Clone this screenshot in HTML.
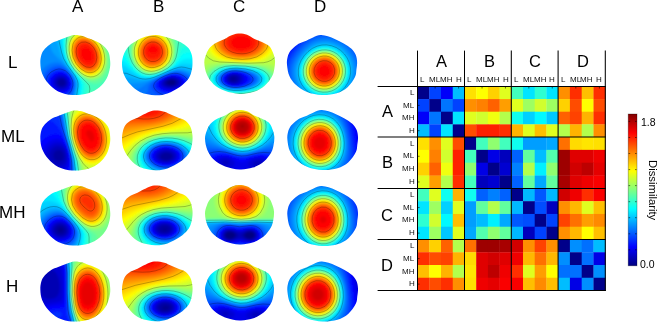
<!DOCTYPE html>
<html><head><meta charset="utf-8"><style>
html,body{margin:0;padding:0;background:#fff;}
body{width:658px;height:323px;position:relative;overflow:hidden;font-family:"Liberation Sans",sans-serif;color:#000;}
.t{position:absolute;line-height:1;white-space:nowrap;will-change:transform;}
</style></head><body>
<svg width="658" height="323" viewBox="0 0 658 323" style="position:absolute;left:0;top:0">
<defs><filter id="bl" x="-10%" y="-10%" width="120%" height="120%"><feGaussianBlur stdDeviation="0.9"/></filter><linearGradient id="cb" x1="0" y1="0" x2="0" y2="1"><stop offset="0.0000" stop-color="#800000"/><stop offset="0.1250" stop-color="#ff0000"/><stop offset="0.2500" stop-color="#ff8000"/><stop offset="0.3750" stop-color="#ffff00"/><stop offset="0.5000" stop-color="#80ff80"/><stop offset="0.6250" stop-color="#00ffff"/><stop offset="0.7500" stop-color="#0080ff"/><stop offset="0.8750" stop-color="#0000ff"/><stop offset="1.0000" stop-color="#000080"/></linearGradient></defs>
<clipPath id="c0"><path d="M74.30 35.00C76.75 34.70 78.15 35.00 80.60 35.60C83.05 36.20 86.08 37.50 89.00 38.60C91.92 39.70 95.59 40.90 98.10 42.20C100.61 43.50 102.30 44.70 104.05 46.40C105.80 48.10 107.61 50.20 108.60 52.40C109.59 54.60 109.77 57.10 110.00 59.60C110.23 62.10 110.58 64.20 110.00 67.40C109.42 70.60 108.25 75.50 106.50 78.80C104.75 82.10 102.53 84.80 99.50 87.20C96.47 89.60 92.73 91.90 88.30 93.20C83.87 94.50 77.92 95.30 72.90 95.00C67.88 94.70 62.28 93.30 58.20 91.40C54.12 89.50 51.08 86.60 48.40 83.60C45.72 80.60 43.44 76.80 42.10 73.40C40.76 70.00 40.47 66.30 40.35 63.20C40.23 60.10 40.64 57.20 41.40 54.80C42.16 52.40 43.27 50.70 44.90 48.80C46.53 46.90 48.98 44.80 51.20 43.40C53.42 42.00 55.75 41.40 58.20 40.40C60.65 39.40 63.22 38.30 65.90 37.40C68.58 36.50 71.85 35.30 74.30 35.00Z"/></clipPath>
<g clip-path="url(#c0)"><g filter="url(#bl)">
<rect x="37.0" y="32.0" width="76.0" height="66.0" fill="#00009b"/>
<path fill-rule="evenodd" fill="#0000b9" d="M113.0 98.1 37.0 98.1 36.9 32.0 113.0 31.9 113.0 98.1ZM62.1 86.3 63.7 85.9 64.7 85.0 65.4 83.7 65.4 82.0 64.7 80.4 63.5 79.3 62.0 78.8 60.3 78.9 59.0 79.5 57.9 80.7 57.4 82.0 57.5 83.3 58.2 84.7 59.3 85.7 60.7 86.2 62.1 86.3Z"/>
<path fill-rule="evenodd" fill="#0000d1" d="M113.0 98.1 37.0 98.1 36.9 32.0 113.0 31.9 113.0 98.1ZM62.2 88.3 64.3 87.8 66.2 86.3 67.2 84.3 67.2 82.0 66.3 79.7 64.7 77.9 62.3 76.9 60.0 76.9 58.0 77.7 56.2 79.3 55.3 81.3 55.2 83.3 56.0 85.3 57.7 87.1 59.7 88.0 62.2 88.3Z"/>
<path fill-rule="evenodd" fill="#0000e8" d="M113.0 98.1 37.0 98.0 37.0 32.0 113.0 31.9 113.0 98.1ZM63.9 89.7 66.4 88.3 68.1 86.0 68.7 83.0 68.0 80.0 66.2 77.3 63.7 75.7 60.7 75.2 57.7 75.9 55.2 77.7 53.8 80.0 53.3 82.7 54.0 85.3 55.7 87.6 58.0 89.2 61.0 89.9 63.9 89.7Z"/>
<path fill-rule="evenodd" fill="#0000ff" d="M113.0 98.1 37.0 98.0 37.0 32.0 113.0 31.9 113.0 98.1ZM63.3 91.3 66.7 90.0 68.8 87.7 69.8 84.3 69.8 82.3 69.3 80.4 67.5 77.0 64.7 74.7 61.3 73.8 58.0 74.2 55.0 75.7 52.7 78.3 51.7 81.3 51.9 84.7 53.5 87.7 56.3 90.0 59.7 91.3 63.3 91.3Z"/>
<path fill-rule="evenodd" fill="#0017ff" d="M113.0 98.1 37.0 98.0 37.0 32.0 113.0 31.9 113.0 98.1ZM64.1 92.7 66.0 92.0 67.7 91.0 69.0 89.6 69.9 88.0 70.6 86.0 70.9 84.0 70.7 81.7 70.1 79.7 68.0 76.0 66.3 74.4 64.7 73.4 62.7 72.6 60.7 72.3 58.7 72.5 56.7 73.1 53.3 75.1 51.9 76.7 50.8 78.3 49.9 82.0 50.5 85.7 52.5 89.0 56.0 91.6 60.0 92.8 64.1 92.7Z"/>
<path fill-rule="evenodd" fill="#002eff" d="M113.0 98.1 37.0 98.0 37.0 32.0 113.0 31.9 113.0 98.1ZM63.3 94.3 65.3 93.9 67.3 92.9 69.0 91.6 70.3 89.8 71.2 87.7 71.7 85.3 71.8 83.0 71.4 80.7 70.6 78.3 69.3 76.2 67.7 74.2 65.7 72.6 63.7 71.6 61.7 71.0 59.7 70.9 57.3 71.2 55.0 72.1 53.0 73.3 51.3 74.7 49.8 76.7 48.8 78.7 48.3 80.7 48.1 83.0 48.5 85.0 49.2 87.0 50.4 89.0 52.0 90.8 54.0 92.3 56.3 93.4 58.7 94.1 63.3 94.3Z"/>
<path fill-rule="evenodd" fill="#0046ff" d="M113.0 98.1 37.0 98.0 37.0 32.0 113.0 31.9 113.0 98.1ZM62.9 96.0 65.3 95.5 67.3 94.7 69.1 93.3 70.7 91.5 71.9 89.0 72.6 86.3 72.7 83.7 72.4 81.0 71.5 78.3 70.0 75.7 68.1 73.3 66.0 71.5 64.0 70.3 61.7 69.6 59.3 69.4 57.0 69.7 54.7 70.4 52.3 71.7 50.2 73.3 48.5 75.3 47.2 77.7 46.5 80.0 46.2 82.7 46.5 85.0 47.3 87.3 48.6 89.7 50.3 91.6 52.3 93.2 54.7 94.5 57.3 95.5 60.0 96.0 62.9 96.0Z"/>
<path fill-rule="evenodd" fill="#005dff" d="M113.0 98.1 37.0 98.0 37.0 32.0 113.0 31.9 113.0 98.1ZM64.2 97.7 66.7 96.9 68.7 95.7 70.5 94.0 72.0 91.5 73.1 88.7 73.6 85.7 73.5 82.7 72.9 79.7 71.7 76.8 69.8 74.0 67.3 71.3 65.0 69.5 62.7 68.3 60.3 67.7 57.7 67.7 55.0 68.3 52.3 69.4 49.7 71.1 47.5 73.3 45.8 75.7 44.7 78.3 44.1 81.0 44.1 83.7 44.7 86.3 45.8 89.0 47.3 91.3 49.3 93.4 52.0 95.3 55.0 96.7 58.0 97.6 61.3 97.9 64.2 97.7Z"/>
<path fill-rule="evenodd" fill="#0074ff" d="M113.0 98.1 68.8 98.0 70.3 96.6 71.7 94.8 72.9 92.3 73.8 89.7 74.5 84.3 74.3 81.7 73.7 79.3 72.7 77.0 71.0 74.3 68.7 71.4 66.3 69.1 62.3 66.5 60.3 65.8 58.0 65.6 55.3 65.8 52.7 66.6 50.0 67.9 47.3 69.8 45.2 72.0 43.6 74.3 42.3 77.0 41.6 79.7 41.4 82.3 41.6 85.0 42.3 87.7 43.5 90.3 45.1 92.7 47.0 94.7 49.3 96.5 51.9 98.0 37.0 98.0 37.0 32.0 113.0 31.9 113.0 98.1Z"/>
<path fill-rule="evenodd" fill="#008bff" d="M113.0 98.0 71.5 98.0 73.9 93.0 75.2 87.3 75.2 82.3 74.0 78.0 72.6 75.3 70.3 72.2 65.0 66.5 60.7 63.6 58.3 62.8 56.0 62.5 53.7 62.7 51.3 63.3 46.7 65.6 42.7 69.0 39.6 73.3 38.2 76.3 37.4 79.7 37.2 83.0 37.7 86.3 38.7 89.7 40.3 92.7 42.3 95.4 45.0 98.0 37.0 98.0 37.0 32.0 113.0 32.0 113.0 98.0Z"/>
<path fill-rule="evenodd" fill="#00a2ff" d="M113.0 98.0 73.5 98.0 75.3 92.0 76.2 86.7 76.1 82.3 75.1 78.7 72.7 74.2 68.0 68.2 62.3 61.9 54.6 54.7 52.3 51.7 51.1 49.3 49.9 46.0 46.3 32.0 113.0 32.0 113.0 98.0Z"/>
<path fill-rule="evenodd" fill="#00b9ff" d="M113.0 98.0 75.1 98.0 77.2 87.0 77.2 83.3 76.6 80.3 75.6 77.7 74.0 75.0 64.8 62.7 61.6 57.0 59.4 51.0 54.8 32.0 113.0 32.0 113.0 98.0Z"/>
<path fill-rule="evenodd" fill="#00d1ff" d="M113.0 98.0 76.6 98.0 78.3 87.0 78.3 83.7 77.8 81.0 75.6 76.3 67.1 64.3 63.9 58.3 62.1 52.7 57.6 32.0 113.0 32.0 113.0 98.0Z"/>
<path fill-rule="evenodd" fill="#00e8ff" d="M113.0 98.0 78.1 98.0 79.5 86.7 79.5 84.0 79.1 81.7 77.1 77.3 68.6 65.3 65.1 58.7 63.2 52.0 61.3 39.6 59.7 32.0 113.0 32.0 113.0 98.0Z"/>
<path fill-rule="evenodd" fill="#00ffff" d="M113.0 98.0 79.6 98.0 80.8 86.7 80.5 82.3 79.6 80.0 78.2 77.7 69.1 65.0 66.1 59.0 64.1 51.7 62.7 38.2 61.5 32.0 113.0 32.0 113.0 98.0Z"/>
<path fill-rule="evenodd" fill="#17ffe8" d="M113.0 98.0 81.3 98.0 82.5 87.0 82.1 83.0 81.3 81.0 79.9 78.7 70.1 65.7 66.8 59.0 65.5 54.7 64.7 50.3 63.9 36.7 63.3 32.0 113.0 32.0 113.0 98.0Z"/>
<path fill-rule="evenodd" fill="#2effd1" d="M113.0 98.0 83.4 98.0 84.7 87.3 84.6 85.3 84.1 83.3 82.1 80.0 74.7 71.1 71.2 66.3 68.4 61.3 66.6 56.3 65.7 52.0 65.2 47.3 65.2 32.0 113.0 32.0 113.0 98.0Z"/>
<path fill-rule="evenodd" fill="#46ffb9" d="M113.0 98.0 87.0 98.0 88.3 88.3 88.2 86.7 87.7 85.0 86.1 82.7 78.0 74.3 73.1 68.3 69.8 63.0 67.5 57.3 66.3 51.7 65.9 46.0 66.2 40.0 67.4 32.0 113.0 32.0 113.0 98.0Z"/>
<path fill-rule="evenodd" fill="#5dffa2" d="M97.3 83.7 94.3 83.9 91.3 83.2 88.0 81.7 84.7 79.5 80.7 76.1 76.3 71.6 73.0 67.3 70.5 63.3 68.8 59.7 67.6 56.0 66.9 52.0 66.5 47.7 66.6 43.3 67.2 39.3 68.2 35.3 69.6 32.0 98.9 32.0 103.1 36.7 106.5 42.0 109.2 48.0 110.9 54.7 111.5 61.3 110.8 68.0 108.9 73.7 107.4 76.3 105.7 78.7 103.7 80.6 101.7 82.1 99.3 83.2 97.3 83.7Z"/>
<path fill-rule="evenodd" fill="#74ff8b" d="M94.3 81.0 91.3 81.0 88.3 80.2 85.3 78.8 82.3 76.7 78.7 73.4 75.0 69.3 72.2 65.3 70.2 61.7 68.7 58.0 67.7 54.0 67.2 49.7 67.2 45.3 67.6 41.3 68.6 37.7 70.0 34.5 71.8 32.0 94.1 32.0 97.3 34.6 100.5 38.0 103.1 41.7 105.2 45.7 107.3 51.3 108.4 57.7 108.3 63.3 107.3 68.7 105.2 73.3 102.3 77.0 98.3 79.8 94.3 81.0Z"/>
<path fill-rule="evenodd" fill="#8bff74" d="M94.7 79.3 91.7 79.6 88.7 79.2 85.3 77.8 82.3 75.9 78.7 72.7 75.3 69.0 72.5 65.0 70.4 61.0 68.9 57.0 68.0 52.7 67.7 48.3 67.9 44.0 68.7 40.0 70.0 36.7 71.7 34.1 73.9 32.0 91.3 32.0 95.0 34.4 98.7 38.0 101.7 42.0 104.2 46.7 106.1 52.0 107.0 57.3 107.0 62.3 106.1 67.3 104.3 71.7 101.7 75.3 98.3 77.9 94.7 79.3Z"/>
<path fill-rule="evenodd" fill="#a2ff5d" d="M93.7 78.3 90.7 78.5 87.3 77.8 84.3 76.4 81.0 74.1 77.4 70.7 74.4 67.0 72.0 63.3 70.2 59.3 68.9 55.0 68.3 50.7 68.3 46.3 68.8 42.3 69.9 39.0 71.5 36.0 73.7 33.6 76.2 32.0 88.8 32.0 92.0 33.6 95.7 36.3 99.1 40.0 102.0 44.3 104.2 49.0 105.6 54.0 106.1 59.0 105.9 63.7 104.8 68.0 102.8 72.0 100.3 74.9 97.3 77.1 93.7 78.3Z"/>
<path fill-rule="evenodd" fill="#b9ff46" d="M93.3 77.4 90.3 77.5 87.0 76.8 84.0 75.4 80.7 73.1 77.3 69.9 74.3 66.2 72.0 62.3 70.3 58.3 69.2 54.0 68.7 49.7 68.9 45.3 69.6 41.7 71.0 38.4 72.9 35.7 75.3 33.6 78.0 32.4 79.2 32.0 85.7 32.0 89.3 33.2 93.0 35.3 96.3 38.1 99.4 41.7 101.9 45.7 103.7 50.0 104.9 54.7 105.3 59.3 105.0 63.7 103.9 67.7 102.1 71.3 99.7 74.2 96.7 76.3 93.3 77.4Z"/>
<path fill-rule="evenodd" fill="#d1ff2e" d="M92.0 76.7 89.0 76.6 86.0 75.7 83.0 74.1 79.7 71.6 76.7 68.5 74.0 65.0 72.0 61.3 70.6 57.7 69.6 53.7 69.2 49.3 69.5 45.3 70.3 41.7 71.7 38.7 73.7 36.1 76.0 34.3 78.7 33.1 82.0 32.5 85.7 32.9 89.3 34.1 93.0 36.2 96.3 39.1 99.3 42.7 101.6 46.7 103.3 51.0 104.3 55.3 104.6 60.0 104.1 64.3 102.8 68.3 100.8 71.7 98.3 74.1 95.3 75.9 92.0 76.7Z"/>
<path fill-rule="evenodd" fill="#e8ff17" d="M93.0 75.7 90.0 75.9 87.0 75.3 84.0 74.0 81.0 72.0 78.0 69.3 75.3 66.0 73.0 62.4 71.4 58.7 70.3 54.7 69.8 50.7 69.8 46.7 70.5 43.0 71.7 40.0 73.6 37.3 75.7 35.5 78.3 34.1 81.7 33.4 85.0 33.5 88.7 34.6 92.0 36.4 95.3 39.0 98.2 42.3 100.5 46.0 102.3 50.0 103.5 54.3 103.9 58.7 103.6 63.0 102.6 66.7 101.0 70.0 98.8 72.7 96.0 74.6 93.0 75.7Z"/>
<path fill-rule="evenodd" fill="#ffff00" d="M92.3 75.0 89.7 75.1 86.7 74.5 83.7 73.2 80.7 71.1 77.7 68.2 75.1 65.0 73.1 61.7 71.6 58.0 70.7 54.3 70.2 50.3 70.4 46.3 71.2 43.0 72.5 40.0 74.3 37.7 76.3 36.0 79.0 34.7 82.3 34.1 85.7 34.4 89.0 35.5 92.3 37.4 95.3 39.9 98.0 43.1 100.2 46.7 101.9 50.7 102.9 54.7 103.3 59.0 102.9 63.0 101.9 66.7 100.3 69.7 98.0 72.3 95.3 74.1 92.3 75.0Z"/>
<path fill-rule="evenodd" fill="#ffe800" d="M91.7 74.3 89.0 74.3 86.0 73.6 83.0 72.1 80.3 70.1 77.7 67.5 75.3 64.5 73.3 61.0 72.0 57.7 71.1 54.0 70.7 50.3 70.9 46.7 71.7 43.5 72.9 40.7 74.7 38.3 76.7 36.7 79.3 35.4 82.3 34.9 85.7 35.2 89.0 36.3 92.3 38.2 95.3 40.8 97.9 44.0 100.0 47.6 101.5 51.3 102.4 55.3 102.6 59.3 102.2 63.3 101.1 66.7 99.4 69.7 97.3 71.9 94.7 73.5 91.7 74.3Z"/>
<path fill-rule="evenodd" fill="#ffd100" d="M90.7 73.7 88.0 73.5 85.3 72.6 82.4 71.0 79.7 68.8 77.0 66.0 75.0 63.1 73.4 60.0 72.2 56.7 71.5 53.0 71.3 49.7 71.6 46.3 72.4 43.3 73.7 40.7 75.3 38.7 77.6 37.0 80.0 36.0 83.0 35.6 86.0 36.0 89.3 37.2 92.3 39.0 95.3 41.7 97.7 44.7 99.7 48.2 101.1 52.0 101.9 56.0 102.0 59.7 101.5 63.3 100.3 66.8 98.7 69.4 96.3 71.7 93.7 73.1 90.7 73.7Z"/>
<path fill-rule="evenodd" fill="#ffb900" d="M92.3 72.7 89.7 72.9 87.0 72.5 84.3 71.5 81.7 69.8 79.0 67.4 76.7 64.7 74.8 61.7 73.3 58.5 72.3 55.1 71.9 51.7 71.9 48.3 72.5 45.0 73.5 42.3 75.1 40.0 77.0 38.3 79.3 37.1 82.0 36.4 85.0 36.5 88.0 37.3 91.0 38.9 93.8 41.0 96.2 43.7 98.3 46.9 99.9 50.3 100.9 54.0 101.4 57.7 101.2 61.3 100.4 64.7 99.0 67.7 97.3 69.8 95.0 71.6 92.3 72.7Z"/>
<path fill-rule="evenodd" fill="#ffa200" d="M91.3 72.1 89.0 72.1 86.3 71.6 83.7 70.4 81.2 68.7 78.7 66.3 76.7 63.8 75.0 61.0 73.6 57.7 72.7 54.3 72.4 51.0 72.5 48.0 73.2 45.0 74.3 42.4 75.8 40.3 77.7 38.8 80.0 37.7 82.7 37.2 85.7 37.4 88.6 38.3 91.3 39.9 94.0 42.1 96.3 44.9 98.2 48.0 99.6 51.3 100.4 54.7 100.8 58.3 100.5 61.7 99.6 65.0 98.1 67.7 96.3 69.7 94.0 71.2 91.3 72.1Z"/>
<path fill-rule="evenodd" fill="#ff8b00" d="M90.3 71.3 88.0 71.2 85.3 70.4 83.0 69.2 80.7 67.4 78.3 65.0 76.6 62.7 75.0 59.7 73.9 56.7 73.2 53.7 73.0 50.3 73.3 47.3 74.0 44.8 75.0 42.7 76.7 40.6 78.4 39.3 80.7 38.3 83.3 38.0 86.3 38.3 89.0 39.3 91.7 41.0 94.3 43.3 96.3 46.0 98.0 49.0 99.3 52.3 99.9 55.7 100.1 59.0 99.6 62.3 98.7 65.2 97.1 67.7 95.3 69.4 93.0 70.7 90.3 71.3Z"/>
<path fill-rule="evenodd" fill="#ff7400" d="M91.0 70.4 88.7 70.4 86.3 70.0 84.0 68.9 81.7 67.4 79.5 65.3 77.6 63.0 76.0 60.3 74.7 57.3 74.0 54.3 73.7 51.3 73.8 48.7 74.4 46.0 75.3 43.8 76.7 41.9 78.4 40.3 80.5 39.3 83.0 38.8 85.7 39.0 88.3 39.9 90.9 41.3 93.3 43.3 95.3 45.8 97.0 48.5 98.3 51.6 99.1 54.7 99.4 58.0 99.1 61.0 98.3 63.9 97.1 66.3 95.3 68.3 93.3 69.6 91.0 70.4Z"/>
<path fill-rule="evenodd" fill="#ff5d00" d="M91.0 69.4 89.0 69.5 86.7 69.1 84.6 68.3 82.3 66.9 80.2 65.0 78.3 62.8 76.8 60.3 75.6 57.7 74.8 54.7 74.4 52.0 74.5 49.3 75.0 46.8 76.0 44.4 77.2 42.7 78.7 41.3 80.7 40.3 83.0 39.8 85.3 39.9 88.0 40.7 90.3 41.9 92.7 43.8 94.6 46.0 96.3 48.7 97.4 51.3 98.3 54.3 98.6 57.3 98.4 60.3 97.8 63.0 96.6 65.3 95.0 67.3 93.0 68.7 91.0 69.4Z"/>
<path fill-rule="evenodd" fill="#ff4600" d="M90.3 68.3 88.3 68.4 86.3 68.0 84.3 67.1 82.2 65.7 78.7 61.8 76.2 57.0 75.6 54.3 75.3 51.7 76.0 47.0 76.9 45.0 78.0 43.4 79.7 42.1 81.3 41.3 83.3 40.9 85.7 41.0 88.0 41.8 90.3 43.1 92.3 44.7 94.2 47.0 95.7 49.3 96.8 52.0 97.5 54.7 97.7 57.7 97.5 60.3 96.8 62.7 95.8 64.7 94.3 66.4 92.5 67.7 90.3 68.3Z"/>
<path fill-rule="evenodd" fill="#ff2e00" d="M89.7 67.0 87.8 67.0 86.0 66.5 82.3 64.3 79.1 60.7 77.1 56.3 76.4 51.7 77.0 47.6 77.9 45.7 79.0 44.3 80.3 43.3 82.0 42.5 84.0 42.2 86.0 42.4 88.0 43.1 90.2 44.3 92.0 45.9 93.7 48.0 95.9 52.7 96.6 57.7 96.3 60.2 95.7 62.3 94.7 64.1 93.1 65.7 91.3 66.6 89.7 67.0Z"/>
<path fill-rule="evenodd" fill="#ff1700" d="M90.0 65.1 86.9 65.0 83.6 63.3 80.7 60.3 78.7 56.7 77.9 52.7 78.3 49.0 79.9 46.0 82.3 44.4 84.0 44.0 85.7 44.1 87.6 44.7 89.3 45.6 92.3 48.6 94.3 52.3 95.1 56.3 94.7 60.3 92.9 63.3 91.7 64.4 90.0 65.1Z"/>
<path fill-rule="evenodd" fill="#ff0000" d="M89.3 61.1 87.3 61.2 85.3 60.3 83.3 58.4 82.0 56.2 81.3 53.7 81.3 51.1 82.3 49.0 83.7 48.0 85.7 47.7 87.8 48.3 89.8 50.0 91.3 52.3 92.1 55.0 92.0 57.9 91.0 60.0 89.3 61.1Z"/>
</g>
<path fill="none" stroke="#000" stroke-opacity="0.55" stroke-width="0.45" d="M63.7 96.3 66.3 95.6 68.3 94.5 71.3 90.9 72.9 85.7 72.9 82.7 72.3 80.0 69.7 74.8 65.3 70.7 61.0 69.1 58.7 69.0 56.0 69.5 51.0 72.0 47.5 76.0 45.9 80.7 46.2 85.7 48.5 90.3 52.7 94.0 58.0 96.1 63.7 96.3"/>
<path fill="none" stroke="#000" stroke-opacity="0.55" stroke-width="0.45" d="M76.3 98.0 78.0 86.7 78.0 83.3 77.5 80.7 75.2 76.0 66.8 64.3 63.5 58.3 61.6 52.3 57.0 32.0"/>
<path fill="none" stroke="#000" stroke-opacity="0.55" stroke-width="0.45" d="M88.5 98.0 89.9 89.0 89.3 85.7 87.5 83.3 78.7 74.8 74.0 69.3 70.3 63.7 67.7 57.7 66.4 52.0 66.0 45.7 66.5 39.3 67.9 32.0"/>
<path fill="none" stroke="#000" stroke-opacity="0.55" stroke-width="0.45" d="M93.3 76.7 90.3 76.9 87.3 76.4 84.3 75.1 81.0 72.9 77.7 69.8 74.8 66.3 72.5 62.7 70.8 58.7 69.7 54.7 69.1 50.3 69.2 46.0 69.9 42.3 71.3 39.0 73.0 36.5 75.3 34.4 78.0 33.1 81.3 32.4 85.0 32.5 88.7 33.6 92.3 35.5 95.7 38.2 98.8 41.7 101.3 45.7 103.2 50.0 104.3 54.3 104.8 59.0 104.5 63.3 103.4 67.3 101.7 70.8 99.3 73.6 96.7 75.5 93.3 76.7"/>
<path fill="none" stroke="#000" stroke-opacity="0.55" stroke-width="0.45" d="M91.0 72.7 88.3 72.6 85.7 71.9 80.5 68.7 76.0 63.5 73.0 57.1 72.0 50.3 72.9 44.3 74.0 41.9 75.7 39.7 77.7 38.1 80.0 37.0 83.0 36.6 86.0 36.9 89.0 37.9 91.9 39.7 94.7 42.1 97.0 45.0 98.9 48.3 100.2 51.7 101.0 55.3 101.3 59.0 100.9 62.3 99.9 65.7 98.3 68.4 96.3 70.5 93.8 72.0 91.0 72.7"/>
<path fill="none" stroke="#000" stroke-opacity="0.55" stroke-width="0.45" d="M90.0 67.4 86.3 67.0 82.7 65.0 79.3 61.5 77.0 56.9 76.1 52.0 76.6 47.7 78.7 44.1 81.7 42.2 85.7 42.0 90.0 43.8 93.5 47.3 96.0 52.0 96.9 57.3 96.0 62.3 93.7 65.7 92.0 66.8 90.0 67.4"/>
</g>
<clipPath id="c1"><path d="M74.30 110.50C76.75 110.20 78.15 110.50 80.60 111.10C83.05 111.70 86.08 113.00 89.00 114.10C91.92 115.20 95.59 116.40 98.10 117.70C100.61 119.00 102.30 120.20 104.05 121.90C105.80 123.60 107.61 125.70 108.60 127.90C109.59 130.10 109.77 132.60 110.00 135.10C110.23 137.60 110.58 139.70 110.00 142.90C109.42 146.10 108.25 151.00 106.50 154.30C104.75 157.60 102.53 160.30 99.50 162.70C96.47 165.10 92.73 167.40 88.30 168.70C83.87 170.00 77.92 170.80 72.90 170.50C67.88 170.20 62.28 168.80 58.20 166.90C54.12 165.00 51.08 162.10 48.40 159.10C45.72 156.10 43.44 152.30 42.10 148.90C40.76 145.50 40.47 141.80 40.35 138.70C40.23 135.60 40.64 132.70 41.40 130.30C42.16 127.90 43.27 126.20 44.90 124.30C46.53 122.40 48.98 120.30 51.20 118.90C53.42 117.50 55.75 116.90 58.20 115.90C60.65 114.90 63.22 113.80 65.90 112.90C68.58 112.00 71.85 110.80 74.30 110.50Z"/></clipPath>
<g clip-path="url(#c1)"><g filter="url(#bl)">
<rect x="37.0" y="107.5" width="76.0" height="66.0" fill="#0000a0"/>
<path fill-rule="evenodd" fill="#0000b9" d="M113.0 173.6 37.0 173.5 37.0 107.5 113.0 107.4 113.0 173.6ZM60.4 161.2 62.2 160.2 63.3 158.6 63.8 156.5 63.5 154.2 62.6 152.2 61.0 150.6 59.3 149.9 57.3 150.1 55.3 151.2 54.0 152.8 53.3 154.8 53.5 157.2 54.6 159.2 56.2 160.5 58.3 161.3 60.4 161.2Z"/>
<path fill-rule="evenodd" fill="#0000d1" d="M113.0 173.6 37.0 173.5 37.0 107.5 113.0 107.4 113.0 173.6ZM61.1 165.2 62.7 164.6 64.0 163.7 65.6 161.2 66.2 157.5 65.7 153.5 64.3 149.8 62.0 147.1 59.3 146.0 56.3 146.1 53.0 147.8 50.5 150.5 49.2 154.2 49.4 157.8 51.0 161.2 53.8 163.8 57.3 165.2 59.3 165.4 61.1 165.2Z"/>
<path fill-rule="evenodd" fill="#0000e8" d="M113.0 173.6 37.0 173.5 37.0 107.5 113.0 107.4 113.0 173.6ZM60.5 168.8 62.7 168.3 64.3 167.5 65.7 166.3 66.6 164.8 67.3 162.8 67.7 160.5 67.5 155.2 66.0 149.8 64.7 147.1 63.3 145.1 62.0 143.8 60.3 142.9 58.3 142.5 56.3 142.6 54.0 143.2 51.7 144.4 49.7 145.9 47.9 147.8 46.6 150.2 45.8 152.5 45.5 154.8 45.6 157.5 46.2 159.8 47.3 162.2 48.7 164.2 50.7 166.0 53.0 167.4 55.3 168.3 58.0 168.9 60.5 168.8Z"/>
<path fill-rule="evenodd" fill="#0000ff" d="M113.0 173.6 37.0 173.5 37.0 107.5 113.0 107.4 113.0 173.6ZM61.2 172.5 63.3 172.0 65.3 170.9 66.7 169.5 67.8 167.5 68.6 164.8 68.9 161.5 68.9 158.2 68.4 154.5 67.3 150.5 66.0 147.0 64.7 144.3 63.0 141.8 61.3 140.2 59.7 139.3 57.3 138.8 55.0 139.0 52.0 139.9 49.0 141.5 46.3 143.8 44.4 146.2 42.8 149.2 41.8 152.2 41.5 155.2 41.8 158.5 42.6 161.5 44.2 164.5 46.3 167.2 48.7 169.2 51.7 171.0 54.7 172.1 58.0 172.6 61.2 172.5Z"/>
<path fill-rule="evenodd" fill="#0017ff" d="M113.0 173.6 67.6 173.5 69.2 169.5 69.9 164.2 69.7 158.2 68.7 152.5 66.7 146.2 63.7 139.8 61.0 136.3 59.7 135.3 58.0 134.5 55.3 134.1 52.0 134.7 48.3 136.1 45.1 138.2 42.3 140.7 40.0 143.5 38.2 146.8 37.0 150.2 37.0 107.5 113.0 107.4 113.0 173.6ZM46.0 173.5 37.0 173.5 37.0 160.8 38.3 164.5 40.3 167.8 42.8 170.8 46.0 173.5Z"/>
<path fill-rule="evenodd" fill="#002eff" d="M113.0 173.6 70.2 173.5 70.8 163.8 70.0 155.4 67.3 145.9 62.7 134.8 60.0 130.0 56.7 125.5 53.7 122.5 50.7 120.7 48.0 120.2 45.0 120.6 41.3 122.0 37.0 124.4 37.0 107.5 113.0 107.4 113.0 173.6Z"/>
<path fill-rule="evenodd" fill="#0046ff" d="M113.0 173.6 71.6 173.5 71.5 162.2 70.3 154.2 68.3 147.0 61.2 125.5 59.5 118.8 57.3 107.5 113.1 107.5 113.0 173.6Z"/>
<path fill-rule="evenodd" fill="#005dff" d="M113.0 173.6 72.7 173.5 72.1 162.5 71.1 155.5 69.7 149.6 63.8 130.2 59.2 107.5 113.1 107.5 113.0 173.6Z"/>
<path fill-rule="evenodd" fill="#0074ff" d="M113.0 173.6 73.5 173.5 72.7 162.5 71.8 156.2 65.2 132.5 60.4 107.5 113.1 107.5 113.0 173.6Z"/>
<path fill-rule="evenodd" fill="#008bff" d="M113.0 173.6 74.2 173.5 73.3 162.8 72.4 156.8 66.2 133.8 61.3 107.5 113.1 107.5 113.0 173.6Z"/>
<path fill-rule="evenodd" fill="#00a2ff" d="M113.0 173.6 74.8 173.5 73.0 157.8 66.9 134.5 62.0 107.5 113.1 107.5 113.0 173.6Z"/>
<path fill-rule="evenodd" fill="#00b9ff" d="M113.0 173.6 75.4 173.5 73.6 158.5 67.5 135.5 62.7 107.5 113.1 107.5 113.0 173.6Z"/>
<path fill-rule="evenodd" fill="#00d1ff" d="M113.0 173.6 76.0 173.5 74.2 159.2 68.1 136.2 63.3 107.5 113.1 107.5 113.0 173.6Z"/>
<path fill-rule="evenodd" fill="#00e8ff" d="M113.0 173.5 76.5 173.5 74.5 158.5 69.8 141.5 68.2 134.5 63.9 107.5 113.0 107.5 113.0 173.5Z"/>
<path fill-rule="evenodd" fill="#00ffff" d="M113.0 173.5 77.0 173.5 75.1 159.2 70.2 141.8 68.7 135.2 66.3 118.2 64.4 107.5 113.0 107.5 113.0 173.5Z"/>
<path fill-rule="evenodd" fill="#17ffe8" d="M113.0 173.5 77.6 173.5 75.6 159.5 70.8 142.8 69.1 135.5 66.7 117.5 65.0 107.5 113.0 107.5 113.0 173.5Z"/>
<path fill-rule="evenodd" fill="#2effd1" d="M113.0 173.5 78.2 173.5 76.2 160.2 71.3 143.2 69.5 135.8 67.2 116.8 65.6 107.5 113.0 107.5 113.0 173.5Z"/>
<path fill-rule="evenodd" fill="#46ffb9" d="M113.0 173.5 78.8 173.5 76.9 160.8 71.8 143.8 70.0 136.2 69.0 129.5 67.7 116.5 66.2 107.5 113.0 107.5 113.0 173.5Z"/>
<path fill-rule="evenodd" fill="#5dffa2" d="M113.0 173.5 79.5 173.5 77.8 161.8 72.3 144.6 70.4 136.5 69.3 129.5 68.2 115.5 66.9 107.5 113.0 107.5 113.0 173.5Z"/>
<path fill-rule="evenodd" fill="#74ff8b" d="M113.0 173.5 80.3 173.5 79.5 166.5 78.6 162.5 73.0 145.7 70.7 136.5 69.6 128.8 68.8 114.8 67.7 107.5 113.0 107.5 113.0 173.5Z"/>
<path fill-rule="evenodd" fill="#8bff74" d="M113.0 173.5 81.3 173.5 80.6 167.5 79.8 163.8 73.7 146.7 71.1 136.8 70.1 129.2 69.5 114.5 68.6 107.5 113.0 107.5 113.0 173.5Z"/>
<path fill-rule="evenodd" fill="#a2ff5d" d="M113.0 173.5 82.8 173.5 82.3 168.8 81.5 165.5 74.7 148.6 72.8 142.5 71.5 137.2 70.4 127.8 70.4 113.2 69.9 107.5 113.0 107.5 113.0 173.5Z"/>
<path fill-rule="evenodd" fill="#b9ff46" d="M113.0 173.5 85.6 173.5 85.2 170.5 84.5 168.2 79.0 157.8 75.7 150.2 73.5 143.8 72.0 137.8 71.0 131.5 70.7 125.2 72.1 107.5 113.0 107.5 113.0 173.5Z"/>
<path fill-rule="evenodd" fill="#d1ff2e" d="M96.7 168.5 93.3 168.8 90.0 168.1 87.0 166.5 84.3 164.2 81.7 160.9 79.0 156.5 76.7 151.6 74.3 145.3 72.7 139.3 71.7 133.8 71.2 128.2 71.3 122.8 72.0 117.7 73.1 113.5 74.7 110.2 76.9 107.5 96.7 107.6 101.3 111.1 105.5 115.8 108.8 121.2 111.4 127.5 113.0 134.0 113.0 147.9 111.4 153.8 108.9 159.2 105.3 163.7 101.3 166.7 96.7 168.5Z"/>
<path fill-rule="evenodd" fill="#e8ff17" d="M94.3 165.5 90.7 165.4 87.3 164.3 84.3 162.3 81.7 159.4 79.0 155.3 76.3 149.7 74.1 143.2 72.6 137.2 71.8 131.5 71.7 126.2 72.1 121.2 73.2 116.8 74.9 113.5 77.0 111.1 80.0 109.2 83.3 108.1 87.3 107.9 91.7 108.8 96.0 110.8 100.0 113.8 103.6 117.8 106.6 122.5 108.8 127.8 110.3 133.2 111.0 138.8 110.8 144.5 109.8 149.8 107.9 154.8 105.1 159.2 102.0 162.3 98.3 164.5 94.3 165.5Z"/>
<path fill-rule="evenodd" fill="#ffff00" d="M95.0 163.5 91.3 163.8 88.0 163.0 85.0 161.4 82.3 158.9 79.7 155.3 77.3 150.9 75.0 144.9 73.3 138.8 72.4 133.2 72.1 127.8 72.5 122.8 73.5 118.8 75.0 115.7 77.3 113.0 80.0 111.2 83.3 110.0 87.3 109.8 91.3 110.5 95.3 112.3 99.0 115.0 102.2 118.5 105.1 122.8 107.2 127.5 108.8 132.8 109.5 138.2 109.5 143.2 108.6 148.5 107.1 152.8 104.8 156.8 102.0 160.0 98.7 162.3 95.0 163.5Z"/>
<path fill-rule="evenodd" fill="#ffe800" d="M94.3 162.2 91.0 162.3 87.7 161.5 84.7 159.8 82.0 157.3 79.3 153.6 77.0 149.0 75.0 143.6 73.6 138.2 72.8 133.2 72.6 128.2 73.0 123.5 74.0 119.8 75.5 116.8 77.7 114.4 80.3 112.6 83.7 111.4 87.3 111.2 91.3 111.9 95.0 113.6 98.5 116.2 101.6 119.5 104.2 123.5 106.3 128.2 107.8 133.2 108.4 138.2 108.4 143.2 107.6 147.8 106.0 152.2 103.9 155.8 101.0 159.0 98.0 161.0 94.3 162.2Z"/>
<path fill-rule="evenodd" fill="#ffd100" d="M92.0 161.2 88.7 160.7 85.7 159.4 83.0 157.3 80.7 154.5 78.3 150.6 76.3 146.1 74.7 141.0 73.5 135.5 73.1 130.8 73.2 126.5 73.8 122.8 75.0 119.6 76.7 117.0 79.0 114.8 81.7 113.4 84.7 112.5 88.3 112.5 92.0 113.4 95.7 115.3 99.0 118.1 102.0 121.7 104.4 125.8 106.2 130.5 107.2 135.2 107.6 140.2 107.1 145.2 106.0 149.5 104.1 153.5 101.7 156.8 98.7 159.2 95.3 160.7 92.0 161.2Z"/>
<path fill-rule="evenodd" fill="#ffb900" d="M94.0 159.8 90.7 160.0 87.7 159.2 85.0 157.8 82.3 155.5 80.0 152.4 77.7 148.0 75.9 143.5 74.5 138.5 73.7 133.5 73.6 129.2 74.0 125.2 74.9 121.8 76.5 118.8 78.6 116.5 81.1 114.8 84.0 113.8 87.3 113.5 90.7 114.1 94.0 115.5 97.3 117.8 100.2 120.8 102.7 124.5 104.6 128.5 106.0 133.2 106.6 137.5 106.6 142.2 105.9 146.5 104.6 150.5 102.7 153.9 100.1 156.8 97.3 158.7 94.0 159.8Z"/>
<path fill-rule="evenodd" fill="#ffa200" d="M93.3 158.8 90.3 158.9 87.3 158.0 84.7 156.5 82.2 154.2 80.0 151.2 78.0 147.5 76.2 142.8 74.9 137.8 74.2 133.5 74.1 129.5 74.5 125.8 75.5 122.5 77.0 119.7 79.0 117.5 81.5 115.8 84.3 114.9 87.7 114.6 91.0 115.3 94.3 116.8 97.3 119.1 100.0 122.0 102.3 125.6 104.1 129.5 105.3 133.8 105.9 138.2 105.8 142.5 105.0 146.8 103.6 150.5 101.7 153.7 99.3 156.2 96.3 158.0 93.3 158.8Z"/>
<path fill-rule="evenodd" fill="#ff8b00" d="M92.7 157.8 89.7 157.7 87.0 156.8 84.3 155.1 82.0 152.8 80.0 150.0 78.0 146.1 76.3 141.6 75.3 137.2 74.7 132.8 74.7 129.2 75.2 125.8 76.2 122.8 77.7 120.4 79.8 118.2 82.3 116.6 85.0 115.8 88.0 115.7 91.3 116.4 94.3 117.9 97.3 120.3 99.9 123.2 102.0 126.7 103.6 130.5 104.6 134.5 105.1 138.8 104.9 142.8 104.1 146.8 102.7 150.2 100.8 153.2 98.3 155.6 95.7 157.1 92.7 157.8Z"/>
<path fill-rule="evenodd" fill="#ff7400" d="M93.7 156.6 90.7 156.8 88.0 156.2 85.3 154.8 83.1 152.8 81.0 150.2 79.0 146.8 77.3 142.7 76.1 138.5 75.4 134.5 75.3 130.5 75.7 127.2 76.6 124.2 78.0 121.5 79.8 119.5 82.0 118.0 84.7 117.0 87.7 116.7 90.7 117.3 93.7 118.6 96.2 120.5 98.7 123.0 100.8 126.2 102.5 129.8 103.6 133.5 104.2 137.5 104.2 141.5 103.6 145.2 102.5 148.5 100.8 151.5 98.8 153.8 96.3 155.6 93.7 156.6Z"/>
<path fill-rule="evenodd" fill="#ff5d00" d="M93.0 155.5 90.3 155.6 88.0 155.0 85.7 153.8 83.3 151.8 81.3 149.3 79.3 145.8 77.7 141.8 76.7 138.0 76.1 134.2 76.0 130.8 76.3 127.8 77.3 124.8 78.7 122.3 80.3 120.5 82.7 118.9 85.0 118.1 87.7 117.9 90.7 118.4 93.3 119.6 95.9 121.5 98.3 124.1 100.2 126.8 101.7 130.2 102.8 133.8 103.4 137.5 103.4 141.2 102.8 144.8 101.7 148.0 100.0 150.9 98.0 153.1 95.7 154.7 93.0 155.5Z"/>
<path fill-rule="evenodd" fill="#ff4600" d="M93.3 154.2 91.0 154.4 88.3 153.9 86.0 152.7 84.0 151.1 82.0 148.7 80.3 145.8 78.7 142.2 77.5 138.5 76.9 135.2 76.8 131.8 77.0 128.8 77.8 126.2 79.0 123.7 80.7 121.7 82.7 120.3 85.0 119.3 87.7 119.1 90.3 119.5 92.7 120.5 95.1 122.2 97.3 124.4 99.3 127.2 100.8 130.2 101.8 133.5 102.4 136.8 102.5 140.5 102.0 143.8 101.1 146.8 99.7 149.5 98.0 151.5 95.9 153.2 93.3 154.2Z"/>
<path fill-rule="evenodd" fill="#ff2e00" d="M92.7 152.9 90.3 152.9 88.3 152.4 86.0 151.2 84.1 149.5 82.3 147.3 80.7 144.5 79.3 141.3 78.3 137.8 77.7 131.8 78.0 129.2 78.8 126.5 80.0 124.4 81.7 122.6 83.7 121.3 85.7 120.6 88.0 120.5 90.3 120.9 92.7 121.9 95.0 123.6 97.0 125.7 98.7 128.2 100.0 131.2 101.0 134.5 101.4 137.5 101.4 140.8 100.9 143.8 100.0 146.5 98.6 148.8 96.8 150.8 94.8 152.2 92.7 152.9Z"/>
<path fill-rule="evenodd" fill="#ff1700" d="M92.0 151.2 90.0 151.1 88.0 150.5 86.0 149.2 84.3 147.6 81.3 143.0 79.3 137.0 78.9 131.8 79.3 129.5 80.0 127.4 81.0 125.6 82.3 124.1 84.0 123.0 86.0 122.3 88.0 122.1 90.3 122.5 92.7 123.6 94.7 125.2 96.4 127.2 97.9 129.5 99.0 131.9 99.8 134.8 100.2 137.8 100.1 140.5 99.7 143.2 98.7 145.8 97.3 148.0 95.9 149.5 94.0 150.6 92.0 151.2Z"/>
<path fill-rule="evenodd" fill="#ff0000" d="M92.7 148.5 91.0 148.7 89.3 148.4 87.7 147.7 86.2 146.5 83.3 142.7 81.3 137.8 80.7 133.2 81.3 129.4 82.3 127.5 83.3 126.2 84.7 125.2 86.3 124.6 88.0 124.4 90.0 124.7 93.3 126.6 96.1 129.8 97.9 134.2 98.5 138.8 97.7 143.3 95.7 146.6 94.3 147.8 92.7 148.5Z"/>
<path fill-rule="evenodd" fill="#e80000" d="M92.7 141.2 91.3 141.4 90.0 140.6 86.7 135.2 86.1 133.5 86.2 132.2 86.7 131.1 87.7 130.2 89.3 130.0 91.0 130.6 92.4 131.8 93.6 133.8 94.2 136.2 94.3 138.2 93.7 140.1 92.7 141.2Z"/>
</g>
<path fill="none" stroke="#000" stroke-opacity="0.55" stroke-width="0.45" d="M71.9 173.5 71.7 162.6 70.7 155.1 69.0 148.7 61.8 126.2 57.9 107.5"/>
<path fill="none" stroke="#000" stroke-opacity="0.55" stroke-width="0.45" d="M75.8 173.5 74.0 158.8 67.9 135.5 63.2 107.5"/>
<path fill="none" stroke="#000" stroke-opacity="0.55" stroke-width="0.45" d="M79.0 173.5 77.2 161.2 72.0 144.2 70.0 136.2 67.8 116.2 66.4 107.5"/>
<path fill="none" stroke="#000" stroke-opacity="0.55" stroke-width="0.45" d="M113.0 155.2 110.5 160.5 107.0 165.1 103.0 168.3 98.7 170.3 94.7 170.7 90.7 169.8 87.0 167.5 83.3 163.7 79.3 157.5 76.0 150.2 73.3 142.2 71.6 134.2 71.1 126.5 71.5 119.2 73.0 112.6 75.3 107.5M100.1 107.5 104.1 111.2 107.8 115.8 110.8 121.2 113.0 126.7"/>
<path fill="none" stroke="#000" stroke-opacity="0.55" stroke-width="0.45" d="M94.0 159.6 90.7 159.7 87.7 159.0 85.0 157.5 82.3 155.2 80.0 152.1 78.0 148.5 76.0 143.5 74.7 138.6 73.9 133.8 73.7 129.5 74.1 125.5 75.0 122.2 76.6 119.2 78.6 116.8 81.1 115.2 84.0 114.1 87.3 113.8 90.7 114.4 94.0 115.8 97.3 118.1 100.2 121.2 102.6 124.8 104.5 128.8 105.8 133.2 106.4 137.8 106.4 142.2 105.7 146.5 104.3 150.5 102.4 153.8 100.0 156.5 97.0 158.6 94.0 159.6"/>
<path fill="none" stroke="#000" stroke-opacity="0.55" stroke-width="0.45" d="M93.0 153.2 90.7 153.3 88.4 152.8 84.3 150.2 80.7 145.0 78.1 138.2 77.5 131.8 78.5 126.5 79.7 124.3 81.3 122.4 83.3 121.0 85.3 120.3 87.7 120.1 90.3 120.5 92.7 121.5 95.0 123.2 98.8 127.8 101.1 133.8 101.7 140.5 100.3 146.4 99.0 148.9 97.3 150.8 95.3 152.3 93.0 153.2"/>
</g>
<clipPath id="c2"><path d="M74.30 185.50C76.75 185.20 78.15 185.50 80.60 186.10C83.05 186.70 86.08 188.00 89.00 189.10C91.92 190.20 95.59 191.40 98.10 192.70C100.61 194.00 102.30 195.20 104.05 196.90C105.80 198.60 107.61 200.70 108.60 202.90C109.59 205.10 109.77 207.60 110.00 210.10C110.23 212.60 110.58 214.70 110.00 217.90C109.42 221.10 108.25 226.00 106.50 229.30C104.75 232.60 102.53 235.30 99.50 237.70C96.47 240.10 92.73 242.40 88.30 243.70C83.87 245.00 77.92 245.80 72.90 245.50C67.88 245.20 62.28 243.80 58.20 241.90C54.12 240.00 51.08 237.10 48.40 234.10C45.72 231.10 43.44 227.30 42.10 223.90C40.76 220.50 40.47 216.80 40.35 213.70C40.23 210.60 40.64 207.70 41.40 205.30C42.16 202.90 43.27 201.20 44.90 199.30C46.53 197.40 48.98 195.30 51.20 193.90C53.42 192.50 55.75 191.90 58.20 190.90C60.65 189.90 63.22 188.80 65.90 187.90C68.58 187.00 71.85 185.80 74.30 185.50Z"/></clipPath>
<g clip-path="url(#c2)"><g filter="url(#bl)">
<rect x="37.0" y="182.5" width="76.0" height="66.0" fill="#00008d"/>
<path fill-rule="evenodd" fill="#0000a2" d="M113.0 248.6 37.0 248.6 36.9 182.5 113.0 182.4 113.0 248.6ZM62.1 232.5 63.0 231.8 63.5 230.8 63.5 229.5 63.0 228.4 62.0 227.6 60.7 227.3 59.3 227.5 58.3 228.0 57.7 228.8 57.4 229.8 58.0 231.6 59.0 232.4 60.0 232.8 62.1 232.5Z"/>
<path fill-rule="evenodd" fill="#0000b9" d="M113.0 248.6 37.0 248.6 36.9 182.5 113.0 182.4 113.0 248.6ZM62.2 235.2 64.3 234.2 65.8 232.5 66.3 230.5 65.8 228.2 64.3 226.3 62.3 225.1 60.0 224.8 57.7 225.3 56.0 226.5 54.9 228.2 54.5 229.8 54.9 231.8 56.1 233.5 58.0 234.8 60.0 235.3 62.2 235.2Z"/>
<path fill-rule="evenodd" fill="#0000d1" d="M113.0 248.6 37.0 248.6 36.9 182.5 113.0 182.4 113.0 248.6ZM63.0 236.8 65.7 235.5 67.6 233.2 68.1 230.5 67.4 227.5 65.3 224.9 62.7 223.4 59.3 223.1 56.3 223.9 54.3 225.5 52.8 227.8 52.5 230.5 53.2 232.8 55.0 235.1 57.3 236.5 60.0 237.1 63.0 236.8Z"/>
<path fill-rule="evenodd" fill="#0000e8" d="M113.0 248.6 37.0 248.6 36.9 182.5 113.0 182.4 113.0 248.6ZM62.5 238.5 66.0 237.2 68.5 234.8 69.2 233.2 69.6 231.5 69.1 228.2 67.1 224.8 64.0 222.5 60.3 221.5 56.7 222.1 53.7 223.8 51.7 226.2 50.7 229.2 51.2 232.5 53.0 235.5 55.7 237.4 59.0 238.5 62.5 238.5Z"/>
<path fill-rule="evenodd" fill="#0000ff" d="M113.0 248.6 37.0 248.6 36.9 182.5 113.0 182.4 113.0 248.6ZM63.1 239.8 65.0 239.3 67.0 238.3 68.7 236.9 69.7 235.5 70.5 233.8 70.9 231.8 70.8 229.8 70.3 227.8 69.3 225.8 67.7 223.8 66.0 222.3 64.0 221.1 62.0 220.4 60.0 220.2 57.7 220.4 55.7 220.9 52.3 223.0 50.0 226.0 49.1 229.5 49.7 233.2 51.7 236.3 55.0 238.7 59.0 239.9 63.1 239.8Z"/>
<path fill-rule="evenodd" fill="#0017ff" d="M113.0 248.6 37.0 248.5 36.9 182.5 113.0 182.4 113.0 248.6ZM63.3 241.2 65.7 240.5 67.7 239.5 69.4 238.2 70.7 236.5 71.6 234.5 72.1 232.2 72.0 230.0 71.4 227.8 70.3 225.5 68.7 223.4 66.7 221.5 64.3 220.0 62.0 219.1 59.7 218.9 57.3 219.1 55.0 219.7 53.0 220.7 51.0 222.2 48.5 225.5 47.8 227.5 47.5 229.5 47.6 231.5 48.2 233.5 49.2 235.5 50.5 237.2 54.0 239.8 56.3 240.7 58.7 241.2 63.3 241.2Z"/>
<path fill-rule="evenodd" fill="#002eff" d="M113.0 248.6 37.0 248.5 37.0 182.5 113.0 182.4 113.0 248.6ZM63.4 242.5 66.0 241.8 68.3 240.7 70.2 239.2 71.6 237.5 72.7 235.3 73.2 232.8 73.1 230.5 72.6 228.2 71.3 225.5 69.3 222.9 67.0 220.6 64.7 219.0 62.3 218.0 60.0 217.6 57.3 217.7 54.7 218.4 52.3 219.5 50.3 220.9 48.5 222.8 47.2 224.8 46.4 226.8 46.0 229.2 46.1 231.5 46.7 233.8 47.7 235.8 49.2 237.8 51.0 239.5 53.3 241.0 55.7 241.9 58.3 242.5 61.0 242.7 63.4 242.5Z"/>
<path fill-rule="evenodd" fill="#0046ff" d="M113.0 248.6 37.0 248.5 37.0 182.5 113.0 182.4 113.0 248.6ZM63.7 243.8 66.7 243.0 69.0 241.9 71.0 240.3 72.5 238.5 73.6 236.2 74.2 233.5 74.2 230.8 73.5 228.2 72.0 225.2 70.0 222.5 67.3 219.8 64.7 217.9 62.3 216.8 59.7 216.3 57.0 216.4 54.0 217.2 51.7 218.2 49.3 219.8 47.3 221.8 45.8 224.2 44.9 226.5 44.4 229.2 44.5 231.8 45.2 234.2 46.3 236.5 48.0 238.8 50.0 240.6 52.3 242.0 55.0 243.2 58.0 243.9 61.0 244.1 63.7 243.8Z"/>
<path fill-rule="evenodd" fill="#005dff" d="M113.0 248.6 37.0 248.5 37.0 182.5 113.0 182.4 113.0 248.6ZM64.2 245.2 67.0 244.4 69.7 243.1 72.0 241.2 73.6 239.2 74.8 236.5 75.3 233.8 75.2 230.8 74.5 228.2 72.9 225.2 70.3 221.8 67.3 218.8 64.3 216.6 61.7 215.4 59.0 215.0 56.0 215.2 53.0 216.0 50.3 217.3 47.8 219.2 45.7 221.5 44.2 223.8 43.2 226.5 42.8 229.2 43.0 232.2 43.7 234.8 45.1 237.5 46.9 239.8 49.0 241.7 51.7 243.3 54.7 244.5 57.7 245.2 61.0 245.5 64.2 245.2Z"/>
<path fill-rule="evenodd" fill="#0074ff" d="M113.0 248.6 37.0 248.5 37.0 182.5 113.0 182.4 113.0 248.6ZM63.2 246.8 66.3 246.2 69.3 245.0 72.0 243.2 73.9 241.2 75.3 238.5 76.2 235.5 76.4 232.5 75.8 229.5 74.3 226.2 71.8 222.5 68.0 218.4 64.7 215.7 62.0 214.3 59.3 213.7 56.3 213.7 53.3 214.3 50.3 215.5 47.3 217.5 45.0 219.7 43.2 222.2 41.8 225.2 41.1 228.2 41.1 231.2 41.6 234.2 42.9 237.2 44.7 239.8 47.0 242.1 49.7 244.0 53.0 245.6 56.3 246.5 59.7 247.0 63.2 246.8Z"/>
<path fill-rule="evenodd" fill="#008bff" d="M113.0 248.6 63.1 248.5 66.3 247.9 69.3 246.9 72.0 245.3 74.0 243.4 75.7 240.8 76.8 237.8 77.4 234.5 77.3 231.5 76.4 228.5 74.5 225.2 71.7 221.4 68.0 217.5 65.3 215.2 62.7 213.4 60.0 212.4 57.3 212.1 54.0 212.4 50.3 213.7 47.0 215.5 44.3 217.8 42.1 220.5 40.4 223.5 39.4 226.8 39.1 230.2 39.5 233.5 40.6 236.8 42.4 239.8 44.7 242.4 47.7 244.8 51.0 246.6 54.7 247.9 58.3 248.5 37.0 248.5 37.0 182.5 113.0 182.4 113.0 248.6Z"/>
<path fill-rule="evenodd" fill="#00a2ff" d="M113.0 248.5 70.2 248.5 72.3 247.2 74.3 245.5 75.7 243.8 76.9 241.5 77.8 238.8 78.4 235.8 78.4 233.2 78.0 230.5 77.1 228.2 75.5 225.5 70.0 218.7 64.3 213.3 62.0 211.8 59.7 210.8 56.3 210.4 52.3 210.9 48.7 212.3 45.0 214.5 42.0 217.2 39.5 220.5 37.9 224.2 37.0 228.1 37.0 182.5 113.0 182.5 113.0 248.5ZM50.3 248.5 37.0 248.5 37.0 231.8 38.3 236.8 41.1 241.5 45.0 245.3 50.3 248.5Z"/>
<path fill-rule="evenodd" fill="#00b9ff" d="M113.0 248.5 74.1 248.5 76.9 244.8 78.8 240.2 79.6 234.5 78.8 230.2 76.0 225.2 70.0 217.9 64.0 211.9 61.7 210.2 59.7 209.2 57.0 208.5 54.0 208.4 50.7 209.1 47.3 210.3 44.3 212.0 41.3 214.4 39.0 216.8 37.0 219.7 37.0 182.5 113.0 182.5 113.0 248.5ZM45.0 248.5 37.0 248.5 37.0 240.1 40.3 244.5 42.7 246.6 45.3 248.5 45.0 248.5Z"/>
<path fill-rule="evenodd" fill="#00d1ff" d="M113.0 248.5 77.1 248.5 79.2 243.8 80.5 238.2 80.6 233.5 79.6 229.8 76.3 224.5 68.7 215.7 62.7 209.5 58.7 206.8 56.3 206.0 53.7 205.7 51.0 205.9 48.0 206.6 45.0 207.9 42.1 209.5 39.4 211.5 37.0 213.8 37.0 182.5 113.0 182.5 113.0 248.5ZM39.3 248.5 37.0 248.5 37.0 246.0 39.6 248.5 39.3 248.5Z"/>
<path fill-rule="evenodd" fill="#00e8ff" d="M113.0 248.5 79.6 248.5 81.0 242.8 81.8 237.2 81.7 233.5 80.9 230.5 79.2 227.5 76.4 223.8 61.7 206.9 59.0 204.6 56.3 202.9 53.0 201.7 49.7 201.1 46.3 201.2 43.3 201.9 40.0 203.3 37.0 205.1 37.0 182.5 113.0 182.5 113.0 248.5Z"/>
<path fill-rule="evenodd" fill="#00ffff" d="M113.0 248.5 81.8 248.5 83.2 236.2 82.9 233.2 81.8 230.2 78.8 225.8 67.7 212.8 59.7 202.3 53.1 194.5 50.1 189.5 46.9 182.5 113.0 182.5 113.0 248.5Z"/>
<path fill-rule="evenodd" fill="#17ffe8" d="M113.0 248.5 83.9 248.5 84.7 236.2 84.4 233.8 83.6 231.5 81.0 227.5 69.7 214.5 64.6 207.5 60.5 200.2 52.1 182.5 113.0 182.5 113.0 248.5Z"/>
<path fill-rule="evenodd" fill="#2effd1" d="M113.0 248.5 86.1 248.5 86.4 236.5 86.1 234.5 85.5 232.5 82.8 228.5 70.4 214.5 65.6 207.8 62.8 202.2 59.0 191.1 55.4 182.5 113.0 182.5 113.0 248.5Z"/>
<path fill-rule="evenodd" fill="#46ffb9" d="M113.0 248.5 88.4 248.5 88.2 244.5 88.5 236.8 87.8 233.5 85.4 230.2 72.1 215.8 66.6 208.2 64.9 204.8 63.5 201.2 60.7 188.8 58.3 182.5 113.0 182.5 113.0 248.5Z"/>
<path fill-rule="evenodd" fill="#5dffa2" d="M113.0 248.5 91.5 248.5 91.2 244.5 91.4 237.2 91.2 235.5 90.5 233.8 88.9 231.8 80.7 224.4 74.1 217.5 69.1 211.2 66.1 205.8 64.8 202.5 63.8 198.8 62.6 186.8 61.5 182.5 113.0 182.5 113.0 248.5Z"/>
<path fill-rule="evenodd" fill="#74ff8b" d="M113.0 248.5 96.9 248.5 96.7 244.8 97.0 237.5 96.2 234.8 94.4 233.2 87.3 229.0 82.0 224.8 76.0 218.9 70.7 212.5 66.9 206.2 65.6 202.8 64.8 199.5 64.4 192.5 65.3 182.5 113.0 182.5 113.0 248.5Z"/>
<path fill-rule="evenodd" fill="#8bff74" d="M98.0 230.2 95.0 230.3 91.7 229.7 88.3 228.3 84.7 226.1 80.7 222.9 76.3 218.6 72.3 213.9 69.5 209.8 67.7 206.5 66.4 203.2 65.7 199.8 65.3 196.2 65.5 192.2 66.2 188.5 67.3 185.2 68.8 182.5 99.4 182.5 103.5 186.5 106.8 191.2 109.8 197.2 111.5 203.5 112.0 209.8 111.2 215.8 109.3 221.2 106.3 225.5 104.3 227.4 102.3 228.7 100.3 229.6 98.0 230.2Z"/>
<path fill-rule="evenodd" fill="#a2ff5d" d="M95.3 228.5 92.3 228.4 89.3 227.7 86.0 226.1 82.7 223.8 78.7 220.3 74.7 216.0 71.4 211.8 69.0 207.8 67.5 204.5 66.6 200.8 66.2 197.5 66.3 193.8 66.9 190.5 68.2 187.2 69.7 184.7 71.7 182.5 95.2 182.5 98.3 184.8 101.3 187.8 103.8 190.8 106.0 194.5 108.1 199.8 109.3 205.2 109.4 210.8 108.4 216.2 106.4 220.8 103.3 224.7 99.7 227.3 97.7 228.1 95.3 228.5Z"/>
<path fill-rule="evenodd" fill="#b9ff46" d="M95.0 227.2 92.0 227.2 89.0 226.6 85.7 225.1 82.3 222.8 78.3 219.2 74.3 214.8 71.3 210.8 69.1 206.8 67.9 203.5 67.1 199.8 66.9 196.2 67.4 192.5 68.5 189.2 70.0 186.6 72.0 184.3 74.4 182.5 92.2 182.5 96.0 184.8 99.7 188.0 102.8 191.8 105.2 196.2 107.1 201.2 107.9 206.2 107.9 211.5 106.8 216.2 104.7 220.5 102.0 223.8 98.7 226.1 95.0 227.2Z"/>
<path fill-rule="evenodd" fill="#d1ff2e" d="M93.7 226.2 90.7 226.1 87.3 225.1 84.3 223.5 81.0 221.0 77.0 217.1 73.4 212.8 70.7 208.8 69.0 205.2 68.1 201.8 67.7 198.2 67.9 194.5 68.8 191.2 70.0 188.5 72.0 186.0 74.3 184.0 77.3 182.5 89.0 182.5 93.3 184.4 97.0 187.0 100.4 190.5 103.2 194.5 105.2 198.8 106.5 203.5 106.9 208.2 106.5 212.8 105.3 216.8 103.2 220.5 100.4 223.5 97.3 225.3 93.7 226.2Z"/>
<path fill-rule="evenodd" fill="#e8ff17" d="M93.7 225.2 90.7 225.1 87.7 224.4 84.7 222.9 81.7 220.8 78.0 217.4 74.3 213.2 71.7 209.5 69.9 205.8 68.9 202.5 68.4 199.2 68.5 195.8 69.2 192.5 70.6 189.5 72.3 187.1 74.7 185.1 77.3 183.7 81.0 182.7 85.0 182.7 89.0 183.6 92.7 185.2 96.3 187.7 99.5 190.8 102.1 194.5 104.1 198.5 105.5 203.2 105.9 207.5 105.7 211.8 104.6 215.8 102.6 219.5 100.0 222.4 97.0 224.3 93.7 225.2Z"/>
<path fill-rule="evenodd" fill="#ffff00" d="M93.7 224.2 91.0 224.3 88.0 223.7 85.0 222.3 82.0 220.3 78.3 216.9 75.0 213.2 72.4 209.5 70.6 205.8 69.6 202.8 69.1 199.5 69.2 196.2 69.9 193.2 71.0 190.5 72.7 188.2 75.0 186.1 77.7 184.7 81.3 183.7 85.0 183.7 88.7 184.4 92.3 186.0 95.7 188.3 98.7 191.2 101.1 194.5 103.2 198.5 104.5 202.8 105.1 207.2 104.8 211.2 103.8 215.2 102.1 218.5 99.7 221.3 96.9 223.2 93.7 224.2Z"/>
<path fill-rule="evenodd" fill="#ffe800" d="M93.7 223.2 91.0 223.4 88.0 222.8 85.3 221.7 82.3 219.7 79.0 216.8 75.7 213.1 73.1 209.5 71.3 206.1 70.3 203.1 69.8 199.8 69.9 196.8 70.5 193.8 71.7 191.2 73.3 188.9 75.3 187.1 78.0 185.6 81.3 184.7 84.7 184.6 88.3 185.3 91.7 186.7 95.0 188.8 98.0 191.7 100.4 194.8 102.3 198.6 103.6 202.5 104.2 206.5 104.0 210.5 103.2 214.2 101.6 217.5 99.3 220.3 96.7 222.2 93.7 223.2Z"/>
<path fill-rule="evenodd" fill="#ffd100" d="M94.0 222.2 91.3 222.5 88.7 222.1 86.0 221.1 83.0 219.3 79.7 216.5 76.7 213.3 74.0 209.8 72.2 206.5 71.1 203.5 70.6 200.5 70.6 197.5 71.1 194.8 72.1 192.2 73.7 189.9 75.7 188.0 78.0 186.6 81.0 185.7 84.3 185.5 87.7 186.0 91.0 187.3 94.1 189.2 97.0 191.8 99.4 194.8 101.3 198.3 102.7 202.1 103.3 205.8 103.3 209.5 102.6 213.2 101.3 216.2 99.3 218.9 97.0 220.9 94.0 222.2Z"/>
<path fill-rule="evenodd" fill="#ffb900" d="M92.0 221.5 89.7 221.4 87.0 220.7 84.3 219.3 81.7 217.4 78.7 214.5 76.0 211.4 74.0 208.5 72.4 205.2 71.6 202.5 71.3 199.5 71.5 196.8 72.2 194.2 73.4 191.8 75.0 189.8 77.0 188.3 79.3 187.2 82.3 186.5 85.7 186.5 89.0 187.4 92.0 188.8 94.8 190.8 97.4 193.5 99.7 196.8 101.2 200.2 102.2 203.8 102.6 207.5 102.2 210.8 101.3 214.2 99.6 217.2 97.3 219.4 94.7 220.9 92.0 221.5Z"/>
<path fill-rule="evenodd" fill="#ffa200" d="M91.3 220.5 89.0 220.3 86.6 219.5 84.0 218.1 81.5 216.2 76.3 210.6 74.3 207.5 73.1 204.8 72.4 202.2 72.1 199.5 72.3 197.0 73.0 194.6 74.1 192.5 75.7 190.6 77.5 189.2 79.7 188.1 82.7 187.4 85.7 187.5 88.7 188.2 91.7 189.6 94.3 191.5 96.9 194.2 98.9 197.2 100.5 200.5 101.4 203.8 101.7 207.5 101.3 210.8 100.3 213.9 98.8 216.5 96.7 218.6 94.0 220.0 91.3 220.5Z"/>
<path fill-rule="evenodd" fill="#ff8b00" d="M92.7 219.2 90.3 219.4 88.0 218.9 85.7 217.9 83.4 216.5 80.7 214.2 78.0 211.3 76.0 208.6 74.5 205.8 73.6 203.5 73.1 200.8 73.1 198.5 73.5 196.2 74.3 194.2 75.7 192.2 77.3 190.6 79.3 189.4 82.0 188.6 84.7 188.4 87.3 188.8 90.3 190.0 93.0 191.6 95.3 193.7 97.3 196.2 99.0 199.2 100.1 202.2 100.7 205.5 100.7 208.8 100.0 211.8 98.9 214.5 97.0 216.8 95.0 218.3 92.7 219.2Z"/>
<path fill-rule="evenodd" fill="#ff7400" d="M92.7 217.9 90.7 218.1 88.7 217.8 86.3 217.0 84.0 215.5 79.0 210.9 77.0 208.3 75.6 205.8 74.7 203.5 74.2 201.2 74.2 198.8 74.5 196.8 75.3 194.8 76.4 193.2 78.0 191.6 79.7 190.6 82.0 189.8 84.3 189.6 87.0 189.9 89.7 190.8 92.0 192.2 94.3 194.2 96.3 196.5 98.0 199.4 99.0 202.2 99.6 205.2 99.6 208.2 99.2 210.8 98.1 213.5 96.7 215.4 94.7 217.0 92.7 217.9Z"/>
<path fill-rule="evenodd" fill="#ff5d00" d="M92.7 216.2 91.0 216.5 89.0 216.3 87.0 215.6 85.1 214.5 80.3 210.3 77.0 205.7 75.6 201.8 75.7 197.8 77.2 194.5 78.4 193.2 80.0 192.0 82.0 191.3 84.3 191.0 86.7 191.2 89.0 191.9 91.2 193.2 93.3 194.8 95.1 196.8 96.6 199.2 97.7 201.8 98.3 204.5 98.4 207.2 98.1 209.5 97.3 211.9 96.1 213.8 94.7 215.2 92.7 216.2Z"/>
<path fill-rule="evenodd" fill="#ff4600" d="M91.0 214.2 88.0 213.6 85.0 211.8 80.8 207.8 78.3 204.2 77.4 200.8 77.6 197.8 79.0 195.3 81.4 193.5 83.0 193.0 85.0 192.8 87.0 193.1 89.1 193.8 92.8 196.5 94.3 198.4 95.5 200.5 96.4 202.8 96.8 205.2 96.7 207.5 96.3 209.5 95.3 211.5 94.2 212.8 92.7 213.8 91.0 214.2Z"/>
<path fill-rule="evenodd" fill="#ff2e00" d="M91.3 209.2 90.0 209.2 88.3 208.3 82.3 202.5 81.6 201.2 81.3 199.5 81.7 198.2 82.9 196.8 85.0 196.1 87.7 196.4 90.0 197.7 92.0 199.8 93.3 202.5 93.7 205.5 93.0 208.0 92.3 208.7 91.3 209.2Z"/>
</g>
<path fill="none" stroke="#000" stroke-opacity="0.55" stroke-width="0.45" d="M63.8 244.2 66.7 243.4 69.2 242.2 71.3 240.5 72.9 238.5 73.9 236.2 74.5 233.5 74.5 230.8 73.8 228.2 72.3 225.2 70.0 222.2 67.0 219.2 64.3 217.4 62.0 216.4 59.3 216.0 56.7 216.1 53.7 216.9 48.8 219.8 45.4 224.2 44.0 229.2 44.7 234.2 45.8 236.5 47.6 238.8 52.0 242.3 57.7 244.2 63.8 244.2"/>
<path fill="none" stroke="#000" stroke-opacity="0.55" stroke-width="0.45" d="M76.4 248.5 78.5 244.5 80.0 239.2 80.4 234.5 79.6 230.5 77.7 226.8 74.5 222.5 67.7 214.8 62.7 209.8 60.0 208.0 57.0 206.8 53.7 206.5 50.3 206.9 46.7 208.1 43.0 210.1 39.8 212.5 37.0 215.4M37.0 244.5 41.2 248.5"/>
<path fill="none" stroke="#000" stroke-opacity="0.55" stroke-width="0.45" d="M89.1 248.5 89.1 237.2 88.5 233.8 86.1 230.5 72.8 216.5 66.7 208.2 63.7 201.2 61.2 188.5 59.1 182.5"/>
<path fill="none" stroke="#000" stroke-opacity="0.55" stroke-width="0.45" d="M89.9 182.5 93.3 184.1 96.3 186.1 101.5 191.5 105.2 198.2 106.5 202.2 107.1 205.8 107.1 209.8 106.6 213.5 105.6 216.8 104.0 219.8 102.0 222.4 99.7 224.4 97.0 225.7 94.0 226.4 91.0 226.4 87.7 225.4 84.7 223.9 81.3 221.4 77.3 217.7 73.7 213.5 71.0 209.5 69.1 205.8 68.1 202.5 67.5 198.8 67.6 195.2 68.3 191.7 69.6 188.8 71.4 186.2 73.7 184.1 76.6 182.5"/>
<path fill="none" stroke="#000" stroke-opacity="0.55" stroke-width="0.45" d="M92.7 221.2 90.3 221.2 87.7 220.7 82.3 217.6 76.3 211.6 72.7 205.5 71.5 199.8 72.3 194.5 73.4 192.2 75.0 190.2 79.0 187.5 82.0 186.8 85.0 186.7 88.3 187.4 91.3 188.7 94.3 190.7 96.9 193.2 99.1 196.2 100.8 199.5 101.9 203.2 102.3 206.8 102.1 210.2 101.3 213.5 99.7 216.5 97.7 218.8 95.3 220.4 92.7 221.2"/>
<path fill="none" stroke="#000" stroke-opacity="0.55" stroke-width="0.45" d="M92.0 210.9 90.0 211.1 87.7 210.1 83.3 206.3 81.0 203.6 80.0 201.4 79.8 199.2 80.6 197.2 82.0 195.8 84.7 194.9 87.7 195.3 90.5 196.8 92.9 199.5 94.5 202.8 94.8 206.2 94.0 209.1 92.0 210.9"/>
</g>
<clipPath id="c3"><path d="M74.30 261.50C76.75 261.20 78.15 261.50 80.60 262.10C83.05 262.70 86.08 264.00 89.00 265.10C91.92 266.20 95.59 267.40 98.10 268.70C100.61 270.00 102.30 271.20 104.05 272.90C105.80 274.60 107.61 276.70 108.60 278.90C109.59 281.10 109.77 283.60 110.00 286.10C110.23 288.60 110.58 290.70 110.00 293.90C109.42 297.10 108.25 302.00 106.50 305.30C104.75 308.60 102.53 311.30 99.50 313.70C96.47 316.10 92.73 318.40 88.30 319.70C83.87 321.00 77.92 321.80 72.90 321.50C67.88 321.20 62.28 319.80 58.20 317.90C54.12 316.00 51.08 313.10 48.40 310.10C45.72 307.10 43.44 303.30 42.10 299.90C40.76 296.50 40.47 292.80 40.35 289.70C40.23 286.60 40.64 283.70 41.40 281.30C42.16 278.90 43.27 277.20 44.90 275.30C46.53 273.40 48.98 271.30 51.20 269.90C53.42 268.50 55.75 267.90 58.20 266.90C60.65 265.90 63.22 264.80 65.90 263.90C68.58 263.00 71.85 261.80 74.30 261.50Z"/></clipPath>
<g clip-path="url(#c3)"><g filter="url(#bl)">
<rect x="37.0" y="258.5" width="76.0" height="66.0" fill="#0000b3"/>
<path fill-rule="evenodd" fill="#0000d1" d="M113.0 324.6 37.0 324.5 37.0 258.5 113.0 258.4 113.0 324.6ZM52.0 298.8 54.2 298.2 56.0 297.2 57.3 296.0 58.3 294.5 59.5 290.5 59.6 284.5 58.5 278.2 56.3 273.3 55.0 271.7 53.3 270.4 51.7 269.8 50.0 269.6 48.0 270.1 46.0 271.4 44.3 273.2 43.0 275.5 41.7 278.5 41.0 281.5 40.6 284.8 40.6 288.5 41.7 293.8 42.7 295.8 43.8 297.2 45.3 298.3 47.3 298.9 49.7 299.1 52.0 298.8Z"/>
<path fill-rule="evenodd" fill="#0000e8" d="M37.0 262.8 37.0 258.5 40.2 258.5 37.0 262.8ZM113.0 324.6 37.0 324.5 37.0 303.2 39.7 304.0 43.3 304.2 48.1 303.8 54.1 302.8 58.0 301.9 60.0 301.1 61.3 299.9 62.2 298.2 62.7 295.2 63.0 289.5 63.0 282.2 62.6 276.8 60.7 266.6 59.3 262.4 57.5 258.5 113.1 258.5 113.0 324.6Z"/>
<path fill-rule="evenodd" fill="#0000ff" d="M113.0 324.6 45.3 324.5 42.1 322.5 39.7 320.2 38.4 317.5 38.3 314.8 39.2 312.5 41.3 310.3 44.6 308.5 48.7 307.1 53.3 306.0 61.3 304.8 62.7 304.0 63.7 302.5 64.4 297.2 64.5 278.5 64.0 271.4 62.1 258.5 113.1 258.5 113.0 324.6Z"/>
<path fill-rule="evenodd" fill="#0017ff" d="M113.0 324.6 69.0 324.5 67.7 322.2 66.0 321.0 64.3 320.9 58.3 322.3 54.0 322.3 51.3 321.7 49.2 320.8 47.3 319.6 46.0 318.2 45.2 316.5 45.2 314.5 46.2 312.5 48.0 310.9 50.7 309.6 54.0 308.7 63.0 308.1 64.3 307.2 65.0 305.6 65.6 300.2 65.6 277.5 65.0 269.5 63.7 258.5 113.1 258.5 113.0 324.6Z"/>
<path fill-rule="evenodd" fill="#002eff" d="M113.0 324.6 70.6 324.5 69.3 320.8 66.6 315.2 66.0 313.2 66.5 304.2 66.3 276.5 65.9 269.8 64.7 258.5 113.1 258.5 113.0 324.6ZM57.7 318.2 54.7 318.2 52.3 317.2 51.2 315.5 51.7 313.8 53.5 312.5 56.0 311.9 58.7 312.0 61.0 313.1 62.0 314.5 61.7 315.8 60.0 317.4 57.7 318.2Z"/>
<path fill-rule="evenodd" fill="#0046ff" d="M113.0 324.6 71.5 324.5 68.5 314.5 67.7 310.2 66.9 293.5 66.9 273.8 65.4 258.5 113.1 258.5 113.0 324.6Z"/>
<path fill-rule="evenodd" fill="#005dff" d="M113.0 324.6 72.2 324.5 69.2 313.2 68.4 307.5 67.5 293.5 67.4 272.5 66.1 258.5 113.1 258.5 113.0 324.6Z"/>
<path fill-rule="evenodd" fill="#0074ff" d="M113.0 324.6 72.8 324.5 69.8 312.5 68.6 303.8 67.9 292.2 67.9 272.2 66.6 258.5 113.1 258.5 113.0 324.6Z"/>
<path fill-rule="evenodd" fill="#008bff" d="M113.0 324.6 73.4 324.5 70.2 311.5 68.9 301.8 68.3 291.2 68.3 271.8 67.1 258.5 113.1 258.5 113.0 324.6Z"/>
<path fill-rule="evenodd" fill="#00a2ff" d="M113.0 324.6 73.9 324.5 70.6 310.8 69.2 300.8 68.7 290.8 68.7 271.2 67.6 258.5 113.1 258.5 113.0 324.6Z"/>
<path fill-rule="evenodd" fill="#00b9ff" d="M113.0 324.5 74.3 324.5 71.0 310.5 69.6 300.2 69.0 290.2 69.1 270.8 68.1 258.5 113.0 258.5 113.0 324.5Z"/>
<path fill-rule="evenodd" fill="#00d1ff" d="M113.0 324.5 74.8 324.5 71.4 310.8 69.9 299.8 69.3 289.5 69.5 270.2 68.6 258.5 113.0 258.5 113.0 324.5Z"/>
<path fill-rule="evenodd" fill="#00e8ff" d="M113.0 324.5 75.2 324.5 71.7 310.5 70.1 299.2 69.6 288.8 69.9 269.5 69.1 258.5 113.0 258.5 113.0 324.5Z"/>
<path fill-rule="evenodd" fill="#00ffff" d="M113.0 324.5 75.6 324.5 72.1 310.5 70.4 298.8 69.9 288.2 70.3 268.8 69.6 258.5 113.0 258.5 113.0 324.5Z"/>
<path fill-rule="evenodd" fill="#17ffe8" d="M113.0 324.5 76.1 324.5 72.4 310.5 70.7 298.5 70.2 287.5 70.8 267.8 70.1 258.5 113.0 258.5 113.0 324.5Z"/>
<path fill-rule="evenodd" fill="#2effd1" d="M113.0 324.5 76.5 324.5 72.8 310.5 70.9 297.8 70.5 286.2 71.3 266.8 70.8 258.5 113.0 258.5 113.0 324.5Z"/>
<path fill-rule="evenodd" fill="#46ffb9" d="M113.0 324.5 77.0 324.5 73.1 310.5 72.0 304.2 71.2 297.5 70.8 286.8 71.8 266.8 71.5 258.5 113.0 258.5 113.0 324.5Z"/>
<path fill-rule="evenodd" fill="#5dffa2" d="M113.0 324.5 77.6 324.5 75.0 316.6 73.4 310.5 72.2 303.8 71.4 296.5 71.1 284.5 72.6 265.2 72.5 258.5 113.0 258.5 113.0 324.5Z"/>
<path fill-rule="evenodd" fill="#74ff8b" d="M113.0 324.5 78.2 324.5 75.6 317.2 73.7 310.5 72.4 303.2 71.6 295.2 71.3 288.2 71.6 280.8 73.7 262.5 73.9 258.5 113.0 258.5 113.0 324.5Z"/>
<path fill-rule="evenodd" fill="#8bff74" d="M113.0 324.5 78.9 324.5 76.0 317.3 73.9 309.8 72.4 301.2 71.7 291.8 71.8 282.5 72.7 273.7 74.3 265.5 76.8 258.5 113.0 258.5 113.0 324.5Z"/>
<path fill-rule="evenodd" fill="#a2ff5d" d="M99.7 324.5 79.8 324.5 77.0 318.8 74.5 311.2 72.9 302.5 72.0 292.8 72.0 283.5 72.9 274.8 74.3 268.7 76.3 264.0 79.0 260.8 81.0 259.4 83.0 258.5 92.4 258.5 95.7 260.0 98.3 262.0 101.7 265.5 104.6 269.8 106.9 274.8 108.7 280.5 109.9 286.5 110.3 292.8 110.1 298.8 109.2 305.2 107.8 310.5 105.5 316.2 102.8 320.8 99.7 324.5Z"/>
<path fill-rule="evenodd" fill="#b9ff46" d="M96.3 324.5 81.0 324.5 78.7 321.1 76.7 316.8 75.0 311.8 73.6 305.5 72.5 296.5 72.2 287.8 72.7 279.5 73.9 272.5 75.7 267.7 78.0 264.3 81.3 261.7 85.3 260.3 89.0 260.2 92.7 261.1 96.3 263.1 99.7 266.1 102.5 269.8 104.8 274.2 106.8 279.5 108.1 285.2 108.8 291.2 108.8 296.8 108.1 302.8 106.7 308.5 104.9 313.5 102.4 318.2 99.3 322.1 96.3 324.5Z"/>
<path fill-rule="evenodd" fill="#d1ff2e" d="M93.7 324.5 82.8 324.5 80.3 322.3 78.0 318.7 76.0 313.8 74.3 307.6 73.2 300.5 72.5 292.5 72.6 284.8 73.3 277.8 74.6 272.2 76.5 268.2 79.0 265.1 82.3 263.0 86.0 261.9 89.7 262.0 93.3 263.1 96.7 265.2 99.9 268.5 102.6 272.5 104.8 277.2 106.4 282.5 107.4 287.8 107.8 293.5 107.5 299.5 106.5 305.2 104.9 310.5 102.7 315.2 100.0 319.2 97.0 322.3 93.7 324.5Z"/>
<path fill-rule="evenodd" fill="#e8ff17" d="M89.0 324.5 85.3 324.3 82.3 322.9 80.0 320.7 77.7 316.9 75.7 311.8 74.3 306.0 73.3 298.8 72.8 291.5 72.9 284.8 73.5 279.2 74.5 274.5 76.0 270.6 78.0 267.7 80.7 265.4 84.0 263.8 87.3 263.2 91.0 263.7 94.7 265.3 98.0 268.0 100.8 271.5 103.2 275.8 105.2 281.2 106.4 286.8 106.9 292.5 106.7 298.2 105.8 304.2 104.2 309.5 102.1 314.2 99.4 318.2 96.3 321.3 92.7 323.5 89.0 324.5Z"/>
<path fill-rule="evenodd" fill="#ffff00" d="M89.7 323.2 86.3 323.2 83.0 322.1 80.3 320.0 78.3 317.1 76.4 312.5 75.0 307.5 73.8 300.5 73.2 293.2 73.1 286.8 73.6 280.8 74.6 275.8 76.0 272.2 78.0 269.1 80.7 266.7 83.7 265.1 87.0 264.4 90.7 264.8 94.0 266.2 97.3 268.8 100.0 272.0 102.4 276.2 104.2 280.8 105.5 286.2 106.1 291.8 106.0 297.5 105.2 303.2 103.8 308.2 101.8 312.8 99.3 316.7 96.3 319.9 93.0 322.1 89.7 323.2Z"/>
<path fill-rule="evenodd" fill="#ffe800" d="M88.7 322.2 85.3 321.9 82.3 320.6 80.0 318.5 78.0 315.3 76.3 311.2 74.9 305.5 73.9 298.5 73.4 291.5 73.5 285.8 74.0 280.8 75.0 276.4 76.4 272.8 78.3 270.1 81.0 267.7 84.0 266.2 87.3 265.6 90.7 266.0 94.0 267.5 97.3 270.2 100.0 273.5 102.1 277.5 103.8 282.2 104.9 287.5 105.4 292.8 105.2 298.2 104.4 303.5 102.9 308.5 100.9 312.8 98.3 316.5 95.3 319.4 92.0 321.4 88.7 322.2Z"/>
<path fill-rule="evenodd" fill="#ffd100" d="M90.0 320.9 86.7 321.1 83.7 320.3 81.0 318.4 78.7 315.5 77.0 311.8 75.6 307.2 74.5 300.8 73.8 294.2 73.7 288.2 74.1 282.8 75.0 278.2 76.3 274.5 78.3 271.3 80.7 269.1 83.7 267.4 87.0 266.7 90.3 267.0 93.3 268.2 96.3 270.4 99.0 273.5 101.1 277.2 102.9 281.5 104.1 286.5 104.7 291.5 104.6 296.8 104.0 301.8 102.8 306.5 101.0 310.8 98.7 314.7 96.0 317.7 93.0 319.8 90.0 320.9Z"/>
<path fill-rule="evenodd" fill="#ffb900" d="M90.0 319.8 86.7 320.1 83.7 319.2 81.0 317.4 79.0 314.8 77.3 311.4 75.9 306.8 74.8 300.8 74.2 294.5 74.1 288.8 74.4 283.5 75.3 278.9 76.7 275.3 78.7 272.2 81.0 270.0 84.0 268.3 87.0 267.7 90.0 268.0 93.0 269.1 96.0 271.3 98.4 274.2 100.6 277.8 102.2 281.8 103.4 286.5 104.0 291.5 104.0 296.5 103.4 301.5 102.2 306.2 100.5 310.2 98.3 313.8 96.0 316.5 93.0 318.7 90.0 319.8Z"/>
<path fill-rule="evenodd" fill="#ffa200" d="M89.7 318.9 86.7 319.0 83.7 318.2 81.0 316.3 79.0 313.7 77.3 310.1 76.0 305.5 75.1 299.8 74.5 294.2 74.5 288.8 74.8 283.8 75.7 279.7 77.0 276.2 79.0 273.1 81.3 270.9 84.0 269.4 87.0 268.7 90.0 269.0 93.0 270.2 95.7 272.2 98.0 274.9 100.1 278.5 101.7 282.5 102.8 287.2 103.4 291.8 103.3 296.5 102.7 301.2 101.6 305.5 100.0 309.5 97.8 313.2 95.3 315.9 92.7 317.8 89.7 318.9Z"/>
<path fill-rule="evenodd" fill="#ff8b00" d="M89.3 317.9 86.3 317.9 83.7 317.1 81.3 315.4 79.3 312.8 77.7 309.5 76.3 304.9 75.4 299.2 74.9 293.5 74.9 288.2 75.3 283.7 76.3 279.5 77.6 276.5 79.7 273.6 82.0 271.6 84.7 270.2 87.3 269.8 90.3 270.2 93.0 271.4 95.7 273.5 97.9 276.2 99.8 279.5 101.3 283.5 102.3 287.8 102.7 292.2 102.6 296.8 102.1 301.2 101.0 305.2 99.3 309.2 97.3 312.4 95.0 315.0 92.3 316.8 89.3 317.9Z"/>
<path fill-rule="evenodd" fill="#ff7400" d="M89.0 316.8 86.3 316.8 83.7 316.0 81.3 314.3 79.3 311.6 77.9 308.5 76.7 304.2 75.8 298.8 75.3 293.2 75.3 288.5 75.8 284.2 76.7 280.5 78.0 277.4 79.7 274.8 82.0 272.7 84.7 271.4 87.3 270.9 90.0 271.2 92.7 272.3 95.1 274.2 97.3 276.8 99.2 280.2 100.7 284.0 101.6 288.2 102.0 292.5 102.0 296.8 101.3 301.2 100.2 305.2 98.6 308.8 96.7 311.9 94.3 314.3 91.7 316.0 89.0 316.8Z"/>
<path fill-rule="evenodd" fill="#ff5d00" d="M89.7 315.5 87.0 315.8 84.3 315.1 82.0 313.6 80.0 311.3 78.6 308.5 77.3 304.7 76.4 299.8 75.9 294.8 75.8 290.2 76.1 285.8 76.9 282.2 78.0 279.1 79.7 276.3 81.8 274.2 84.3 272.7 87.0 272.0 89.7 272.3 92.0 273.2 94.4 274.8 96.7 277.4 98.3 280.2 99.8 283.8 100.8 287.8 101.3 291.8 101.3 296.2 100.8 300.2 99.7 304.2 98.4 307.5 96.7 310.4 94.5 312.8 92.3 314.5 89.7 315.5Z"/>
<path fill-rule="evenodd" fill="#ff4600" d="M88.3 314.5 85.7 314.3 83.3 313.3 81.3 311.5 79.7 309.2 78.3 305.9 77.3 302.0 76.3 292.8 76.5 288.5 76.9 284.8 77.7 281.8 79.0 279.0 80.7 276.7 82.7 274.9 85.0 273.7 87.3 273.3 90.0 273.6 92.3 274.7 94.6 276.5 96.5 278.8 98.0 281.6 99.4 285.2 100.2 289.2 100.6 293.2 100.4 297.2 99.7 301.2 98.7 304.7 97.2 307.8 95.3 310.5 93.2 312.5 91.0 313.8 88.3 314.5Z"/>
<path fill-rule="evenodd" fill="#ff2e00" d="M89.7 312.9 87.3 313.1 85.0 312.7 83.0 311.5 81.0 309.4 79.7 307.1 78.4 303.5 77.6 299.8 77.1 295.2 77.0 291.2 77.3 287.2 78.0 283.9 79.0 281.2 80.4 278.8 82.3 276.7 84.7 275.3 87.0 274.7 89.2 274.8 91.3 275.6 93.3 277.0 95.4 279.2 97.0 281.8 98.3 285.0 99.2 288.5 99.6 291.8 99.7 295.2 99.3 298.8 98.5 302.2 97.3 305.3 95.7 308.2 94.0 310.2 92.0 311.8 89.7 312.9Z"/>
<path fill-rule="evenodd" fill="#ff1700" d="M87.7 311.5 85.7 311.2 83.7 310.2 82.0 308.7 80.7 306.7 79.6 304.2 78.7 300.8 78.0 296.5 77.8 292.5 78.4 286.2 79.3 283.2 80.3 281.1 81.8 279.2 83.7 277.5 85.7 276.6 87.7 276.3 89.7 276.6 91.7 277.5 93.7 279.2 95.3 281.3 96.7 283.8 97.7 286.8 98.4 290.2 98.7 293.8 98.4 297.5 97.8 300.8 96.7 304.0 95.3 306.5 93.7 308.6 91.8 310.2 89.7 311.2 87.7 311.5Z"/>
<path fill-rule="evenodd" fill="#ff0000" d="M89.0 309.2 87.0 309.3 85.2 308.8 83.3 307.6 82.0 305.9 81.0 304.1 80.0 301.2 79.0 294.5 79.3 288.3 80.0 285.5 81.0 283.2 82.3 281.2 83.7 279.8 85.6 278.8 87.3 278.5 89.3 278.7 91.0 279.4 92.7 280.7 94.0 282.3 95.3 284.5 96.3 287.1 97.3 292.5 96.9 298.2 95.3 303.3 94.0 305.5 92.6 307.2 90.8 308.5 89.0 309.2Z"/>
<path fill-rule="evenodd" fill="#e80000" d="M88.3 305.8 87.0 305.8 85.7 305.4 84.3 304.4 83.3 303.2 81.7 299.1 81.0 293.8 81.3 289.3 82.7 285.4 84.9 282.8 86.3 282.1 87.7 281.9 89.0 282.1 90.5 282.8 93.0 285.5 94.5 289.2 95.1 293.5 94.7 298.1 93.3 301.7 91.0 304.6 88.3 305.8Z"/>
</g>
<path fill="none" stroke="#000" stroke-opacity="0.55" stroke-width="0.45" d="M71.7 324.5 68.7 314.2 67.9 309.2 67.1 293.5 67.0 273.2 65.6 258.5"/>
<path fill="none" stroke="#000" stroke-opacity="0.55" stroke-width="0.45" d="M74.6 324.5 71.3 310.5 69.8 299.8 69.3 289.5 69.4 270.2 68.5 258.5"/>
<path fill="none" stroke="#000" stroke-opacity="0.55" stroke-width="0.45" d="M77.2 324.5 73.2 310.5 71.2 297.2 70.9 286.2 72.0 266.5 71.7 258.5"/>
<path fill="none" stroke="#000" stroke-opacity="0.55" stroke-width="0.45" d="M82.2 324.5 80.0 322.2 78.0 319.0 76.0 314.1 74.5 308.8 72.6 295.5 72.7 282.1 74.2 272.8 75.5 269.5 77.0 266.9 79.0 264.7 81.7 262.9 84.7 261.8 87.7 261.4 91.3 262.0 94.7 263.4 98.0 266.0 100.8 269.2 103.5 273.5 105.5 278.2 106.9 283.2 107.7 288.5 108.0 294.2 107.6 300.2 106.6 305.8 105.1 310.5 103.0 315.2 100.4 319.2 97.7 322.2 94.4 324.5"/>
<path fill="none" stroke="#000" stroke-opacity="0.55" stroke-width="0.45" d="M88.0 319.8 85.0 319.5 82.3 318.2 80.0 316.0 78.0 312.7 76.5 308.5 75.3 303.5 74.2 290.8 74.9 281.2 75.9 277.5 77.3 274.5 79.3 271.8 82.0 269.6 84.7 268.4 87.7 267.9 90.7 268.4 93.7 269.8 96.5 272.2 99.0 275.3 101.0 279.2 102.5 283.5 103.6 288.5 103.9 293.5 103.7 298.5 102.8 303.5 101.3 307.9 99.3 311.9 97.0 315.2 94.0 317.8 91.0 319.3 88.0 319.8"/>
<path fill="none" stroke="#000" stroke-opacity="0.55" stroke-width="0.45" d="M88.0 313.5 85.7 313.3 83.3 312.2 81.5 310.5 80.0 308.3 78.7 305.1 77.7 301.2 76.8 292.5 77.5 285.2 79.6 279.5 81.3 277.2 83.3 275.6 85.3 274.6 87.7 274.3 90.0 274.7 92.3 275.8 94.4 277.5 96.3 280.1 99.0 286.5 99.9 293.5 99.1 300.8 96.7 307.2 94.8 309.8 92.7 311.8 90.3 313.0 88.0 313.5"/>
</g>
<clipPath id="c4"><path d="M155.84 35.00C159.89 35.00 164.30 36.61 167.47 37.42C170.64 38.23 172.35 38.83 174.88 39.84C177.40 40.85 180.34 42.06 182.63 43.47C184.92 44.88 187.09 46.39 188.62 48.31C190.15 50.23 191.15 52.65 191.80 54.97C192.44 57.28 192.50 59.70 192.50 62.23C192.50 64.75 192.44 67.37 191.80 70.09C191.15 72.81 190.62 75.74 188.62 78.56C186.62 81.38 183.34 84.56 179.81 87.03C176.28 89.50 171.59 92.02 167.47 93.38C163.36 94.74 159.66 95.40 155.13 95.20C150.61 95.00 144.44 93.94 140.33 92.17C136.22 90.41 133.16 87.48 130.46 84.61C127.76 81.74 125.52 78.26 124.11 74.93C122.70 71.60 122.19 67.67 122.00 64.64C121.81 61.62 122.40 59.10 122.99 56.78C123.57 54.46 124.51 52.55 125.53 50.73C126.54 48.92 127.64 47.30 129.05 45.89C130.46 44.48 131.64 43.67 133.99 42.26C136.34 40.85 139.51 38.63 143.15 37.42C146.79 36.21 151.79 35.00 155.84 35.00Z"/></clipPath>
<g clip-path="url(#c4)"><g filter="url(#bl)">
<rect x="119.0" y="32.0" width="76.5" height="66.5" fill="#000082"/>
<path fill-rule="evenodd" fill="#0000a2" d="M195.5 98.6 119.0 98.6 118.9 32.0 195.5 31.9 195.5 98.6ZM172.5 85.1 174.5 84.3 175.4 83.1 175.5 81.8 174.3 80.5 172.4 79.8 170.4 79.8 168.4 80.5 166.8 81.8 166.5 82.8 166.6 83.5 167.8 84.6 170.1 85.3 172.5 85.1Z"/>
<path fill-rule="evenodd" fill="#0000b9" d="M195.5 98.5 119.0 98.5 118.9 32.0 195.5 31.9 195.5 98.5ZM173.4 86.5 176.1 85.3 177.6 83.5 177.8 82.1 177.5 81.1 175.8 79.4 173.1 78.6 169.8 78.7 166.8 79.9 164.7 81.8 164.3 83.1 164.6 84.1 166.3 85.8 169.8 86.7 173.4 86.5Z"/>
<path fill-rule="evenodd" fill="#0000d1" d="M195.5 98.5 119.0 98.5 118.9 32.0 195.5 31.9 195.5 98.5ZM173.1 87.8 176.9 86.5 178.3 85.5 179.3 84.1 179.7 82.8 179.4 81.1 178.5 79.8 177.2 78.8 173.8 77.6 169.8 77.8 165.5 79.5 163.1 81.8 162.6 83.1 162.8 84.5 163.4 85.5 164.8 86.6 168.4 87.8 173.1 87.8Z"/>
<path fill-rule="evenodd" fill="#0000e8" d="M195.5 98.5 119.0 98.5 118.9 32.0 195.5 31.9 195.5 98.5ZM171.6 89.1 174.5 88.7 177.2 87.8 179.3 86.5 180.7 84.8 181.3 83.1 181.1 81.1 180.0 79.5 178.4 78.1 176.5 77.2 174.5 76.8 172.1 76.6 169.8 77.0 165.0 78.8 163.1 80.1 161.6 81.8 161.0 83.1 161.1 84.5 161.7 85.8 163.1 87.1 166.8 88.7 171.6 89.1Z"/>
<path fill-rule="evenodd" fill="#0000ff" d="M195.5 98.5 119.0 98.5 118.9 32.0 195.5 31.9 195.5 98.5ZM173.5 90.1 176.5 89.5 179.1 88.3 181.1 86.8 182.5 84.8 183.0 82.8 182.6 80.8 181.4 79.1 179.4 77.4 177.1 76.4 174.8 75.9 172.1 75.9 169.4 76.3 166.4 77.3 163.5 78.8 161.3 80.5 160.0 82.1 159.4 83.8 159.7 85.5 160.8 87.1 162.4 88.3 164.8 89.4 167.4 90.1 170.4 90.3 173.5 90.1Z"/>
<path fill-rule="evenodd" fill="#0017ff" d="M195.5 98.5 119.0 98.5 118.9 32.0 195.5 31.9 195.5 98.5ZM173.1 91.5 176.8 90.7 179.8 89.5 182.2 87.8 183.9 85.8 184.6 83.5 184.3 81.1 183.1 79.1 180.9 77.1 178.5 75.9 175.8 75.2 173.1 75.0 170.1 75.4 166.8 76.5 163.3 78.1 160.4 80.1 158.5 82.1 157.8 84.1 158.0 85.8 159.1 87.6 161.0 89.1 163.4 90.4 166.4 91.2 169.8 91.6 173.1 91.5Z"/>
<path fill-rule="evenodd" fill="#002eff" d="M195.5 98.5 119.0 98.5 118.9 32.0 195.5 31.9 195.5 98.5ZM174.3 92.8 178.1 91.9 181.5 90.4 184.1 88.3 185.8 85.8 186.4 83.1 185.7 80.5 184.0 78.1 181.3 76.1 178.5 74.9 175.8 74.3 172.8 74.3 169.4 74.9 165.2 76.4 161.4 78.4 158.3 80.8 156.7 82.8 156.1 84.8 156.5 86.8 157.9 88.8 160.4 90.7 163.4 92.0 166.8 92.8 170.4 93.1 174.3 92.8Z"/>
<path fill-rule="evenodd" fill="#0046ff" d="M195.5 98.5 119.0 98.5 118.9 32.0 195.5 31.9 195.5 98.5ZM174.3 94.8 178.8 93.8 182.5 92.1 185.5 89.8 187.6 86.8 188.3 83.8 187.7 80.8 185.9 78.1 182.9 75.8 179.8 74.3 176.8 73.6 173.5 73.5 170.1 74.1 165.4 75.7 160.7 78.1 156.9 80.8 154.9 83.1 154.1 85.5 154.6 87.8 156.3 90.1 158.8 92.0 162.1 93.6 166.1 94.7 170.1 95.1 174.3 94.8Z"/>
<path fill-rule="evenodd" fill="#005dff" d="M195.5 98.5 179.0 98.5 184.8 94.4 188.2 90.9 190.1 87.1 190.4 83.5 189.9 81.5 188.9 79.5 187.6 77.8 185.7 76.1 183.5 74.7 180.8 73.6 178.1 72.9 175.5 72.7 172.4 73.0 169.4 73.7 161.9 76.8 155.8 80.5 153.6 82.5 152.4 84.1 151.8 85.8 151.8 87.5 152.3 89.1 153.2 90.8 156.4 94.3 162.3 98.5 119.0 98.5 118.9 32.0 195.5 31.9 195.5 98.5Z"/>
<path fill-rule="evenodd" fill="#0074ff" d="M133.7 96.2 119.0 96.2 118.9 32.0 195.5 31.9 195.5 94.3 194.3 93.2 193.8 91.8 193.6 85.8 192.9 82.8 191.9 80.5 190.2 78.1 187.2 75.4 183.5 73.4 179.5 72.1 175.8 71.8 171.1 72.6 165.4 74.6 158.1 78.1 152.8 81.5 150.5 83.5 149.0 85.5 148.3 87.5 147.4 92.5 146.7 93.6 145.7 94.4 143.8 95.2 141.4 95.7 133.7 96.2Z"/>
<path fill-rule="evenodd" fill="#008bff" d="M131.4 89.8 119.0 90.0 119.0 32.0 195.5 32.0 195.5 81.1 191.7 76.8 186.5 73.3 183.5 72.0 180.5 71.1 177.8 70.8 175.1 71.0 168.4 72.8 158.8 77.1 148.7 82.5 140.0 88.2 136.4 89.3 131.4 89.8Z"/>
<path fill-rule="evenodd" fill="#00a2ff" d="M132.4 83.5 119.0 83.7 119.0 32.0 195.5 32.0 195.5 76.6 190.6 73.4 185.5 71.1 180.8 69.9 176.8 69.8 173.5 70.5 169.4 71.9 152.7 79.2 147.1 81.3 141.0 82.7 132.4 83.5Z"/>
<path fill-rule="evenodd" fill="#00b9ff" d="M145.1 80.1 139.7 79.9 128.4 77.7 119.0 77.5 119.0 32.0 195.5 32.0 195.5 73.0 189.8 70.6 184.8 69.0 181.1 68.4 177.8 68.5 171.8 70.3 152.7 78.4 148.7 79.6 145.1 80.1Z"/>
<path fill-rule="evenodd" fill="#00d1ff" d="M146.1 78.8 142.4 78.5 138.7 77.6 126.3 72.0 123.3 71.5 119.0 71.3 119.0 32.0 195.5 32.0 195.5 69.2 184.8 66.7 181.8 66.5 179.1 66.8 174.8 68.2 155.1 76.8 150.4 78.2 146.1 78.8Z"/>
<path fill-rule="evenodd" fill="#00e8ff" d="M150.1 77.5 144.7 77.6 139.7 76.4 134.7 73.6 125.3 66.6 122.7 65.5 119.0 65.1 119.0 32.0 195.5 32.0 195.5 64.4 185.5 63.6 181.1 64.1 178.1 65.3 169.1 70.1 161.1 73.9 154.7 76.3 150.1 77.5Z"/>
<path fill-rule="evenodd" fill="#00ffff" d="M149.4 76.8 146.4 76.8 143.4 76.4 140.7 75.5 138.0 74.1 132.9 70.1 124.3 60.9 122.0 59.5 119.0 58.9 119.0 32.0 195.5 32.0 195.5 58.7 187.1 58.7 183.5 59.4 180.8 60.9 173.5 66.8 167.3 70.4 157.1 74.9 153.1 76.2 149.4 76.8Z"/>
<path fill-rule="evenodd" fill="#17ffe8" d="M148.7 76.1 145.4 75.9 142.4 75.1 139.4 73.6 136.7 71.8 134.1 69.4 131.5 66.4 124.0 54.9 122.0 53.4 119.0 52.7 119.0 32.0 195.5 32.0 195.5 52.5 187.5 52.6 183.8 53.5 181.5 55.5 175.4 63.7 173.0 66.1 170.2 68.1 164.8 71.2 158.1 74.0 153.1 75.6 148.7 76.1Z"/>
<path fill-rule="evenodd" fill="#2effd1" d="M152.1 75.2 146.7 75.3 142.1 74.0 137.4 71.1 133.3 66.8 129.8 61.1 126.0 51.5 124.7 48.9 123.7 47.8 122.3 47.0 119.0 46.4 119.0 32.0 195.5 32.0 195.5 46.3 186.5 46.4 184.5 46.7 182.8 47.5 181.5 48.8 180.5 50.5 177.6 57.7 175.9 61.1 174.3 63.4 172.1 65.8 168.1 68.8 163.1 71.4 157.1 73.9 152.1 75.2Z"/>
<path fill-rule="evenodd" fill="#46ffb9" d="M152.7 74.5 147.7 74.7 143.1 73.5 138.7 71.0 134.8 67.1 132.1 63.1 129.9 58.1 128.6 53.1 127.2 45.0 126.3 42.7 125.3 41.4 124.0 40.7 119.0 40.0 119.0 32.0 195.5 32.0 195.5 40.0 183.8 40.2 181.5 40.9 180.1 42.0 178.9 44.7 177.4 53.4 176.0 58.1 174.1 62.1 171.4 65.4 167.8 68.3 163.1 70.9 157.8 73.1 152.7 74.5Z"/>
<path fill-rule="evenodd" fill="#5dffa2" d="M150.1 74.1 146.1 73.7 142.1 72.2 138.4 69.6 135.1 66.1 132.1 60.7 130.2 54.4 129.6 48.4 129.9 38.7 129.4 36.1 128.4 34.9 126.3 34.2 119.0 33.8 119.0 32.0 195.5 32.0 195.5 33.8 181.8 33.9 179.1 34.3 177.5 35.1 176.6 36.3 176.1 38.3 176.5 48.0 175.9 54.1 174.5 59.1 172.3 63.1 170.7 65.1 168.4 67.1 163.0 70.4 156.1 73.1 150.1 74.1Z"/>
<path fill-rule="evenodd" fill="#74ff8b" d="M151.4 73.5 148.4 73.4 145.7 72.9 143.1 71.9 140.4 70.3 138.0 68.2 135.9 65.8 134.2 63.1 132.8 60.1 131.2 54.1 131.0 47.4 132.0 41.4 134.9 32.0 171.1 32.0 174.1 41.4 175.1 47.7 174.8 54.4 174.0 57.7 173.0 60.4 171.6 62.7 169.7 65.1 165.0 68.8 158.1 72.0 154.7 73.0 151.4 73.5Z"/>
<path fill-rule="evenodd" fill="#8bff74" d="M152.4 72.8 147.4 72.6 142.7 70.9 138.6 67.8 135.3 63.4 133.1 58.4 132.0 52.7 132.2 46.7 133.6 41.0 135.8 36.3 138.9 32.0 167.1 32.0 169.4 35.1 171.3 38.3 172.6 41.7 173.5 45.0 174.0 48.4 174.1 52.1 173.7 55.4 172.8 58.7 171.6 61.4 170.0 63.7 168.2 65.8 165.8 67.7 162.8 69.5 159.1 71.1 155.7 72.2 152.4 72.8Z"/>
<path fill-rule="evenodd" fill="#a2ff5d" d="M153.4 72.1 150.1 72.3 147.1 71.9 144.1 70.8 141.4 69.2 139.0 67.1 136.8 64.4 135.1 61.4 133.8 58.1 133.1 54.7 132.8 51.0 133.1 47.4 134.0 43.7 135.3 40.4 137.0 37.2 139.4 34.3 141.9 32.0 164.2 32.0 166.8 34.4 169.1 37.3 170.9 40.7 172.2 44.0 173.1 49.0 173.0 54.1 171.9 58.7 169.9 62.7 166.9 66.1 163.1 68.7 158.1 70.9 153.4 72.1Z"/>
<path fill-rule="evenodd" fill="#b9ff46" d="M154.1 71.4 150.7 71.7 147.4 71.3 144.4 70.2 141.7 68.6 139.0 66.1 137.0 63.4 135.3 60.1 134.3 56.7 133.7 53.1 133.8 49.4 134.4 45.7 135.5 42.4 137.3 39.0 139.4 36.2 141.7 34.0 144.7 32.0 161.4 32.0 164.8 34.3 167.9 37.7 170.2 41.7 171.7 46.0 172.4 50.4 172.1 55.1 171.0 59.1 169.1 62.7 166.4 65.7 163.1 68.1 158.8 70.2 154.1 71.4Z"/>
<path fill-rule="evenodd" fill="#d1ff2e" d="M151.7 71.1 148.0 70.8 144.4 69.5 141.3 67.4 138.5 64.4 136.4 60.7 135.0 56.7 134.4 52.4 134.7 48.0 135.8 44.0 137.7 40.2 140.4 36.7 143.4 34.2 147.9 32.0 158.1 32.0 161.1 33.3 164.1 35.3 166.5 37.7 168.7 40.7 170.2 44.0 171.2 47.7 171.6 51.4 171.3 55.1 170.6 58.1 169.3 61.1 167.5 63.7 165.4 65.8 162.6 67.8 159.1 69.5 155.4 70.6 151.7 71.1Z"/>
<path fill-rule="evenodd" fill="#e8ff17" d="M152.7 70.4 149.4 70.4 146.1 69.5 143.1 67.9 140.4 65.6 138.2 62.7 136.6 59.4 135.5 55.7 135.2 51.7 135.5 48.0 136.6 44.4 138.2 41.0 140.5 38.0 143.4 35.5 146.4 33.8 149.7 32.7 153.1 32.4 156.7 32.8 160.1 34.0 163.1 35.8 165.8 38.3 168.0 41.4 169.6 44.7 170.6 48.4 170.9 52.1 170.5 55.7 169.5 59.1 168.0 62.1 166.1 64.4 163.4 66.6 160.1 68.5 156.4 69.8 152.7 70.4Z"/>
<path fill-rule="evenodd" fill="#ffff00" d="M153.4 69.8 150.1 69.8 146.9 69.1 144.1 67.7 141.4 65.6 139.0 62.8 137.4 59.7 136.3 56.1 135.9 52.4 136.2 48.7 137.1 45.4 138.6 42.0 140.7 39.1 143.4 36.6 146.4 34.8 149.4 33.8 152.7 33.4 156.1 33.7 159.4 34.7 162.4 36.5 164.9 38.7 167.1 41.5 168.7 44.7 169.7 48.0 170.1 51.7 169.9 55.1 169.0 58.4 167.6 61.4 165.8 63.7 163.4 65.9 160.3 67.8 156.7 69.1 153.4 69.8Z"/>
<path fill-rule="evenodd" fill="#ffe800" d="M153.7 69.1 150.4 69.2 147.4 68.5 144.7 67.3 142.1 65.3 139.9 62.7 138.2 59.7 137.1 56.4 136.7 53.1 136.8 49.4 137.6 46.0 139.0 42.9 141.0 40.0 143.4 37.8 146.1 36.0 149.1 34.9 152.4 34.3 155.7 34.6 158.8 35.5 161.6 37.0 164.1 39.0 166.3 41.7 167.9 44.7 169.0 48.0 169.4 51.4 169.2 54.7 168.5 57.7 167.2 60.7 165.4 63.2 163.1 65.4 160.3 67.1 157.1 68.4 153.7 69.1Z"/>
<path fill-rule="evenodd" fill="#ffd100" d="M153.7 68.5 150.7 68.5 147.7 67.9 145.1 66.7 142.5 64.7 140.4 62.2 138.8 59.4 137.8 56.4 137.4 53.1 137.5 49.7 138.3 46.4 139.7 43.4 141.5 40.7 143.7 38.6 146.4 36.8 149.4 35.7 152.4 35.3 155.4 35.4 158.4 36.3 161.1 37.7 163.6 39.7 165.5 42.0 167.2 45.0 168.2 48.0 168.7 51.4 168.5 54.7 167.8 57.7 166.6 60.4 165.0 62.7 162.8 64.8 160.1 66.5 157.0 67.8 153.7 68.5Z"/>
<path fill-rule="evenodd" fill="#ffb900" d="M153.4 67.8 150.4 67.7 147.7 67.1 145.1 65.8 142.9 64.1 141.0 61.7 139.5 59.1 138.5 56.1 138.1 52.7 138.3 49.4 139.1 46.4 140.4 43.7 142.3 41.0 144.5 39.0 147.1 37.5 149.7 36.5 152.7 36.1 155.7 36.4 158.4 37.2 161.1 38.7 163.4 40.7 165.4 43.3 166.8 46.0 167.6 49.0 167.9 52.1 167.7 55.1 166.9 58.1 165.8 60.4 164.0 62.7 161.8 64.7 159.4 66.1 156.4 67.2 153.4 67.8Z"/>
<path fill-rule="evenodd" fill="#ffa200" d="M155.1 66.8 152.1 67.1 149.4 66.8 146.7 65.8 144.5 64.4 142.4 62.4 140.8 60.1 139.7 57.4 139.0 54.4 138.9 51.4 139.3 48.4 140.4 45.4 141.8 43.0 143.7 40.8 146.1 39.0 148.7 37.7 151.4 37.1 154.1 37.1 156.7 37.6 159.4 38.7 161.8 40.3 163.8 42.4 165.3 44.7 166.4 47.4 167.1 50.4 167.1 53.4 166.7 56.1 165.8 58.7 164.4 61.1 162.6 63.1 160.4 64.7 157.8 66.0 155.1 66.8Z"/>
<path fill-rule="evenodd" fill="#ff8b00" d="M154.4 66.1 151.7 66.2 149.1 65.8 146.7 64.8 144.6 63.4 142.7 61.4 141.2 59.1 140.2 56.4 139.7 53.7 139.7 50.7 140.3 48.0 141.3 45.4 142.8 43.0 144.7 41.0 147.1 39.4 149.4 38.5 152.1 37.9 154.7 38.0 157.1 38.6 159.4 39.7 161.7 41.4 163.5 43.4 164.9 45.7 165.9 48.4 166.3 51.0 166.3 53.7 165.8 56.4 164.8 59.0 163.4 61.0 161.8 62.8 159.4 64.4 157.1 65.4 154.4 66.1Z"/>
<path fill-rule="evenodd" fill="#ff7400" d="M154.7 65.1 152.1 65.3 149.7 65.0 147.4 64.1 145.4 62.8 143.6 61.1 142.3 59.1 141.2 56.7 140.6 54.1 140.6 51.4 141.0 48.7 141.8 46.4 143.2 44.0 144.9 42.0 147.1 40.5 149.4 39.4 151.7 38.9 154.1 38.9 156.4 39.3 158.8 40.3 160.8 41.7 162.4 43.4 163.9 45.7 164.9 48.0 165.4 50.7 165.5 53.4 165.1 55.7 164.2 58.1 163.0 60.1 161.4 61.9 159.4 63.4 157.1 64.5 154.7 65.1Z"/>
<path fill-rule="evenodd" fill="#ff5d00" d="M154.4 64.1 152.1 64.2 149.7 63.8 147.7 63.1 145.7 61.7 144.1 60.1 142.9 58.1 141.9 55.7 141.5 53.4 141.5 51.0 141.9 48.7 142.8 46.4 144.1 44.4 145.7 42.6 147.7 41.2 149.7 40.3 152.1 39.9 154.4 39.9 156.4 40.4 158.6 41.4 160.4 42.7 161.9 44.4 163.2 46.4 164.1 48.7 164.5 51.0 164.5 53.4 164.1 55.7 163.3 57.7 162.1 59.7 160.4 61.4 158.8 62.6 156.7 63.5 154.4 64.1Z"/>
<path fill-rule="evenodd" fill="#ff4600" d="M154.4 62.8 152.1 62.9 150.1 62.6 148.1 61.8 146.5 60.7 145.1 59.3 143.8 57.4 142.6 53.4 142.6 51.0 142.9 49.0 144.7 45.3 146.1 43.7 147.9 42.4 149.7 41.5 151.7 41.0 153.7 40.9 155.7 41.3 157.8 42.1 159.4 43.2 160.9 44.7 162.1 46.5 163.0 48.7 163.4 50.7 163.5 53.1 163.1 55.1 161.4 58.6 160.1 60.1 158.4 61.3 156.4 62.3 154.4 62.8Z"/>
<path fill-rule="evenodd" fill="#ff2e00" d="M154.4 61.1 150.7 61.0 147.4 59.4 145.1 56.7 143.9 53.4 144.1 49.7 144.7 47.7 145.7 46.0 148.4 43.5 151.7 42.2 155.1 42.4 158.4 44.0 160.8 46.7 162.1 50.4 162.0 54.1 160.4 57.5 157.8 59.9 154.4 61.1Z"/>
<path fill-rule="evenodd" fill="#ff1700" d="M154.1 58.4 151.1 58.3 148.4 57.2 146.5 55.1 145.6 52.4 145.8 49.4 147.1 46.7 149.4 44.7 152.1 43.8 155.1 44.0 157.6 45.4 159.4 47.5 160.4 50.4 160.2 53.4 159.1 55.7 157.1 57.5 154.1 58.4Z"/>
<path fill-rule="evenodd" fill="#ff0000" d="M155.1 53.1 151.1 53.1 149.3 52.1 148.7 50.7 148.8 49.4 149.4 48.0 150.4 47.0 151.7 46.3 153.4 46.2 155.1 46.7 156.4 47.7 157.3 49.4 157.3 51.0 156.5 52.4 155.1 53.1Z"/>
</g>
<path fill="none" stroke="#000" stroke-opacity="0.55" stroke-width="0.45" d="M174.4 95.5 178.8 94.4 182.8 92.6 185.9 90.1 188.0 87.1 188.8 84.1 188.3 81.1 186.4 78.1 183.5 75.8 180.5 74.3 177.1 73.4 173.8 73.3 170.4 73.9 165.4 75.6 160.4 78.1 156.5 80.8 154.4 83.1 153.6 85.5 154.0 87.8 155.7 90.4 158.4 92.5 162.1 94.3 165.8 95.3 170.1 95.8 174.4 95.5"/>
<path fill="none" stroke="#000" stroke-opacity="0.55" stroke-width="0.45" d="M195.5 70.2 184.8 67.4 181.5 67.0 178.8 67.3 173.8 68.8 154.4 77.2 149.7 78.6 145.7 79.1 142.4 78.9 139.0 78.2 126.7 73.4 119.0 72.8"/>
<path fill="none" stroke="#000" stroke-opacity="0.55" stroke-width="0.45" d="M195.5 38.4 184.1 38.6 181.8 39.0 180.1 39.8 179.1 41.0 178.5 42.8 177.2 52.1 176.0 57.4 174.4 61.1 172.0 64.4 167.8 68.1 161.7 71.4 155.1 73.8 149.4 74.6 145.7 74.2 141.9 72.8 138.4 70.4 135.4 67.4 132.4 63.1 130.1 57.7 128.8 52.4 127.7 43.3 126.9 41.0 126.0 39.9 124.3 39.0 119.0 38.5"/>
<path fill="none" stroke="#000" stroke-opacity="0.55" stroke-width="0.45" d="M159.0 32.0 162.1 33.5 165.0 35.7 167.4 38.3 169.3 41.4 170.8 45.0 171.6 48.7 171.8 52.4 171.3 56.1 170.3 59.4 169.0 62.1 167.1 64.4 164.9 66.4 161.7 68.4 158.1 70.0 154.4 71.0 151.1 71.3 148.1 70.9 145.1 70.0 142.4 68.5 140.0 66.4 137.8 63.7 136.2 60.7 135.0 57.4 134.4 54.1 134.3 50.4 134.7 47.0 137.1 40.7 139.0 37.9 141.4 35.4 144.1 33.4 147.0 32.0"/>
<path fill="none" stroke="#000" stroke-opacity="0.55" stroke-width="0.45" d="M154.7 67.4 151.7 67.6 149.1 67.3 146.4 66.3 144.0 64.7 141.9 62.7 140.2 60.1 139.0 57.1 138.4 54.1 138.4 50.7 138.9 47.7 140.1 44.7 141.7 42.1 143.7 39.9 146.1 38.2 148.7 37.0 151.7 36.4 154.7 36.5 157.4 37.1 160.1 38.3 162.4 40.0 164.4 42.2 166.0 44.7 167.1 47.7 167.7 50.7 167.7 53.7 167.1 56.7 166.1 59.4 164.6 61.7 162.7 63.7 160.3 65.4 154.7 67.4"/>
<path fill="none" stroke="#000" stroke-opacity="0.55" stroke-width="0.45" d="M155.1 61.4 151.1 61.5 147.7 60.2 145.1 57.4 143.7 54.1 143.7 50.0 145.1 46.4 147.7 43.5 151.4 42.0 155.1 42.1 158.4 43.6 161.0 46.4 162.4 50.0 162.4 53.7 161.1 57.2 158.4 60.0 155.1 61.4"/>
</g>
<clipPath id="c5"><path d="M155.84 110.50C158.31 110.50 161.72 111.00 164.30 111.70C166.89 112.40 169.00 113.70 171.35 114.70C173.70 115.70 176.05 116.70 178.40 117.70C180.75 118.70 183.45 119.20 185.45 120.70C187.45 122.20 189.21 124.20 190.38 126.70C191.56 129.20 192.26 132.60 192.50 135.70C192.74 138.80 192.44 142.30 191.80 145.30C191.15 148.30 190.62 150.90 188.62 153.70C186.62 156.50 183.34 159.65 179.81 162.10C176.28 164.55 171.59 167.05 167.47 168.40C163.36 169.75 159.66 170.40 155.13 170.20C150.61 170.00 144.44 168.95 140.33 167.20C136.22 165.45 133.16 162.55 130.46 159.70C127.76 156.85 125.52 153.40 124.11 150.10C122.70 146.80 122.19 143.10 122.00 139.90C121.81 136.70 122.40 133.40 122.99 130.90C123.57 128.40 124.28 126.60 125.53 124.90C126.77 123.20 128.46 121.90 130.46 120.70C132.46 119.50 135.16 118.80 137.51 117.70C139.86 116.60 142.56 115.10 144.56 114.10C146.56 113.10 147.62 112.30 149.50 111.70C151.38 111.10 153.37 110.50 155.84 110.50Z"/></clipPath>
<g clip-path="url(#c5)"><g filter="url(#bl)">
<rect x="119.0" y="107.5" width="76.5" height="66.0" fill="#00009a"/>
<path fill-rule="evenodd" fill="#0000b9" d="M195.5 173.6 119.0 173.6 118.9 107.5 195.5 107.4 195.5 173.6ZM168.1 160.2 170.8 159.1 172.4 157.2 172.4 155.2 170.8 153.4 168.1 152.4 165.2 152.5 162.4 153.5 160.4 155.2 160.1 156.2 160.1 157.2 160.6 158.2 161.7 159.2 164.8 160.3 168.1 160.2Z"/>
<path fill-rule="evenodd" fill="#0000d1" d="M195.5 173.6 119.0 173.6 118.9 107.5 195.5 107.4 195.5 173.6ZM168.0 161.8 172.0 160.5 173.4 159.5 174.5 158.2 175.0 156.8 175.0 155.2 174.4 153.8 173.2 152.5 169.8 150.8 165.4 150.4 161.1 151.5 158.3 153.5 157.3 155.2 157.2 156.8 157.9 158.5 159.1 159.8 160.8 160.8 163.1 161.6 165.4 162.0 168.0 161.8Z"/>
<path fill-rule="evenodd" fill="#0000e8" d="M195.5 173.6 119.0 173.6 118.9 107.5 195.5 107.4 195.5 173.6ZM167.1 163.2 169.8 162.8 172.1 162.0 174.2 160.8 175.8 159.3 176.7 157.5 176.9 155.8 176.6 154.2 175.5 152.5 174.0 151.2 171.8 150.0 169.4 149.3 166.8 149.0 164.1 149.1 161.4 149.7 159.4 150.5 157.4 151.8 156.0 153.5 155.2 155.5 155.4 157.5 156.5 159.5 158.4 161.2 161.1 162.4 164.1 163.1 167.1 163.2Z"/>
<path fill-rule="evenodd" fill="#0000ff" d="M195.5 173.6 119.0 173.6 118.9 107.5 195.5 107.4 195.5 173.6ZM168.0 164.2 171.1 163.6 173.8 162.5 175.9 161.2 177.5 159.4 178.4 157.5 178.5 155.5 177.9 153.5 176.5 151.5 174.5 150.0 171.9 148.8 169.1 148.1 166.1 147.9 163.1 148.1 160.3 148.8 157.8 150.0 155.7 151.5 154.2 153.5 153.6 155.8 154.0 158.2 155.5 160.5 157.8 162.2 160.8 163.5 164.4 164.2 168.0 164.2Z"/>
<path fill-rule="evenodd" fill="#0017ff" d="M195.5 173.6 119.0 173.6 118.9 107.5 195.5 107.4 195.5 173.6ZM167.8 165.2 171.1 164.6 174.1 163.6 176.5 162.2 178.6 160.2 179.7 158.2 180.0 155.8 179.4 153.5 178.1 151.5 175.8 149.6 173.1 148.2 170.1 147.4 166.8 147.0 163.4 147.1 160.1 147.8 157.1 149.1 154.7 150.8 152.9 153.2 152.1 155.8 152.6 158.5 154.2 160.8 156.7 162.9 160.1 164.3 163.8 165.1 167.8 165.2Z"/>
<path fill-rule="evenodd" fill="#002eff" d="M195.5 173.5 119.0 173.6 118.9 107.5 195.5 107.4 195.5 173.5ZM170.1 165.8 173.5 165.0 176.6 163.5 178.8 161.8 180.5 159.5 181.3 157.2 181.2 154.5 180.1 152.2 178.1 150.0 175.5 148.2 172.4 147.0 168.8 146.3 165.1 146.1 161.4 146.6 158.1 147.6 155.1 149.2 152.8 151.2 151.2 153.8 150.9 156.8 151.8 159.5 154.0 162.2 157.1 164.2 161.1 165.6 165.4 166.1 170.1 165.8Z"/>
<path fill-rule="evenodd" fill="#0046ff" d="M195.5 173.5 119.0 173.6 118.9 107.5 195.5 107.4 195.5 173.5ZM169.7 166.8 173.5 166.0 177.0 164.5 179.7 162.5 181.6 160.2 182.6 157.5 182.5 154.8 181.4 152.2 179.5 149.8 176.8 147.9 173.5 146.5 169.4 145.6 165.4 145.3 161.4 145.8 157.8 146.8 154.4 148.5 152.0 150.5 150.1 153.5 149.7 156.5 150.5 159.5 152.7 162.4 156.1 164.7 160.1 166.2 164.8 167.0 169.7 166.8Z"/>
<path fill-rule="evenodd" fill="#005dff" d="M195.5 173.5 119.0 173.6 118.9 107.5 195.5 107.4 195.5 173.5ZM169.0 167.8 173.5 167.0 177.1 165.6 180.1 163.7 182.5 161.2 183.7 158.5 183.9 155.5 183.1 152.8 181.2 150.2 178.5 147.9 174.9 146.2 171.1 145.1 166.8 144.6 162.4 144.9 158.2 145.8 154.4 147.5 151.7 149.5 149.4 152.5 148.5 155.8 149.1 159.2 151.1 162.2 154.4 164.8 158.8 166.8 163.8 167.8 169.0 167.8Z"/>
<path fill-rule="evenodd" fill="#0074ff" d="M195.5 173.5 119.0 173.6 118.9 107.5 195.5 107.4 195.5 173.5ZM168.0 168.8 172.4 168.3 176.8 166.9 180.5 164.9 183.0 162.5 184.6 159.8 185.3 156.8 184.8 153.8 183.2 150.8 180.5 148.2 177.0 146.2 172.8 144.7 168.4 144.0 163.8 144.0 159.1 144.8 155.1 146.3 151.7 148.3 148.8 151.5 148.0 153.2 147.5 155.2 147.5 157.2 147.9 158.8 149.7 162.1 153.1 165.1 157.4 167.3 162.4 168.5 168.0 168.8Z"/>
<path fill-rule="evenodd" fill="#008bff" d="M195.5 173.5 119.0 173.6 118.9 107.5 195.5 107.4 195.5 173.5ZM171.4 169.5 176.1 168.4 180.1 166.5 183.2 164.2 185.5 161.2 186.5 158.2 186.4 154.8 185.2 151.8 182.7 148.8 179.4 146.5 175.1 144.6 170.4 143.6 165.4 143.3 160.4 143.8 156.1 145.1 152.4 146.9 149.2 149.5 147.9 151.2 146.9 153.2 146.4 156.8 146.8 158.8 147.6 160.8 150.3 164.2 154.4 167.0 159.8 168.9 165.4 169.8 171.4 169.5Z"/>
<path fill-rule="evenodd" fill="#00a2ff" d="M195.5 173.5 119.0 173.6 118.9 107.5 195.5 107.4 195.5 173.5ZM168.3 170.8 173.5 170.3 178.5 168.8 182.5 166.6 185.4 163.8 187.4 160.5 188.0 157.2 187.4 153.8 185.6 150.5 182.5 147.5 178.8 145.3 174.5 143.7 169.4 142.8 164.1 142.7 159.1 143.4 154.4 145.0 150.6 147.2 147.3 150.5 146.2 152.5 145.5 154.5 145.3 156.5 145.6 158.5 146.3 160.5 147.5 162.5 151.1 166.0 156.1 168.7 162.1 170.4 168.3 170.8Z"/>
<path fill-rule="evenodd" fill="#00b9ff" d="M195.5 173.5 119.0 173.5 118.9 107.5 195.5 107.4 195.5 173.5ZM171.4 171.8 176.8 170.8 181.5 168.9 185.1 166.4 187.8 163.2 189.3 159.5 189.3 155.8 188.0 152.2 185.5 148.8 181.8 146.0 177.3 143.8 172.1 142.5 166.8 142.0 161.1 142.4 156.1 143.6 151.4 145.8 147.9 148.5 145.3 152.2 144.6 154.2 144.3 156.5 144.6 158.8 145.3 160.8 146.4 162.8 148.1 164.8 152.7 168.3 158.4 170.6 164.8 171.8 171.4 171.8Z"/>
<path fill-rule="evenodd" fill="#00d1ff" d="M195.5 173.5 119.0 173.5 118.9 107.5 195.5 107.4 195.5 173.5ZM173.2 173.2 178.8 172.0 183.5 170.0 187.1 167.2 189.7 163.8 191.0 159.8 190.9 155.8 189.3 151.8 186.3 148.2 182.1 145.2 177.5 143.1 171.8 141.7 166.1 141.3 160.4 141.8 155.1 143.3 150.4 145.5 146.7 148.5 145.2 150.5 144.1 152.5 143.4 154.8 143.3 157.2 143.7 159.5 144.6 161.8 145.9 163.8 147.7 165.9 150.1 167.8 152.7 169.5 159.1 172.0 166.1 173.3 173.2 173.2Z"/>
<path fill-rule="evenodd" fill="#00e8ff" d="M195.5 173.5 183.5 173.5 186.8 171.6 189.5 169.1 191.6 165.8 192.8 162.5 193.1 159.2 192.6 155.8 191.3 152.5 189.2 149.5 184.9 145.8 179.5 143.0 173.1 141.3 166.4 140.7 162.1 140.9 157.8 141.7 153.7 143.0 150.4 144.7 147.4 146.8 145.0 149.2 143.3 151.8 142.4 154.5 142.2 157.2 142.7 160.2 143.9 162.8 145.8 165.5 148.4 168.0 151.4 170.1 155.1 171.9 159.3 173.5 119.0 173.5 118.9 107.5 195.5 107.4 195.5 173.5Z"/>
<path fill-rule="evenodd" fill="#00ffff" d="M154.7 173.5 119.0 173.5 118.9 107.5 195.5 107.4 195.5 158.2 193.5 153.2 190.3 148.8 185.7 145.2 180.4 142.5 173.8 140.7 167.1 140.0 160.4 140.5 154.1 142.2 148.7 144.8 144.5 148.5 143.0 150.5 141.9 152.8 141.3 154.8 141.1 157.2 141.4 159.5 142.1 161.8 144.7 166.1 149.1 170.1 154.7 173.5Z"/>
<path fill-rule="evenodd" fill="#17ffe8" d="M150.7 173.5 119.0 173.5 118.9 107.5 195.5 107.4 195.5 152.7 191.9 148.5 187.1 144.9 181.8 142.2 176.1 140.4 169.8 139.5 163.1 139.6 157.1 140.6 151.4 142.6 146.7 145.3 143.1 148.8 140.8 152.8 140.0 157.2 140.7 161.5 142.7 165.5 145.7 169.2 151.0 173.5 150.7 173.5Z"/>
<path fill-rule="evenodd" fill="#2effd1" d="M147.1 173.5 119.0 173.5 118.9 107.5 195.5 107.4 195.5 149.6 190.8 145.8 185.7 142.8 180.1 140.6 174.1 139.3 167.8 138.7 161.4 139.1 155.4 140.3 150.1 142.4 145.6 145.2 142.2 148.5 139.8 152.5 138.8 156.5 139.1 160.5 140.5 164.5 142.7 168.2 147.3 173.5 147.1 173.5Z"/>
<path fill-rule="evenodd" fill="#46ffb9" d="M143.4 173.5 119.0 173.5 118.9 107.5 195.5 107.4 195.5 147.1 189.8 143.6 184.5 141.2 178.8 139.4 172.8 138.3 166.4 138.0 160.1 138.6 154.4 139.9 149.1 142.1 144.7 144.8 141.5 147.8 139.1 151.5 137.7 155.5 137.5 159.2 138.3 163.2 139.7 166.7 143.4 173.5Z"/>
<path fill-rule="evenodd" fill="#5dffa2" d="M139.0 173.5 119.0 173.5 118.9 107.5 195.5 107.5 195.5 144.8 188.8 141.7 183.1 139.6 177.5 138.2 171.4 137.4 165.1 137.4 159.1 138.1 153.4 139.5 148.4 141.6 144.2 144.2 140.8 147.2 138.4 150.5 136.8 154.2 136.2 157.5 136.2 161.2 136.9 164.5 138.9 171.2 139.0 173.5Z"/>
<path fill-rule="evenodd" fill="#74ff8b" d="M133.4 173.5 119.0 173.5 118.9 107.5 195.5 107.5 195.5 142.4 187.1 139.6 181.5 138.0 175.8 137.0 170.1 136.6 164.1 136.7 158.1 137.5 152.7 138.9 147.7 141.0 143.7 143.4 140.4 146.2 137.9 149.2 136.0 152.5 134.9 155.8 134.5 159.2 135.0 170.2 134.4 172.2 133.4 173.5Z"/>
<path fill-rule="evenodd" fill="#8bff74" d="M125.7 173.5 119.0 173.5 119.0 107.4 195.5 107.5 195.5 140.0 179.8 136.6 174.1 135.9 168.8 135.7 163.1 136.0 157.4 136.9 152.1 138.3 147.5 140.2 143.9 142.2 140.8 144.5 138.1 147.2 136.0 149.8 134.4 152.8 133.2 156.2 131.9 165.8 131.2 168.5 129.0 171.4 125.7 173.5Z"/>
<path fill-rule="evenodd" fill="#a2ff5d" d="M119.7 171.8 119.0 172.1 119.0 107.4 195.5 107.5 195.5 137.2 191.2 137.0 176.8 135.1 167.4 134.9 162.1 135.3 156.7 136.2 151.7 137.6 147.4 139.3 141.2 142.8 138.4 145.2 136.2 147.5 134.2 150.2 132.4 153.5 129.2 163.2 127.7 166.2 124.7 169.1 119.7 171.8Z"/>
<path fill-rule="evenodd" fill="#b9ff46" d="M119.3 167.3 119.0 167.4 119.0 107.4 195.5 107.5 195.5 134.1 189.8 134.6 174.1 133.8 165.1 134.1 155.4 135.6 147.1 138.4 140.8 141.8 135.7 146.2 131.5 151.5 125.7 162.3 123.0 165.0 119.3 167.3Z"/>
<path fill-rule="evenodd" fill="#d1ff2e" d="M119.0 162.7 119.0 107.4 195.5 107.5 195.5 130.4 191.5 131.5 187.1 132.2 170.1 132.7 161.4 133.6 153.7 135.1 146.7 137.4 140.7 140.5 135.4 144.5 131.0 149.2 124.0 158.6 121.7 160.8 119.0 162.7Z"/>
<path fill-rule="evenodd" fill="#e8ff17" d="M119.0 157.9 119.0 107.5 195.5 107.5 195.5 126.4 190.1 128.5 185.1 129.8 159.8 132.8 152.4 134.4 145.7 136.6 139.9 139.5 134.7 143.1 130.5 146.8 123.3 154.4 119.0 157.9Z"/>
<path fill-rule="evenodd" fill="#ffff00" d="M119.0 153.3 119.0 107.5 195.5 107.5 195.5 122.3 187.5 126.0 181.5 128.0 175.8 129.2 156.1 132.3 149.7 133.9 144.4 135.8 139.3 138.2 134.4 141.2 122.7 150.7 119.0 153.3Z"/>
<path fill-rule="evenodd" fill="#ffe800" d="M119.0 148.9 119.0 107.5 195.5 107.5 195.5 118.1 190.5 120.8 183.2 124.5 176.8 126.8 171.1 128.2 153.1 131.7 142.7 134.9 138.2 136.8 133.9 139.2 119.0 148.9Z"/>
<path fill-rule="evenodd" fill="#ffd100" d="M119.0 144.6 119.0 107.5 195.5 107.5 195.5 113.7 185.5 120.0 180.1 122.9 175.5 124.9 170.5 126.5 150.1 131.0 141.0 133.6 133.0 137.0 119.0 144.6Z"/>
<path fill-rule="evenodd" fill="#ffb900" d="M119.0 140.3 119.0 107.5 195.5 107.5 195.5 109.0 181.5 119.1 173.8 123.2 164.9 126.2 146.3 130.2 138.4 132.3 130.4 135.2 119.0 140.3Z"/>
<path fill-rule="evenodd" fill="#ffa200" d="M119.0 135.9 119.0 107.5 190.4 107.5 178.5 117.8 174.1 120.6 169.3 122.8 159.4 125.8 133.7 130.9 126.7 133.0 119.0 135.9Z"/>
<path fill-rule="evenodd" fill="#ff8b00" d="M119.3 131.6 119.0 131.7 119.0 107.5 184.2 107.5 179.1 113.5 175.5 116.8 170.9 119.8 165.8 122.1 160.4 123.8 154.4 125.1 129.4 128.8 119.3 131.6Z"/>
<path fill-rule="evenodd" fill="#ff7400" d="M119.7 127.5 119.0 127.7 119.0 107.5 179.0 107.5 175.9 112.5 172.4 116.0 167.8 119.1 162.4 121.4 157.4 122.8 151.4 123.9 129.0 125.7 119.7 127.5Z"/>
<path fill-rule="evenodd" fill="#ff5d00" d="M119.0 123.9 119.0 107.5 174.4 107.5 172.4 111.8 169.2 115.5 164.8 118.4 159.2 120.5 154.1 121.7 148.1 122.5 127.4 122.9 119.0 123.9Z"/>
<path fill-rule="evenodd" fill="#ff4600" d="M149.1 120.5 141.4 120.7 125.7 119.7 119.0 120.1 119.0 107.5 170.0 107.5 169.3 110.2 168.1 112.5 166.3 114.5 164.1 116.2 160.9 117.8 157.4 119.1 153.4 120.0 149.1 120.5Z"/>
<path fill-rule="evenodd" fill="#ff2e00" d="M149.1 118.5 141.7 118.5 126.0 116.3 119.0 116.2 119.0 107.5 165.4 107.5 165.3 109.5 164.6 111.5 163.4 113.2 161.4 114.9 159.1 116.2 156.1 117.3 149.1 118.5Z"/>
<path fill-rule="evenodd" fill="#ff1700" d="M148.4 116.2 144.4 116.1 140.0 115.5 126.0 111.9 122.7 111.6 119.0 111.7 119.0 107.5 160.2 107.5 160.5 109.2 160.1 110.8 159.3 112.2 157.8 113.5 153.7 115.3 148.4 116.2Z"/>
<path fill-rule="evenodd" fill="#ff0000" d="M149.7 112.2 146.1 112.4 142.4 111.6 139.5 110.2 136.3 107.5 152.1 107.5 152.9 108.8 152.8 110.2 151.7 111.4 149.7 112.2Z"/>
</g>
<path fill="none" stroke="#000" stroke-opacity="0.55" stroke-width="0.45" d="M168.8 167.2 172.8 166.4 176.2 165.2 179.4 163.2 181.5 161.0 182.8 158.2 183.0 155.5 182.2 152.8 180.5 150.5 178.1 148.5 174.8 146.8 170.8 145.6 166.8 145.2 162.8 145.4 158.8 146.3 155.1 147.8 152.4 149.8 150.1 152.8 149.4 155.8 149.9 158.8 151.8 161.8 155.1 164.4 159.1 166.2 163.8 167.1 168.8 167.2"/>
<path fill="none" stroke="#000" stroke-opacity="0.55" stroke-width="0.45" d="M172.4 172.8 177.8 171.8 182.5 169.9 186.4 167.2 189.1 163.8 190.5 159.8 190.5 155.8 188.9 151.8 186.3 148.5 182.3 145.5 177.5 143.3 172.1 141.9 166.4 141.5 160.8 141.9 155.4 143.3 150.7 145.5 147.0 148.5 144.3 152.5 143.7 154.8 143.5 157.2 144.7 161.5 147.7 165.5 152.4 169.0 158.8 171.6 165.4 172.9 172.4 172.8"/>
<path fill="none" stroke="#000" stroke-opacity="0.55" stroke-width="0.45" d="M195.5 146.5 189.5 143.1 183.8 140.6 178.1 139.0 172.1 138.1 165.8 137.9 159.8 138.5 153.7 140.0 148.7 142.0 144.4 144.8 141.2 147.8 138.8 151.5 137.4 155.5 137.2 159.2 137.9 163.2 142.5 173.5"/>
<path fill="none" stroke="#000" stroke-opacity="0.55" stroke-width="0.45" d="M195.5 131.4 187.8 132.8 171.1 133.0 162.4 133.7 154.1 135.2 146.7 137.7 140.4 141.1 135.2 145.2 131.1 149.8 124.3 159.6 122.0 161.8 119.0 163.9"/>
<path fill="none" stroke="#000" stroke-opacity="0.55" stroke-width="0.45" d="M195.5 107.8 180.6 118.8 172.1 123.3 163.1 126.2 137.4 131.9 129.7 134.6 119.0 139.2"/>
<path fill="none" stroke="#000" stroke-opacity="0.55" stroke-width="0.45" d="M166.6 107.5 165.8 111.2 163.4 114.2 159.1 116.8 153.7 118.4 149.1 119.0 143.7 119.1 126.0 117.2 119.0 117.2"/>
</g>
<clipPath id="c6"><path d="M155.84 185.50C158.31 185.50 161.72 186.00 164.30 186.70C166.89 187.40 169.00 188.70 171.35 189.70C173.70 190.70 176.05 191.70 178.40 192.70C180.75 193.70 183.45 194.20 185.45 195.70C187.45 197.20 189.21 199.20 190.38 201.70C191.56 204.20 192.26 207.60 192.50 210.70C192.74 213.80 192.44 217.30 191.80 220.30C191.15 223.30 190.62 225.90 188.62 228.70C186.62 231.50 183.34 234.65 179.81 237.10C176.28 239.55 171.59 242.05 167.47 243.40C163.36 244.75 159.66 245.40 155.13 245.20C150.61 245.00 144.44 243.95 140.33 242.20C136.22 240.45 133.16 237.55 130.46 234.70C127.76 231.85 125.52 228.40 124.11 225.10C122.70 221.80 122.19 218.10 122.00 214.90C121.81 211.70 122.40 208.40 122.99 205.90C123.57 203.40 124.28 201.60 125.53 199.90C126.77 198.20 128.46 196.90 130.46 195.70C132.46 194.50 135.16 193.80 137.51 192.70C139.86 191.60 142.56 190.10 144.56 189.10C146.56 188.10 147.62 187.30 149.50 186.70C151.38 186.10 153.37 185.50 155.84 185.50Z"/></clipPath>
<g clip-path="url(#c6)"><g filter="url(#bl)">
<rect x="119.0" y="182.5" width="76.5" height="66.0" fill="#000093"/>
<path fill-rule="evenodd" fill="#0000a2" d="M195.5 248.6 119.0 248.6 118.9 182.5 195.5 182.4 195.5 248.6ZM165.6 230.8 166.8 230.2 167.1 229.5 167.0 228.8 166.4 228.3 164.4 228.1 162.5 229.2 162.4 229.8 163.1 230.6 164.1 230.9 165.6 230.8Z"/>
<path fill-rule="evenodd" fill="#0000b9" d="M195.5 248.6 119.0 248.6 118.9 182.5 195.5 182.4 195.5 248.6ZM165.8 233.2 168.7 232.2 170.4 230.5 170.7 228.5 169.5 226.5 167.1 225.3 164.1 225.0 161.1 225.7 158.9 227.2 158.3 228.2 158.1 229.5 158.6 230.8 159.4 231.8 162.4 233.1 165.8 233.2Z"/>
<path fill-rule="evenodd" fill="#0000d1" d="M195.5 248.6 119.0 248.6 118.9 182.5 195.5 182.4 195.5 248.6ZM165.8 234.5 169.4 233.4 170.9 232.5 172.1 231.2 172.7 229.8 172.7 228.5 172.3 227.2 171.4 225.8 168.4 224.1 164.4 223.4 160.4 224.0 157.4 225.8 156.3 227.2 155.8 228.8 156.1 230.5 157.3 232.2 159.1 233.4 161.1 234.2 163.4 234.6 165.8 234.5Z"/>
<path fill-rule="evenodd" fill="#0000e8" d="M195.5 248.6 119.0 248.6 118.9 182.5 195.5 182.4 195.5 248.6ZM166.4 235.5 170.6 234.2 172.4 232.9 173.6 231.5 174.3 229.8 174.3 228.2 173.7 226.5 172.6 225.2 170.8 223.8 168.8 222.9 164.1 222.2 161.6 222.5 159.2 223.2 157.2 224.2 155.7 225.4 154.6 227.2 154.2 229.2 154.8 231.2 156.1 232.8 157.9 234.2 160.5 235.2 163.4 235.6 166.4 235.5Z"/>
<path fill-rule="evenodd" fill="#0000ff" d="M195.5 248.6 119.0 248.6 118.9 182.5 195.5 182.4 195.5 248.6ZM165.8 236.5 168.4 236.0 170.9 235.2 173.1 233.8 174.5 232.4 175.4 230.8 175.7 228.8 175.3 226.8 174.2 225.2 172.4 223.6 170.4 222.5 167.8 221.7 165.1 221.3 162.4 221.4 159.8 221.9 157.4 222.8 155.3 224.2 153.6 226.2 152.8 228.5 153.2 230.8 154.4 232.8 156.4 234.5 159.4 235.8 162.4 236.5 165.8 236.5Z"/>
<path fill-rule="evenodd" fill="#0017ff" d="M195.5 248.5 119.0 248.6 118.9 182.5 195.5 182.4 195.5 248.5ZM167.4 237.2 170.1 236.5 172.8 235.3 174.8 233.7 176.2 231.8 176.9 229.8 176.8 227.8 176.1 225.8 174.5 223.9 172.4 222.5 169.8 221.3 166.8 220.7 163.8 220.5 160.7 220.8 157.8 221.7 155.4 222.9 153.5 224.5 152.0 226.8 151.6 229.2 152.4 231.8 154.1 233.9 156.7 235.7 160.1 236.9 163.8 237.4 167.4 237.2Z"/>
<path fill-rule="evenodd" fill="#002eff" d="M195.5 248.5 119.0 248.6 118.9 182.5 195.5 182.4 195.5 248.5ZM166.0 238.2 169.4 237.6 172.4 236.5 174.8 235.1 176.7 233.2 177.8 231.2 178.1 228.8 177.6 226.5 176.4 224.5 174.5 222.8 171.8 221.2 168.8 220.3 165.4 219.8 162.1 219.9 158.9 220.5 156.1 221.6 153.6 223.2 151.5 225.5 150.5 228.2 150.8 230.8 152.3 233.5 154.7 235.6 158.1 237.2 162.1 238.1 166.0 238.2Z"/>
<path fill-rule="evenodd" fill="#0046ff" d="M195.5 248.5 119.0 248.6 118.9 182.5 195.5 182.4 195.5 248.5ZM167.4 238.8 170.8 238.1 173.8 236.8 176.5 235.0 178.2 232.8 179.1 230.5 179.2 228.2 178.4 225.8 176.7 223.5 174.5 221.8 171.4 220.3 168.1 219.4 164.4 219.1 160.8 219.4 157.4 220.2 154.4 221.6 151.9 223.5 150.1 226.2 149.5 228.8 150.1 231.8 152.0 234.5 155.1 236.8 158.8 238.2 163.1 239.0 167.4 238.8Z"/>
<path fill-rule="evenodd" fill="#005dff" d="M195.5 248.5 119.0 248.6 118.9 182.5 195.5 182.4 195.5 248.5ZM168.4 239.5 172.1 238.6 175.1 237.1 177.7 235.2 179.5 232.8 180.3 230.2 180.2 227.5 179.2 225.2 177.3 222.8 174.5 220.9 171.3 219.5 167.8 218.7 163.8 218.4 160.0 218.8 156.4 219.8 153.1 221.5 150.8 223.5 148.9 226.5 148.5 229.5 149.4 232.6 151.7 235.5 155.1 237.7 159.1 239.1 163.8 239.8 168.4 239.5Z"/>
<path fill-rule="evenodd" fill="#0074ff" d="M195.5 248.5 119.0 248.6 118.9 182.5 195.5 182.4 195.5 248.5ZM167.2 240.5 171.1 239.8 174.8 238.4 177.8 236.5 179.9 234.2 181.2 231.5 181.5 228.8 180.8 226.2 179.1 223.5 176.5 221.2 173.3 219.5 169.4 218.3 165.4 217.8 161.4 218.0 157.4 218.8 154.0 220.2 151.0 222.2 148.5 225.2 147.5 228.5 148.0 231.8 149.8 234.8 153.0 237.5 157.1 239.4 162.1 240.5 167.2 240.5Z"/>
<path fill-rule="evenodd" fill="#008bff" d="M195.5 248.5 119.0 248.6 118.9 182.5 195.5 182.4 195.5 248.5ZM168.9 241.2 172.8 240.3 176.5 238.7 179.4 236.5 181.5 233.8 182.6 230.8 182.5 227.8 181.3 224.8 179.1 222.3 176.1 220.1 172.4 218.5 168.1 217.5 163.8 217.2 159.4 217.7 155.4 218.8 152.1 220.5 149.2 222.8 147.1 226.2 146.6 229.5 146.9 231.5 147.6 233.2 150.1 236.3 153.7 238.9 158.4 240.6 163.8 241.4 168.9 241.2Z"/>
<path fill-rule="evenodd" fill="#00a2ff" d="M195.5 248.5 119.0 248.5 118.9 182.5 195.5 182.4 195.5 248.5ZM168.5 242.2 172.8 241.3 176.8 239.7 180.0 237.5 182.3 234.8 183.6 231.8 183.8 228.5 182.8 225.5 180.6 222.5 177.7 220.2 173.8 218.2 169.4 217.1 164.8 216.6 160.1 217.0 155.7 218.0 151.9 219.8 148.8 222.2 146.5 225.5 145.6 229.2 146.4 232.8 147.6 234.8 149.0 236.5 152.7 239.3 157.8 241.3 163.1 242.3 168.5 242.2Z"/>
<path fill-rule="evenodd" fill="#00b9ff" d="M195.5 248.5 119.0 248.5 118.9 182.5 195.5 182.4 195.5 248.5ZM169.1 243.2 173.8 242.2 177.9 240.5 181.3 238.2 183.7 235.2 185.0 231.8 185.0 228.5 183.8 225.2 181.6 222.2 178.1 219.5 174.1 217.7 169.4 216.4 164.8 216.0 160.1 216.4 155.4 217.5 151.4 219.3 148.1 221.8 145.7 225.2 145.0 227.2 144.7 229.2 144.9 231.2 145.5 233.2 148.1 236.8 152.1 239.9 157.1 242.1 163.1 243.2 169.1 243.2Z"/>
<path fill-rule="evenodd" fill="#00d1ff" d="M195.5 248.5 119.0 248.5 118.9 182.5 195.5 182.4 195.5 248.5ZM167.8 244.5 172.8 243.9 177.5 242.4 181.1 240.3 184.1 237.4 186.0 234.2 186.6 230.5 185.9 226.8 184.0 223.5 181.0 220.5 177.1 218.2 172.4 216.5 167.4 215.6 162.1 215.6 157.1 216.4 152.4 218.1 148.7 220.3 146.8 222.2 145.4 224.0 144.3 226.2 143.9 228.2 143.8 230.5 144.3 232.5 145.1 234.5 146.4 236.4 150.2 239.8 155.4 242.5 161.4 244.1 167.8 244.5Z"/>
<path fill-rule="evenodd" fill="#00e8ff" d="M191.2 248.5 119.0 248.5 118.9 182.5 195.5 182.4 195.5 246.8 191.2 248.5ZM172.5 245.8 177.5 244.7 181.8 242.6 185.1 239.6 187.3 236.2 188.2 232.5 187.9 228.5 186.1 224.5 183.2 221.2 179.5 218.5 174.8 216.5 169.4 215.2 164.1 214.9 158.8 215.4 153.7 216.8 149.4 219.0 146.1 221.8 144.5 223.8 143.5 225.8 142.9 228.2 142.9 230.5 143.3 232.8 144.2 234.8 145.5 236.8 147.4 238.9 149.7 240.8 152.4 242.4 158.4 244.7 165.4 246.0 172.5 245.8Z"/>
<path fill-rule="evenodd" fill="#00ffff" d="M165.4 248.5 119.0 248.5 119.0 182.4 195.6 182.5 195.5 241.3 192.2 241.5 191.2 241.1 190.6 240.5 190.3 239.2 190.6 233.8 190.2 230.5 189.0 226.8 186.9 223.5 184.5 220.9 181.7 218.8 178.5 217.1 174.8 215.7 170.1 214.7 165.1 214.3 160.1 214.6 155.4 215.6 151.1 217.3 147.5 219.5 144.7 222.2 142.8 225.2 141.9 228.5 142.1 232.2 143.5 235.8 146.1 239.1 149.4 242.0 154.1 244.7 159.1 246.6 165.4 248.5Z"/>
<path fill-rule="evenodd" fill="#17ffe8" d="M156.4 248.5 119.0 248.5 118.9 182.5 195.5 182.4 195.5 234.0 194.0 232.2 190.5 225.8 187.8 222.5 183.9 219.2 179.1 216.5 172.8 214.5 166.1 213.7 159.4 214.1 153.1 215.8 147.7 218.5 145.6 220.2 143.7 222.2 142.4 224.2 141.3 226.5 140.9 228.8 140.8 231.2 142.1 235.5 145.1 239.9 148.7 243.3 156.4 248.5Z"/>
<path fill-rule="evenodd" fill="#2effd1" d="M150.4 248.5 119.0 248.5 118.9 182.5 195.5 182.4 195.5 228.0 189.6 222.2 185.9 219.2 180.8 216.3 175.5 214.4 169.1 213.2 162.8 213.1 156.4 214.1 150.7 216.0 146.1 218.8 142.6 222.2 140.4 226.2 139.7 230.2 140.2 233.8 141.8 237.8 144.1 241.0 149.1 246.5 150.4 248.5Z"/>
<path fill-rule="evenodd" fill="#46ffb9" d="M144.1 248.5 119.0 248.5 118.9 182.5 195.5 182.5 195.5 223.9 187.8 218.8 183.6 216.5 178.5 214.4 173.1 213.1 166.8 212.4 160.8 212.7 155.1 213.8 149.7 215.7 145.6 218.2 142.3 221.2 139.9 224.8 138.7 228.5 138.5 231.5 139.0 234.8 140.4 238.5 144.2 245.5 144.6 247.5 144.4 248.5 144.1 248.5Z"/>
<path fill-rule="evenodd" fill="#5dffa2" d="M137.0 248.5 119.0 248.5 118.9 182.5 195.5 182.5 195.5 220.6 181.1 214.3 176.1 212.9 171.1 212.0 165.1 211.7 159.4 212.2 154.1 213.4 149.1 215.3 145.2 217.5 142.1 220.2 139.7 223.2 138.0 226.5 137.3 229.8 137.2 233.2 137.8 236.5 139.5 242.5 139.7 244.5 139.0 246.6 137.0 248.5Z"/>
<path fill-rule="evenodd" fill="#74ff8b" d="M127.7 248.5 119.0 248.5 119.0 182.4 195.5 182.5 195.5 217.3 191.5 216.5 178.5 212.4 169.4 211.1 163.8 211.1 158.4 211.7 153.4 212.8 148.7 214.6 145.4 216.4 142.5 218.5 140.2 220.8 138.2 223.5 136.6 226.8 135.8 230.2 135.6 233.8 135.9 240.2 135.4 242.8 134.4 244.4 133.0 245.6 127.7 248.5Z"/>
<path fill-rule="evenodd" fill="#8bff74" d="M119.3 247.6 119.0 247.8 119.0 182.4 195.5 182.5 195.5 214.0 190.8 213.8 176.5 210.9 167.4 210.2 162.4 210.4 157.4 211.1 152.7 212.2 148.7 213.7 145.1 215.6 141.9 217.8 139.1 220.5 137.0 223.2 134.8 227.8 133.9 231.2 132.8 237.8 132.0 239.7 131.0 241.2 129.6 242.5 127.4 243.9 119.3 247.6Z"/>
<path fill-rule="evenodd" fill="#a2ff5d" d="M119.0 243.2 119.0 182.4 195.5 182.5 195.5 210.3 192.2 210.9 188.5 211.1 173.1 209.5 164.4 209.4 155.7 210.6 148.1 213.1 144.7 214.8 141.6 216.8 138.8 219.2 136.7 221.5 133.9 225.8 130.4 234.7 128.3 237.8 125.0 240.3 119.0 243.2Z"/>
<path fill-rule="evenodd" fill="#b9ff46" d="M119.0 238.6 119.0 182.4 195.5 182.5 195.5 206.2 190.5 207.8 186.1 208.5 169.1 208.3 160.8 208.9 153.7 210.2 147.4 212.4 142.1 215.2 137.7 218.5 133.6 223.2 128.7 231.1 126.7 233.7 123.7 236.2 119.0 238.6Z"/>
<path fill-rule="evenodd" fill="#d1ff2e" d="M119.0 234.0 119.0 182.5 195.5 182.5 195.5 202.0 189.2 204.5 184.1 205.9 179.5 206.6 166.8 207.3 159.8 208.0 152.4 209.6 146.4 211.7 141.5 214.2 137.2 217.2 133.3 220.8 125.7 229.6 122.7 231.9 119.0 234.0Z"/>
<path fill-rule="evenodd" fill="#e8ff17" d="M119.3 229.2 119.0 229.4 119.0 182.5 195.5 182.5 195.5 197.8 186.5 201.9 180.5 203.9 175.1 205.0 157.1 207.4 150.7 208.9 145.4 210.8 141.0 212.9 136.8 215.5 133.0 218.5 125.0 225.6 119.3 229.2Z"/>
<path fill-rule="evenodd" fill="#ffff00" d="M119.3 224.7 119.0 224.8 119.0 182.5 195.5 182.5 195.5 193.5 184.5 199.3 177.3 202.2 171.1 203.7 153.4 207.0 143.7 210.0 136.1 213.8 124.7 221.6 119.3 224.7Z"/>
<path fill-rule="evenodd" fill="#ffe800" d="M119.3 220.2 119.0 220.4 119.0 182.5 195.5 182.5 195.5 189.2 180.0 198.2 175.5 200.2 170.5 201.8 151.4 206.0 142.4 208.7 135.4 211.7 119.3 220.2Z"/>
<path fill-rule="evenodd" fill="#ffd100" d="M119.0 215.9 119.0 182.5 195.5 182.5 195.5 184.5 181.4 194.2 173.5 198.4 165.1 201.3 147.4 205.2 139.7 207.4 132.1 210.2 119.0 215.9Z"/>
<path fill-rule="evenodd" fill="#ffb900" d="M119.0 211.5 119.0 182.5 191.0 182.5 178.4 192.8 173.8 195.7 169.1 197.9 159.8 200.8 134.3 206.2 127.4 208.3 119.0 211.5Z"/>
<path fill-rule="evenodd" fill="#ffa200" d="M119.0 207.2 119.0 182.5 184.5 182.5 179.0 188.5 175.2 191.8 170.5 194.8 165.4 197.1 160.4 198.7 154.4 200.1 130.0 204.0 119.0 207.2Z"/>
<path fill-rule="evenodd" fill="#ff8b00" d="M119.7 202.9 119.0 203.1 119.0 182.5 179.0 182.5 175.5 187.5 172.2 190.8 167.7 193.8 162.3 196.2 157.4 197.6 152.1 198.6 129.4 200.9 119.7 202.9Z"/>
<path fill-rule="evenodd" fill="#ff7400" d="M119.0 199.2 119.0 182.5 174.1 182.5 171.9 186.8 168.8 190.2 164.4 193.1 159.1 195.2 154.1 196.4 148.7 197.2 127.7 197.9 119.0 199.2Z"/>
<path fill-rule="evenodd" fill="#ff5d00" d="M148.4 195.2 141.4 195.4 126.7 194.8 119.0 195.4 119.0 182.5 169.5 182.5 168.6 185.2 167.3 187.5 165.3 189.5 163.0 191.2 160.1 192.6 156.5 193.8 148.4 195.2Z"/>
<path fill-rule="evenodd" fill="#ff4600" d="M150.1 192.9 142.7 193.1 126.7 191.3 119.0 191.4 119.0 182.5 164.6 182.5 164.3 184.5 163.7 186.2 162.5 187.8 160.8 189.3 156.1 191.6 150.1 192.9Z"/>
<path fill-rule="evenodd" fill="#ff2e00" d="M149.7 190.2 145.7 190.4 141.7 190.1 126.3 186.9 122.7 186.7 119.0 187.0 119.0 182.5 158.9 182.5 158.7 185.2 157.0 187.5 154.0 189.2 149.7 190.2Z"/>
<path fill-rule="evenodd" fill="#ff1700" d="M147.1 184.6 145.7 184.8 143.7 184.5 142.1 183.8 140.2 182.5 147.6 182.5 148.1 183.8 147.1 184.6Z"/>
</g>
<path fill="none" stroke="#000" stroke-opacity="0.55" stroke-width="0.45" d="M166.0 239.2 169.8 238.6 173.0 237.5 175.8 235.8 177.8 233.8 179.1 231.5 179.6 229.2 179.2 226.8 177.8 224.4 175.8 222.4 173.1 220.8 169.8 219.6 166.1 219.0 162.4 219.0 158.8 219.6 155.4 220.8 152.7 222.5 150.4 225.0 149.3 227.8 149.5 230.8 151.1 233.8 153.7 236.2 157.4 238.0 161.4 239.0 166.0 239.2"/>
<path fill="none" stroke="#000" stroke-opacity="0.55" stroke-width="0.45" d="M167.9 244.2 173.1 243.4 177.5 242.0 181.1 239.8 184.0 236.8 185.7 233.5 186.2 229.8 185.4 226.5 183.4 223.2 180.5 220.4 176.5 218.0 172.0 216.5 167.1 215.7 162.1 215.7 157.1 216.5 152.6 218.2 148.8 220.5 145.5 224.2 144.1 228.2 144.4 232.2 146.5 236.2 150.4 239.7 155.4 242.3 161.4 243.8 167.9 244.2"/>
<path fill="none" stroke="#000" stroke-opacity="0.55" stroke-width="0.45" d="M195.5 223.0 183.1 216.0 177.8 214.0 172.4 212.8 166.4 212.2 160.4 212.6 154.7 213.7 149.4 215.7 145.3 218.2 142.1 221.2 139.8 224.5 138.5 228.2 138.2 231.2 138.5 234.2 139.6 237.8 143.1 245.2 143.3 246.8 142.7 248.5"/>
<path fill="none" stroke="#000" stroke-opacity="0.55" stroke-width="0.45" d="M195.5 203.0 189.8 205.3 185.0 206.5 161.1 208.1 153.4 209.6 147.1 211.7 141.7 214.4 137.3 217.5 133.3 221.5 125.7 230.8 122.7 233.1 119.0 235.1"/>
<path fill="none" stroke="#000" stroke-opacity="0.55" stroke-width="0.45" d="M189.2 182.5 177.7 192.5 173.1 195.4 168.1 197.7 158.4 200.6 133.0 205.7 119.0 210.4"/>
<path fill="none" stroke="#000" stroke-opacity="0.55" stroke-width="0.45" d="M160.5 182.5 160.1 185.5 158.3 187.8 154.7 189.8 150.4 190.9 142.7 191.0 127.0 188.2 119.0 188.1"/>
</g>
<clipPath id="c7"><path d="M155.84 261.50C158.31 261.50 161.72 262.00 164.30 262.70C166.89 263.40 169.00 264.70 171.35 265.70C173.70 266.70 176.05 267.70 178.40 268.70C180.75 269.70 183.45 270.20 185.45 271.70C187.45 273.20 189.21 275.20 190.38 277.70C191.56 280.20 192.26 283.60 192.50 286.70C192.74 289.80 192.44 293.30 191.80 296.30C191.15 299.30 190.62 301.90 188.62 304.70C186.62 307.50 183.34 310.65 179.81 313.10C176.28 315.55 171.59 318.05 167.47 319.40C163.36 320.75 159.66 321.40 155.13 321.20C150.61 321.00 144.44 319.95 140.33 318.20C136.22 316.45 133.16 313.55 130.46 310.70C127.76 307.85 125.52 304.40 124.11 301.10C122.70 297.80 122.19 294.10 122.00 290.90C121.81 287.70 122.40 284.40 122.99 281.90C123.57 279.40 124.28 277.60 125.53 275.90C126.77 274.20 128.46 272.90 130.46 271.70C132.46 270.50 135.16 269.80 137.51 268.70C139.86 267.60 142.56 266.10 144.56 265.10C146.56 264.10 147.62 263.30 149.50 262.70C151.38 262.10 153.37 261.50 155.84 261.50Z"/></clipPath>
<g clip-path="url(#c7)"><g filter="url(#bl)">
<rect x="119.0" y="258.5" width="76.5" height="66.0" fill="#00008f"/>
<path fill-rule="evenodd" fill="#0000a2" d="M195.5 324.6 119.0 324.6 118.8 258.5 195.5 258.4 195.5 324.6ZM166.8 309.8 168.1 309.2 168.8 308.2 168.8 307.1 167.8 306.0 166.4 305.7 164.8 305.8 163.1 306.5 162.1 307.5 162.0 308.5 163.1 309.6 164.8 310.1 166.8 309.8Z"/>
<path fill-rule="evenodd" fill="#0000b9" d="M195.5 324.6 119.0 324.6 118.9 258.5 195.5 258.4 195.5 324.6ZM167.2 311.8 169.8 310.8 171.6 308.8 171.9 307.8 171.8 306.5 170.3 304.5 167.8 303.3 164.4 303.1 161.4 303.8 159.1 305.5 158.4 306.8 158.3 308.2 158.9 309.5 159.9 310.5 161.4 311.4 163.1 311.9 165.1 312.1 167.2 311.8Z"/>
<path fill-rule="evenodd" fill="#0000d1" d="M195.5 324.6 119.0 324.6 118.9 258.5 195.5 258.4 195.5 324.6ZM167.1 313.2 170.9 311.8 172.3 310.8 173.3 309.5 173.8 308.2 173.8 306.5 173.3 305.2 172.1 303.8 170.7 302.8 168.8 302.0 164.4 301.6 160.3 302.5 157.4 304.5 156.4 306.2 156.2 307.8 156.7 309.5 157.8 310.8 159.7 312.2 161.8 312.9 164.4 313.3 167.1 313.2Z"/>
<path fill-rule="evenodd" fill="#0000e8" d="M195.5 324.6 119.0 324.6 118.9 258.5 195.5 258.4 195.5 324.6ZM167.6 314.2 170.1 313.5 172.1 312.5 173.8 311.2 174.8 309.8 175.4 308.2 175.4 306.5 174.7 304.8 173.3 303.2 171.4 301.9 169.4 301.1 167.1 300.6 164.4 300.4 161.8 300.8 159.5 301.5 157.6 302.5 156.0 303.8 154.8 305.8 154.6 307.8 155.2 309.8 156.6 311.5 158.8 313.0 161.4 314.0 164.4 314.4 167.6 314.2Z"/>
<path fill-rule="evenodd" fill="#0000ff" d="M195.5 324.6 119.0 324.6 118.9 258.5 195.5 258.4 195.5 324.6ZM167.2 315.2 170.1 314.5 172.4 313.5 174.4 312.2 175.9 310.5 176.6 308.8 176.8 306.8 176.2 304.8 175.0 303.2 173.1 301.7 170.8 300.5 168.1 299.8 165.4 299.5 162.4 299.7 159.8 300.3 157.2 301.5 155.4 302.8 153.8 304.8 153.2 307.2 153.6 309.5 155.1 311.7 157.4 313.4 160.4 314.7 163.8 315.3 167.2 315.2Z"/>
<path fill-rule="evenodd" fill="#0017ff" d="M195.5 324.6 119.0 324.6 118.9 258.5 195.5 258.4 195.5 324.6ZM168.6 315.8 171.4 315.0 173.9 313.8 176.0 312.2 177.4 310.2 178.0 308.2 177.8 305.8 176.9 303.8 175.4 302.2 173.1 300.6 170.4 299.5 167.4 298.8 164.1 298.7 160.8 299.2 158.1 300.0 155.7 301.3 153.7 303.0 152.4 305.2 152.0 307.8 152.9 310.5 154.7 312.7 157.5 314.5 161.1 315.7 164.8 316.1 168.6 315.8Z"/>
<path fill-rule="evenodd" fill="#002eff" d="M195.5 324.5 119.0 324.6 118.9 258.5 195.5 258.4 195.5 324.5ZM167.5 316.8 170.8 316.2 173.8 315.0 176.1 313.4 177.9 311.5 179.0 309.2 179.2 306.8 178.5 304.5 177.1 302.5 174.8 300.6 172.1 299.2 169.1 298.4 165.8 298.0 162.4 298.1 159.0 298.8 155.9 300.2 153.6 301.8 151.6 304.5 150.9 307.2 151.4 309.8 153.1 312.5 155.7 314.6 159.4 316.1 163.4 316.9 167.5 316.8Z"/>
<path fill-rule="evenodd" fill="#0046ff" d="M195.5 324.5 119.0 324.6 118.9 258.5 195.5 258.4 195.5 324.5ZM168.7 317.5 172.1 316.7 175.1 315.3 177.6 313.5 179.4 311.2 180.2 308.8 180.2 306.2 179.3 303.8 177.5 301.6 174.8 299.6 171.8 298.3 168.4 297.5 164.8 297.3 161.1 297.6 157.8 298.5 154.7 299.9 152.3 301.8 150.5 304.5 149.9 307.5 150.6 310.5 152.7 313.4 155.7 315.5 159.8 317.1 164.1 317.7 168.7 317.5Z"/>
<path fill-rule="evenodd" fill="#005dff" d="M195.5 324.5 119.0 324.6 118.9 258.5 195.5 258.4 195.5 324.5ZM167.0 318.5 170.8 317.9 174.5 316.7 177.5 314.9 179.6 312.8 180.9 310.5 181.5 307.8 181.0 305.2 179.6 302.5 177.1 300.2 174.2 298.5 170.8 297.3 166.8 296.7 162.8 296.7 159.1 297.4 155.4 298.7 152.6 300.5 150.2 303.2 149.0 306.2 149.1 309.5 150.7 312.6 153.5 315.2 157.4 317.2 162.1 318.3 167.0 318.5Z"/>
<path fill-rule="evenodd" fill="#0074ff" d="M195.5 324.5 119.0 324.6 118.9 258.5 195.5 258.4 195.5 324.5ZM168.8 319.2 172.8 318.3 176.1 316.9 179.1 314.8 181.2 312.5 182.4 309.8 182.5 306.8 181.7 304.2 179.8 301.4 177.1 299.2 173.8 297.6 170.1 296.5 165.8 296.0 161.4 296.3 157.4 297.2 153.8 298.8 151.1 300.8 148.8 303.8 147.9 307.2 148.1 309.2 148.6 310.8 150.7 313.9 154.1 316.5 158.8 318.4 163.8 319.3 168.8 319.2Z"/>
<path fill-rule="evenodd" fill="#008bff" d="M195.5 324.5 119.0 324.6 118.9 258.5 195.5 258.4 195.5 324.5ZM167.4 320.2 171.8 319.5 175.8 318.2 179.1 316.2 181.6 313.8 183.2 311.2 183.8 308.2 183.3 305.2 181.6 302.2 179.1 299.7 175.8 297.7 171.8 296.2 167.4 295.5 163.1 295.5 158.8 296.2 154.9 297.5 151.5 299.5 148.6 302.5 147.7 304.2 147.1 306.2 147.0 308.2 147.3 309.8 149.1 313.3 152.4 316.4 156.7 318.6 161.8 319.9 167.4 320.2Z"/>
<path fill-rule="evenodd" fill="#00a2ff" d="M195.5 324.5 119.0 324.6 118.9 258.5 195.5 258.4 195.5 324.5ZM170.1 320.8 174.5 319.8 178.5 318.0 181.5 315.8 183.7 312.8 184.8 309.8 184.8 306.5 183.7 303.5 181.4 300.5 178.1 298.1 174.1 296.2 169.8 295.2 165.1 294.8 160.4 295.2 156.1 296.3 152.2 298.2 149.2 300.5 146.9 303.8 146.2 305.8 146.0 307.8 146.9 311.5 148.1 313.5 149.5 315.2 153.4 318.0 158.4 320.1 164.1 321.1 170.1 320.8Z"/>
<path fill-rule="evenodd" fill="#00b9ff" d="M195.5 324.5 119.0 324.5 118.9 258.5 195.5 258.4 195.5 324.5ZM170.6 321.8 175.5 320.7 179.5 318.9 182.6 316.5 184.9 313.5 186.1 310.2 186.0 306.5 184.7 303.2 182.3 300.2 178.8 297.6 174.8 295.8 170.1 294.6 165.1 294.2 160.1 294.7 155.7 295.8 151.5 297.8 148.4 300.3 146.9 302.2 145.8 304.2 145.2 306.2 145.1 308.2 145.4 310.2 146.2 312.2 148.9 315.8 153.1 318.9 158.4 321.0 164.4 322.0 170.6 321.8Z"/>
<path fill-rule="evenodd" fill="#00d1ff" d="M195.5 324.5 119.0 324.5 118.9 258.5 195.5 258.4 195.5 324.5ZM170.0 323.2 175.1 322.3 179.5 320.6 183.1 318.1 185.8 315.1 187.4 311.5 187.6 307.8 186.5 304.2 184.2 300.8 180.8 297.9 176.5 295.7 171.8 294.3 166.4 293.7 161.1 293.9 156.1 295.1 151.7 296.9 148.2 299.5 146.6 301.2 145.3 303.2 144.5 305.2 144.2 307.5 144.4 309.8 145.0 311.8 146.0 313.8 147.6 315.8 151.7 319.2 157.1 321.7 163.4 323.1 170.0 323.2Z"/>
<path fill-rule="evenodd" fill="#00e8ff" d="M195.5 324.5 173.4 324.5 177.1 323.7 180.5 322.4 183.5 320.6 185.8 318.5 187.7 315.8 188.9 312.8 189.3 309.8 188.9 306.8 187.9 304.2 186.2 301.5 183.9 299.2 180.8 297.0 177.5 295.3 173.8 294.1 169.8 293.3 165.4 293.1 161.1 293.3 157.1 294.1 153.4 295.4 150.1 297.2 147.4 299.2 145.2 301.8 143.8 304.5 143.2 307.5 143.5 310.5 144.5 313.2 146.2 315.8 148.7 318.3 152.1 320.6 155.7 322.4 159.8 323.7 164.1 324.5 119.0 324.5 118.9 258.5 195.5 258.4 195.5 324.5Z"/>
<path fill-rule="evenodd" fill="#00ffff" d="M157.1 324.5 119.0 324.5 118.9 258.5 195.5 258.4 195.5 321.2 192.2 321.4 191.2 321.1 190.7 320.5 190.5 319.2 191.5 312.5 191.0 308.2 190.3 305.8 189.1 303.5 187.4 301.2 185.4 299.2 180.8 296.0 175.1 293.8 168.8 292.6 162.4 292.6 158.8 293.1 155.1 294.1 151.7 295.5 148.8 297.2 146.4 299.2 144.4 301.5 143.1 303.8 142.4 306.5 142.2 308.8 142.7 311.5 143.8 314.2 145.4 316.5 147.4 318.6 150.1 320.7 153.4 322.7 157.4 324.5 157.1 324.5Z"/>
<path fill-rule="evenodd" fill="#17ffe8" d="M153.1 324.5 119.0 324.5 118.9 258.5 195.5 258.4 195.5 312.4 192.2 305.5 189.7 301.8 185.9 298.2 181.1 295.3 175.1 293.1 168.8 292.0 162.4 292.0 156.1 293.2 150.3 295.5 145.6 298.8 143.9 300.8 142.6 302.8 141.7 305.2 141.2 307.5 141.3 309.8 141.8 312.2 143.9 316.5 147.7 320.6 153.1 324.5Z"/>
<path fill-rule="evenodd" fill="#2effd1" d="M149.1 324.5 119.0 324.5 118.9 258.5 195.5 258.4 195.5 305.9 190.9 300.8 186.9 297.5 182.1 294.8 176.8 292.8 170.8 291.5 164.4 291.3 158.1 292.1 152.4 293.8 147.7 296.2 143.9 299.5 141.4 303.2 140.2 307.5 140.4 311.5 141.8 315.5 144.4 319.4 149.3 324.5 149.1 324.5Z"/>
<path fill-rule="evenodd" fill="#46ffb9" d="M145.1 324.5 119.0 324.5 118.9 258.5 195.5 258.4 195.5 302.1 189.2 297.5 184.8 294.9 179.5 292.7 174.1 291.4 168.1 290.7 162.1 290.8 156.4 291.8 151.1 293.6 146.5 296.2 143.1 299.2 140.5 302.8 139.2 306.5 139.0 310.2 139.7 314.2 141.4 317.9 145.4 324.5 145.1 324.5Z"/>
<path fill-rule="evenodd" fill="#5dffa2" d="M140.7 324.5 119.0 324.5 118.9 258.5 195.5 258.5 195.5 299.0 183.1 293.0 177.8 291.3 172.4 290.3 166.4 290.0 160.8 290.3 155.1 291.5 150.1 293.3 146.1 295.6 142.5 298.5 139.9 301.8 138.3 305.5 137.7 308.8 137.8 312.2 138.5 315.5 140.7 322.2 140.7 324.5Z"/>
<path fill-rule="evenodd" fill="#74ff8b" d="M134.7 324.5 119.0 324.5 118.9 258.5 195.5 258.5 195.5 296.1 180.5 291.0 175.5 290.0 170.4 289.4 164.8 289.3 159.1 289.9 153.7 291.2 149.1 293.0 145.2 295.2 142.1 297.7 139.6 300.5 137.7 303.8 136.6 306.8 136.1 310.2 136.8 320.8 136.0 323.1 134.7 324.5Z"/>
<path fill-rule="evenodd" fill="#8bff74" d="M126.3 324.5 119.0 324.5 119.0 258.4 195.5 258.5 195.5 293.1 191.2 292.5 177.8 289.4 168.8 288.5 163.4 288.7 158.1 289.4 153.1 290.6 148.7 292.3 145.4 294.1 142.7 295.9 140.2 298.2 138.0 300.8 136.3 303.8 135.0 307.2 134.4 310.5 133.7 316.6 132.9 319.2 132.0 320.6 130.7 321.9 126.3 324.5Z"/>
<path fill-rule="evenodd" fill="#a2ff5d" d="M119.0 323.2 119.0 258.4 195.5 258.5 195.5 289.8 190.2 290.0 175.5 288.0 166.4 287.7 161.4 288.1 156.7 288.9 152.4 290.0 148.4 291.5 144.7 293.4 141.7 295.5 139.0 297.8 136.7 300.5 134.2 304.8 131.0 314.2 128.9 317.5 125.4 320.2 119.0 323.2Z"/>
<path fill-rule="evenodd" fill="#b9ff46" d="M119.0 318.6 119.0 258.4 195.5 258.5 195.5 286.2 191.8 287.1 187.8 287.5 171.8 286.8 163.4 287.1 155.4 288.4 148.1 290.7 142.7 293.5 138.0 297.2 133.8 302.2 129.0 310.9 127.4 313.2 124.3 315.8 119.0 318.6Z"/>
<path fill-rule="evenodd" fill="#d1ff2e" d="M119.0 314.0 119.0 258.4 195.5 258.5 195.5 282.4 190.2 284.3 185.5 285.2 167.8 285.8 159.8 286.6 153.4 288.0 147.4 290.0 142.1 292.6 137.5 295.8 133.5 299.8 125.7 309.6 122.9 311.8 119.0 314.0Z"/>
<path fill-rule="evenodd" fill="#e8ff17" d="M119.3 309.2 119.0 309.4 119.0 258.5 195.5 258.5 195.5 278.6 188.8 281.4 183.5 283.0 178.5 283.8 159.4 285.7 152.4 287.2 146.4 289.2 141.4 291.6 136.9 294.5 132.9 297.8 125.0 305.5 119.3 309.2Z"/>
<path fill-rule="evenodd" fill="#ffff00" d="M119.3 304.6 119.0 304.8 119.0 258.5 195.5 258.5 195.5 274.8 187.1 278.9 180.5 281.3 174.8 282.5 156.1 285.3 150.4 286.6 145.1 288.4 140.7 290.4 136.3 292.8 124.7 301.4 119.3 304.6Z"/>
<path fill-rule="evenodd" fill="#ffe800" d="M119.0 300.3 119.0 258.5 195.5 258.5 195.5 270.9 188.8 274.8 182.1 278.1 176.1 280.2 170.6 281.5 153.7 284.5 143.7 287.4 135.7 290.9 119.0 300.3Z"/>
<path fill-rule="evenodd" fill="#ffd100" d="M119.0 295.9 119.0 258.5 195.5 258.5 195.5 266.8 187.6 272.2 181.1 275.8 176.1 277.9 170.8 279.6 151.1 283.8 141.7 286.3 133.7 289.3 119.0 295.9Z"/>
<path fill-rule="evenodd" fill="#ffb900" d="M119.0 291.6 119.0 258.5 195.5 258.5 195.5 262.1 184.8 270.7 180.2 273.5 175.5 275.9 170.8 277.6 165.5 279.2 146.1 283.2 137.0 285.5 128.3 288.2 119.0 291.6Z"/>
<path fill-rule="evenodd" fill="#ffa200" d="M119.7 287.3 119.0 287.5 119.0 258.5 193.3 258.5 186.0 265.8 181.7 269.5 176.6 272.8 170.8 275.5 160.8 278.6 132.0 284.0 119.7 287.3Z"/>
<path fill-rule="evenodd" fill="#ff8b00" d="M119.3 283.6 119.0 283.6 119.0 258.5 187.4 258.5 182.7 264.5 178.6 268.5 173.5 272.0 167.2 274.8 161.4 276.6 154.3 278.2 128.7 281.7 119.3 283.6Z"/>
<path fill-rule="evenodd" fill="#ff7400" d="M120.3 279.8 119.0 280.1 119.0 258.5 182.1 258.5 179.0 263.8 175.2 267.8 170.4 271.2 164.1 273.9 157.4 275.8 149.7 277.1 127.4 279.0 120.3 279.8Z"/>
<path fill-rule="evenodd" fill="#ff5d00" d="M121.0 276.5 119.0 276.7 119.0 258.5 177.3 258.5 175.0 263.5 171.9 267.2 167.1 270.4 161.1 272.9 154.4 274.5 146.7 275.6 121.0 276.5Z"/>
<path fill-rule="evenodd" fill="#ff4600" d="M142.4 273.8 119.0 273.4 119.0 258.5 172.5 258.5 171.7 261.8 169.9 264.8 167.4 267.3 163.9 269.5 159.4 271.3 154.4 272.6 148.7 273.5 142.4 273.8Z"/>
<path fill-rule="evenodd" fill="#ff2e00" d="M147.7 271.5 138.7 271.6 119.0 269.9 119.0 258.5 167.6 258.5 167.5 260.8 166.7 263.2 165.2 265.2 162.8 267.2 159.8 268.8 156.4 270.0 152.4 270.9 147.7 271.5Z"/>
<path fill-rule="evenodd" fill="#ff1700" d="M147.4 269.2 142.7 269.2 138.0 268.9 124.0 266.4 119.0 265.8 119.0 258.5 162.2 258.5 162.4 260.5 162.1 262.2 161.2 263.8 159.4 265.5 157.3 266.8 154.4 267.9 151.1 268.7 147.4 269.2Z"/>
<path fill-rule="evenodd" fill="#ff0000" d="M148.1 265.8 144.1 266.0 139.7 265.5 135.6 264.5 126.0 261.4 122.7 260.7 119.0 260.5 119.0 258.5 154.8 258.5 155.6 260.8 155.3 262.2 154.6 263.2 152.0 264.8 148.1 265.8Z"/>
</g>
<path fill="none" stroke="#000" stroke-opacity="0.55" stroke-width="0.45" d="M167.7 317.8 171.4 317.1 174.6 315.8 177.5 313.9 179.3 311.8 180.4 309.5 180.6 306.8 179.9 304.5 178.4 302.2 176.0 300.2 173.1 298.6 169.8 297.6 166.1 297.1 162.4 297.2 158.8 298.0 155.4 299.3 152.7 301.2 150.6 303.8 149.6 306.8 150.0 309.8 151.8 312.8 154.7 315.2 158.8 317.0 163.1 317.9 167.7 317.8"/>
<path fill="none" stroke="#000" stroke-opacity="0.55" stroke-width="0.45" d="M170.0 322.8 174.8 322.0 179.1 320.3 182.8 317.9 185.5 314.8 187.0 311.5 187.2 307.8 186.2 304.2 183.9 300.8 180.5 297.9 176.5 295.9 171.8 294.4 166.4 293.8 161.4 294.0 156.4 295.1 152.1 296.9 148.4 299.5 145.6 303.2 144.4 307.5 145.2 311.8 147.7 315.7 152.1 319.1 157.4 321.5 163.4 322.8 170.0 322.8"/>
<path fill="none" stroke="#000" stroke-opacity="0.55" stroke-width="0.45" d="M195.5 301.3 188.8 296.8 184.5 294.5 179.1 292.4 173.8 291.1 167.8 290.5 161.8 290.7 156.1 291.7 150.7 293.6 146.4 296.0 142.8 299.2 140.2 302.8 138.9 306.5 138.6 310.2 139.4 314.2 144.3 324.5"/>
<path fill="none" stroke="#000" stroke-opacity="0.55" stroke-width="0.45" d="M195.5 283.3 190.5 285.0 185.8 285.8 169.1 286.0 160.8 286.7 153.7 288.1 147.4 290.2 142.1 293.0 137.4 296.4 133.5 300.5 126.0 310.6 123.0 313.0 119.0 315.2"/>
<path fill="none" stroke="#000" stroke-opacity="0.55" stroke-width="0.45" d="M195.5 260.8 183.3 270.8 178.4 273.8 172.8 276.4 163.7 279.2 135.4 285.3 119.0 290.6"/>
<path fill="none" stroke="#000" stroke-opacity="0.55" stroke-width="0.45" d="M168.9 258.5 168.1 262.5 165.4 266.1 161.2 268.8 155.4 270.8 149.4 271.9 142.4 272.2 119.0 270.8"/>
</g>
<clipPath id="c8"><path d="M238.24 33.50C241.12 33.30 244.36 33.80 247.07 34.72C249.78 35.63 252.02 37.77 254.50 38.99C256.97 40.21 259.45 40.82 261.92 42.04C264.39 43.26 267.48 44.48 269.34 46.31C271.21 48.14 272.15 50.68 273.09 53.02C274.03 55.36 274.80 57.70 275.00 60.34C275.20 62.98 274.82 66.13 274.29 68.88C273.76 71.62 273.47 73.96 271.82 76.81C270.17 79.66 267.52 83.42 264.39 85.96C261.27 88.50 257.21 90.74 253.08 92.06C248.96 93.38 244.36 94.09 239.65 93.89C234.94 93.69 229.16 92.47 224.80 90.84C220.44 89.21 216.50 86.88 213.49 84.13C210.49 81.38 208.31 77.93 206.77 74.37C205.24 70.81 204.39 66.14 204.30 62.78C204.21 59.42 205.27 56.78 206.21 54.24C207.15 51.70 208.27 49.46 209.96 47.53C211.64 45.60 213.84 44.07 216.32 42.65C218.79 41.23 222.56 40.11 224.80 38.99C227.04 37.87 227.51 36.85 229.75 35.94C231.99 35.02 235.35 33.70 238.24 33.50Z"/></clipPath>
<g clip-path="url(#c8)"><g filter="url(#bl)">
<rect x="201.3" y="30.5" width="76.7" height="67.0" fill="#000091"/>
<path fill-rule="evenodd" fill="#0000a2" d="M278.0 97.6 201.3 97.6 201.2 30.5 278.0 30.4 278.0 97.6ZM233.7 80.5 234.5 80.2 235.1 79.5 235.3 78.8 235.0 78.0 234.3 77.5 233.3 77.3 231.6 77.8 231.1 78.8 231.3 79.6 232.3 80.4 233.7 80.5Z"/>
<path fill-rule="evenodd" fill="#0000b9" d="M278.0 97.6 201.3 97.6 201.2 30.5 278.0 30.4 278.0 97.6ZM234.3 82.5 236.3 82.0 237.7 80.8 238.3 78.8 237.9 77.2 236.3 75.9 234.3 75.4 232.0 75.6 230.0 76.5 229.0 77.5 228.6 78.5 228.6 79.5 229.1 80.5 230.1 81.5 231.3 82.1 234.3 82.5Z"/>
<path fill-rule="evenodd" fill="#0000d1" d="M278.0 97.6 201.3 97.6 201.2 30.5 278.0 30.4 278.0 97.6ZM236.2 83.5 238.7 82.5 239.8 81.5 240.4 80.5 240.5 77.8 240.1 76.8 239.2 75.8 236.3 74.5 233.0 74.3 229.9 75.2 227.8 76.8 227.1 78.2 227.0 79.5 227.6 80.8 228.6 82.0 230.0 82.9 232.0 83.5 234.0 83.7 236.2 83.5Z"/>
<path fill-rule="evenodd" fill="#0000e8" d="M278.0 97.6 201.3 97.6 201.2 30.5 278.0 30.4 278.0 97.6ZM236.6 84.5 240.3 83.2 242.4 81.2 242.8 79.8 242.9 78.2 242.4 76.8 241.2 75.5 239.6 74.5 237.7 73.8 233.6 73.4 230.0 74.2 228.3 75.0 226.9 76.2 225.9 77.8 225.7 79.5 226.4 81.2 227.6 82.5 229.3 83.6 231.6 84.4 234.0 84.7 236.6 84.5Z"/>
<path fill-rule="evenodd" fill="#0000ff" d="M278.0 97.6 201.3 97.6 201.2 30.5 278.0 30.4 278.0 97.6ZM238.0 85.2 240.4 84.5 242.4 83.5 244.0 82.2 244.9 80.8 245.3 79.2 245.0 77.5 244.2 76.2 242.7 74.8 240.7 73.8 238.3 73.1 235.6 72.7 233.0 72.7 230.6 73.2 228.3 74.0 226.6 75.2 225.4 76.5 224.7 78.2 224.7 80.2 225.6 81.8 227.3 83.4 229.3 84.5 232.0 85.2 235.0 85.5 238.0 85.2Z"/>
<path fill-rule="evenodd" fill="#0017ff" d="M278.0 97.6 201.3 97.6 201.2 30.5 278.0 30.4 278.0 97.6ZM235.8 86.2 238.8 85.8 241.7 85.1 244.4 83.8 246.2 82.5 247.2 81.2 247.8 79.5 247.6 77.8 246.5 76.2 244.5 74.5 242.0 73.3 239.0 72.4 235.6 72.0 232.6 72.1 229.6 72.8 227.2 73.8 225.4 75.2 224.1 76.8 223.5 78.8 223.9 80.8 225.3 82.8 227.0 84.2 229.6 85.4 232.6 86.0 235.8 86.2Z"/>
<path fill-rule="evenodd" fill="#002eff" d="M278.0 97.6 201.3 97.6 201.2 30.5 278.0 30.4 278.0 97.6ZM239.3 86.5 242.7 85.7 245.6 84.5 247.8 83.2 249.5 81.5 250.2 79.8 250.1 78.2 249.2 76.5 247.8 75.2 244.9 73.5 241.3 72.3 237.6 71.6 234.0 71.4 230.6 71.9 227.6 72.8 225.3 74.2 223.4 76.2 222.6 78.2 222.7 80.5 223.8 82.5 226.0 84.4 228.6 85.7 232.0 86.6 235.6 86.8 239.3 86.5Z"/>
<path fill-rule="evenodd" fill="#0046ff" d="M278.0 97.6 201.3 97.6 201.2 30.5 278.0 30.4 278.0 97.6ZM239.4 87.2 242.8 86.5 246.0 85.5 248.7 84.2 250.9 82.5 252.0 81.2 252.6 79.5 252.3 77.8 251.2 76.2 248.5 74.2 244.7 72.5 240.0 71.3 235.3 70.9 231.3 71.2 227.6 72.2 224.6 73.8 222.6 75.8 221.6 78.2 221.7 80.5 223.0 82.8 225.0 84.6 228.0 86.1 231.3 87.1 235.3 87.4 239.4 87.2Z"/>
<path fill-rule="evenodd" fill="#005dff" d="M278.0 97.6 201.3 97.6 201.2 30.5 278.0 30.4 278.0 97.6ZM239.1 87.8 243.0 87.2 246.6 86.2 249.7 84.8 252.0 83.4 253.6 81.8 254.5 80.2 254.4 78.2 253.5 76.5 250.7 74.2 246.7 72.3 241.3 70.9 236.0 70.3 231.3 70.6 227.3 71.7 223.9 73.5 221.6 75.8 220.7 78.2 220.8 80.5 222.0 82.8 224.1 84.8 227.2 86.5 230.6 87.5 234.6 88.0 239.1 87.8Z"/>
<path fill-rule="evenodd" fill="#0074ff" d="M278.0 97.6 201.3 97.6 201.2 30.5 278.0 30.4 278.0 97.6ZM238.1 88.5 242.3 88.0 246.3 87.1 249.8 85.8 253.0 84.2 254.9 82.5 256.2 80.5 256.3 78.5 255.6 76.8 253.0 74.3 248.7 72.2 243.0 70.6 237.0 69.9 232.0 70.0 227.6 71.0 223.7 72.8 221.1 75.2 219.9 77.5 219.7 80.2 220.7 82.5 222.9 84.8 226.0 86.6 229.6 87.9 233.6 88.5 238.1 88.5Z"/>
<path fill-rule="evenodd" fill="#008bff" d="M278.0 97.6 201.3 97.6 201.2 30.5 278.0 30.4 278.0 97.6ZM240.7 88.8 245.0 88.1 249.3 86.9 252.7 85.5 255.3 83.8 256.9 82.2 257.9 80.2 257.8 78.2 256.8 76.2 253.6 73.5 248.9 71.5 242.3 69.9 235.6 69.4 230.3 69.8 226.0 71.0 222.1 73.2 219.7 75.8 218.7 78.5 219.1 81.2 220.6 83.7 223.3 85.9 227.0 87.6 231.0 88.7 235.6 89.1 240.7 88.8Z"/>
<path fill-rule="evenodd" fill="#00a2ff" d="M278.0 97.6 201.3 97.6 201.2 30.5 278.0 30.4 278.0 97.6ZM239.7 89.5 244.6 88.8 249.0 87.8 253.0 86.3 256.1 84.5 258.2 82.5 259.3 80.5 259.3 78.2 258.4 76.2 255.3 73.5 250.1 71.2 243.3 69.6 236.3 68.9 230.6 69.2 225.7 70.5 221.6 72.7 218.9 75.5 217.8 78.2 218.0 80.8 219.4 83.5 222.0 85.8 225.6 87.8 230.0 89.0 234.6 89.6 239.7 89.5Z"/>
<path fill-rule="evenodd" fill="#00b9ff" d="M278.0 97.6 201.3 97.6 201.2 30.5 278.0 30.4 278.0 97.6ZM242.0 89.8 247.0 89.0 251.3 87.8 255.2 86.2 258.0 84.3 260.0 82.2 260.8 79.8 260.5 77.5 259.3 75.5 257.7 73.9 255.7 72.6 250.3 70.5 243.0 69.0 235.3 68.4 229.6 68.9 224.6 70.3 220.3 72.8 217.7 75.8 216.8 78.5 217.2 81.5 219.3 84.5 222.4 86.8 226.3 88.6 231.0 89.7 236.3 90.2 242.0 89.8Z"/>
<path fill-rule="evenodd" fill="#00d1ff" d="M278.0 97.5 201.3 97.5 201.2 30.5 278.0 30.4 278.0 97.5ZM241.0 90.5 246.3 89.8 251.3 88.5 255.3 87.0 258.5 85.2 260.9 82.8 262.1 80.5 262.1 78.2 261.0 75.8 259.5 74.2 257.7 72.8 252.3 70.4 244.7 68.7 236.0 68.0 229.6 68.4 224.4 69.8 220.0 72.2 218.2 73.8 216.9 75.5 215.8 78.5 216.2 81.5 218.0 84.3 221.1 86.8 225.2 88.8 230.0 90.1 235.3 90.7 241.0 90.5Z"/>
<path fill-rule="evenodd" fill="#00e8ff" d="M278.0 97.5 201.3 97.5 201.3 30.5 278.0 30.5 278.0 97.5ZM239.4 91.2 245.0 90.6 250.7 89.4 255.3 87.8 259.1 85.8 261.8 83.5 263.2 81.2 263.5 78.5 262.4 75.8 261.0 74.2 258.8 72.5 253.3 70.0 245.7 68.3 236.6 67.5 230.0 67.9 224.3 69.3 219.6 71.6 217.7 73.2 216.2 74.8 214.8 77.8 214.9 80.8 216.5 83.8 219.3 86.5 223.3 88.7 228.3 90.3 233.6 91.1 239.4 91.2Z"/>
<path fill-rule="evenodd" fill="#00ffff" d="M278.0 97.5 201.3 97.5 201.3 30.5 278.0 30.5 278.0 97.5ZM242.5 91.5 248.3 90.6 253.3 89.4 257.7 87.6 261.2 85.5 263.5 83.2 264.8 80.5 264.7 77.8 263.4 75.2 261.8 73.5 259.4 71.8 256.7 70.5 253.3 69.3 244.7 67.7 235.3 67.1 228.3 67.6 222.6 69.3 218.0 71.9 216.2 73.5 214.7 75.5 213.6 78.5 213.7 80.2 214.1 81.8 216.3 85.0 220.1 87.8 225.0 90.0 230.3 91.3 236.0 91.8 242.5 91.5Z"/>
<path fill-rule="evenodd" fill="#17ffe8" d="M278.0 97.5 201.3 97.5 201.3 30.5 278.0 30.5 278.0 97.5ZM241.8 92.2 248.0 91.4 253.7 90.0 258.3 88.2 262.0 86.1 264.7 83.5 266.0 80.8 266.1 77.8 264.8 75.2 262.9 73.2 260.6 71.5 257.7 70.1 254.3 68.9 245.3 67.3 235.0 66.6 228.0 67.2 222.0 68.9 219.3 70.2 216.8 71.8 215.0 73.5 213.5 75.5 212.7 77.2 212.4 78.8 212.6 80.5 213.1 82.2 215.2 85.2 219.0 88.0 224.0 90.3 229.3 91.7 235.3 92.3 241.8 92.2Z"/>
<path fill-rule="evenodd" fill="#2effd1" d="M278.0 97.5 201.3 97.5 201.3 30.5 278.0 30.5 278.0 97.5ZM241.3 92.8 248.0 92.0 254.0 90.7 259.0 88.8 263.0 86.6 265.9 83.8 267.4 81.2 267.6 78.2 266.3 75.2 264.5 73.2 262.0 71.3 259.1 69.8 255.7 68.6 246.7 66.9 235.3 66.2 227.6 66.7 221.3 68.4 218.3 69.8 216.0 71.4 214.0 73.2 212.4 75.2 211.2 78.5 211.3 80.2 211.7 81.8 213.9 85.2 217.7 88.2 222.6 90.6 228.3 92.2 234.6 92.9 241.3 92.8Z"/>
<path fill-rule="evenodd" fill="#46ffb9" d="M278.0 97.5 201.3 97.5 201.3 30.5 278.0 30.5 278.0 97.5ZM241.3 93.5 248.3 92.7 254.7 91.3 260.0 89.4 264.3 86.9 267.3 84.2 268.9 81.2 269.1 79.5 269.0 77.8 267.6 74.8 265.8 72.8 263.1 70.8 260.0 69.3 256.3 68.0 246.7 66.4 234.6 65.7 226.6 66.3 220.3 68.0 217.3 69.5 214.7 71.2 212.5 73.2 211.0 75.2 209.9 78.5 209.9 80.2 210.4 82.2 212.7 85.5 216.6 88.6 221.6 91.0 227.6 92.7 234.3 93.6 241.3 93.5Z"/>
<path fill-rule="evenodd" fill="#5dffa2" d="M278.0 97.5 201.3 97.5 201.3 30.5 278.0 30.5 278.0 97.5ZM242.5 94.2 249.7 93.3 256.3 91.7 261.7 89.7 265.9 87.2 269.0 84.2 270.5 81.2 270.8 79.5 270.6 77.8 269.1 74.5 267.0 72.2 264.3 70.3 261.0 68.7 257.3 67.5 247.3 65.9 233.6 65.2 225.6 65.9 219.0 67.7 216.0 69.2 213.3 70.9 211.2 72.8 209.4 75.2 208.7 76.8 208.3 78.8 208.5 80.8 209.0 82.5 210.2 84.5 211.7 86.2 216.0 89.3 221.6 91.9 228.0 93.5 235.0 94.3 242.5 94.2Z"/>
<path fill-rule="evenodd" fill="#74ff8b" d="M278.0 97.5 201.3 97.5 201.3 30.5 278.0 30.5 278.0 97.5ZM239.7 95.2 247.3 94.5 255.0 93.1 261.3 91.0 266.3 88.4 270.2 85.2 272.2 81.8 272.6 80.2 272.6 78.2 272.0 76.2 271.1 74.5 269.0 72.2 266.3 70.1 263.0 68.4 259.0 67.1 249.3 65.5 234.0 64.7 225.3 65.3 218.3 67.0 215.3 68.3 212.3 70.2 209.9 72.2 208.0 74.5 207.1 76.2 206.6 78.2 206.6 80.2 207.1 82.2 208.1 84.2 209.5 85.8 213.3 89.0 219.0 91.9 225.3 93.9 232.3 95.0 239.7 95.2Z"/>
<path fill-rule="evenodd" fill="#8bff74" d="M278.0 97.5 201.3 97.5 201.3 30.5 278.0 30.5 278.0 97.5ZM240.9 96.2 249.3 95.4 257.0 93.8 263.3 91.6 268.7 88.7 272.3 85.5 273.5 83.8 274.5 81.8 274.9 79.8 274.8 77.8 274.1 75.8 273.2 74.2 271.0 71.6 268.0 69.4 264.7 67.7 260.7 66.5 256.3 65.7 250.3 65.0 232.6 64.2 223.3 64.8 216.3 66.6 213.0 68.1 210.0 70.0 207.5 72.2 205.7 74.5 204.8 76.5 204.4 78.5 204.4 80.5 205.0 82.5 206.1 84.5 207.7 86.5 212.3 90.0 218.3 92.9 225.3 95.0 232.6 96.1 240.9 96.2Z"/>
<path fill-rule="evenodd" fill="#a2ff5d" d="M278.0 78.5 276.9 74.8 274.4 71.5 270.3 68.4 265.7 66.4 261.3 65.4 255.3 64.7 231.6 63.6 225.0 63.8 219.6 64.4 215.3 65.3 211.6 66.7 207.6 69.1 204.5 71.8 202.4 74.8 201.3 78.2 201.3 30.5 278.0 30.5 278.0 78.5ZM278.0 97.5 243.3 97.5 250.3 96.8 256.3 95.6 262.3 93.9 267.7 91.7 272.0 89.0 275.1 86.2 277.1 83.2 278.0 80.0 278.0 97.5ZM231.6 97.5 201.3 97.5 201.3 80.3 202.1 83.2 204.1 86.2 206.9 88.8 210.6 91.3 215.3 93.6 220.3 95.4 225.6 96.7 231.9 97.5 231.6 97.5Z"/>
<path fill-rule="evenodd" fill="#b9ff46" d="M278.0 67.7 273.3 65.5 267.3 64.4 226.6 63.0 216.3 63.2 210.0 63.9 205.3 65.3 201.3 67.6 201.3 30.5 278.0 30.5 278.0 67.7ZM214.3 97.5 201.3 97.5 201.3 90.9 207.0 94.3 214.6 97.5 214.3 97.5ZM278.0 97.5 263.8 97.5 271.7 94.6 278.0 90.8 278.0 97.5Z"/>
<path fill-rule="evenodd" fill="#d1ff2e" d="M257.7 62.8 245.0 63.0 224.0 62.0 217.3 61.2 213.0 59.6 210.0 57.6 207.1 54.8 204.8 51.5 203.2 48.2 202.4 44.8 202.4 41.2 203.0 37.8 204.4 34.5 207.1 30.5 275.7 30.5 278.0 33.7 278.0 51.6 276.3 54.2 274.2 56.5 271.7 58.6 269.3 60.2 264.3 62.0 257.7 62.8Z"/>
<path fill-rule="evenodd" fill="#e8ff17" d="M253.0 62.2 241.3 62.3 226.6 61.3 220.3 60.2 217.7 59.2 215.3 57.9 212.3 55.5 209.8 52.8 207.9 49.8 206.6 46.5 206.2 43.5 206.3 40.2 207.2 37.2 208.9 33.8 211.5 30.5 271.3 30.5 273.3 32.8 274.8 35.2 275.8 37.5 276.5 40.2 276.7 42.8 276.4 45.5 275.8 47.8 274.5 50.5 272.7 53.2 270.7 55.4 268.2 57.5 265.6 59.2 260.3 61.2 253.0 62.2Z"/>
<path fill-rule="evenodd" fill="#ffff00" d="M250.3 61.5 239.3 61.6 227.6 60.6 221.6 59.1 216.6 56.4 214.0 54.2 211.7 51.5 210.0 48.5 209.0 45.5 208.7 42.5 209.0 39.5 210.1 36.5 211.9 33.5 214.6 30.5 268.2 30.5 270.4 32.8 272.0 35.2 273.2 37.5 273.9 40.2 274.2 42.5 273.9 45.2 273.2 47.8 272.0 50.2 270.4 52.5 268.2 54.8 265.7 56.8 263.0 58.5 257.6 60.5 250.3 61.5Z"/>
<path fill-rule="evenodd" fill="#ffe800" d="M248.7 60.9 238.3 60.9 228.6 59.8 222.3 58.0 217.3 54.9 215.0 52.7 213.0 50.2 211.7 47.5 210.9 44.5 210.8 41.5 211.3 38.8 212.4 36.2 214.2 33.5 217.2 30.5 265.7 30.5 267.8 32.5 269.6 34.8 270.9 37.2 271.7 39.5 272.1 41.8 272.0 44.5 271.3 47.2 270.2 49.5 268.6 51.8 266.4 54.2 261.3 57.7 255.7 59.8 248.7 60.9Z"/>
<path fill-rule="evenodd" fill="#ffd100" d="M247.0 60.2 238.0 60.2 229.3 59.0 223.3 57.1 218.3 53.8 216.0 51.5 214.4 49.2 213.2 46.5 212.6 43.8 212.6 41.2 213.3 38.5 214.5 35.8 216.2 33.5 219.5 30.5 263.4 30.5 264.6 31.5 268.1 35.5 269.3 37.8 270.0 40.2 270.3 42.5 270.1 44.8 269.4 47.2 268.3 49.5 266.7 51.7 264.7 53.7 259.7 57.1 254.0 59.2 247.0 60.2Z"/>
<path fill-rule="evenodd" fill="#ffb900" d="M245.0 59.5 236.3 59.3 229.0 58.0 223.3 55.7 220.9 54.2 218.5 52.2 216.8 50.2 215.4 47.8 214.6 45.5 214.2 42.8 214.5 40.2 215.2 37.8 216.6 35.5 218.5 33.2 221.7 30.5 238.3 30.5 261.1 30.5 264.3 33.2 267.3 37.2 268.1 39.2 268.6 41.5 268.6 43.8 268.2 45.8 267.3 48.2 266.0 50.2 262.3 53.9 257.3 56.9 251.7 58.7 245.0 59.5Z"/>
<path fill-rule="evenodd" fill="#ffa200" d="M247.0 58.5 239.3 58.7 231.6 57.7 225.6 55.6 220.8 52.5 218.9 50.5 217.5 48.5 216.4 46.2 215.9 43.8 215.9 41.5 216.4 39.2 217.4 36.8 219.1 34.5 221.3 32.4 224.0 30.5 258.8 30.5 262.0 32.8 265.2 36.5 266.8 40.5 266.9 44.5 265.4 48.5 262.4 52.2 258.0 55.3 253.0 57.3 247.0 58.5Z"/>
<path fill-rule="evenodd" fill="#ff8b00" d="M244.3 57.8 237.3 57.7 230.6 56.4 225.3 54.2 221.0 50.8 219.4 48.8 218.3 46.8 217.6 44.5 217.4 42.2 217.8 39.8 218.6 37.8 219.8 35.8 221.6 33.8 223.7 32.2 226.4 30.5 256.4 30.5 259.3 32.3 261.9 34.5 264.4 38.2 265.4 41.8 264.9 45.8 263.0 49.5 259.7 52.8 255.3 55.3 250.3 57.0 244.3 57.8Z"/>
<path fill-rule="evenodd" fill="#ff7400" d="M245.0 56.8 238.3 56.8 232.0 55.7 226.6 53.5 222.6 50.6 221.1 48.8 220.0 46.8 219.3 44.8 219.0 42.8 219.2 40.5 219.9 38.5 222.5 34.8 225.4 32.5 229.2 30.5 253.7 30.5 257.0 32.2 260.0 34.5 262.6 37.8 263.8 41.5 263.5 45.2 261.9 48.5 259.0 51.7 255.0 54.2 250.3 55.9 245.0 56.8Z"/>
<path fill-rule="evenodd" fill="#ff5d00" d="M244.3 55.9 238.3 55.8 232.6 54.7 227.6 52.7 223.9 49.8 222.5 48.2 221.4 46.2 220.7 42.5 221.0 40.5 221.6 38.6 224.2 35.2 227.9 32.5 232.6 30.5 250.2 30.5 255.0 32.5 259.0 35.5 261.1 38.5 262.1 41.8 261.8 45.2 260.3 48.2 257.4 51.2 253.7 53.5 249.3 55.0 244.3 55.9Z"/>
<path fill-rule="evenodd" fill="#ff4600" d="M245.7 54.5 240.3 54.8 235.0 54.1 230.3 52.5 226.3 50.0 223.7 46.8 222.6 43.5 222.9 40.2 224.8 36.8 227.3 34.5 230.9 32.5 235.0 31.2 239.4 30.5 244.3 30.6 249.0 31.5 253.0 33.0 256.4 35.2 258.8 37.8 260.1 40.8 260.2 43.8 259.2 46.8 257.1 49.5 253.9 51.8 250.1 53.5 245.7 54.5Z"/>
<path fill-rule="evenodd" fill="#ff2e00" d="M245.3 53.2 240.7 53.5 235.7 52.8 231.6 51.5 228.0 49.2 225.7 46.5 224.7 43.5 225.0 40.5 226.6 37.5 229.3 35.2 232.3 33.5 236.0 32.4 240.0 31.8 244.3 32.0 248.3 32.8 251.9 34.2 254.7 36.0 256.7 38.2 258.0 40.8 258.1 43.5 257.3 46.2 255.6 48.5 252.7 50.7 249.3 52.2 245.3 53.2Z"/>
<path fill-rule="evenodd" fill="#ff1700" d="M244.7 51.5 240.7 51.8 236.6 51.2 233.0 50.0 230.2 48.2 228.2 45.8 227.3 43.2 227.7 40.5 229.1 38.2 231.3 36.3 234.0 34.9 237.3 33.9 240.7 33.5 244.0 33.7 247.3 34.3 250.2 35.5 252.7 37.2 254.5 39.2 255.4 41.2 255.5 43.5 254.7 45.8 253.1 47.8 250.8 49.5 247.7 50.8 244.7 51.5Z"/>
<path fill-rule="evenodd" fill="#ff0000" d="M244.0 48.8 241.0 49.0 238.3 48.7 235.6 47.9 233.6 46.6 232.3 45.2 231.5 43.2 231.7 41.5 232.6 39.7 233.9 38.5 235.6 37.4 238.0 36.6 240.3 36.3 245.0 36.7 247.3 37.5 249.0 38.5 250.3 39.8 251.2 41.5 251.3 42.8 250.9 44.5 250.0 45.9 248.4 47.2 246.5 48.2 244.0 48.8Z"/>
</g>
<path fill="none" stroke="#000" stroke-opacity="0.55" stroke-width="0.45" d="M237.8 87.5 244.6 86.2 250.3 83.5 252.1 81.8 253.0 80.2 253.0 78.5 252.2 76.8 250.1 74.8 246.2 72.8 241.3 71.4 236.3 70.8 232.0 70.9 228.1 71.8 225.0 73.4 222.6 75.5 221.6 77.5 221.4 79.8 222.3 82.2 224.1 84.2 226.8 85.8 230.0 86.9 233.6 87.5 237.8 87.5"/>
<path fill="none" stroke="#000" stroke-opacity="0.55" stroke-width="0.45" d="M239.0 90.5 244.3 89.9 249.6 88.8 254.0 87.4 257.6 85.5 260.0 83.5 261.5 81.2 261.8 78.5 260.9 76.2 257.8 73.2 252.7 70.7 245.3 68.9 237.0 68.1 230.6 68.4 225.3 69.6 220.8 71.8 217.6 74.8 216.2 77.5 216.1 80.5 217.6 83.5 220.3 86.1 224.0 88.2 228.6 89.7 233.6 90.5 239.0 90.5"/>
<path fill="none" stroke="#000" stroke-opacity="0.55" stroke-width="0.45" d="M243.6 93.5 250.3 92.5 256.3 91.0 261.3 89.0 265.3 86.5 268.2 83.5 269.4 80.5 269.2 77.2 267.5 74.2 265.5 72.2 262.7 70.3 256.0 67.8 245.7 66.1 233.3 65.6 225.6 66.3 219.3 68.2 213.9 71.5 210.4 75.5 209.5 79.2 210.4 82.8 213.0 86.2 217.6 89.4 223.3 91.8 229.6 93.3 236.3 93.8 243.6 93.5"/>
<path fill="none" stroke="#000" stroke-opacity="0.55" stroke-width="0.45" d="M201.3 38.5 202.8 34.5 205.4 30.5M277.5 30.5 278.0 31.2M278.0 54.1 274.9 57.5 271.3 60.2 268.0 61.7 263.7 62.7 248.3 63.2 219.6 62.0 213.3 60.8 208.6 58.1 203.9 52.8 202.3 49.8 201.3 46.8"/>
<path fill="none" stroke="#000" stroke-opacity="0.55" stroke-width="0.45" d="M260.5 30.5 265.1 34.5 267.7 39.2 268.2 41.5 268.1 44.2 267.4 46.8 266.3 49.2 262.3 53.5 256.7 56.9 250.0 58.8 242.3 59.4 233.6 58.7 226.6 57.0 221.0 53.9 217.0 49.8 215.7 47.5 214.8 44.8 214.6 42.2 215.1 39.5 216.0 37.2 217.6 34.6 222.3 30.5"/>
<path fill="none" stroke="#000" stroke-opacity="0.55" stroke-width="0.45" d="M242.0 53.8 237.0 53.5 232.3 52.2 228.5 50.2 225.8 47.5 224.3 44.5 224.2 41.2 225.6 38.0 228.5 35.2 231.6 33.4 235.3 32.1 239.6 31.5 244.0 31.6 248.0 32.3 251.7 33.6 254.8 35.5 257.1 37.8 258.4 40.5 258.7 43.2 258.0 45.8 256.2 48.5 253.3 50.8 250.0 52.4 246.0 53.5 242.0 53.8"/>
</g>
<clipPath id="c9"><path d="M238.26 110.00C241.09 109.80 244.27 110.30 246.93 111.20C249.58 112.10 251.78 114.20 254.20 115.40C256.63 116.60 259.05 117.20 261.48 118.40C263.91 119.60 266.93 120.80 268.76 122.60C270.58 124.40 271.50 126.90 272.43 129.20C273.35 131.50 274.10 133.80 274.30 136.40C274.50 139.00 274.13 142.10 273.61 144.80C273.09 147.50 272.80 149.80 271.18 152.60C269.56 155.40 266.97 159.10 263.91 161.60C260.84 164.10 256.86 166.30 252.82 167.60C248.77 168.90 244.27 169.60 239.65 169.40C235.03 169.20 229.37 168.00 225.10 166.40C220.82 164.80 216.95 162.50 214.01 159.80C211.06 157.10 208.93 153.70 207.43 150.20C205.92 146.70 205.09 142.10 205.00 138.80C204.91 135.50 205.95 132.90 206.87 130.40C207.80 127.90 208.89 125.70 210.54 123.80C212.20 121.90 214.36 120.40 216.78 119.00C219.21 117.60 222.90 116.50 225.10 115.40C227.29 114.30 227.75 113.30 229.95 112.40C232.14 111.50 235.43 110.20 238.26 110.00Z"/></clipPath>
<g clip-path="url(#c9)"><g filter="url(#bl)">
<rect x="202.0" y="107.0" width="75.3" height="66.0" fill="#0000bb"/>
<path fill-rule="evenodd" fill="#0000d1" d="M277.3 173.0 202.0 173.0 201.9 107.0 277.3 106.9 277.3 173.0ZM226.5 164.7 228.1 164.1 228.9 163.3 229.1 162.3 228.4 161.3 227.1 160.6 225.4 160.3 223.8 160.6 222.7 161.3 222.3 162.7 223.1 163.9 224.8 164.6 226.5 164.7ZM258.5 166.7 260.6 166.0 262.1 164.7 262.3 163.0 261.3 161.7 259.6 160.8 257.6 160.7 255.2 161.2 253.6 162.3 253.0 164.0 253.9 165.5 255.9 166.5 258.5 166.7Z"/>
<path fill-rule="evenodd" fill="#0000e8" d="M277.3 173.0 202.0 173.0 201.9 107.0 277.3 106.9 277.3 173.0ZM227.7 168.3 231.5 167.1 233.1 166.0 234.0 165.0 234.5 164.0 234.5 163.0 233.9 161.7 233.0 160.7 229.7 158.7 225.4 157.7 223.4 157.8 221.4 158.2 218.7 160.0 217.8 161.3 217.6 163.0 218.0 164.7 219.1 166.1 220.7 167.3 222.7 168.1 225.1 168.4 227.7 168.3ZM259.9 170.0 261.9 169.5 263.9 168.4 265.3 167.3 266.3 165.7 266.6 164.0 266.2 162.3 265.3 161.0 263.9 159.8 262.2 159.0 260.2 158.5 256.0 158.7 251.4 160.3 248.6 162.7 248.1 164.0 248.2 165.3 249.2 166.9 250.9 168.3 252.9 169.3 255.2 170.0 257.6 170.2 259.9 170.0Z"/>
<path fill-rule="evenodd" fill="#0000ff" d="M277.3 173.0 264.8 173.0 267.3 171.3 269.0 169.3 270.1 167.0 270.3 164.7 269.7 162.3 268.4 160.3 266.3 158.7 263.6 157.4 259.6 156.8 255.0 157.3 250.6 158.7 243.5 161.8 241.5 162.1 239.1 161.5 233.9 158.7 230.4 157.2 227.1 156.3 224.1 156.0 221.0 156.3 218.1 157.4 215.9 159.0 214.3 161.3 213.8 163.7 214.3 166.3 215.7 168.5 218.1 170.5 220.1 171.5 222.4 172.2 227.4 172.5 231.1 171.8 238.8 168.6 241.2 168.2 243.5 169.0 250.5 173.0 202.0 173.0 202.0 107.0 277.3 107.0 277.3 173.0Z"/>
<path fill-rule="evenodd" fill="#0017ff" d="M203.7 172.7 202.0 173.0 202.0 107.0 277.3 107.0 277.3 170.5 276.4 169.0 274.4 163.7 272.4 160.7 269.4 158.0 265.3 156.1 261.6 155.5 257.2 155.7 252.9 156.6 245.2 158.9 241.5 159.3 238.1 158.6 228.4 155.3 225.4 154.7 222.4 154.6 219.7 154.9 217.1 155.7 214.6 157.0 212.5 158.7 210.8 160.7 209.7 162.7 207.5 170.3 206.0 171.8 203.7 172.7Z"/>
<path fill-rule="evenodd" fill="#002eff" d="M202.0 162.7 202.0 107.0 277.3 107.0 277.3 160.2 273.6 157.7 270.5 156.0 267.3 154.9 264.2 154.3 260.9 154.1 257.6 154.5 245.8 157.2 241.8 157.6 238.1 157.1 227.1 153.9 221.1 153.3 217.1 153.8 212.9 155.3 209.5 157.3 202.0 162.7Z"/>
<path fill-rule="evenodd" fill="#0046ff" d="M243.2 156.3 237.8 155.8 225.4 152.4 219.7 151.9 213.6 152.7 202.0 156.4 202.0 107.0 277.3 107.0 277.3 155.7 269.3 153.3 263.2 152.7 257.9 153.3 247.2 155.8 243.2 156.3Z"/>
<path fill-rule="evenodd" fill="#005dff" d="M245.8 155.0 242.2 155.3 238.5 154.9 225.4 151.4 219.4 150.4 214.7 150.3 206.0 151.3 202.0 151.4 202.0 107.0 277.3 107.0 277.3 151.8 268.9 151.1 263.9 151.3 258.6 152.1 245.8 155.0Z"/>
<path fill-rule="evenodd" fill="#0074ff" d="M243.2 154.3 239.8 154.2 236.5 153.6 218.7 148.7 206.7 147.3 202.0 146.4 202.0 107.0 277.3 107.0 277.3 147.8 265.6 149.4 248.9 153.6 243.2 154.3Z"/>
<path fill-rule="evenodd" fill="#008bff" d="M245.2 153.4 239.8 153.3 233.8 152.1 208.4 143.5 202.0 141.1 202.0 107.0 277.3 107.0 277.3 143.4 256.9 150.6 250.2 152.5 245.2 153.4Z"/>
<path fill-rule="evenodd" fill="#00a2ff" d="M243.8 152.7 239.8 152.6 235.5 151.7 230.1 150.1 223.8 147.7 215.8 143.7 202.0 134.7 202.0 107.0 277.3 107.0 277.3 138.4 267.8 144.7 261.2 148.0 251.5 151.3 247.5 152.2 243.8 152.7Z"/>
<path fill-rule="evenodd" fill="#00b9ff" d="M246.5 151.7 242.5 152.0 238.8 151.7 234.5 150.7 229.8 149.2 225.1 147.2 221.0 145.0 217.2 142.3 213.9 139.3 206.3 130.7 202.0 124.9 202.0 107.0 277.3 107.0 277.3 132.2 269.6 140.7 263.7 145.3 259.9 147.4 255.5 149.3 250.9 150.8 246.5 151.7Z"/>
<path fill-rule="evenodd" fill="#00d1ff" d="M246.2 151.0 242.2 151.3 238.1 150.9 233.5 149.7 228.7 148.0 224.7 146.0 221.1 143.7 218.1 141.0 215.2 137.7 212.7 133.7 210.6 129.3 209.3 125.0 208.7 121.3 208.8 117.7 209.6 114.0 211.1 110.3 213.2 107.0 271.7 107.0 273.7 110.3 275.0 113.3 275.9 116.7 276.2 120.0 275.9 123.3 275.1 127.0 273.7 130.7 271.8 134.3 269.6 137.7 267.2 140.7 264.4 143.3 261.6 145.3 258.1 147.3 254.2 149.0 250.2 150.2 246.2 151.0Z"/>
<path fill-rule="evenodd" fill="#00e8ff" d="M246.2 150.4 242.2 150.6 237.8 150.2 233.5 149.1 228.8 147.2 224.8 145.0 221.6 142.7 218.7 139.7 216.3 136.3 214.5 132.7 213.2 128.7 212.6 124.7 212.8 121.0 213.6 117.3 215.1 113.7 217.3 110.3 220.2 107.0 264.6 107.0 267.1 109.7 269.1 112.7 270.5 115.3 271.5 118.3 272.1 121.3 272.2 124.3 271.9 127.7 271.1 130.7 268.3 136.7 264.5 141.7 259.6 145.6 253.2 148.6 246.2 150.4Z"/>
<path fill-rule="evenodd" fill="#00ffff" d="M242.8 150.0 238.8 149.7 234.8 148.8 230.4 147.2 226.4 145.2 223.4 143.0 220.7 140.3 218.4 137.3 216.7 134.0 215.4 130.3 214.8 126.7 214.8 123.0 215.4 119.7 216.8 116.0 218.6 112.7 221.0 109.7 223.9 107.0 261.0 107.0 265.2 111.3 268.2 116.3 269.2 119.0 269.9 122.0 270.1 125.0 269.9 128.0 269.2 131.0 268.2 134.0 265.0 139.3 260.8 143.7 255.5 146.9 249.2 149.2 242.8 150.0Z"/>
<path fill-rule="evenodd" fill="#17ffe8" d="M244.2 149.3 240.2 149.3 236.1 148.6 231.8 147.1 227.8 145.1 224.7 143.0 221.9 140.3 219.7 137.3 218.0 134.0 216.8 130.3 216.3 126.7 216.4 123.0 217.3 119.3 218.6 116.0 220.7 112.6 223.4 109.6 226.6 107.0 258.3 107.0 260.9 109.1 263.3 111.7 265.5 114.7 267.0 117.7 268.4 123.0 268.4 128.3 267.0 133.7 264.3 138.7 260.7 142.7 255.9 145.9 250.2 148.2 244.2 149.3Z"/>
<path fill-rule="evenodd" fill="#2effd1" d="M244.8 148.7 240.8 148.7 236.8 148.1 232.8 146.9 228.8 144.9 225.5 142.7 222.8 140.0 220.6 137.0 218.9 133.7 217.9 130.0 217.5 126.0 217.8 122.3 218.9 118.7 220.5 115.3 222.9 112.0 225.8 109.2 228.9 107.0 255.9 107.0 259.2 109.3 261.9 112.0 264.3 115.3 266.0 118.7 267.2 123.7 267.2 128.7 265.9 133.7 263.4 138.3 259.9 142.3 255.6 145.3 250.5 147.5 244.8 148.7Z"/>
<path fill-rule="evenodd" fill="#46ffb9" d="M245.8 148.0 241.8 148.2 237.8 147.8 233.8 146.6 229.8 144.8 226.6 142.7 223.8 140.0 221.6 137.0 219.8 133.3 218.8 129.7 218.6 125.7 219.0 122.0 220.2 118.3 222.3 114.7 224.7 111.7 227.8 109.0 231.1 107.0 253.7 107.0 257.6 109.4 260.7 112.3 263.4 116.0 265.2 119.7 266.2 124.3 266.1 129.0 264.9 133.7 262.6 138.0 259.5 141.7 255.5 144.6 250.9 146.8 245.8 148.0Z"/>
<path fill-rule="evenodd" fill="#5dffa2" d="M242.8 147.7 239.1 147.4 235.1 146.5 231.5 145.0 228.1 143.0 225.4 140.7 222.9 137.7 221.1 134.3 220.0 131.0 219.5 127.7 219.6 124.0 220.5 120.3 222.0 117.0 224.1 113.8 226.8 111.1 229.8 108.8 233.4 107.0 251.4 107.0 252.9 107.6 257.2 110.3 260.6 113.7 263.2 117.7 264.8 122.0 265.4 126.7 264.8 131.3 263.1 135.7 260.4 139.7 256.8 143.0 252.5 145.5 247.8 147.1 242.8 147.7Z"/>
<path fill-rule="evenodd" fill="#74ff8b" d="M244.5 147.0 240.5 147.0 236.5 146.3 232.5 144.8 229.1 142.9 226.1 140.4 223.8 137.7 221.9 134.3 220.7 130.7 220.3 127.0 220.6 123.3 221.7 119.7 223.4 116.2 225.8 113.2 228.8 110.6 232.1 108.5 236.0 107.0 248.8 107.0 253.5 108.9 257.2 111.5 260.3 114.7 262.8 118.7 264.1 122.7 264.5 127.0 263.9 131.3 262.4 135.3 260.1 139.0 257.1 142.0 253.2 144.5 248.9 146.2 244.5 147.0Z"/>
<path fill-rule="evenodd" fill="#8bff74" d="M245.5 146.4 241.5 146.6 237.5 146.0 233.5 144.7 229.8 142.7 226.6 140.0 224.2 137.0 222.4 133.7 221.4 130.0 221.1 126.0 221.7 122.3 223.0 118.7 225.0 115.3 227.8 112.4 230.8 110.2 234.5 108.3 238.5 107.2 244.8 107.0 246.8 107.3 250.9 108.5 254.5 110.5 257.9 113.2 260.5 116.3 262.4 120.0 263.5 123.7 263.7 127.7 263.2 131.3 261.8 135.0 259.6 138.6 256.9 141.3 253.5 143.7 249.5 145.4 245.5 146.4Z"/>
<path fill-rule="evenodd" fill="#a2ff5d" d="M243.5 146.0 239.5 145.8 235.5 144.9 231.8 143.2 228.5 141.0 225.9 138.3 223.8 135.0 222.5 131.7 221.9 128.0 222.0 124.3 223.0 120.7 224.6 117.3 227.1 114.1 230.1 111.5 233.5 109.6 237.1 108.3 241.2 107.6 245.2 107.8 248.9 108.6 252.5 110.1 255.9 112.4 258.6 115.0 260.8 118.3 262.3 122.0 263.0 125.7 262.8 129.7 261.8 133.3 260.1 136.7 257.8 139.7 254.6 142.3 251.2 144.2 247.5 145.4 243.5 146.0Z"/>
<path fill-rule="evenodd" fill="#b9ff46" d="M244.8 145.4 240.8 145.4 237.1 144.8 233.5 143.5 230.1 141.5 227.3 139.0 225.1 136.0 223.5 132.7 222.7 129.3 222.6 125.7 223.3 122.0 224.6 118.7 226.6 115.7 229.3 113.0 232.5 110.8 235.8 109.4 239.5 108.5 243.5 108.3 247.2 108.8 250.9 110.1 254.2 112.0 257.0 114.3 259.4 117.3 261.1 120.7 262.1 124.3 262.3 128.0 261.6 131.7 260.2 135.2 258.1 138.3 255.4 141.0 252.2 143.1 248.5 144.6 244.8 145.4Z"/>
<path fill-rule="evenodd" fill="#d1ff2e" d="M245.8 144.7 242.2 145.0 238.5 144.6 235.1 143.6 231.8 141.9 228.8 139.7 226.5 137.0 224.7 134.0 223.6 130.7 223.2 127.3 223.6 123.7 224.6 120.3 226.3 117.3 228.5 114.7 231.5 112.2 234.8 110.5 238.1 109.4 241.8 109.0 245.8 109.3 249.5 110.3 252.9 111.9 255.9 114.2 258.2 116.8 260.1 120.0 261.2 123.3 261.6 126.7 261.3 130.3 260.2 133.7 258.4 137.0 256.0 139.7 253.0 142.0 249.5 143.7 245.8 144.7Z"/>
<path fill-rule="evenodd" fill="#e8ff17" d="M244.2 144.4 240.5 144.3 237.1 143.7 233.8 142.4 230.8 140.6 228.1 138.1 226.1 135.3 224.8 132.3 224.0 129.0 224.0 125.7 224.6 122.3 225.8 119.3 227.9 116.3 230.4 113.8 233.5 111.8 236.8 110.4 240.2 109.7 243.8 109.7 247.5 110.3 250.9 111.6 253.9 113.4 256.6 115.8 258.6 118.7 260.1 122.0 260.9 125.3 260.9 128.7 260.2 132.0 258.9 135.0 256.8 138.0 254.2 140.5 251.2 142.4 247.8 143.7 244.2 144.4Z"/>
<path fill-rule="evenodd" fill="#ffff00" d="M245.2 143.7 241.5 143.9 238.1 143.4 234.8 142.3 231.9 140.7 229.4 138.6 227.3 136.0 225.7 133.0 224.8 130.0 224.6 126.7 225.0 123.3 226.1 120.3 227.8 117.5 230.0 115.0 232.8 112.9 235.8 111.5 239.1 110.5 242.8 110.3 246.2 110.6 249.5 111.7 252.5 113.2 255.2 115.4 257.4 118.0 259.1 121.0 260.0 124.3 260.3 127.7 259.8 131.0 258.7 134.0 256.9 137.0 254.5 139.4 251.9 141.4 248.5 142.9 245.2 143.7Z"/>
<path fill-rule="evenodd" fill="#ffe800" d="M242.8 143.3 239.5 143.1 236.5 142.3 233.5 141.0 230.7 139.0 228.5 136.7 226.8 133.9 225.7 131.0 225.2 127.7 225.5 124.3 226.3 121.3 227.8 118.6 229.9 116.0 232.5 113.9 235.5 112.3 238.5 111.3 241.8 110.9 245.2 111.1 248.5 111.9 251.5 113.4 254.2 115.3 256.4 117.7 258.1 120.3 259.2 123.3 259.6 126.7 259.4 130.0 258.5 133.0 256.9 136.0 254.9 138.3 252.2 140.5 249.3 142.0 246.2 143.0 242.8 143.3Z"/>
<path fill-rule="evenodd" fill="#ffd100" d="M244.5 142.7 241.2 142.7 238.1 142.3 235.1 141.2 232.5 139.6 230.1 137.6 228.1 135.1 226.8 132.3 226.0 129.3 225.9 126.3 226.3 123.3 227.4 120.5 229.1 117.8 231.2 115.7 233.8 113.8 236.8 112.4 239.8 111.7 243.2 111.5 246.2 111.9 249.2 112.9 252.2 114.5 254.5 116.5 256.6 119.0 258.1 122.0 258.9 125.0 259.0 128.0 258.5 131.0 257.3 134.0 255.6 136.7 253.3 139.0 250.8 140.7 247.8 141.9 244.5 142.7Z"/>
<path fill-rule="evenodd" fill="#ffb900" d="M245.2 142.0 242.2 142.2 239.1 141.9 236.1 141.0 233.5 139.6 231.1 137.8 229.1 135.5 227.7 133.0 226.7 130.0 226.5 127.0 226.8 124.3 227.6 121.7 229.1 118.9 231.0 116.7 233.5 114.7 236.1 113.3 239.1 112.4 242.2 112.1 245.5 112.4 248.5 113.3 251.2 114.6 253.5 116.4 255.6 118.7 257.1 121.3 258.1 124.3 258.4 127.3 258.0 130.3 257.1 133.0 255.6 135.7 253.5 138.0 251.2 139.8 248.2 141.2 245.2 142.0Z"/>
<path fill-rule="evenodd" fill="#ffa200" d="M245.5 141.4 242.5 141.6 239.5 141.4 236.8 140.6 234.1 139.3 231.8 137.6 229.8 135.3 228.4 133.0 227.5 130.3 227.1 127.7 227.4 124.7 228.2 122.0 229.4 119.7 231.3 117.3 233.5 115.5 236.1 114.0 238.8 113.2 241.8 112.8 244.8 112.9 247.8 113.7 250.5 115.0 252.9 116.7 254.9 118.8 256.4 121.3 257.3 124.0 257.7 126.7 257.5 129.7 256.7 132.3 255.3 135.0 253.5 137.1 251.2 139.0 248.5 140.5 245.5 141.4Z"/>
<path fill-rule="evenodd" fill="#ff8b00" d="M243.5 141.0 240.5 140.9 237.8 140.3 235.1 139.2 232.8 137.7 230.8 135.7 229.3 133.3 228.3 131.0 227.8 128.3 227.9 125.7 228.5 123.0 229.5 120.7 231.2 118.3 233.4 116.3 235.8 114.9 238.5 113.9 241.2 113.4 244.2 113.5 246.8 114.0 249.5 115.1 251.9 116.7 253.9 118.7 255.5 121.0 256.5 123.3 257.0 126.0 257.0 128.7 256.4 131.3 255.2 134.0 253.5 136.2 251.5 138.1 248.9 139.6 246.2 140.6 243.5 141.0Z"/>
<path fill-rule="evenodd" fill="#ff7400" d="M243.8 140.4 241.2 140.4 238.5 139.9 235.8 138.8 233.5 137.4 231.7 135.7 230.1 133.5 229.1 131.3 228.5 128.7 228.5 126.0 229.0 123.7 229.9 121.3 231.5 119.0 233.5 117.1 235.7 115.7 238.1 114.7 240.8 114.1 243.5 114.1 246.2 114.5 248.9 115.5 251.2 117.0 253.0 118.7 254.5 120.7 255.7 123.0 256.3 125.7 256.4 128.3 255.8 131.0 254.8 133.3 253.2 135.6 251.2 137.5 248.9 139.0 246.5 139.9 243.8 140.4Z"/>
<path fill-rule="evenodd" fill="#ff5d00" d="M243.8 139.7 241.2 139.7 238.8 139.3 236.2 138.3 234.1 137.0 232.3 135.3 230.8 133.3 229.7 131.0 229.2 128.7 229.2 126.0 229.7 123.7 230.7 121.3 232.1 119.3 233.9 117.7 235.9 116.3 238.3 115.3 240.8 114.8 243.5 114.7 245.8 115.1 248.3 116.0 250.5 117.3 252.5 119.1 254.1 121.3 255.1 123.7 255.6 126.0 255.7 128.3 255.2 130.7 254.2 133.0 252.9 135.0 251.2 136.7 248.9 138.2 246.5 139.2 243.8 139.7Z"/>
<path fill-rule="evenodd" fill="#ff4600" d="M243.8 139.0 241.5 139.0 239.1 138.7 236.8 137.8 234.8 136.6 232.9 135.0 231.5 133.0 230.5 131.0 230.0 128.7 229.9 126.3 230.4 124.0 231.2 122.0 232.5 120.0 234.2 118.3 236.1 117.0 238.5 116.0 240.8 115.5 243.5 115.4 245.8 115.9 248.2 116.7 250.2 118.0 251.9 119.5 253.3 121.3 254.3 123.3 254.9 125.8 254.9 128.0 254.5 130.3 253.6 132.7 252.2 134.7 250.5 136.3 248.5 137.6 246.2 138.5 243.8 139.0Z"/>
<path fill-rule="evenodd" fill="#ff2e00" d="M242.8 138.3 240.5 138.2 238.4 137.7 236.2 136.7 234.4 135.3 232.8 133.7 231.8 132.0 231.0 130.0 230.7 127.7 230.8 125.3 231.4 123.3 232.5 121.4 233.8 119.7 235.5 118.3 237.5 117.2 239.5 116.5 241.8 116.2 246.2 116.7 248.4 117.7 250.3 119.0 251.9 120.6 253.0 122.3 253.8 124.3 254.2 126.7 254.1 129.0 253.5 131.0 252.5 133.0 251.2 134.7 249.5 136.1 247.3 137.3 245.2 138.0 242.8 138.3Z"/>
<path fill-rule="evenodd" fill="#ff1700" d="M244.5 137.3 240.3 137.3 236.5 135.9 234.8 134.6 233.4 133.0 232.4 131.3 231.7 129.3 231.5 127.3 231.7 125.3 233.2 121.7 236.1 118.8 239.8 117.2 241.8 116.9 244.2 117.1 246.2 117.6 248.2 118.5 249.9 119.7 251.4 121.3 252.4 123.0 253.1 125.0 253.4 127.0 253.2 129.0 252.6 131.0 251.5 133.0 250.2 134.5 248.5 135.8 246.5 136.8 244.5 137.3Z"/>
<path fill-rule="evenodd" fill="#ff0000" d="M244.8 136.3 241.2 136.5 237.4 135.3 234.5 132.9 232.7 129.7 232.5 126.0 233.7 122.7 236.1 119.9 239.5 118.2 243.5 117.9 247.2 118.9 250.2 121.3 252.1 124.7 252.4 128.3 251.9 130.3 251.1 132.0 248.5 134.7 244.8 136.3Z"/>
<path fill-rule="evenodd" fill="#e80000" d="M244.5 135.3 241.2 135.5 237.8 134.4 235.3 132.3 233.8 129.3 233.6 126.0 234.7 123.0 236.8 120.7 239.8 119.2 243.5 118.9 246.8 119.9 249.5 122.0 251.1 125.0 251.3 128.3 250.2 131.4 247.8 133.9 244.5 135.3Z"/>
<path fill-rule="evenodd" fill="#d10000" d="M244.5 134.0 241.5 134.2 238.8 133.4 236.5 131.7 235.1 129.3 234.7 126.7 235.5 124.0 237.5 121.7 239.8 120.4 242.8 120.0 245.8 120.7 248.2 122.4 249.8 125.0 250.1 127.7 249.2 130.5 247.2 132.8 244.5 134.0Z"/>
<path fill-rule="evenodd" fill="#b90000" d="M243.5 132.4 241.2 132.3 239.1 131.6 237.4 130.0 236.6 128.0 236.6 126.0 237.4 124.0 239.1 122.4 241.1 121.7 243.5 121.6 245.5 122.3 247.4 124.0 248.3 126.0 248.3 128.0 247.4 130.0 245.8 131.5 243.5 132.4Z"/>
<path fill-rule="evenodd" fill="#a20000" d="M242.8 127.7 241.5 127.6 240.6 127.0 240.5 126.0 241.4 125.0 242.8 124.8 244.2 125.7 244.2 127.0 242.8 127.7Z"/>
</g>
<path fill="none" stroke="#000" stroke-opacity="0.55" stroke-width="0.45" d="M277.3 154.7 269.3 152.8 263.2 152.4 257.6 153.1 246.2 155.7 241.5 156.0 237.1 155.4 225.4 152.2 219.1 151.5 213.7 152.1 202.0 155.1"/>
<path fill="none" stroke="#000" stroke-opacity="0.55" stroke-width="0.45" d="M277.3 123.5 275.1 129.7 271.2 136.3 267.1 141.3 262.1 145.3 255.5 148.7 248.2 150.9 242.2 151.5 235.8 150.6 228.1 147.9 221.4 144.2 216.3 139.7 211.9 133.7 208.4 126.3 206.9 119.7 207.4 113.3 209.8 107.0M275.0 107.0 277.3 112.7"/>
<path fill="none" stroke="#000" stroke-opacity="0.55" stroke-width="0.45" d="M253.2 107.0 256.6 109.0 259.4 111.3 261.9 114.1 263.9 117.3 265.2 120.7 266.0 124.3 266.0 127.7 265.4 131.3 264.3 134.7 262.4 138.0 259.9 141.0 257.2 143.3 253.9 145.3 250.2 146.9 246.2 147.8 242.5 148.1 238.8 147.8 234.8 146.8 231.1 145.3 227.8 143.3 225.0 141.0 222.7 138.3 220.9 135.3 219.5 131.7 218.9 128.0 218.9 124.3 219.6 120.7 221.0 117.3 222.8 114.3 225.4 111.3 228.4 108.9 231.7 107.0"/>
<path fill="none" stroke="#000" stroke-opacity="0.55" stroke-width="0.45" d="M244.2 145.0 240.5 145.0 236.8 144.3 233.1 142.8 230.1 140.9 227.4 138.4 225.4 135.7 223.9 132.3 223.2 129.0 223.2 125.3 223.8 122.0 225.2 118.7 227.3 115.7 230.1 113.0 233.1 111.1 236.5 109.7 240.2 108.9 244.2 108.9 247.8 109.5 251.2 110.8 254.5 112.9 257.2 115.3 259.4 118.3 260.9 121.7 261.7 125.0 261.7 128.7 261.0 132.0 259.6 135.3 257.5 138.3 254.7 141.0 251.5 143.0 247.8 144.4 244.2 145.0"/>
<path fill="none" stroke="#000" stroke-opacity="0.55" stroke-width="0.45" d="M243.8 142.0 240.8 142.0 237.8 141.4 235.0 140.3 232.4 138.7 230.1 136.5 228.4 134.1 227.2 131.3 226.7 128.7 226.7 125.7 227.4 122.7 228.6 120.0 230.3 117.7 232.5 115.6 235.1 114.0 237.8 112.9 240.8 112.4 243.8 112.3 246.8 112.9 249.9 114.0 252.4 115.7 254.5 117.7 256.2 120.0 257.5 122.7 258.1 125.7 258.1 128.7 257.6 131.5 256.3 134.3 254.6 136.7 252.5 138.7 249.9 140.3 246.8 141.5 243.8 142.0"/>
<path fill="none" stroke="#000" stroke-opacity="0.55" stroke-width="0.45" d="M244.5 138.4 239.8 138.3 235.5 136.4 232.3 133.3 230.7 129.3 230.7 125.0 232.5 121.0 235.6 118.0 239.8 116.2 244.5 116.1 248.9 117.7 252.2 120.7 254.2 125.0 254.2 129.3 252.3 133.7 248.9 136.8 244.5 138.4"/>
</g>
<clipPath id="c10"><path d="M238.12 185.00C240.94 184.80 244.10 185.30 246.75 186.20C249.39 187.10 251.58 189.20 253.99 190.40C256.41 191.60 258.82 192.20 261.24 193.40C263.65 194.60 266.66 195.80 268.48 197.60C270.30 199.40 271.22 201.90 272.14 204.20C273.06 206.50 273.80 208.80 274.00 211.40C274.20 214.00 273.83 217.10 273.31 219.80C272.79 222.50 272.50 224.80 270.89 227.60C269.28 230.40 266.70 234.10 263.65 236.60C260.60 239.10 256.63 241.30 252.61 242.60C248.59 243.90 244.10 244.60 239.50 244.40C234.90 244.20 229.26 243.00 225.01 241.40C220.75 239.80 216.90 237.50 213.97 234.80C211.04 232.10 208.91 228.70 207.41 225.20C205.92 221.70 205.09 217.10 205.00 213.80C204.91 210.50 205.94 207.90 206.86 205.40C207.78 202.90 208.88 200.70 210.52 198.80C212.16 196.90 214.31 195.40 216.73 194.00C219.14 192.60 222.82 191.50 225.01 190.40C227.19 189.30 227.66 188.30 229.84 187.40C232.03 186.50 235.30 185.20 238.12 185.00Z"/></clipPath>
<g clip-path="url(#c10)"><g filter="url(#bl)">
<rect x="202.0" y="182.0" width="75.0" height="66.0" fill="#000080"/>
<path fill-rule="evenodd" fill="#0000a2" d="M277.0 248.1 202.0 248.1 201.9 182.0 277.0 181.9 277.0 248.1ZM231.5 238.7 233.7 237.7 235.0 236.3 235.3 235.0 234.6 233.7 232.8 232.3 230.7 231.7 228.3 231.8 226.6 232.7 225.7 233.7 225.2 235.0 225.4 236.3 226.0 237.3 227.0 238.1 228.3 238.7 231.5 238.7ZM251.3 238.7 253.3 237.7 254.3 236.0 254.2 234.0 253.0 232.6 251.0 231.8 249.0 231.7 246.7 232.5 244.9 234.0 244.4 235.0 244.5 236.0 246.0 237.7 248.7 238.7 251.3 238.7Z"/>
<path fill-rule="evenodd" fill="#0000b9" d="M277.0 248.1 202.0 248.1 201.9 182.0 277.0 181.9 277.0 248.1ZM232.1 239.7 234.6 238.7 237.1 237.0 238.1 235.7 237.6 234.3 234.7 232.0 231.3 230.8 228.3 230.7 225.6 232.0 224.5 233.3 224.0 235.0 224.2 236.7 225.0 238.0 226.3 239.0 228.0 239.7 230.0 239.9 232.1 239.7ZM251.7 239.7 254.3 238.3 255.3 237.0 255.7 235.8 255.7 234.7 255.2 233.3 254.3 232.2 253.0 231.3 250.3 230.6 247.3 231.0 244.0 232.7 241.8 234.7 241.6 235.3 242.0 236.3 245.1 238.7 248.3 239.8 251.7 239.7Z"/>
<path fill-rule="evenodd" fill="#0000d1" d="M277.0 248.1 202.0 248.1 201.9 182.0 277.0 181.9 277.0 248.1ZM251.7 240.7 253.7 240.0 255.5 238.7 256.5 237.0 256.9 235.3 256.6 233.7 255.5 232.0 254.0 230.8 252.0 230.0 250.0 229.7 247.7 230.0 241.7 232.3 239.7 232.6 238.0 232.3 232.3 230.0 230.3 229.7 228.3 229.8 226.3 230.4 224.8 231.3 223.6 232.7 222.9 234.3 222.9 236.3 223.9 238.3 225.7 239.8 228.0 240.7 230.0 240.9 232.3 240.6 238.3 238.5 240.0 238.2 241.7 238.5 247.3 240.6 249.7 240.9 251.7 240.7Z"/>
<path fill-rule="evenodd" fill="#0000e8" d="M277.0 248.0 202.0 248.0 201.9 182.0 277.0 181.9 277.0 248.0ZM251.3 241.7 253.8 241.0 255.9 239.7 257.3 238.0 257.9 236.0 257.7 233.7 256.7 231.8 255.0 230.3 252.7 229.3 250.7 228.9 248.3 229.0 241.7 230.9 239.7 231.2 237.7 230.8 232.0 229.1 228.0 229.0 225.8 229.7 224.0 230.8 222.6 232.3 221.9 234.0 221.8 236.3 222.8 238.7 224.7 240.4 227.3 241.5 229.3 241.8 231.7 241.7 238.0 240.0 240.0 239.8 247.7 241.6 251.3 241.7Z"/>
<path fill-rule="evenodd" fill="#0000ff" d="M277.0 248.0 202.0 248.0 201.9 182.0 277.0 181.9 277.0 248.0ZM250.4 242.7 253.3 242.1 256.0 240.8 257.9 239.0 258.9 236.7 258.9 234.0 257.8 231.7 256.0 229.9 253.3 228.6 251.0 228.1 248.7 228.2 241.7 229.8 239.7 230.0 231.7 228.2 227.7 228.2 225.3 228.9 223.3 230.1 221.9 231.7 220.9 233.7 220.7 236.3 221.6 238.7 223.4 240.7 226.3 242.2 228.7 242.6 231.0 242.7 240.0 241.1 247.3 242.5 250.4 242.7Z"/>
<path fill-rule="evenodd" fill="#0017ff" d="M277.0 248.0 202.0 248.0 201.9 182.0 277.0 181.9 277.0 248.0ZM252.5 243.3 255.3 242.4 257.8 240.7 259.5 238.3 260.1 236.0 259.8 233.3 258.5 231.0 256.3 229.0 253.7 227.8 251.3 227.4 249.0 227.4 239.7 228.9 231.3 227.3 227.3 227.4 224.7 228.2 222.4 229.7 220.7 231.7 219.8 233.7 219.6 236.7 220.7 239.3 223.0 241.6 226.0 243.1 228.3 243.5 231.0 243.6 240.0 242.3 248.3 243.6 252.5 243.3Z"/>
<path fill-rule="evenodd" fill="#002eff" d="M277.0 248.0 202.0 248.0 201.9 182.0 277.0 181.9 277.0 248.0ZM252.5 244.3 255.7 243.4 258.4 241.7 260.3 239.3 261.3 236.7 261.1 233.7 259.8 231.0 257.5 228.7 254.7 227.2 252.0 226.6 249.3 226.6 239.7 228.0 231.3 226.5 227.0 226.6 224.0 227.5 221.7 229.0 219.8 231.0 218.7 233.3 218.4 236.7 219.5 239.7 222.0 242.3 225.3 243.9 228.0 244.5 230.7 244.6 240.0 243.5 248.3 244.6 252.5 244.3Z"/>
<path fill-rule="evenodd" fill="#0046ff" d="M277.0 248.0 202.0 248.0 201.9 182.0 277.0 181.9 277.0 248.0ZM250.0 245.7 254.3 245.0 258.0 243.4 260.8 241.0 262.4 238.0 262.6 234.7 261.4 231.3 259.2 228.7 256.0 226.7 253.3 225.9 250.3 225.7 239.7 227.0 231.0 225.7 226.7 225.8 223.7 226.6 221.0 228.2 218.9 230.3 217.6 232.7 216.9 236.0 217.8 239.3 220.1 242.3 223.7 244.5 226.3 245.3 229.3 245.7 240.0 244.8 250.0 245.7Z"/>
<path fill-rule="evenodd" fill="#005dff" d="M277.0 248.0 202.0 248.0 201.9 182.0 277.0 181.9 277.0 248.0ZM252.6 246.7 256.7 245.6 260.3 243.5 262.9 240.7 264.1 237.7 264.1 234.3 262.6 230.7 260.0 227.8 256.7 225.8 254.3 225.2 251.7 224.9 240.0 226.1 230.3 224.8 225.7 225.0 222.4 226.0 219.7 227.7 217.5 230.0 215.9 233.0 215.3 236.7 215.7 238.7 216.5 240.3 217.7 242.0 219.3 243.5 223.3 245.7 226.3 246.6 229.7 246.9 239.7 246.2 248.3 246.9 252.6 246.7Z"/>
<path fill-rule="evenodd" fill="#0074ff" d="M277.0 248.0 253.8 248.0 258.3 246.6 262.0 244.5 264.8 241.7 266.2 238.7 266.4 235.3 265.2 231.7 262.7 228.2 259.2 225.7 256.5 224.7 253.0 224.2 249.0 224.3 240.0 225.2 228.3 224.0 225.3 224.1 222.7 224.7 220.7 225.5 218.7 226.7 216.5 228.7 214.8 231.0 213.7 233.3 213.2 235.7 213.2 237.7 213.7 239.7 214.8 241.7 216.2 243.3 220.3 246.2 225.7 248.0 202.0 248.0 201.9 182.0 277.0 181.9 277.0 248.0ZM242.3 248.0 237.2 248.0 242.5 248.0 242.3 248.0Z"/>
<path fill-rule="evenodd" fill="#008bff" d="M277.0 248.0 261.0 248.0 264.7 246.0 267.7 243.3 269.5 240.7 270.2 238.0 269.6 234.7 267.8 231.0 264.7 227.3 261.7 225.2 258.3 224.0 254.3 223.5 250.0 223.6 240.0 224.4 227.7 223.3 221.3 223.9 219.0 224.7 217.0 225.7 214.9 227.3 212.8 229.7 211.2 232.0 209.9 234.7 209.4 236.7 209.3 238.3 209.7 240.0 210.4 241.7 213.5 245.0 218.5 248.0 202.0 248.0 201.9 182.0 277.0 181.9 277.0 248.0Z"/>
<path fill-rule="evenodd" fill="#00a2ff" d="M277.0 231.5 268.0 225.7 264.7 224.3 261.7 223.6 253.3 222.9 239.7 223.7 226.7 222.7 219.2 223.3 213.8 224.7 210.3 226.3 202.0 231.5 201.9 182.0 277.0 181.9 277.0 231.5ZM205.3 248.0 202.0 248.0 202.0 246.3 205.3 248.0ZM277.0 248.0 273.6 248.0 277.0 246.3 277.0 248.0Z"/>
<path fill-rule="evenodd" fill="#00b9ff" d="M277.0 223.6 256.3 222.5 240.3 223.1 226.0 222.3 202.0 223.6 202.0 182.0 277.0 182.0 277.0 223.6Z"/>
<path fill-rule="evenodd" fill="#00d1ff" d="M277.0 222.6 255.3 222.0 240.0 222.6 225.3 221.9 202.0 222.6 202.0 182.0 277.0 182.0 277.0 222.6Z"/>
<path fill-rule="evenodd" fill="#00e8ff" d="M247.0 222.0 239.3 222.2 225.0 221.5 202.0 222.0 202.0 182.0 277.0 182.0 277.0 222.0 256.3 221.7 247.0 222.0Z"/>
<path fill-rule="evenodd" fill="#00ffff" d="M247.7 221.7 239.3 221.9 224.3 221.2 202.0 221.6 202.0 182.0 277.0 182.0 277.0 221.6 257.0 221.3 247.7 221.7Z"/>
<path fill-rule="evenodd" fill="#17ffe8" d="M248.7 221.3 239.7 221.6 224.0 220.9 202.0 221.2 202.0 182.0 277.0 182.0 277.0 221.2 258.0 221.0 248.7 221.3Z"/>
<path fill-rule="evenodd" fill="#2effd1" d="M242.0 221.3 224.3 220.6 202.0 220.8 202.0 182.0 277.0 182.0 277.0 220.8 257.7 220.7 242.0 221.3Z"/>
<path fill-rule="evenodd" fill="#46ffb9" d="M244.7 221.0 238.0 221.0 223.3 220.2 202.0 220.4 202.0 182.0 277.0 182.0 277.0 220.4 258.7 220.4 244.7 221.0Z"/>
<path fill-rule="evenodd" fill="#5dffa2" d="M246.0 220.7 238.0 220.8 222.3 219.8 202.0 220.0 202.0 182.0 277.0 182.0 277.0 220.0 260.0 219.9 246.0 220.7Z"/>
<path fill-rule="evenodd" fill="#74ff8b" d="M247.0 220.3 237.7 220.5 220.7 219.2 202.0 219.4 202.0 182.0 277.0 182.0 277.0 219.4 261.3 219.4 247.0 220.3Z"/>
<path fill-rule="evenodd" fill="#8bff74" d="M247.7 220.0 241.7 220.3 236.0 220.1 217.0 217.9 202.0 218.1 202.0 182.0 277.0 182.0 277.0 218.1 265.3 218.2 247.7 220.0Z"/>
<path fill-rule="evenodd" fill="#a2ff5d" d="M247.3 219.7 242.0 220.0 237.0 219.8 232.3 219.3 226.9 218.3 223.6 217.3 221.5 216.3 219.4 214.7 217.8 212.7 215.8 209.0 214.6 205.0 214.1 201.0 214.3 197.0 215.2 192.7 216.8 188.7 218.8 185.3 221.7 182.0 261.5 182.0 264.8 186.0 266.5 189.0 267.7 192.0 268.5 195.0 269.0 198.3 269.0 201.7 268.5 205.0 267.7 208.0 266.4 211.0 263.9 214.7 260.7 217.0 255.1 218.7 247.3 219.7Z"/>
<path fill-rule="evenodd" fill="#b9ff46" d="M246.7 219.4 237.3 219.5 233.3 219.0 228.8 218.0 226.0 216.9 223.7 215.3 221.7 213.3 219.8 210.7 218.2 207.0 217.3 203.0 217.1 199.0 217.6 195.3 218.8 191.3 220.6 188.0 223.0 184.8 226.0 182.0 257.1 182.0 260.6 185.3 263.2 189.0 265.3 194.0 266.1 199.7 265.5 205.0 263.5 210.3 260.6 214.3 257.3 216.9 253.3 218.3 246.7 219.4Z"/>
<path fill-rule="evenodd" fill="#d1ff2e" d="M245.7 219.0 241.3 219.2 236.9 219.0 232.8 218.3 229.3 217.2 226.5 215.7 224.2 213.7 222.3 211.3 220.6 208.3 219.4 204.7 218.9 201.0 219.0 197.3 219.8 193.7 221.2 190.3 223.4 187.0 226.0 184.3 229.0 182.0 254.1 182.0 256.8 184.0 259.2 186.3 261.1 189.0 262.5 191.7 264.0 196.3 264.3 201.3 263.4 206.0 261.3 210.7 258.3 214.3 255.1 216.7 251.0 218.2 245.7 219.0Z"/>
<path fill-rule="evenodd" fill="#e8ff17" d="M243.7 218.7 239.3 218.7 235.7 218.3 232.0 217.3 229.1 216.0 226.7 214.3 224.3 211.9 222.4 209.0 221.2 206.0 220.4 202.7 220.2 199.0 220.7 195.7 221.8 192.3 223.4 189.3 225.8 186.3 228.7 183.8 231.7 182.0 251.4 182.0 255.0 184.2 258.0 187.0 260.3 190.3 262.0 194.0 262.9 198.3 262.7 203.0 261.5 207.3 259.2 211.3 256.5 214.3 253.0 216.6 248.7 218.0 243.7 218.7Z"/>
<path fill-rule="evenodd" fill="#ffff00" d="M244.7 218.0 240.7 218.2 237.0 217.8 233.5 217.0 230.3 215.6 227.6 213.7 225.1 211.0 223.2 208.0 222.1 205.0 221.5 201.7 221.5 198.0 222.2 194.7 223.6 191.3 225.6 188.3 228.2 185.7 231.3 183.5 234.7 182.0 248.5 182.0 251.0 183.1 254.3 185.2 257.3 188.0 259.6 191.3 261.1 195.0 261.7 199.0 261.5 203.0 260.4 207.0 258.3 210.6 255.7 213.6 252.7 215.7 249.0 217.2 244.7 218.0Z"/>
<path fill-rule="evenodd" fill="#ffe800" d="M244.3 217.4 240.3 217.5 236.7 217.0 233.3 216.0 230.1 214.3 227.3 212.0 225.2 209.3 223.7 206.3 222.7 203.0 222.5 199.3 222.9 196.0 224.1 192.7 225.9 189.7 228.2 187.0 231.0 184.9 234.3 183.2 238.0 182.2 243.9 182.0 245.7 182.3 249.3 183.4 252.7 185.2 255.6 187.7 257.8 190.3 259.5 193.7 260.4 197.0 260.7 200.7 260.1 204.3 258.9 207.7 257.0 210.7 254.7 213.1 251.7 215.2 248.3 216.5 244.3 217.4Z"/>
<path fill-rule="evenodd" fill="#ffd100" d="M243.7 216.7 240.0 216.8 236.7 216.2 233.3 215.1 230.3 213.4 228.0 211.3 225.9 208.7 224.5 205.7 223.6 202.3 223.5 199.0 224.0 195.7 225.2 192.7 227.1 189.7 229.3 187.3 232.3 185.2 235.7 183.7 239.0 183.0 242.7 182.8 246.0 183.3 249.3 184.5 252.6 186.3 255.2 188.7 257.2 191.3 258.7 194.3 259.5 197.7 259.6 201.3 259.0 204.7 257.7 207.9 255.7 210.7 253.3 213.0 250.7 214.7 247.3 216.0 243.7 216.7Z"/>
<path fill-rule="evenodd" fill="#ffb900" d="M242.0 216.0 238.7 215.8 235.3 215.0 232.3 213.6 229.7 211.7 227.5 209.3 225.9 206.7 224.9 203.7 224.4 200.3 224.6 197.3 225.5 194.3 227.0 191.4 229.0 188.9 231.3 186.9 234.3 185.2 237.7 184.2 241.0 183.7 244.3 183.9 247.7 184.8 250.7 186.2 253.3 188.2 255.6 190.7 257.2 193.3 258.3 196.3 258.7 199.7 258.4 203.0 257.5 206.0 256.1 208.7 254.0 211.2 251.7 213.1 248.7 214.6 245.3 215.6 242.0 216.0Z"/>
<path fill-rule="evenodd" fill="#ffa200" d="M244.0 215.0 240.7 215.2 237.7 214.8 234.7 213.8 232.0 212.3 229.6 210.3 227.8 208.0 226.4 205.3 225.6 202.7 225.4 199.7 225.8 196.7 226.8 193.7 228.3 191.1 230.3 188.9 232.9 187.0 235.7 185.7 238.7 184.9 242.0 184.6 245.0 185.0 248.0 185.9 250.7 187.3 253.2 189.3 255.2 191.7 256.6 194.3 257.5 197.3 257.8 200.3 257.4 203.3 256.3 206.3 254.7 209.0 252.4 211.3 250.0 213.0 247.0 214.3 244.0 215.0Z"/>
<path fill-rule="evenodd" fill="#ff8b00" d="M244.7 214.0 241.7 214.3 238.7 214.1 236.0 213.3 233.3 212.1 231.0 210.4 229.1 208.3 227.7 206.0 226.8 203.3 226.4 200.7 226.5 198.0 227.2 195.3 228.5 192.7 230.3 190.3 232.3 188.5 234.9 187.0 237.7 186.0 240.7 185.6 243.7 185.7 246.7 186.4 249.3 187.6 251.7 189.2 253.8 191.3 255.3 193.8 256.4 196.7 256.8 199.3 256.6 202.3 255.9 205.0 254.5 207.7 252.7 209.9 250.3 211.8 247.7 213.1 244.7 214.0Z"/>
<path fill-rule="evenodd" fill="#ff7400" d="M242.7 213.4 239.7 213.3 237.0 212.7 234.5 211.7 232.3 210.2 230.4 208.3 228.8 206.0 227.9 203.7 227.4 201.0 227.5 198.3 228.0 196.0 229.0 193.7 230.7 191.3 232.7 189.5 235.0 188.0 237.7 187.0 240.3 186.6 243.3 186.6 246.0 187.2 248.7 188.3 250.7 189.7 252.7 191.7 254.3 194.0 255.3 196.3 255.7 199.0 255.7 201.7 255.0 204.3 253.9 206.7 252.3 208.8 250.3 210.6 248.0 212.0 245.3 212.9 242.7 213.4Z"/>
<path fill-rule="evenodd" fill="#ff5d00" d="M242.7 212.4 240.0 212.3 237.7 211.8 235.3 210.9 233.3 209.7 231.5 208.0 230.1 206.0 229.0 203.7 228.5 201.3 228.5 198.7 229.0 196.4 230.0 194.1 231.3 192.2 233.3 190.3 235.3 189.0 237.7 188.1 240.0 187.6 242.7 187.6 245.0 188.0 247.3 188.8 249.7 190.2 251.6 192.0 253.1 194.0 254.1 196.3 254.6 198.7 254.6 201.3 254.1 203.7 253.1 206.0 251.7 208.0 249.8 209.7 247.7 211.0 245.3 211.9 242.7 212.4Z"/>
<path fill-rule="evenodd" fill="#ff4600" d="M244.0 211.0 239.7 211.1 237.3 210.6 235.3 209.6 233.5 208.3 231.9 206.7 230.7 204.7 230.0 202.7 229.6 200.7 229.8 198.3 230.3 196.2 231.3 194.2 232.7 192.5 234.3 191.0 236.3 189.8 238.7 189.0 241.0 188.7 243.3 188.8 245.7 189.4 247.8 190.3 249.7 191.7 251.2 193.3 252.4 195.3 253.2 197.3 253.5 199.7 253.3 201.9 252.7 204.0 251.7 206.0 250.3 207.7 248.3 209.3 246.3 210.4 244.0 211.0Z"/>
<path fill-rule="evenodd" fill="#ff2e00" d="M244.0 209.7 240.0 209.9 238.0 209.4 236.0 208.5 233.0 205.8 231.3 202.4 231.1 198.7 232.4 195.0 235.0 192.2 238.7 190.4 242.7 190.1 244.7 190.4 246.7 191.3 249.7 193.7 250.9 195.3 251.7 197.3 252.1 199.3 252.0 201.3 251.5 203.3 250.7 205.0 249.4 206.7 247.9 208.0 246.0 209.0 244.0 209.7Z"/>
<path fill-rule="evenodd" fill="#ff1700" d="M243.3 208.1 240.0 208.1 237.0 207.0 234.7 205.0 233.1 202.0 232.9 199.0 234.0 195.9 236.3 193.4 239.3 192.0 242.7 191.8 246.0 192.9 248.5 195.0 250.0 198.0 250.2 201.3 249.0 204.3 246.7 206.7 243.3 208.1Z"/>
<path fill-rule="evenodd" fill="#ff0000" d="M242.3 205.0 240.3 204.9 238.3 204.0 237.0 202.6 236.3 200.7 236.4 198.7 237.3 197.0 238.8 195.7 240.7 195.0 242.7 195.0 244.9 196.0 246.3 197.7 246.9 199.3 246.7 201.3 245.9 203.0 244.3 204.3 242.3 205.0Z"/>
</g>
<path fill="none" stroke="#000" stroke-opacity="0.55" stroke-width="0.45" d="M252.9 245.7 256.7 244.5 259.7 242.6 261.9 240.0 263.0 237.0 262.8 233.7 261.4 230.7 258.9 228.0 255.7 226.3 253.0 225.7 250.0 225.5 239.7 226.8 230.7 225.4 226.3 225.6 223.3 226.5 220.7 228.1 218.5 230.3 217.1 233.0 216.6 236.7 217.7 240.0 220.4 243.0 224.3 245.1 229.7 246.0 239.7 245.1 248.3 245.9 252.9 245.7"/>
<path fill="none" stroke="#000" stroke-opacity="0.55" stroke-width="0.45" d="M277.0 222.8 255.3 222.1 240.0 222.7 225.7 222.0 202.0 222.8"/>
<path fill="none" stroke="#000" stroke-opacity="0.55" stroke-width="0.45" d="M277.0 220.3 259.0 220.3 241.0 221.0 223.3 220.1 202.0 220.3"/>
<path fill="none" stroke="#000" stroke-opacity="0.55" stroke-width="0.45" d="M254.8 182.0 257.7 184.2 260.2 187.0 262.2 190.0 263.5 193.0 264.4 196.7 264.7 200.0 264.4 203.3 263.5 207.0 260.4 212.7 258.3 214.8 256.0 216.5 250.0 218.5 241.3 219.3 233.0 218.5 227.0 216.3 224.7 214.7 222.5 212.3 219.5 206.7 218.7 203.3 218.4 199.7 218.8 196.3 219.6 193.0 221.2 189.7 223.0 186.9 225.4 184.3 228.3 182.0"/>
<path fill="none" stroke="#000" stroke-opacity="0.55" stroke-width="0.45" d="M243.7 215.7 240.3 215.8 237.0 215.3 234.0 214.2 231.3 212.7 229.0 210.7 227.0 208.1 225.6 205.3 224.8 202.3 224.7 199.0 225.2 196.0 226.3 193.0 228.0 190.4 230.0 188.3 232.7 186.3 235.7 185.0 239.0 184.1 242.3 184.0 245.7 184.4 248.7 185.4 251.7 187.1 254.0 189.1 256.0 191.7 257.5 194.7 258.3 197.7 258.5 201.0 258.0 204.0 256.8 207.0 255.1 209.7 252.7 212.0 250.0 213.8 247.0 215.0 243.7 215.7"/>
<path fill="none" stroke="#000" stroke-opacity="0.55" stroke-width="0.45" d="M244.0 210.1 240.0 210.2 236.0 208.9 232.9 206.3 231.0 202.6 230.7 198.7 232.0 195.0 234.7 192.0 238.7 190.0 243.0 189.7 247.0 191.0 250.2 193.7 252.1 197.3 252.4 201.3 250.9 205.3 248.0 208.3 244.0 210.1"/>
</g>
<clipPath id="c11"><path d="M238.12 261.00C240.94 260.80 244.10 261.30 246.75 262.20C249.39 263.10 251.58 265.20 253.99 266.40C256.41 267.60 258.82 268.20 261.24 269.40C263.65 270.60 266.66 271.80 268.48 273.60C270.30 275.40 271.22 277.90 272.14 280.20C273.06 282.50 273.80 284.80 274.00 287.40C274.20 290.00 273.83 293.10 273.31 295.80C272.79 298.50 272.50 300.80 270.89 303.60C269.28 306.40 266.70 310.10 263.65 312.60C260.60 315.10 256.63 317.30 252.61 318.60C248.59 319.90 244.10 320.60 239.50 320.40C234.90 320.20 229.26 319.00 225.01 317.40C220.75 315.80 216.90 313.50 213.97 310.80C211.04 308.10 208.91 304.70 207.41 301.20C205.92 297.70 205.09 293.10 205.00 289.80C204.91 286.50 205.94 283.90 206.86 281.40C207.78 278.90 208.88 276.70 210.52 274.80C212.16 272.90 214.31 271.40 216.73 270.00C219.14 268.60 222.82 267.50 225.01 266.40C227.19 265.30 227.66 264.30 229.84 263.40C232.03 262.50 235.30 261.20 238.12 261.00Z"/></clipPath>
<g clip-path="url(#c11)"><g filter="url(#bl)">
<rect x="202.0" y="258.0" width="75.0" height="66.0" fill="#0000bb"/>
<path fill-rule="evenodd" fill="#0000d1" d="M277.0 324.0 202.0 324.0 201.9 258.0 277.0 257.9 277.0 324.0ZM227.4 315.3 228.4 314.7 228.7 313.7 228.3 313.0 227.3 312.2 224.7 311.8 223.3 312.2 222.6 313.0 222.7 314.3 224.0 315.3 225.7 315.7 227.4 315.3ZM256.7 317.7 258.7 317.1 260.1 316.0 260.5 314.3 259.7 313.0 258.0 312.2 256.0 312.0 253.7 312.6 252.1 313.7 251.5 315.0 252.3 316.5 254.3 317.5 256.7 317.7Z"/>
<path fill-rule="evenodd" fill="#0000e8" d="M277.0 324.0 202.0 324.0 201.9 258.0 277.0 257.9 277.0 324.0ZM227.9 319.3 231.7 318.2 234.1 316.3 234.6 315.3 234.6 314.3 233.2 312.3 229.3 310.1 225.0 309.1 221.3 309.5 219.7 310.3 218.5 311.3 217.8 312.7 217.6 314.3 218.2 316.0 219.3 317.3 221.0 318.4 223.0 319.1 225.3 319.5 227.9 319.3ZM258.3 321.0 260.3 320.4 262.3 319.4 263.7 318.2 264.6 316.7 264.9 315.0 264.6 313.7 263.7 312.2 262.2 311.0 258.7 309.9 254.3 310.1 249.9 311.7 247.8 313.0 246.5 314.3 246.1 315.7 246.5 317.0 247.7 318.3 249.3 319.5 253.7 321.0 256.0 321.2 258.3 321.0Z"/>
<path fill-rule="evenodd" fill="#0000ff" d="M277.0 324.0 263.1 324.0 265.5 322.3 267.3 320.3 268.3 318.3 268.6 316.0 268.1 313.7 266.9 311.7 264.9 310.0 262.3 308.8 258.7 308.3 254.7 308.6 250.4 309.7 243.3 312.2 240.7 312.6 238.0 312.0 229.0 308.4 226.0 307.7 223.3 307.5 220.3 307.8 217.7 308.8 215.7 310.3 214.2 312.7 213.8 315.0 214.3 317.3 215.7 319.5 218.0 321.5 222.0 323.1 226.7 323.6 231.0 322.9 237.7 320.8 240.3 320.6 243.0 321.3 248.5 324.0 202.0 324.0 202.0 258.0 277.0 258.0 277.0 324.0Z"/>
<path fill-rule="evenodd" fill="#0017ff" d="M202.0 324.0 202.0 258.0 277.0 258.0 277.0 322.8 275.9 322.0 275.0 320.7 272.8 315.0 271.0 312.0 268.0 309.3 264.3 307.6 260.7 307.0 256.7 307.1 252.3 307.9 244.3 310.0 240.7 310.4 237.3 309.8 227.3 306.7 222.0 306.1 219.3 306.3 217.0 307.0 214.8 308.0 212.9 309.3 211.1 311.3 209.9 313.3 209.1 315.7 208.1 320.0 207.3 321.7 205.3 323.2 202.0 324.0Z"/>
<path fill-rule="evenodd" fill="#002eff" d="M202.0 313.8 202.0 258.0 277.0 258.0 277.0 312.3 269.9 307.7 267.0 306.5 264.0 305.9 260.7 305.7 257.0 306.0 245.3 308.6 241.0 309.0 237.0 308.4 226.0 305.4 220.3 304.8 216.3 305.3 212.5 306.7 209.6 308.3 204.3 312.4 202.0 313.8Z"/>
<path fill-rule="evenodd" fill="#0046ff" d="M244.0 307.7 241.0 307.8 238.0 307.5 225.3 304.2 218.7 303.4 212.7 304.2 202.0 307.5 202.0 258.0 277.0 258.0 277.0 307.2 269.0 304.9 263.0 304.3 256.7 305.0 244.0 307.7Z"/>
<path fill-rule="evenodd" fill="#005dff" d="M244.3 306.7 241.0 306.9 237.7 306.5 224.3 303.0 218.0 302.0 213.3 301.8 202.0 302.6 202.0 258.0 277.0 258.0 277.0 303.1 268.7 302.7 263.3 302.9 258.3 303.7 244.3 306.7Z"/>
<path fill-rule="evenodd" fill="#0074ff" d="M242.0 306.0 236.3 305.4 218.7 300.7 202.0 297.7 202.0 258.0 277.0 258.0 277.0 298.9 263.7 301.5 248.0 305.3 242.0 306.0Z"/>
<path fill-rule="evenodd" fill="#008bff" d="M245.0 305.0 239.0 305.1 231.7 303.5 215.2 298.0 202.0 292.5 202.0 258.0 277.0 258.0 277.0 294.4 269.1 298.0 262.3 300.5 252.0 303.6 245.0 305.0Z"/>
<path fill-rule="evenodd" fill="#00a2ff" d="M244.3 304.4 239.7 304.4 235.0 303.6 228.3 301.7 221.2 299.0 213.6 295.0 202.0 286.4 202.0 258.0 277.0 258.0 277.0 289.6 268.9 295.7 262.9 299.0 253.0 302.5 244.3 304.4Z"/>
<path fill-rule="evenodd" fill="#00b9ff" d="M244.0 303.7 240.0 303.7 236.0 303.2 231.0 301.8 225.3 299.8 221.0 297.8 217.5 295.7 214.5 293.3 211.5 290.3 206.9 284.7 202.0 277.5 202.0 258.0 277.0 258.0 277.0 283.7 270.1 292.0 266.8 295.0 263.5 297.3 259.3 299.5 254.0 301.5 248.7 303.0 244.0 303.7Z"/>
<path fill-rule="evenodd" fill="#00d1ff" d="M244.3 303.0 240.3 303.1 236.0 302.5 231.0 301.2 226.0 299.2 222.2 297.3 218.7 295.0 215.7 292.3 213.2 289.3 210.9 285.7 208.9 281.3 207.6 277.0 207.0 273.0 207.1 269.0 207.9 265.3 209.4 261.7 211.6 258.0 271.6 258.0 273.6 261.3 275.0 264.7 275.9 268.0 276.2 271.7 275.9 275.3 275.0 279.3 273.4 283.3 271.5 287.0 269.2 290.3 266.9 293.0 264.0 295.6 261.0 297.6 257.3 299.4 253.0 301.1 248.3 302.4 244.3 303.0Z"/>
<path fill-rule="evenodd" fill="#00e8ff" d="M244.7 302.3 240.3 302.5 236.0 301.9 231.0 300.5 226.3 298.6 222.3 296.4 219.2 294.0 216.6 291.3 214.3 288.0 212.4 284.3 211.1 280.3 210.5 276.3 210.6 272.3 211.5 268.3 213.1 264.7 215.2 261.3 218.2 258.0 265.0 258.0 267.4 260.7 269.5 263.7 271.0 266.7 272.0 269.7 272.5 272.7 272.6 276.0 272.2 279.3 271.5 282.3 270.1 285.7 268.5 288.7 264.4 293.7 262.0 295.8 259.1 297.7 252.0 300.7 244.7 302.3Z"/>
<path fill-rule="evenodd" fill="#00ffff" d="M245.0 301.7 240.7 301.9 236.3 301.3 231.7 300.1 227.0 298.2 223.2 296.0 220.3 293.7 217.6 290.7 215.4 287.3 213.8 283.7 212.8 279.7 212.6 275.7 213.1 271.7 214.2 268.0 216.2 264.3 218.7 261.0 221.8 258.0 261.3 258.0 265.0 261.7 268.0 266.0 269.2 268.7 270.1 271.7 270.5 274.7 270.5 277.7 270.1 280.7 269.3 283.7 266.6 289.3 262.7 294.0 258.0 297.4 251.7 300.2 245.0 301.7Z"/>
<path fill-rule="evenodd" fill="#17ffe8" d="M245.3 301.0 241.0 301.3 236.7 300.8 232.0 299.5 227.7 297.7 224.0 295.6 220.9 293.0 218.3 290.0 216.4 286.7 215.0 283.0 214.2 279.0 214.2 275.0 214.9 271.3 216.3 267.7 218.5 264.0 221.3 260.7 224.6 258.0 258.5 258.0 263.3 262.3 265.4 265.0 266.9 267.7 268.7 273.0 269.0 278.7 267.9 284.0 265.3 289.3 261.7 293.7 257.2 297.0 251.7 299.5 245.3 301.0Z"/>
<path fill-rule="evenodd" fill="#2effd1" d="M243.0 300.7 239.0 300.6 234.7 299.8 230.3 298.3 226.4 296.3 223.2 294.0 220.5 291.3 218.4 288.3 216.8 285.0 215.7 281.3 215.4 277.3 215.7 273.7 216.7 270.0 218.5 266.3 220.7 263.3 223.7 260.4 227.1 258.0 256.1 258.0 259.4 260.3 262.4 263.3 264.8 266.7 266.5 270.3 267.7 275.3 267.5 280.7 265.9 286.0 263.2 290.7 259.3 294.6 254.7 297.6 249.0 299.7 243.0 300.7Z"/>
<path fill-rule="evenodd" fill="#46ffb9" d="M244.3 300.0 240.3 300.1 236.0 299.5 231.7 298.2 227.7 296.3 224.3 294.0 221.6 291.3 219.4 288.3 217.7 284.7 216.7 281.0 216.5 277.0 216.9 273.3 218.1 269.7 220.0 266.2 222.6 263.0 225.7 260.3 229.4 258.0 253.8 258.0 257.7 260.4 261.0 263.5 263.6 267.0 265.5 271.0 266.6 276.0 266.4 281.0 264.9 286.0 262.4 290.3 258.9 294.0 254.7 296.9 249.7 298.9 244.3 300.0Z"/>
<path fill-rule="evenodd" fill="#5dffa2" d="M245.0 299.4 241.0 299.6 236.7 299.1 232.3 297.8 228.3 296.0 225.0 293.7 222.3 291.0 220.0 287.7 218.4 284.0 217.6 280.3 217.5 276.3 218.1 272.7 219.6 269.0 221.9 265.3 224.7 262.4 228.0 259.9 231.7 258.0 251.7 258.1 256.0 260.5 259.8 263.7 262.9 267.7 264.8 272.0 265.7 276.7 265.4 281.3 264.1 285.7 261.7 290.0 258.6 293.3 254.7 296.2 250.0 298.2 245.0 299.4Z"/>
<path fill-rule="evenodd" fill="#74ff8b" d="M242.7 299.0 238.7 298.8 234.3 297.9 230.3 296.3 226.9 294.3 224.2 292.0 221.7 289.0 219.9 285.7 218.7 282.0 218.3 278.0 218.7 274.3 219.8 270.7 221.6 267.3 224.0 264.3 227.0 261.7 230.3 259.6 234.3 258.0 248.8 258.0 253.3 259.9 257.3 262.6 260.6 266.0 263.0 270.0 264.5 274.3 264.8 279.0 264.1 283.3 262.3 287.7 259.7 291.3 256.3 294.3 252.3 296.7 247.7 298.3 242.7 299.0Z"/>
<path fill-rule="evenodd" fill="#8bff74" d="M244.3 298.3 240.3 298.4 236.0 297.8 231.7 296.3 228.0 294.3 224.8 291.7 222.3 288.7 220.4 285.0 219.4 281.3 219.2 277.3 219.8 273.3 221.2 269.7 223.3 266.3 226.2 263.3 229.7 260.9 233.7 259.1 237.7 258.1 245.1 258.0 246.7 258.3 250.7 259.5 254.7 261.6 258.0 264.3 260.8 267.7 262.7 271.3 263.8 275.3 264.0 279.3 263.3 283.3 261.6 287.3 259.3 290.7 256.3 293.5 252.7 295.8 248.7 297.4 244.3 298.3Z"/>
<path fill-rule="evenodd" fill="#a2ff5d" d="M245.0 297.7 241.0 297.9 236.7 297.4 232.7 296.1 229.0 294.3 226.0 292.0 223.4 289.0 221.5 285.7 220.3 282.0 219.9 278.3 220.3 274.7 221.5 271.0 223.3 267.7 225.9 264.7 229.0 262.2 232.7 260.3 236.7 259.0 241.0 258.5 245.3 258.8 249.3 259.8 253.3 261.7 256.7 264.2 259.6 267.3 261.5 270.7 262.9 274.7 263.2 278.7 262.8 282.3 261.5 286.0 259.3 289.7 256.4 292.7 253.0 295.0 249.0 296.7 245.0 297.7Z"/>
<path fill-rule="evenodd" fill="#b9ff46" d="M243.0 297.4 239.0 297.2 235.0 296.4 231.0 294.7 227.8 292.7 225.0 290.0 222.9 287.0 221.5 283.7 220.7 280.0 220.8 276.3 221.6 272.7 223.3 269.1 225.7 266.0 228.7 263.4 232.0 261.4 235.7 260.0 239.7 259.3 243.7 259.3 247.7 260.1 251.7 261.6 255.0 263.8 258.0 266.6 260.2 269.7 261.7 273.3 262.4 277.0 262.3 280.7 261.4 284.3 259.8 287.7 257.3 290.9 254.3 293.5 251.0 295.4 247.0 296.7 243.0 297.4Z"/>
<path fill-rule="evenodd" fill="#d1ff2e" d="M244.3 296.7 240.3 296.8 236.7 296.3 232.8 295.0 229.3 293.1 226.5 290.7 224.3 288.0 222.6 284.7 221.6 281.3 221.4 277.7 221.9 274.3 223.1 271.0 225.0 267.9 227.7 265.1 230.7 262.9 234.0 261.3 237.7 260.3 241.7 259.9 245.7 260.3 249.3 261.4 253.0 263.2 256.1 265.7 258.7 268.7 260.5 272.0 261.5 275.3 261.7 279.0 261.2 282.7 260.0 286.0 257.9 289.3 255.3 292.0 252.0 294.2 248.3 295.8 244.3 296.7Z"/>
<path fill-rule="evenodd" fill="#e8ff17" d="M245.0 296.0 241.3 296.3 237.7 295.9 234.0 294.9 230.7 293.2 228.0 291.3 225.6 288.7 223.7 285.7 222.6 282.3 222.1 279.0 222.3 275.7 223.3 272.3 225.0 269.2 227.3 266.3 230.0 264.1 233.3 262.3 236.7 261.2 240.3 260.6 244.3 260.8 248.0 261.6 251.7 263.2 254.7 265.3 257.3 268.0 259.4 271.3 260.6 274.7 261.0 278.0 260.7 281.7 259.7 285.0 257.8 288.3 255.3 291.1 252.3 293.4 248.9 295.0 245.0 296.0Z"/>
<path fill-rule="evenodd" fill="#ffff00" d="M243.0 295.7 239.3 295.6 235.7 294.8 232.3 293.5 229.3 291.6 226.7 289.0 224.8 286.3 223.5 283.3 222.9 280.0 222.9 276.7 223.7 273.3 225.1 270.3 227.0 267.7 229.7 265.2 232.7 263.4 236.0 262.1 239.7 261.4 243.3 261.4 247.0 262.0 250.4 263.3 253.6 265.3 256.1 267.7 258.3 270.7 259.6 273.7 260.3 277.0 260.2 280.3 259.5 283.7 258.0 286.9 255.9 289.7 253.3 292.0 250.0 293.9 246.7 295.1 243.0 295.7Z"/>
<path fill-rule="evenodd" fill="#ffe800" d="M244.0 295.0 240.3 295.1 237.0 294.6 233.7 293.5 230.7 291.8 228.1 289.7 226.2 287.3 224.6 284.3 223.7 281.3 223.5 278.0 223.9 275.0 225.0 271.9 226.8 269.0 229.0 266.6 232.0 264.5 235.0 263.1 238.3 262.2 242.0 261.9 245.3 262.3 248.8 263.3 252.0 265.0 254.9 267.3 257.0 269.9 258.6 273.0 259.4 276.0 259.6 279.3 259.1 282.7 257.9 285.7 256.0 288.6 253.6 291.0 250.7 292.9 247.3 294.3 244.0 295.0Z"/>
<path fill-rule="evenodd" fill="#ffd100" d="M244.7 294.3 241.3 294.6 238.0 294.2 234.8 293.3 232.0 292.0 229.4 290.0 227.2 287.7 225.6 285.0 224.6 282.0 224.2 279.0 224.4 276.0 225.3 273.0 226.7 270.3 228.7 267.9 231.3 265.7 234.3 264.1 237.3 263.1 240.7 262.6 244.3 262.8 247.7 263.6 250.7 265.0 253.5 267.0 255.7 269.3 257.6 272.3 258.6 275.3 259.0 278.3 258.7 281.7 257.7 284.7 256.0 287.6 253.8 290.0 251.1 292.0 248.0 293.5 244.7 294.3Z"/>
<path fill-rule="evenodd" fill="#ffb900" d="M241.7 294.0 238.3 293.7 235.0 292.8 232.2 291.3 229.7 289.4 227.5 287.0 226.0 284.3 225.2 281.7 224.9 278.7 225.2 275.7 226.0 273.0 227.5 270.3 229.7 267.9 232.1 266.0 235.0 264.5 238.0 263.6 241.3 263.2 244.7 263.5 247.7 264.3 250.7 265.7 253.3 267.7 255.4 270.0 257.0 272.7 258.0 275.7 258.3 278.7 258.0 281.7 257.0 284.7 255.4 287.3 253.3 289.6 251.0 291.3 248.0 292.8 245.0 293.7 241.7 294.0Z"/>
<path fill-rule="evenodd" fill="#ffa200" d="M243.0 293.3 239.7 293.3 236.7 292.7 234.0 291.6 231.3 290.0 229.2 288.0 227.5 285.7 226.3 283.0 225.7 280.3 225.6 277.3 226.2 274.7 227.3 272.0 229.0 269.6 231.0 267.6 233.7 265.8 236.7 264.6 239.7 264.0 242.7 263.9 245.7 264.4 248.7 265.4 251.3 267.0 253.6 269.0 255.4 271.3 256.8 274.0 257.5 277.0 257.5 280.0 257.0 282.7 255.9 285.3 254.0 288.0 251.7 290.1 249.0 291.7 246.0 292.8 243.0 293.3Z"/>
<path fill-rule="evenodd" fill="#ff8b00" d="M243.3 292.7 240.3 292.7 237.7 292.3 234.9 291.3 232.3 289.9 230.1 288.0 228.3 285.8 227.1 283.3 226.4 280.7 226.3 278.0 226.7 275.3 227.7 272.7 229.3 270.3 231.2 268.3 233.6 266.7 236.3 265.4 239.0 264.8 242.0 264.6 245.0 264.9 248.0 265.9 250.6 267.3 253.0 269.3 254.7 271.4 256.0 274.0 256.7 276.7 256.8 279.7 256.4 282.3 255.3 285.0 253.7 287.3 251.6 289.3 249.0 291.0 246.3 292.1 243.3 292.7Z"/>
<path fill-rule="evenodd" fill="#ff7400" d="M243.3 292.0 240.3 292.0 237.7 291.6 235.0 290.7 232.7 289.3 230.7 287.6 229.0 285.5 227.8 283.0 227.2 280.7 227.0 278.0 227.4 275.7 228.2 273.3 229.7 271.0 231.5 269.0 233.7 267.4 236.3 266.2 239.0 265.5 242.0 265.3 244.7 265.6 247.3 266.4 250.0 267.8 252.3 269.7 254.0 271.7 255.2 274.0 256.0 276.7 256.1 279.3 255.7 282.0 254.8 284.3 253.3 286.7 251.3 288.7 249.0 290.2 246.3 291.4 243.3 292.0Z"/>
<path fill-rule="evenodd" fill="#ff5d00" d="M242.7 291.4 240.0 291.3 237.3 290.8 235.0 289.9 232.7 288.4 230.8 286.7 229.4 284.7 228.3 282.3 227.8 280.0 227.8 277.3 228.4 275.0 229.4 272.7 230.9 270.7 232.7 269.0 235.0 267.5 237.3 266.6 240.0 266.1 242.7 266.0 245.3 266.5 248.0 267.5 250.3 268.9 252.2 270.7 253.7 272.7 254.8 275.0 255.3 277.7 255.3 280.3 254.7 282.7 253.6 285.0 252.0 287.0 250.1 288.7 247.9 290.0 245.3 290.9 242.7 291.4Z"/>
<path fill-rule="evenodd" fill="#ff4600" d="M244.3 290.4 241.7 290.7 239.3 290.5 237.0 289.9 234.7 288.8 232.7 287.4 231.0 285.7 229.7 283.7 229.0 281.7 228.6 279.7 228.7 277.3 229.2 275.0 230.2 273.0 231.6 271.0 233.3 269.5 235.3 268.2 237.7 267.3 240.3 266.8 243.0 266.8 245.7 267.4 248.0 268.3 250.1 269.7 251.8 271.3 253.2 273.3 254.1 275.7 254.5 278.0 254.5 280.3 253.8 282.7 252.6 285.0 251.0 286.9 249.0 288.5 246.8 289.7 244.3 290.4Z"/>
<path fill-rule="evenodd" fill="#ff2e00" d="M243.7 289.7 241.3 289.8 239.0 289.6 236.7 288.9 234.7 287.9 231.5 285.0 230.4 283.0 229.7 281.0 229.4 279.0 229.6 276.7 230.3 274.7 231.3 272.7 232.8 271.0 234.5 269.7 236.3 268.6 238.7 267.9 241.0 267.5 243.4 267.7 245.7 268.2 248.0 269.2 250.0 270.7 251.5 272.3 252.7 274.3 253.4 276.3 253.7 278.3 253.5 280.7 252.8 283.0 251.7 284.9 250.1 286.7 248.3 288.0 246.0 289.1 243.7 289.7Z"/>
<path fill-rule="evenodd" fill="#ff1700" d="M244.0 288.7 239.7 288.8 235.7 287.4 232.7 284.9 231.6 283.3 230.7 281.3 230.4 277.7 230.9 275.7 231.7 273.9 234.3 270.8 238.0 268.9 240.3 268.5 242.7 268.4 245.0 268.9 246.9 269.7 248.7 270.7 250.4 272.3 251.5 274.0 252.4 276.0 252.8 278.0 252.7 280.0 252.2 282.0 251.2 284.0 249.8 285.7 248.2 287.0 246.3 288.0 244.0 288.7Z"/>
<path fill-rule="evenodd" fill="#ff0000" d="M244.0 287.7 240.0 287.8 236.4 286.7 233.5 284.3 231.8 281.3 231.4 278.0 232.4 274.7 234.7 271.8 238.0 270.0 242.0 269.4 244.0 269.6 246.1 270.3 249.3 272.7 250.6 274.3 251.3 276.0 251.7 277.7 251.7 279.7 251.2 281.7 250.4 283.3 247.7 286.1 244.0 287.7Z"/>
<path fill-rule="evenodd" fill="#e80000" d="M242.3 286.7 239.0 286.4 236.0 285.0 233.8 282.7 232.7 279.7 233.0 276.3 234.5 273.7 237.0 271.6 240.3 270.5 243.7 270.7 247.0 272.1 249.3 274.6 250.4 277.7 250.1 281.0 248.6 283.7 246.0 285.7 242.3 286.7Z"/>
<path fill-rule="evenodd" fill="#d10000" d="M243.0 285.0 240.0 285.0 237.4 284.0 235.5 282.3 234.4 280.0 234.2 277.7 235.1 275.3 236.9 273.3 239.3 272.1 242.3 271.9 245.0 272.6 247.3 274.3 248.7 276.7 248.9 279.3 247.9 282.0 245.7 284.0 243.0 285.0Z"/>
<path fill-rule="evenodd" fill="#b90000" d="M243.0 282.4 241.0 282.5 239.3 282.1 238.0 281.3 236.9 280.0 236.5 278.3 236.9 276.7 237.8 275.3 239.3 274.3 241.3 273.8 243.3 274.1 245.0 275.0 246.2 276.7 246.6 278.7 246.0 280.3 244.7 281.7 243.0 282.4Z"/>
</g>
<path fill="none" stroke="#000" stroke-opacity="0.55" stroke-width="0.45" d="M277.0 306.2 268.7 304.3 263.0 304.0 257.0 304.7 245.3 307.3 240.7 307.6 236.3 306.9 224.0 303.7 217.7 303.1 212.7 303.6 202.0 306.2"/>
<path fill="none" stroke="#000" stroke-opacity="0.55" stroke-width="0.45" d="M277.0 275.7 274.8 282.0 271.2 288.3 267.0 293.3 261.9 297.3 254.7 300.7 246.7 302.9 240.3 303.3 234.0 302.2 225.7 299.3 219.1 295.7 214.3 291.3 210.0 285.3 206.8 278.0 205.5 271.0 206.1 264.3 208.6 258.0M274.5 258.0 277.0 264.3"/>
<path fill="none" stroke="#000" stroke-opacity="0.55" stroke-width="0.45" d="M253.2 258.0 256.7 260.0 259.7 262.5 262.2 265.3 264.3 268.7 265.6 272.0 266.3 275.7 266.4 279.3 265.7 283.0 264.5 286.3 262.6 289.7 260.1 292.7 257.3 295.0 254.0 297.0 250.0 298.7 245.7 299.7 241.7 300.0 237.7 299.7 233.7 298.7 229.7 297.2 226.0 295.1 223.1 292.7 220.8 290.0 218.8 286.7 217.5 283.3 216.8 279.7 216.8 276.0 217.4 272.3 218.9 268.7 220.9 265.3 223.3 262.6 226.3 260.1 229.9 258.0"/>
<path fill="none" stroke="#000" stroke-opacity="0.55" stroke-width="0.45" d="M245.3 296.7 241.7 297.0 237.7 296.6 234.0 295.6 230.3 293.9 227.3 291.7 224.8 289.0 223.0 286.0 221.7 282.7 221.2 279.3 221.4 275.7 222.3 272.3 224.0 269.0 226.4 266.0 229.3 263.5 232.7 261.7 236.3 260.4 240.3 259.8 244.3 259.9 248.3 260.8 252.0 262.4 255.3 264.7 258.0 267.5 260.1 270.7 261.4 274.3 261.9 278.0 261.6 281.7 260.5 285.3 258.6 288.7 256.0 291.6 253.0 293.8 249.3 295.6 245.3 296.7"/>
<path fill="none" stroke="#000" stroke-opacity="0.55" stroke-width="0.45" d="M244.0 293.7 240.7 293.8 237.7 293.4 234.7 292.5 231.9 291.0 229.5 289.0 227.5 286.7 226.1 284.0 225.3 281.3 225.0 278.3 225.4 275.3 226.4 272.7 228.0 270.0 230.0 267.8 232.4 266.0 235.3 264.5 238.3 263.7 241.3 263.4 244.7 263.7 248.0 264.6 250.8 266.0 253.3 268.0 255.4 270.3 256.9 273.0 257.9 276.0 258.1 279.0 257.7 282.0 256.6 285.0 255.0 287.5 252.7 289.9 250.1 291.7 247.0 293.0 244.0 293.7"/>
<path fill="none" stroke="#000" stroke-opacity="0.55" stroke-width="0.45" d="M242.7 290.0 238.0 289.6 233.7 287.4 230.7 284.1 229.3 280.0 229.7 275.7 231.9 271.7 235.7 268.7 240.0 267.4 244.7 267.7 249.1 269.7 252.3 273.0 253.8 277.3 253.4 282.0 251.1 286.0 247.3 288.8 242.7 290.0"/>
</g>
<clipPath id="c12"><path d="M320.44 35.00C322.91 34.80 325.38 35.50 327.84 36.20C330.31 36.90 332.60 38.00 335.25 39.20C337.89 40.40 341.00 41.80 343.71 43.40C346.41 45.00 349.46 46.90 351.46 48.80C353.46 50.70 354.75 52.60 355.69 54.80C356.63 57.00 356.98 59.50 357.10 62.00C357.22 64.50 356.75 67.30 356.40 69.80C356.04 72.30 356.45 74.10 354.99 77.00C353.52 79.90 350.64 84.50 347.58 87.20C344.53 89.90 340.94 91.90 336.66 93.20C332.37 94.50 326.79 95.20 321.85 95.00C316.92 94.80 311.39 93.70 307.05 92.00C302.70 90.30 298.70 87.45 295.77 84.80C292.83 82.15 290.88 79.40 289.42 76.10C287.96 72.80 287.33 68.15 287.02 65.00C286.72 61.85 286.98 59.60 287.59 57.20C288.20 54.80 289.14 52.65 290.69 50.60C292.24 48.55 294.64 46.40 296.89 44.90C299.15 43.40 301.53 42.85 304.23 41.60C306.92 40.35 310.34 38.50 313.04 37.40C315.74 36.30 317.97 35.20 320.44 35.00Z"/></clipPath>
<g clip-path="url(#c12)"><g filter="url(#bl)">
<rect x="283.6" y="32.0" width="76.5" height="66.0" fill="#0000b8"/>
<path fill-rule="evenodd" fill="#0000d1" d="M360.1 98.0 283.6 98.0 283.6 37.9 287.9 32.0 360.1 32.0 360.1 98.0Z"/>
<path fill-rule="evenodd" fill="#0000e8" d="M360.1 98.0 283.6 98.0 283.6 45.9 290.6 36.3 294.2 32.0 358.0 32.0 360.1 33.9 360.1 98.0Z"/>
<path fill-rule="evenodd" fill="#0000ff" d="M360.1 98.0 284.7 98.0 283.6 96.2 283.6 52.1 293.6 38.7 299.0 32.8 299.8 32.0 352.1 32.0 355.9 35.0 359.3 38.3 360.1 39.2 360.1 98.0Z"/>
<path fill-rule="evenodd" fill="#0017ff" d="M359.8 98.0 288.7 98.0 285.9 93.9 283.6 89.5 283.6 58.0 287.9 51.3 296.3 40.5 301.0 35.4 305.3 32.0 346.1 32.0 350.1 34.5 353.8 37.4 357.1 40.7 360.1 44.2 360.1 97.8 359.8 98.0Z"/>
<path fill-rule="evenodd" fill="#002eff" d="M356.1 98.0 292.4 98.0 289.6 94.3 287.4 90.7 285.6 86.7 284.1 82.3 283.6 80.2 283.6 66.1 285.8 60.0 289.5 53.7 297.6 43.2 303.6 37.0 307.7 34.1 311.6 32.0 339.2 32.0 344.1 34.2 348.4 36.9 352.4 40.1 356.1 43.9 360.1 49.4 360.1 71.0 360.1 92.6 356.1 98.0Z"/>
<path fill-rule="evenodd" fill="#0046ff" d="M352.4 98.0 296.0 98.0 293.4 95.0 291.1 91.7 289.3 88.3 287.7 84.7 286.5 81.0 285.8 77.3 285.5 73.7 285.7 70.0 286.2 66.7 288.4 60.3 292.5 53.7 299.9 44.3 306.0 38.5 311.7 35.0 317.7 32.9 324.4 32.1 331.4 32.6 338.4 34.6 344.7 37.7 350.4 41.9 355.2 47.0 357.9 51.0 360.1 55.2 360.1 86.8 356.6 93.0 354.1 96.3 352.4 98.0Z"/>
<path fill-rule="evenodd" fill="#005dff" d="M348.7 98.0 299.7 98.0 296.7 95.0 294.1 91.7 290.7 85.3 288.6 78.7 288.1 72.0 289.0 65.7 291.6 59.3 296.2 52.3 302.6 44.8 308.7 39.7 314.0 36.8 320.0 35.1 326.4 34.7 332.7 35.5 339.1 37.6 345.1 40.9 350.1 45.1 354.5 50.3 358.0 56.7 360.1 63.4 360.1 78.6 358.5 84.0 356.0 89.3 352.5 94.3 348.7 98.0Z"/>
<path fill-rule="evenodd" fill="#0074ff" d="M345.1 98.0 303.4 98.0 298.8 93.7 295.1 88.7 292.3 82.7 290.8 76.7 290.6 70.7 291.8 64.7 294.7 58.3 299.4 51.7 305.3 45.3 311.0 41.0 316.3 38.5 322.0 37.3 328.0 37.2 334.4 38.4 340.1 40.7 345.4 44.2 350.1 48.6 353.7 53.7 356.4 59.3 358.0 65.3 358.5 71.7 357.8 77.7 356.0 83.7 353.3 89.0 349.5 94.0 345.1 98.0Z"/>
<path fill-rule="evenodd" fill="#008bff" d="M341.1 98.0 307.6 98.0 304.0 95.4 300.7 92.3 298.0 88.8 295.8 85.0 293.7 79.3 292.9 73.7 293.3 68.0 294.9 62.7 298.2 56.7 303.0 50.6 308.3 45.6 313.7 42.1 319.0 40.2 324.4 39.5 330.0 39.8 335.7 41.4 341.1 44.0 345.7 47.5 349.7 51.9 352.9 57.0 354.9 62.3 356.0 68.0 356.0 74.0 354.9 79.7 352.9 85.0 349.7 90.1 345.7 94.5 341.1 98.0Z"/>
<path fill-rule="evenodd" fill="#00a2ff" d="M336.0 98.0 312.4 98.0 307.1 95.0 302.6 91.1 299.1 86.3 296.5 81.0 295.3 75.7 295.2 70.3 296.2 65.3 298.4 60.0 302.2 54.3 306.7 49.5 311.7 45.6 317.0 43.1 322.0 41.9 327.4 41.8 332.7 42.7 338.1 44.9 342.7 47.9 346.7 51.7 350.0 56.3 352.3 61.3 353.6 66.7 353.9 72.3 353.1 77.7 351.3 83.0 348.7 87.7 345.1 92.0 340.7 95.6 336.0 98.0Z"/>
<path fill-rule="evenodd" fill="#00b9ff" d="M329.7 98.0 318.9 98.0 313.7 96.4 309.0 93.9 304.7 90.3 301.2 86.0 298.8 81.3 297.3 76.0 297.0 71.0 297.8 66.0 299.7 61.0 302.8 56.0 306.7 51.6 311.3 47.8 316.3 45.3 321.3 43.9 326.7 43.7 331.7 44.5 336.7 46.4 341.1 49.1 344.9 52.7 347.9 56.7 350.3 61.7 351.6 66.7 351.9 72.0 351.2 77.0 349.6 82.0 347.0 86.7 343.6 90.7 339.4 94.1 334.7 96.5 329.7 98.0Z"/>
<path fill-rule="evenodd" fill="#00d1ff" d="M328.0 96.7 323.0 96.9 318.0 96.2 313.3 94.5 308.7 91.7 305.0 88.3 301.8 84.0 299.7 79.3 298.7 74.7 298.6 69.7 299.6 65.0 301.5 60.3 304.6 55.7 308.3 51.7 312.7 48.6 317.3 46.4 322.0 45.4 326.7 45.3 331.7 46.2 336.4 48.0 340.7 50.9 344.2 54.3 347.2 58.7 349.1 63.3 350.1 68.0 350.2 73.0 349.3 78.0 347.5 82.7 344.8 87.0 341.4 90.6 337.4 93.4 332.7 95.6 328.0 96.7Z"/>
<path fill-rule="evenodd" fill="#00e8ff" d="M325.7 95.7 320.7 95.4 316.0 94.3 311.7 92.2 307.7 89.3 304.4 85.7 302.0 81.7 300.4 77.0 299.8 72.3 300.1 67.7 301.4 63.0 303.7 58.7 306.7 54.7 310.7 51.2 314.7 48.7 319.3 47.1 324.0 46.4 328.7 46.7 333.0 47.9 337.4 50.0 341.3 53.0 344.5 56.7 346.8 60.7 348.3 65.0 349.0 70.0 348.8 74.7 347.6 79.3 345.6 83.7 342.6 87.7 339.1 90.8 335.0 93.3 330.7 94.9 325.7 95.7Z"/>
<path fill-rule="evenodd" fill="#00ffff" d="M325.4 94.7 320.7 94.4 316.0 93.2 312.0 91.3 308.3 88.5 305.2 85.0 302.8 81.0 301.3 76.7 300.7 72.0 301.1 67.3 302.4 63.0 304.5 59.0 307.6 55.0 311.3 51.7 315.3 49.4 319.7 48.0 324.0 47.4 328.7 47.8 333.0 49.0 337.0 51.0 340.7 53.9 343.7 57.3 346.0 61.3 347.4 65.7 348.0 70.3 347.7 75.0 346.5 79.3 344.6 83.3 341.7 87.1 338.4 90.1 334.4 92.5 329.7 94.1 325.4 94.7Z"/>
<path fill-rule="evenodd" fill="#17ffe8" d="M327.0 93.7 322.4 93.8 318.0 93.0 313.7 91.2 310.0 88.8 306.8 85.7 304.3 82.0 302.6 78.0 301.7 73.7 301.7 69.3 302.5 65.0 304.2 61.0 306.8 57.0 310.0 53.8 313.7 51.2 318.0 49.3 322.4 48.4 326.7 48.3 331.0 49.2 335.0 50.8 338.8 53.3 342.1 56.6 344.6 60.3 346.2 64.3 347.1 68.7 347.1 73.0 346.2 77.7 344.6 81.7 342.1 85.3 339.1 88.5 335.4 91.0 331.4 92.7 327.0 93.7Z"/>
<path fill-rule="evenodd" fill="#2effd1" d="M326.4 93.0 322.0 93.0 317.7 92.1 313.7 90.4 310.2 88.0 307.2 85.0 304.8 81.3 303.1 77.3 302.4 73.0 302.5 68.7 303.4 64.7 305.1 60.7 307.7 57.0 311.0 53.8 314.7 51.4 318.7 49.8 323.0 49.0 327.4 49.2 331.4 50.1 335.4 51.9 338.8 54.3 341.7 57.4 344.1 61.0 345.6 65.0 346.4 69.3 346.3 73.7 345.3 78.0 343.5 82.0 341.2 85.3 338.1 88.3 334.7 90.5 330.7 92.2 326.4 93.0Z"/>
<path fill-rule="evenodd" fill="#46ffb9" d="M326.0 92.4 321.7 92.3 317.7 91.4 313.7 89.6 310.3 87.2 307.5 84.3 305.2 80.7 303.7 76.7 303.0 72.7 303.1 68.7 304.1 64.7 305.9 60.7 308.3 57.2 311.3 54.3 315.0 52.0 319.0 50.4 323.0 49.7 327.4 49.8 331.4 50.8 335.0 52.5 338.4 54.8 341.1 57.7 343.5 61.3 345.0 65.3 345.7 69.3 345.6 73.7 344.7 77.7 342.9 81.7 340.6 85.0 337.7 87.7 334.0 90.1 330.4 91.6 326.0 92.4Z"/>
<path fill-rule="evenodd" fill="#5dffa2" d="M326.4 91.7 322.4 91.7 318.3 90.9 314.3 89.3 311.0 87.0 308.1 84.0 305.9 80.7 304.4 77.0 303.6 73.0 303.7 69.0 304.6 65.0 306.2 61.3 308.4 58.0 311.5 55.0 315.0 52.6 318.7 51.1 322.7 50.4 326.7 50.4 330.7 51.2 334.4 52.8 337.7 55.1 340.6 58.0 342.8 61.3 344.3 65.0 345.0 69.0 345.0 73.0 344.3 77.0 342.6 81.0 340.4 84.2 337.4 87.2 334.0 89.4 330.4 90.9 326.4 91.7Z"/>
<path fill-rule="evenodd" fill="#74ff8b" d="M327.0 91.0 323.0 91.2 319.0 90.5 315.3 89.1 312.0 87.0 309.1 84.3 306.7 81.0 305.1 77.3 304.3 73.7 304.2 69.7 304.9 66.0 306.5 62.0 308.6 58.7 311.3 55.8 314.7 53.5 318.3 51.8 322.0 51.0 326.0 50.9 329.7 51.5 333.4 52.9 336.7 55.0 339.5 57.7 341.9 61.0 343.5 64.7 344.4 68.3 344.5 72.3 343.8 76.3 342.4 80.0 340.3 83.3 337.7 86.1 334.4 88.5 330.7 90.2 327.0 91.0Z"/>
<path fill-rule="evenodd" fill="#8bff74" d="M327.7 90.4 323.7 90.6 320.0 90.2 316.3 89.0 313.0 87.1 310.0 84.5 307.7 81.4 306.0 78.0 305.0 74.3 304.7 70.3 305.3 66.7 306.6 63.0 308.5 59.7 311.2 56.7 314.3 54.3 317.7 52.7 321.3 51.7 325.0 51.4 328.7 51.9 332.4 53.1 335.7 55.0 338.7 57.6 341.0 60.7 342.7 64.0 343.7 67.7 344.0 71.7 343.5 75.3 342.3 79.0 340.4 82.3 337.8 85.3 334.7 87.7 331.4 89.3 327.7 90.4Z"/>
<path fill-rule="evenodd" fill="#a2ff5d" d="M326.0 90.0 322.4 90.0 318.7 89.2 315.0 87.7 312.0 85.6 309.3 82.8 307.3 79.7 306.0 76.3 305.3 72.7 305.4 69.0 306.2 65.3 307.7 62.0 310.0 58.7 312.8 56.0 316.0 54.0 319.3 52.7 323.0 52.0 326.7 52.1 330.4 52.9 333.7 54.4 336.7 56.5 339.4 59.3 341.4 62.3 342.7 65.7 343.4 69.3 343.3 73.0 342.6 76.7 341.1 80.2 338.9 83.3 336.1 86.0 333.0 88.0 329.7 89.3 326.0 90.0Z"/>
<path fill-rule="evenodd" fill="#b9ff46" d="M327.0 89.4 323.4 89.5 319.8 89.0 316.3 87.8 313.3 86.0 310.7 83.6 308.5 80.7 306.9 77.3 306.0 73.7 305.8 70.0 306.5 66.3 307.8 63.0 309.7 59.9 312.3 57.1 315.3 55.0 318.7 53.5 322.0 52.7 325.7 52.5 329.4 53.2 332.7 54.5 335.7 56.3 338.2 58.7 340.4 61.7 341.9 65.0 342.7 68.3 342.9 72.0 342.3 75.7 341.1 79.0 339.3 82.0 336.9 84.7 334.0 86.8 330.7 88.4 327.0 89.4Z"/>
<path fill-rule="evenodd" fill="#d1ff2e" d="M325.0 89.0 321.3 88.8 318.0 87.9 314.8 86.3 312.0 84.2 309.7 81.5 307.9 78.3 306.8 75.0 306.3 71.7 306.6 68.0 307.6 64.7 309.1 61.7 311.3 58.8 314.0 56.4 317.0 54.7 320.3 53.5 324.0 53.0 327.4 53.3 330.7 54.2 333.8 55.7 336.7 57.9 339.1 60.6 340.8 63.7 341.9 67.0 342.3 70.3 342.1 74.0 341.2 77.3 339.7 80.4 337.5 83.3 334.8 85.7 331.7 87.4 328.4 88.6 325.0 89.0Z"/>
<path fill-rule="evenodd" fill="#e8ff17" d="M326.4 88.4 322.7 88.4 319.3 87.8 316.3 86.6 313.4 84.7 311.0 82.3 309.0 79.4 307.7 76.3 307.0 73.0 307.0 69.3 307.7 66.1 309.0 62.9 310.9 60.0 313.3 57.6 316.2 55.7 319.3 54.3 322.7 53.7 326.0 53.6 329.4 54.3 332.7 55.7 335.4 57.5 337.7 59.7 339.7 62.7 341.1 65.9 341.7 69.2 341.7 72.7 341.1 76.0 339.7 79.3 337.9 82.0 335.6 84.3 332.7 86.4 329.7 87.6 326.4 88.4Z"/>
<path fill-rule="evenodd" fill="#ffff00" d="M327.4 87.7 324.0 87.9 320.7 87.6 317.7 86.6 314.7 84.9 312.0 82.7 310.0 80.1 308.5 77.0 307.7 74.0 307.4 70.7 307.9 67.3 308.9 64.3 310.6 61.3 312.9 58.7 315.6 56.7 318.3 55.3 321.7 54.3 325.0 54.1 328.4 54.6 331.5 55.7 334.3 57.3 336.7 59.4 338.7 62.0 340.2 65.0 341.1 68.2 341.3 71.3 340.9 74.7 339.9 77.7 338.3 80.7 336.0 83.2 333.4 85.3 330.4 86.8 327.4 87.7Z"/>
<path fill-rule="evenodd" fill="#ffe800" d="M325.7 87.3 322.4 87.3 319.3 86.6 316.3 85.3 313.7 83.5 311.3 81.0 309.7 78.3 308.5 75.3 308.0 72.3 308.1 69.0 308.8 66.0 310.2 63.0 312.1 60.3 314.6 58.0 317.3 56.3 320.3 55.2 323.4 54.7 326.7 54.8 329.7 55.5 332.7 56.9 335.1 58.7 337.3 61.0 339.1 63.8 340.1 66.7 340.7 70.0 340.6 73.3 339.8 76.3 338.5 79.3 336.7 81.7 334.4 84.0 331.7 85.6 328.7 86.8 325.7 87.3Z"/>
<path fill-rule="evenodd" fill="#ffd100" d="M326.4 86.7 323.4 86.8 320.3 86.3 317.3 85.2 314.7 83.5 312.3 81.3 310.7 79.0 309.3 76.0 308.6 73.0 308.6 70.0 309.1 67.0 310.3 64.0 312.0 61.3 314.2 59.0 316.7 57.3 319.7 56.0 322.7 55.3 325.7 55.3 328.7 55.8 331.7 57.0 334.2 58.7 336.4 60.7 338.2 63.3 339.4 66.1 340.1 69.2 340.1 72.3 339.6 75.3 338.4 78.3 336.9 80.7 334.7 82.9 332.3 84.7 329.4 86.0 326.4 86.7Z"/>
<path fill-rule="evenodd" fill="#ffb900" d="M326.7 86.0 323.7 86.2 320.7 85.8 318.0 84.9 315.3 83.3 313.1 81.3 311.3 79.0 310.1 76.3 309.3 73.3 309.2 70.3 309.6 67.3 310.7 64.5 312.2 62.0 314.3 59.7 316.7 58.0 319.3 56.7 322.4 56.0 325.4 55.9 328.0 56.3 331.0 57.3 333.4 58.8 335.5 60.7 337.4 63.2 338.7 66.0 339.4 68.7 339.6 71.7 339.1 74.7 338.1 77.6 336.6 80.0 334.7 82.1 332.3 84.0 329.5 85.3 326.7 86.0Z"/>
<path fill-rule="evenodd" fill="#ffa200" d="M327.0 85.3 324.0 85.6 321.3 85.3 318.4 84.3 316.0 83.0 314.0 81.3 312.1 79.0 310.7 76.3 310.0 73.7 309.8 70.7 310.1 68.0 311.0 65.3 312.5 62.7 314.3 60.5 316.7 58.7 319.3 57.4 322.0 56.7 325.0 56.5 327.7 56.8 330.4 57.7 332.7 59.1 335.0 61.0 336.7 63.3 338.1 66.0 338.7 68.5 338.9 71.3 338.6 74.0 337.7 76.8 336.3 79.3 334.4 81.6 332.1 83.3 329.7 84.6 327.0 85.3Z"/>
<path fill-rule="evenodd" fill="#ff8b00" d="M326.7 84.7 324.0 84.9 321.3 84.6 318.7 83.7 316.2 82.3 314.0 80.4 312.5 78.3 311.3 76.0 310.6 73.3 310.4 70.7 310.8 68.0 311.7 65.3 313.1 63.0 314.8 61.0 317.0 59.3 319.6 58.0 322.4 57.3 325.0 57.1 327.7 57.5 330.1 58.3 332.4 59.7 334.4 61.4 336.2 63.7 337.3 66.0 338.1 68.7 338.3 71.3 337.9 74.0 337.1 76.7 335.7 79.0 334.0 81.0 331.7 82.8 329.4 84.0 326.7 84.7Z"/>
<path fill-rule="evenodd" fill="#ff7400" d="M326.4 84.0 323.7 84.2 321.3 83.8 318.9 83.0 316.6 81.7 314.7 80.0 313.0 77.7 312.0 75.7 311.3 73.0 311.2 70.3 311.7 67.7 312.7 65.1 314.0 63.0 315.7 61.2 317.8 59.7 320.0 58.7 322.7 58.0 325.4 57.9 327.7 58.3 330.0 59.1 332.4 60.6 334.3 62.3 335.7 64.4 336.8 66.7 337.4 69.2 337.5 71.7 337.1 74.3 336.2 76.7 335.0 78.7 333.3 80.7 331.1 82.3 328.7 83.4 326.4 84.0Z"/>
<path fill-rule="evenodd" fill="#ff5d00" d="M324.7 83.3 322.4 83.2 320.0 82.6 317.7 81.4 315.9 80.0 314.3 78.3 313.0 76.0 312.3 73.7 312.0 71.3 312.3 68.7 313.0 66.4 314.1 64.3 315.7 62.4 317.7 60.8 319.7 59.7 322.0 59.0 324.4 58.7 326.7 58.9 329.0 59.6 331.1 60.7 333.0 62.3 334.7 64.3 335.8 66.3 336.5 68.7 336.7 71.0 336.5 73.3 335.8 75.7 334.7 77.7 333.1 79.7 331.4 81.1 329.2 82.3 327.0 83.0 324.7 83.3Z"/>
<path fill-rule="evenodd" fill="#ff4600" d="M325.0 82.4 322.7 82.3 320.4 81.7 318.3 80.7 316.7 79.4 315.1 77.7 314.0 75.8 313.0 71.7 313.2 69.3 313.7 67.3 314.7 65.2 316.0 63.5 317.7 61.9 319.7 60.8 321.9 60.0 324.0 59.7 326.4 59.9 328.4 60.4 330.3 61.3 332.1 62.7 333.5 64.3 334.7 66.3 335.4 68.3 335.7 70.7 335.5 73.0 335.0 75.0 334.0 76.9 332.7 78.7 331.0 80.2 329.1 81.3 325.0 82.4Z"/>
<path fill-rule="evenodd" fill="#ff2e00" d="M326.0 81.0 322.0 80.9 318.5 79.3 316.9 78.0 315.7 76.3 314.3 72.7 314.2 70.7 314.5 68.7 315.3 66.7 316.3 65.0 319.3 62.3 323.0 61.0 325.0 60.9 327.0 61.2 330.4 62.8 333.0 65.8 334.4 69.4 334.2 73.3 333.5 75.3 332.5 77.0 329.7 79.6 326.0 81.0Z"/>
<path fill-rule="evenodd" fill="#ff1700" d="M326.0 79.4 322.7 79.4 319.7 78.1 317.3 75.9 316.0 72.7 316.1 69.3 317.4 66.3 319.7 64.0 323.0 62.7 326.0 62.7 329.1 64.0 331.5 66.3 332.7 69.4 332.7 72.7 331.4 75.8 329.0 78.1 326.0 79.4Z"/>
<path fill-rule="evenodd" fill="#ff0000" d="M326.0 76.3 323.7 76.6 321.7 75.9 320.0 74.5 319.1 72.7 318.9 70.3 319.6 68.3 321.1 66.7 323.0 65.7 325.4 65.6 327.3 66.3 328.8 67.7 329.7 69.5 329.9 71.7 329.2 73.7 327.9 75.3 326.0 76.3Z"/>
</g>
<path fill="none" stroke="#000" stroke-opacity="0.55" stroke-width="0.45" d="M328.4 97.0 323.0 97.3 318.0 96.5 313.0 94.8 308.7 92.2 304.8 88.7 301.8 84.7 299.6 80.0 298.4 75.0 298.3 70.0 299.2 65.0 301.2 60.3 304.2 55.7 308.0 51.6 312.3 48.4 317.0 46.2 322.0 45.0 326.7 44.9 331.7 45.8 336.4 47.6 340.7 50.4 344.4 54.0 347.2 58.0 349.3 62.7 350.5 68.0 350.6 73.0 349.7 78.0 347.9 82.7 345.2 87.0 341.7 90.8 337.7 93.7 333.0 95.8 328.4 97.0"/>
<path fill="none" stroke="#000" stroke-opacity="0.55" stroke-width="0.45" d="M327.4 92.0 323.0 92.2 319.0 91.6 315.0 90.1 311.5 88.0 308.3 85.0 305.9 81.7 304.2 78.0 303.3 74.0 303.2 69.7 303.9 65.7 305.5 61.7 307.7 58.3 310.7 55.1 314.0 52.7 318.0 50.9 322.0 50.0 326.0 49.9 330.0 50.5 334.0 52.1 337.4 54.2 340.4 57.1 342.9 60.7 344.5 64.3 345.4 68.3 345.5 72.7 344.8 76.7 343.3 80.7 341.2 84.0 338.4 87.0 335.0 89.4 331.4 91.1 327.4 92.0"/>
<path fill="none" stroke="#000" stroke-opacity="0.55" stroke-width="0.45" d="M326.7 89.0 323.0 89.1 319.7 88.6 316.3 87.3 313.2 85.3 310.7 83.0 308.5 80.0 307.1 76.7 306.3 73.3 306.3 69.7 306.9 66.3 308.2 63.0 310.1 60.0 312.7 57.3 315.7 55.2 319.0 53.8 322.4 53.0 326.0 53.0 329.4 53.6 332.7 54.9 335.5 56.7 338.1 59.1 340.1 62.0 341.6 65.3 342.3 68.7 342.4 72.3 341.9 75.7 340.6 79.0 338.7 82.1 336.3 84.7 333.4 86.7 330.0 88.2 326.7 89.0"/>
<path fill="none" stroke="#000" stroke-opacity="0.55" stroke-width="0.45" d="M325.7 86.0 322.7 86.0 319.7 85.3 317.0 84.2 314.7 82.6 312.7 80.6 311.0 78.0 309.9 75.3 309.3 72.3 309.4 69.3 310.0 66.6 311.3 63.7 312.9 61.3 315.0 59.3 317.7 57.6 320.3 56.6 323.4 56.0 326.4 56.1 329.0 56.7 331.7 57.9 334.3 59.7 336.4 61.9 337.9 64.3 338.9 67.0 339.4 70.0 339.3 73.0 338.7 75.7 337.5 78.3 335.7 80.9 331.4 84.3 328.7 85.4 325.7 86.0"/>
<path fill="none" stroke="#000" stroke-opacity="0.55" stroke-width="0.45" d="M326.0 81.4 322.0 81.2 318.3 79.6 315.5 76.7 314.0 72.7 314.2 68.7 316.0 64.8 319.2 62.0 323.0 60.7 327.0 60.9 330.7 62.7 333.4 65.7 334.7 69.4 334.5 73.7 332.7 77.3 329.7 80.0 326.0 81.4"/>
</g>
<clipPath id="c13"><path d="M321.08 110.00C323.56 109.80 326.05 110.50 328.53 111.20C331.02 111.90 333.33 113.00 335.99 114.20C338.65 115.40 341.79 116.80 344.51 118.40C347.23 120.00 350.31 121.90 352.32 123.80C354.33 125.70 355.63 127.60 356.58 129.80C357.53 132.00 357.88 134.50 358.00 137.00C358.12 139.50 357.65 142.30 357.29 144.80C356.94 147.30 357.35 149.10 355.87 152.00C354.39 154.90 351.49 159.50 348.42 162.20C345.34 164.90 341.73 166.90 337.41 168.20C333.09 169.50 327.47 170.20 322.50 170.00C317.53 169.80 311.97 168.70 307.59 167.00C303.21 165.30 299.19 162.45 296.23 159.80C293.27 157.15 291.31 154.40 289.84 151.10C288.37 147.80 287.73 143.15 287.43 140.00C287.12 136.85 287.38 134.60 287.99 132.20C288.61 129.80 289.56 127.65 291.12 125.60C292.68 123.55 295.09 121.40 297.37 119.90C299.64 118.40 302.04 117.85 304.75 116.60C307.46 115.35 310.90 113.50 313.62 112.40C316.35 111.30 318.59 110.20 321.08 110.00Z"/></clipPath>
<g clip-path="url(#c13)"><g filter="url(#bl)">
<rect x="284.0" y="107.0" width="77.0" height="66.0" fill="#0000bf"/>
<path fill-rule="evenodd" fill="#0000d1" d="M361.0 173.0 284.0 173.0 284.0 107.0 359.2 107.0 361.0 110.4 361.0 173.0Z"/>
<path fill-rule="evenodd" fill="#0000e8" d="M360.7 173.0 284.0 173.0 284.0 107.0 353.5 107.0 355.7 111.3 357.5 116.0 361.0 130.7 361.0 172.8 360.7 173.0Z"/>
<path fill-rule="evenodd" fill="#0000ff" d="M356.0 173.0 284.0 173.0 284.0 110.0 286.9 107.0 349.1 107.0 352.2 112.7 354.5 119.3 360.0 146.3 360.8 151.7 361.0 157.3 360.2 163.0 358.4 168.7 356.8 172.0 356.0 173.0Z"/>
<path fill-rule="evenodd" fill="#0017ff" d="M352.0 173.0 285.7 173.0 284.0 170.8 284.0 115.2 288.0 110.5 291.8 107.0 345.0 107.0 347.1 109.7 349.0 112.9 351.8 120.3 353.5 128.7 357.1 150.3 357.3 157.0 356.6 162.7 354.7 168.3 353.0 171.7 352.0 173.0Z"/>
<path fill-rule="evenodd" fill="#002eff" d="M348.3 173.0 289.7 173.0 289.0 172.3 286.3 169.0 284.0 165.6 284.0 120.4 287.6 115.3 292.0 110.7 296.8 107.0 340.9 107.0 343.0 109.0 345.1 111.7 347.0 114.9 348.5 118.3 349.8 122.3 352.1 133.7 354.3 149.3 354.4 156.3 353.5 162.7 351.4 168.3 349.7 171.3 348.3 173.0Z"/>
<path fill-rule="evenodd" fill="#0046ff" d="M344.7 173.0 293.6 173.0 289.2 168.3 286.3 164.2 284.0 159.7 284.0 126.3 286.2 122.0 289.0 118.0 292.2 114.3 295.7 111.2 302.2 107.0 336.3 107.0 339.7 109.4 342.7 112.6 344.5 115.3 346.1 118.3 348.6 126.0 350.9 138.3 352.0 150.3 351.8 157.3 350.5 163.3 347.9 169.0 345.8 172.0 344.7 173.0Z"/>
<path fill-rule="evenodd" fill="#005dff" d="M341.0 173.0 297.6 173.0 293.2 169.0 289.5 164.3 286.2 158.3 284.0 151.6 284.0 134.4 286.2 127.7 289.7 121.3 294.2 116.0 299.7 111.5 304.3 108.8 309.0 107.0 330.2 107.0 334.0 108.6 337.2 110.7 340.0 113.2 342.3 116.2 345.5 122.3 347.8 130.7 349.6 141.7 350.0 151.7 349.4 158.3 347.7 164.0 344.7 169.3 342.3 172.0 341.0 173.0Z"/>
<path fill-rule="evenodd" fill="#0074ff" d="M337.0 173.0 301.9 173.0 298.3 170.4 295.0 167.3 292.0 163.7 289.7 160.0 287.1 153.7 285.7 146.7 285.6 139.7 286.9 133.0 289.4 126.7 293.3 120.7 298.0 115.8 303.7 112.0 309.0 109.6 314.7 108.2 320.7 107.8 326.3 108.5 331.3 110.1 335.9 112.7 339.4 116.0 342.4 120.3 345.2 127.0 347.3 135.7 348.3 145.0 348.1 153.3 346.9 159.7 344.6 165.0 341.2 169.7 338.7 172.0 337.0 173.0Z"/>
<path fill-rule="evenodd" fill="#008bff" d="M332.7 173.0 306.7 173.0 301.6 170.0 297.0 166.0 293.1 161.0 290.3 155.7 288.4 149.3 287.8 143.0 288.4 136.7 290.3 130.3 293.3 124.7 297.3 119.6 302.3 115.5 308.0 112.5 313.3 110.8 319.0 110.1 324.7 110.5 329.7 111.9 334.0 114.1 337.7 117.1 340.7 121.0 343.2 126.0 345.5 133.0 346.8 141.0 346.9 148.7 346.0 155.7 344.1 161.3 341.3 166.0 337.4 170.0 332.7 173.0Z"/>
<path fill-rule="evenodd" fill="#00a2ff" d="M326.7 173.0 312.7 173.0 308.3 171.5 304.0 169.1 299.3 165.3 295.4 160.7 292.5 155.3 290.7 149.7 290.0 143.7 290.5 137.7 292.1 131.7 294.8 126.3 298.3 121.7 303.0 117.5 308.3 114.5 314.0 112.7 319.7 112.1 325.0 112.6 330.0 114.1 334.3 116.6 338.0 120.1 340.9 124.3 343.2 129.3 344.9 135.3 345.8 142.0 345.7 148.7 344.8 154.7 342.7 160.3 340.0 164.7 336.3 168.3 331.7 171.3 326.7 173.0Z"/>
<path fill-rule="evenodd" fill="#00b9ff" d="M323.7 172.0 318.3 172.3 313.0 171.4 308.0 169.5 303.0 166.3 298.9 162.3 295.7 157.7 293.4 152.3 292.1 146.7 292.0 141.0 292.9 135.3 294.8 130.0 297.9 125.0 301.7 120.8 306.3 117.4 311.3 115.1 316.7 113.9 322.0 113.8 327.0 114.7 331.7 116.7 335.7 119.7 338.9 123.3 341.5 128.0 343.4 133.3 344.6 139.3 344.9 145.3 344.3 151.3 342.9 156.7 340.5 161.3 337.3 165.3 333.3 168.5 328.7 170.8 323.7 172.0Z"/>
<path fill-rule="evenodd" fill="#00d1ff" d="M321.3 171.0 316.3 170.8 311.3 169.5 306.7 167.3 302.3 164.0 298.9 160.0 296.1 155.3 294.3 150.0 293.4 144.3 293.7 139.0 294.9 133.7 297.2 128.7 300.3 124.1 304.0 120.6 308.7 117.6 313.7 115.7 318.7 115.0 323.7 115.3 328.3 116.5 332.7 118.8 336.4 122.0 339.4 126.0 341.8 131.0 343.4 136.7 344.1 142.3 343.9 148.0 342.9 153.3 341.1 158.0 338.3 162.3 335.0 165.7 330.7 168.5 326.3 170.2 321.3 171.0Z"/>
<path fill-rule="evenodd" fill="#00e8ff" d="M320.0 170.0 315.3 169.6 310.7 168.1 306.3 165.8 302.3 162.3 298.9 158.0 296.5 153.3 295.1 148.3 294.6 143.3 295.0 138.0 296.4 133.0 298.9 128.0 301.9 124.0 305.7 120.7 310.0 118.2 314.7 116.6 319.7 116.0 324.3 116.5 329.0 117.9 333.0 120.3 336.6 123.7 339.4 127.7 341.6 132.7 342.9 138.0 343.4 143.7 343.0 149.0 341.8 154.0 339.9 158.3 337.0 162.4 333.7 165.4 329.3 168.0 324.7 169.5 320.0 170.0Z"/>
<path fill-rule="evenodd" fill="#00ffff" d="M321.7 169.0 317.0 168.9 312.3 167.8 308.0 165.8 303.9 162.7 300.7 159.0 298.1 154.7 296.5 150.0 295.6 144.7 295.8 139.7 296.8 134.7 298.8 130.0 301.7 125.7 305.3 122.1 309.3 119.5 313.7 117.8 318.3 117.0 323.0 117.1 327.3 118.2 331.7 120.4 335.2 123.3 338.1 127.0 340.4 131.3 341.9 136.3 342.7 141.7 342.6 146.7 341.7 151.7 340.0 156.3 337.6 160.3 334.3 163.8 330.3 166.5 326.0 168.2 321.7 169.0Z"/>
<path fill-rule="evenodd" fill="#17ffe8" d="M323.3 168.0 318.7 168.3 314.0 167.5 309.7 165.8 305.7 163.1 302.2 159.7 299.6 155.7 297.6 151.0 296.6 146.3 296.4 141.3 297.2 136.3 298.9 131.7 301.4 127.3 304.7 123.7 308.7 120.8 313.0 118.8 317.3 117.8 321.7 117.8 326.0 118.6 330.0 120.3 333.7 122.9 336.8 126.3 339.2 130.3 340.9 134.7 341.9 139.7 342.1 144.7 341.5 149.7 340.1 154.3 338.1 158.3 335.1 162.0 331.7 164.8 327.7 166.8 323.3 168.0Z"/>
<path fill-rule="evenodd" fill="#2effd1" d="M323.0 167.3 318.3 167.5 314.0 166.7 310.0 165.1 306.0 162.5 302.9 159.3 300.2 155.3 298.3 150.7 297.3 146.0 297.2 141.0 298.0 136.3 299.5 132.0 302.1 127.7 305.3 124.1 309.0 121.4 313.3 119.5 317.7 118.5 322.0 118.5 326.3 119.5 330.3 121.3 333.7 123.8 336.5 127.0 338.9 131.0 340.5 135.3 341.4 140.3 341.5 145.3 340.9 150.0 339.4 154.3 337.2 158.3 334.4 161.7 331.0 164.4 327.3 166.2 323.0 167.3Z"/>
<path fill-rule="evenodd" fill="#46ffb9" d="M322.7 166.7 318.3 166.8 314.0 166.0 310.0 164.4 306.3 161.9 303.2 158.7 300.6 154.7 298.8 150.3 297.9 145.7 297.9 141.0 298.7 136.3 300.3 132.0 302.7 128.0 305.7 124.7 309.3 122.0 313.3 120.2 317.7 119.2 322.0 119.2 326.0 120.1 330.0 121.9 333.3 124.3 336.2 127.7 338.4 131.3 340.0 135.7 340.9 140.3 341.0 145.3 340.3 150.0 338.8 154.3 336.7 158.0 334.0 161.2 330.7 163.8 326.7 165.7 322.7 166.7Z"/>
<path fill-rule="evenodd" fill="#5dffa2" d="M323.0 166.0 318.7 166.2 314.7 165.6 310.7 164.0 307.0 161.6 303.7 158.3 301.3 154.7 299.5 150.3 298.6 146.0 298.5 141.3 299.2 136.7 300.8 132.3 303.0 128.6 306.0 125.2 309.7 122.5 313.7 120.7 317.7 119.9 321.7 119.8 325.7 120.6 329.3 122.2 332.8 124.7 335.5 127.7 337.8 131.3 339.5 135.7 340.3 140.0 340.5 144.7 339.9 149.3 338.5 153.7 336.5 157.3 333.7 160.6 330.7 163.0 327.0 164.9 323.0 166.0Z"/>
<path fill-rule="evenodd" fill="#74ff8b" d="M323.3 165.3 319.0 165.6 315.0 165.0 311.0 163.5 307.7 161.4 304.5 158.3 302.0 154.7 300.2 150.7 299.2 146.3 299.0 141.7 299.6 137.3 301.1 133.0 303.2 129.3 306.0 126.1 309.3 123.4 313.3 121.5 317.3 120.5 321.3 120.4 325.3 121.2 329.0 122.7 332.3 125.0 335.0 127.9 337.2 131.3 338.8 135.3 339.8 139.7 340.0 144.3 339.5 148.7 338.3 152.7 336.4 156.3 333.8 159.7 330.7 162.3 327.0 164.3 323.3 165.3Z"/>
<path fill-rule="evenodd" fill="#8bff74" d="M321.3 165.0 317.3 164.9 313.3 163.9 309.7 162.1 306.5 159.7 303.7 156.3 301.6 152.7 300.2 148.7 299.6 144.3 299.7 140.0 300.7 135.7 302.4 131.7 304.7 128.3 307.7 125.3 311.0 123.1 314.7 121.7 318.7 121.0 322.7 121.1 326.3 122.1 330.0 124.0 333.0 126.4 335.6 129.7 337.6 133.3 338.9 137.3 339.5 141.7 339.4 146.0 338.6 150.3 337.0 154.3 334.8 157.7 332.0 160.6 328.7 162.9 325.0 164.3 321.3 165.0Z"/>
<path fill-rule="evenodd" fill="#a2ff5d" d="M322.0 164.4 318.0 164.4 314.3 163.6 310.7 162.0 307.3 159.6 304.6 156.7 302.3 153.0 300.9 149.0 300.2 145.0 300.2 140.7 301.0 136.7 302.5 132.7 304.7 129.2 307.4 126.3 310.7 124.0 314.3 122.4 318.3 121.6 322.3 121.7 326.0 122.6 329.3 124.2 332.3 126.5 335.0 129.7 336.9 133.0 338.3 137.0 339.0 141.0 339.0 145.3 338.3 149.3 336.9 153.3 334.9 156.7 332.3 159.6 329.3 161.8 325.7 163.5 322.0 164.4Z"/>
<path fill-rule="evenodd" fill="#b9ff46" d="M322.7 163.7 318.7 163.9 315.0 163.3 311.3 161.8 308.2 159.7 305.3 156.7 303.1 153.3 301.6 149.7 300.8 145.7 300.7 141.3 301.3 137.3 302.6 133.7 304.7 130.1 307.3 127.1 310.3 124.8 314.0 123.1 317.7 122.2 321.3 122.1 325.0 122.8 328.3 124.3 331.3 126.4 333.9 129.0 336.0 132.3 337.6 136.3 338.4 140.3 338.6 144.3 338.0 148.3 336.8 152.3 335.0 155.7 332.5 158.7 329.7 161.0 326.3 162.7 322.7 163.7Z"/>
<path fill-rule="evenodd" fill="#d1ff2e" d="M321.0 163.3 317.3 163.2 313.7 162.2 310.3 160.5 307.3 158.2 304.7 155.0 302.9 151.7 301.7 148.0 301.1 144.0 301.3 140.0 302.3 136.0 303.9 132.3 306.0 129.3 308.7 126.7 312.0 124.5 315.3 123.2 319.0 122.6 322.7 122.9 326.0 123.8 329.0 125.3 332.0 127.7 334.4 130.7 336.2 134.0 337.5 138.0 338.1 142.0 337.9 146.0 337.1 150.0 335.7 153.5 333.6 156.7 331.0 159.3 328.0 161.3 324.7 162.7 321.0 163.3Z"/>
<path fill-rule="evenodd" fill="#e8ff17" d="M322.0 162.7 318.3 162.7 314.7 162.0 311.3 160.5 308.3 158.3 305.9 155.7 303.8 152.3 302.4 148.7 301.7 145.0 301.7 141.0 302.4 137.3 303.8 133.7 305.9 130.3 308.3 127.7 311.3 125.5 314.7 124.0 318.3 123.3 322.0 123.3 325.3 124.1 328.3 125.5 331.2 127.7 333.7 130.5 335.5 133.7 336.9 137.3 337.5 141.0 337.5 145.0 336.9 148.7 335.7 152.3 333.9 155.3 331.6 158.0 328.7 160.3 325.3 161.9 322.0 162.7Z"/>
<path fill-rule="evenodd" fill="#ffff00" d="M322.3 162.1 318.7 162.2 315.3 161.6 312.0 160.2 309.0 158.2 306.3 155.4 304.4 152.3 303.0 149.0 302.3 145.3 302.2 141.3 302.9 137.7 304.1 134.3 306.0 131.0 308.4 128.3 311.3 126.1 314.7 124.6 318.0 123.9 321.3 123.8 324.7 124.5 328.0 126.0 330.7 127.9 333.0 130.5 335.0 133.7 336.2 137.0 337.0 140.7 337.1 144.3 336.6 148.0 335.4 151.7 333.7 154.8 331.3 157.5 328.7 159.7 325.7 161.2 322.3 162.1Z"/>
<path fill-rule="evenodd" fill="#ffe800" d="M323.0 161.3 319.7 161.7 316.3 161.3 313.0 160.1 310.0 158.3 307.3 155.8 305.3 152.9 303.8 149.7 302.9 146.0 302.7 142.3 303.2 138.7 304.3 135.1 306.0 132.0 308.3 129.2 311.0 127.0 314.3 125.3 317.7 124.5 321.0 124.4 324.0 124.9 327.0 126.1 329.9 128.0 332.3 130.5 334.2 133.3 335.6 136.7 336.4 140.0 336.6 143.7 336.2 147.3 335.2 150.7 333.7 153.8 331.7 156.4 329.0 158.7 326.2 160.3 323.0 161.3Z"/>
<path fill-rule="evenodd" fill="#ffd100" d="M321.0 161.0 317.7 160.9 314.7 160.2 311.7 158.7 309.0 156.7 306.7 154.0 305.0 151.0 303.8 147.7 303.3 144.0 303.4 140.3 304.2 137.0 305.6 133.7 307.4 131.0 309.7 128.7 312.7 126.7 315.7 125.5 319.0 125.0 322.3 125.1 325.3 126.0 328.0 127.3 330.7 129.5 332.8 132.0 334.4 135.0 335.5 138.3 336.0 142.0 335.9 145.7 335.2 149.0 334.0 152.1 332.1 155.0 329.7 157.5 327.0 159.3 324.0 160.5 321.0 161.0Z"/>
<path fill-rule="evenodd" fill="#ffb900" d="M321.7 160.3 318.3 160.4 315.3 159.7 312.3 158.4 309.7 156.5 307.4 154.0 305.7 151.1 304.5 148.0 303.9 144.7 303.9 141.3 304.5 138.0 305.7 134.9 307.4 132.0 309.7 129.5 312.3 127.6 315.3 126.3 318.3 125.6 321.7 125.7 324.7 126.4 327.4 127.7 330.0 129.6 332.1 132.0 333.7 134.7 334.9 138.0 335.5 141.3 335.5 144.7 334.9 148.0 333.7 151.3 332.2 154.0 330.0 156.4 327.5 158.3 324.7 159.6 321.7 160.3Z"/>
<path fill-rule="evenodd" fill="#ffa200" d="M321.7 159.7 318.7 159.7 315.7 159.2 312.7 157.9 310.1 156.0 307.9 153.7 306.3 151.0 305.1 148.0 304.5 144.7 304.5 141.3 305.0 138.3 306.3 135.0 307.9 132.3 310.1 130.0 312.7 128.1 315.3 126.9 318.3 126.3 321.3 126.3 324.3 126.9 327.0 128.2 329.5 130.0 331.6 132.3 333.1 135.0 334.3 138.0 334.9 141.3 334.9 144.7 334.3 148.0 333.2 151.0 331.7 153.6 329.7 155.9 327.3 157.7 324.7 159.0 321.7 159.7Z"/>
<path fill-rule="evenodd" fill="#ff8b00" d="M321.3 159.0 318.3 159.0 315.3 158.3 312.7 157.1 310.3 155.3 308.2 153.0 306.7 150.4 305.6 147.3 305.1 144.3 305.1 141.3 305.7 138.3 306.8 135.3 308.5 132.7 310.7 130.4 313.0 128.7 315.7 127.6 318.7 126.9 321.7 127.0 324.3 127.7 327.0 129.0 329.2 130.7 331.2 133.0 332.7 135.5 333.7 138.3 334.3 141.7 334.3 145.0 333.7 148.0 332.7 150.7 331.1 153.3 329.0 155.6 326.7 157.3 324.0 158.5 321.3 159.0Z"/>
<path fill-rule="evenodd" fill="#ff7400" d="M320.7 158.3 317.7 158.2 315.0 157.4 312.7 156.2 310.3 154.4 308.4 152.0 307.0 149.4 306.1 146.7 305.7 143.7 305.9 140.7 306.6 137.7 307.8 135.0 309.4 132.7 311.4 130.7 314.0 129.0 316.7 128.0 319.3 127.7 322.0 127.8 324.7 128.6 327.0 129.8 329.2 131.7 331.0 133.9 332.3 136.4 333.3 139.3 333.7 142.3 333.5 145.3 332.9 148.3 331.7 151.0 330.2 153.3 328.2 155.3 326.0 156.8 323.3 157.9 320.7 158.3Z"/>
<path fill-rule="evenodd" fill="#ff5d00" d="M322.0 157.3 319.3 157.5 316.7 157.1 314.0 156.1 311.9 154.7 309.8 152.7 308.3 150.4 307.3 148.0 306.6 145.0 306.5 142.0 307.0 139.0 307.9 136.3 309.3 134.0 311.1 132.0 313.3 130.3 315.7 129.2 318.3 128.6 321.0 128.5 323.4 129.0 325.7 130.0 328.0 131.6 329.7 133.3 331.2 135.7 332.3 138.3 332.8 141.0 332.9 144.0 332.6 146.7 331.7 149.3 330.5 151.7 328.9 153.7 326.9 155.3 324.4 156.7 322.0 157.3Z"/>
<path fill-rule="evenodd" fill="#ff4600" d="M322.3 156.3 320.0 156.6 317.3 156.3 315.0 155.6 312.7 154.2 310.7 152.3 309.3 150.3 308.2 148.0 307.5 145.3 307.3 142.7 307.6 140.0 308.4 137.3 309.7 135.0 311.3 133.0 313.3 131.4 315.7 130.2 318.0 129.5 320.3 129.4 322.7 129.8 325.0 130.6 327.0 131.9 328.8 133.7 330.2 135.7 331.3 138.0 331.9 140.7 332.1 143.3 331.9 146.0 331.1 148.7 330.0 150.8 328.6 152.7 326.7 154.4 324.7 155.6 322.3 156.3Z"/>
<path fill-rule="evenodd" fill="#ff2e00" d="M321.7 155.4 319.3 155.5 317.0 155.2 314.9 154.3 312.8 153.0 311.2 151.3 309.8 149.3 308.8 147.0 308.3 144.7 308.3 142.0 308.7 139.7 309.5 137.3 310.7 135.3 312.1 133.7 314.0 132.2 316.0 131.2 318.3 130.6 320.7 130.5 322.7 130.9 324.7 131.7 326.7 133.0 328.3 134.7 329.6 136.7 331.0 141.0 331.2 143.7 330.9 146.0 330.1 148.3 329.0 150.5 327.7 152.2 325.9 153.7 324.0 154.7 321.7 155.4Z"/>
<path fill-rule="evenodd" fill="#ff1700" d="M321.7 154.0 319.7 154.2 317.7 154.0 315.7 153.3 313.7 152.0 311.0 148.9 310.0 146.7 309.5 144.7 309.7 140.3 310.4 138.3 311.5 136.3 312.9 134.7 314.6 133.3 316.3 132.4 318.3 131.9 320.3 131.8 322.3 132.1 324.3 133.0 325.9 134.0 327.3 135.4 328.6 137.3 329.9 141.3 329.7 145.7 329.0 147.9 328.1 149.7 325.3 152.5 323.7 153.4 321.7 154.0Z"/>
<path fill-rule="evenodd" fill="#ff0000" d="M320.7 152.4 317.3 152.0 314.3 150.3 312.0 147.3 311.1 144.0 311.4 140.3 313.0 137.1 315.7 134.7 319.0 133.6 322.3 134.0 325.2 135.7 327.3 138.5 328.3 142.0 328.1 145.7 326.5 149.0 323.9 151.3 320.7 152.4Z"/>
<path fill-rule="evenodd" fill="#e80000" d="M320.3 149.3 318.0 149.1 316.0 148.0 314.5 146.0 313.8 143.7 314.0 141.2 315.1 139.0 317.0 137.4 319.3 136.7 321.7 137.0 323.7 138.3 325.0 140.2 325.6 142.7 325.3 145.0 324.3 147.0 322.5 148.7 320.3 149.3Z"/>
</g>
<path fill="none" stroke="#000" stroke-opacity="0.55" stroke-width="0.45" d="M320.7 171.3 315.3 170.9 310.3 169.5 305.7 167.0 301.6 163.7 298.2 159.7 295.5 154.7 293.8 149.3 293.1 144.0 293.4 138.3 294.8 133.0 297.2 128.0 300.3 123.7 304.3 119.9 309.0 117.1 313.7 115.4 319.0 114.7 324.3 115.1 329.0 116.5 333.3 118.9 336.7 122.0 339.9 126.3 342.1 131.3 343.7 137.0 344.3 143.0 344.0 148.7 342.8 154.3 340.9 159.0 338.2 163.0 334.7 166.4 330.3 169.0 325.7 170.7 320.7 171.3"/>
<path fill="none" stroke="#000" stroke-opacity="0.55" stroke-width="0.45" d="M321.3 166.7 317.0 166.5 312.7 165.4 308.7 163.4 305.3 160.8 302.4 157.3 300.1 153.3 298.7 149.0 298.0 144.3 298.2 139.7 299.1 135.3 301.0 131.0 303.4 127.3 306.7 124.1 310.3 121.6 314.3 120.0 318.7 119.3 323.0 119.5 327.0 120.6 330.7 122.5 334.0 125.2 336.8 128.7 338.8 132.7 340.2 137.0 340.9 141.7 340.8 146.3 339.9 151.0 338.3 155.0 336.0 158.7 333.0 161.9 329.7 164.2 325.7 165.9 321.3 166.7"/>
<path fill="none" stroke="#000" stroke-opacity="0.55" stroke-width="0.45" d="M322.3 163.3 318.7 163.5 315.0 162.8 311.4 161.3 308.3 159.2 305.5 156.3 303.4 153.0 301.9 149.3 301.1 145.3 301.1 141.3 301.7 137.3 303.2 133.3 305.3 130.0 308.0 127.0 311.0 124.9 314.3 123.4 318.0 122.6 321.7 122.6 325.1 123.3 328.3 124.7 331.4 127.0 333.9 129.7 335.9 133.0 337.3 136.7 338.1 140.7 338.2 144.7 337.6 148.7 336.4 152.3 334.5 155.7 332.0 158.6 329.0 160.9 325.7 162.5 322.3 163.3"/>
<path fill="none" stroke="#000" stroke-opacity="0.55" stroke-width="0.45" d="M322.7 160.0 319.3 160.3 316.3 159.9 313.3 158.8 310.7 157.1 308.3 154.9 306.3 152.1 304.9 149.0 304.1 145.7 304.0 142.3 304.4 139.0 305.5 135.7 307.1 132.7 309.3 130.0 311.7 128.2 314.6 126.7 317.7 125.9 320.7 125.7 323.7 126.2 326.5 127.3 329.0 129.0 331.3 131.3 333.1 134.0 334.4 137.0 335.2 140.3 335.4 143.7 335.0 147.0 334.0 150.3 332.6 153.0 330.7 155.6 328.3 157.6 325.7 159.1 322.7 160.0"/>
<path fill="none" stroke="#000" stroke-opacity="0.55" stroke-width="0.45" d="M321.7 155.7 317.0 155.5 312.7 153.2 309.7 149.6 308.1 144.7 308.3 139.9 310.3 135.3 313.7 132.0 316.0 130.9 318.3 130.3 323.0 130.7 327.0 132.9 329.9 136.7 331.3 141.3 331.1 146.3 329.2 150.7 325.9 154.0 321.7 155.7"/>
</g>
<clipPath id="c14"><path d="M321.08 186.00C323.56 185.80 326.05 186.50 328.53 187.20C331.02 187.90 333.33 189.00 335.99 190.20C338.65 191.40 341.79 192.80 344.51 194.40C347.23 196.00 350.31 197.90 352.32 199.80C354.33 201.70 355.63 203.60 356.58 205.80C357.53 208.00 357.88 210.50 358.00 213.00C358.12 215.50 357.65 218.30 357.29 220.80C356.94 223.30 357.35 225.10 355.87 228.00C354.39 230.90 351.49 235.50 348.42 238.20C345.34 240.90 341.73 242.90 337.41 244.20C333.09 245.50 327.47 246.20 322.50 246.00C317.53 245.80 311.97 244.70 307.59 243.00C303.21 241.30 299.19 238.45 296.23 235.80C293.27 233.15 291.31 230.40 289.84 227.10C288.37 223.80 287.73 219.15 287.43 216.00C287.12 212.85 287.38 210.60 287.99 208.20C288.61 205.80 289.56 203.65 291.12 201.60C292.68 199.55 295.09 197.40 297.37 195.90C299.64 194.40 302.04 193.85 304.75 192.60C307.46 191.35 310.90 189.50 313.62 188.40C316.35 187.30 318.59 186.20 321.08 186.00Z"/></clipPath>
<g clip-path="url(#c14)"><g filter="url(#bl)">
<rect x="284.0" y="183.0" width="77.0" height="66.0" fill="#0000d0"/>
<path fill-rule="evenodd" fill="#0000e8" d="M361.0 249.0 284.0 249.0 284.0 184.8 285.6 183.0 357.9 183.0 361.0 187.4 361.0 249.0Z"/>
<path fill-rule="evenodd" fill="#0000ff" d="M360.7 249.0 284.4 249.0 284.0 248.4 284.0 190.8 286.1 188.0 290.8 183.0 353.0 183.0 357.3 189.0 361.0 196.4 361.0 248.7 360.7 249.0Z"/>
<path fill-rule="evenodd" fill="#0017ff" d="M356.7 249.0 288.5 249.0 284.0 242.3 284.0 196.9 286.9 192.3 290.4 188.0 295.9 183.0 348.5 183.0 352.2 187.3 355.5 192.7 358.4 199.3 361.0 207.5 361.0 241.2 359.0 245.3 356.7 249.0Z"/>
<path fill-rule="evenodd" fill="#002eff" d="M352.7 249.0 292.4 249.0 287.6 242.7 284.0 235.3 284.0 203.9 285.9 199.7 288.3 195.5 291.2 191.7 294.3 188.3 297.7 185.4 301.0 183.0 343.9 183.0 347.3 186.0 349.7 188.7 351.9 192.0 355.5 199.7 358.6 210.3 360.4 221.7 360.5 229.3 359.2 236.7 358.0 240.3 356.4 243.7 354.2 247.3 352.7 249.0Z"/>
<path fill-rule="evenodd" fill="#0046ff" d="M349.0 249.0 296.3 249.0 293.2 245.7 290.7 242.3 288.7 239.0 285.6 231.7 284.6 227.7 284.0 223.7 284.0 215.6 285.5 208.0 288.4 200.7 292.8 194.0 298.3 188.4 302.3 185.4 306.7 183.0 338.8 183.0 343.3 186.0 347.1 189.7 351.0 195.7 354.2 203.7 356.8 214.3 357.8 224.0 357.4 231.3 355.8 238.0 352.8 244.3 350.4 247.7 349.0 249.0Z"/>
<path fill-rule="evenodd" fill="#005dff" d="M345.3 249.0 300.2 249.0 296.7 245.7 293.6 242.0 289.9 235.7 287.4 228.7 286.4 221.3 286.8 213.7 288.7 206.3 291.9 199.7 296.5 193.7 302.0 188.8 308.0 185.3 314.4 183.0 331.6 183.0 336.3 184.7 340.3 186.9 343.7 189.7 346.8 193.3 350.4 199.7 353.1 207.7 354.9 217.3 355.4 226.0 354.6 233.0 352.7 239.1 349.5 244.7 347.0 247.6 345.3 249.0Z"/>
<path fill-rule="evenodd" fill="#0074ff" d="M341.3 249.0 304.3 249.0 301.2 246.7 298.3 243.9 295.9 241.0 293.7 237.7 290.8 231.3 289.2 224.7 288.9 217.7 289.9 210.7 292.2 204.3 295.8 198.3 300.3 193.3 306.0 189.1 311.3 186.5 317.3 184.9 323.3 184.4 329.3 185.0 334.7 186.6 339.6 189.3 343.7 193.0 346.8 197.3 349.9 204.0 352.0 212.0 353.2 220.7 353.0 228.3 351.8 234.7 349.3 240.4 345.7 245.4 343.0 248.0 341.3 249.0Z"/>
<path fill-rule="evenodd" fill="#008bff" d="M337.3 249.0 308.7 249.0 304.1 246.0 300.1 242.3 296.7 238.0 294.1 233.3 292.0 227.0 291.2 220.7 291.6 214.0 293.4 207.7 296.3 201.7 300.3 196.7 305.0 192.5 310.7 189.3 316.0 187.4 321.7 186.6 327.3 186.9 332.7 188.2 337.3 190.5 341.3 193.6 344.7 197.7 347.2 202.3 349.6 209.0 351.0 216.7 351.4 224.3 350.5 231.0 348.7 236.7 345.8 241.7 342.0 245.8 337.3 249.0Z"/>
<path fill-rule="evenodd" fill="#00a2ff" d="M332.7 249.0 313.4 249.0 310.0 247.5 304.7 243.8 300.3 239.3 296.9 234.0 294.7 228.3 293.6 222.3 293.6 216.3 294.8 210.3 297.2 204.7 300.7 199.5 305.0 195.1 310.0 191.7 315.7 189.4 321.0 188.5 326.3 188.6 331.3 189.7 336.0 191.9 340.0 194.9 343.3 198.7 346.1 203.7 348.1 209.0 349.5 215.7 349.8 222.3 349.2 228.7 347.8 234.0 345.3 239.0 341.7 243.3 337.3 246.8 332.7 249.0Z"/>
<path fill-rule="evenodd" fill="#00b9ff" d="M327.0 249.0 319.0 249.0 316.3 248.4 311.0 246.2 306.3 243.0 302.4 239.0 299.1 234.0 296.8 228.7 295.7 223.0 295.6 217.3 296.5 211.7 298.5 206.3 301.5 201.3 305.4 197.0 310.0 193.6 315.0 191.2 320.3 190.0 325.7 190.0 330.7 191.1 335.3 193.2 339.3 196.3 342.5 200.0 345.2 204.7 347.2 210.3 348.3 216.3 348.6 222.7 347.9 228.3 346.4 233.3 344.0 238.0 340.8 242.0 336.7 245.4 332.0 247.7 327.0 249.0Z"/>
<path fill-rule="evenodd" fill="#00d1ff" d="M325.7 248.0 320.7 248.0 315.7 246.9 311.0 244.8 306.7 241.6 302.9 237.3 300.1 232.7 298.1 227.3 297.2 222.0 297.3 216.3 298.5 210.7 300.5 205.7 303.5 201.0 307.3 197.1 311.7 194.1 316.3 192.1 321.3 191.1 326.3 191.3 331.0 192.5 335.3 194.6 339.3 197.9 342.5 202.0 344.9 206.7 346.6 212.0 347.5 217.7 347.5 223.3 346.6 229.0 344.8 234.0 342.5 238.0 339.0 242.0 335.0 244.9 330.7 246.9 325.7 248.0Z"/>
<path fill-rule="evenodd" fill="#00e8ff" d="M325.7 247.0 320.7 247.0 316.0 245.9 311.3 243.7 307.3 240.7 303.8 236.7 301.1 232.0 299.3 227.0 298.4 221.7 298.5 216.3 299.5 211.3 301.5 206.3 304.4 201.7 308.0 197.9 312.3 194.9 317.0 192.9 321.7 192.1 326.3 192.3 331.0 193.5 335.0 195.6 338.7 198.7 341.9 202.7 344.1 207.0 345.8 212.3 346.6 217.7 346.6 223.3 345.8 228.3 344.2 233.0 341.7 237.3 338.5 241.0 334.7 243.9 330.3 245.9 325.7 247.0Z"/>
<path fill-rule="evenodd" fill="#00ffff" d="M326.3 246.0 321.7 246.2 317.0 245.3 312.7 243.5 308.7 240.7 305.2 237.0 302.5 232.7 300.5 227.7 299.5 222.7 299.5 217.3 300.4 212.0 302.2 207.0 304.9 202.7 308.2 199.0 312.0 196.1 316.3 194.1 321.0 193.1 325.7 193.1 330.0 194.1 334.0 196.0 337.7 198.8 340.7 202.3 343.1 206.7 344.8 211.3 345.8 216.7 345.9 222.0 345.3 227.0 343.8 231.7 341.6 236.0 338.6 239.7 335.0 242.7 330.7 244.9 326.3 246.0Z"/>
<path fill-rule="evenodd" fill="#17ffe8" d="M325.3 245.4 320.7 245.3 316.3 244.3 312.0 242.2 308.4 239.3 305.2 235.7 302.8 231.3 301.1 226.7 300.3 221.7 300.4 216.3 301.5 211.3 303.2 207.0 305.9 202.7 309.3 199.0 313.0 196.5 317.3 194.6 321.7 193.8 326.0 193.9 330.3 195.1 334.3 197.1 337.7 199.9 340.5 203.3 342.8 207.7 344.5 212.7 345.2 217.7 345.2 222.7 344.4 227.7 342.7 232.3 340.4 236.3 337.3 239.8 333.7 242.6 329.7 244.4 325.3 245.4Z"/>
<path fill-rule="evenodd" fill="#2effd1" d="M324.7 244.7 320.3 244.5 316.0 243.4 312.0 241.3 308.4 238.3 305.4 234.7 303.1 230.3 301.7 226.0 301.0 221.0 301.2 216.0 302.2 211.3 304.2 206.7 306.8 202.7 310.1 199.3 314.0 196.7 318.0 195.2 322.3 194.5 326.7 194.8 330.7 196.0 334.3 198.0 337.8 201.0 340.5 204.7 342.7 209.0 344.0 213.7 344.7 218.7 344.5 223.7 343.5 228.3 341.8 232.7 339.5 236.3 336.4 239.7 333.0 242.1 329.0 243.9 324.7 244.7Z"/>
<path fill-rule="evenodd" fill="#46ffb9" d="M324.3 244.0 320.0 243.8 316.0 242.6 312.0 240.5 308.7 237.7 305.8 234.0 303.7 230.0 302.3 225.3 301.7 220.7 301.9 216.0 302.9 211.3 304.8 207.0 307.4 203.0 310.3 200.0 314.0 197.5 318.0 195.9 322.3 195.2 326.3 195.4 330.3 196.6 334.0 198.6 337.3 201.5 340.0 205.0 342.2 209.3 343.5 214.0 344.1 218.7 343.9 223.3 343.0 228.0 341.3 232.3 339.0 236.0 336.0 239.2 332.3 241.7 328.3 243.3 324.3 244.0Z"/>
<path fill-rule="evenodd" fill="#5dffa2" d="M324.7 243.4 320.3 243.2 316.3 242.1 312.7 240.2 309.3 237.4 306.6 234.0 304.4 230.0 303.0 225.7 302.3 221.0 302.5 216.3 303.5 211.7 305.3 207.3 307.7 203.7 310.7 200.6 314.3 198.0 318.3 196.4 322.3 195.8 326.3 196.1 330.3 197.3 334.0 199.3 337.0 202.0 339.5 205.3 341.6 209.3 342.9 213.7 343.5 218.3 343.4 223.0 342.5 227.7 340.9 231.7 338.7 235.4 335.7 238.6 332.3 241.0 328.7 242.6 324.7 243.4Z"/>
<path fill-rule="evenodd" fill="#74ff8b" d="M325.0 242.7 321.0 242.7 317.0 241.7 313.3 239.9 310.0 237.2 307.3 234.0 305.0 230.0 303.6 225.7 302.9 221.3 303.0 216.7 303.9 212.3 305.6 208.0 307.9 204.3 311.0 201.1 314.3 198.7 318.0 197.2 322.0 196.5 326.0 196.6 329.7 197.7 333.3 199.6 336.3 202.1 338.9 205.3 341.0 209.3 342.4 213.7 343.0 218.0 342.9 222.7 342.1 227.0 340.6 231.0 338.5 234.7 335.7 237.8 332.3 240.3 328.7 241.9 325.0 242.7Z"/>
<path fill-rule="evenodd" fill="#8bff74" d="M325.7 242.0 321.7 242.1 318.0 241.4 314.3 239.8 311.0 237.3 308.2 234.3 306.0 230.7 304.4 226.7 303.5 222.0 303.5 217.3 304.3 213.0 305.7 209.0 308.0 205.2 310.8 202.0 314.0 199.6 317.7 197.9 321.7 197.1 325.3 197.2 329.0 198.0 332.7 199.9 335.7 202.3 338.2 205.3 340.3 209.0 341.7 213.0 342.4 217.3 342.5 221.7 341.8 226.0 340.5 230.0 338.5 233.7 336.0 236.7 332.8 239.3 329.3 241.1 325.7 242.0Z"/>
<path fill-rule="evenodd" fill="#a2ff5d" d="M326.0 241.4 322.0 241.6 318.3 240.9 315.0 239.5 311.7 237.2 308.9 234.3 306.6 230.7 305.0 226.7 304.1 222.3 304.0 218.0 304.7 213.7 306.0 209.7 308.1 206.0 310.7 202.9 314.0 200.3 317.7 198.5 321.3 197.7 325.0 197.7 328.7 198.5 332.0 200.1 335.0 202.4 337.6 205.3 339.7 208.9 341.1 212.7 341.9 217.0 342.0 221.3 341.4 225.3 340.2 229.3 338.3 233.0 335.9 236.0 333.0 238.5 329.7 240.3 326.0 241.4Z"/>
<path fill-rule="evenodd" fill="#b9ff46" d="M323.7 241.0 320.0 240.7 316.3 239.5 313.0 237.5 310.2 235.0 307.8 231.7 306.0 228.0 304.9 224.0 304.5 220.0 304.8 215.7 305.8 211.7 307.5 208.0 309.8 204.7 312.7 201.9 316.0 199.8 319.3 198.7 323.0 198.2 326.7 198.6 330.0 199.7 333.3 201.7 336.0 204.2 338.2 207.3 340.0 211.0 341.1 215.0 341.5 219.3 341.3 223.3 340.4 227.3 338.8 231.0 336.7 234.3 334.0 237.0 330.7 239.2 327.3 240.5 323.7 241.0Z"/>
<path fill-rule="evenodd" fill="#d1ff2e" d="M324.7 240.4 321.0 240.3 317.7 239.4 314.3 237.8 311.3 235.4 308.8 232.3 307.0 229.0 305.6 225.0 305.1 221.0 305.2 217.0 306.0 212.8 307.5 209.0 309.7 205.7 312.3 202.9 315.3 200.8 318.7 199.4 322.3 198.8 326.0 199.0 329.3 200.0 332.3 201.7 335.1 204.0 337.4 207.0 339.2 210.3 340.4 214.3 341.0 218.3 340.9 222.3 340.2 226.3 338.8 230.0 336.7 233.3 334.3 236.0 331.3 238.2 328.0 239.7 324.7 240.4Z"/>
<path fill-rule="evenodd" fill="#e8ff17" d="M325.3 239.7 321.7 239.8 318.3 239.1 315.0 237.5 312.1 235.3 309.7 232.6 307.7 229.2 306.3 225.7 305.6 221.7 305.6 217.7 306.3 213.7 307.6 210.0 309.7 206.6 312.3 203.7 315.3 201.5 318.7 200.0 322.0 199.4 325.3 199.5 328.7 200.4 331.7 201.9 334.3 204.0 336.7 206.8 338.5 210.0 339.8 213.7 340.5 217.7 340.5 221.7 339.9 225.3 338.7 229.0 336.8 232.3 334.3 235.2 331.7 237.3 328.7 238.8 325.3 239.7Z"/>
<path fill-rule="evenodd" fill="#ffff00" d="M325.7 239.0 322.3 239.2 319.0 238.6 315.7 237.2 312.7 235.1 310.3 232.6 308.3 229.3 306.9 225.7 306.2 222.0 306.1 218.0 306.7 214.3 307.9 210.7 309.8 207.3 312.3 204.4 315.0 202.3 318.3 200.8 321.7 200.0 325.0 200.1 328.0 200.8 331.0 202.2 333.8 204.3 336.1 207.0 337.9 210.0 339.2 213.7 339.9 217.3 340.0 221.3 339.4 225.0 338.3 228.4 336.7 231.6 334.3 234.5 331.7 236.6 328.7 238.2 325.7 239.0Z"/>
<path fill-rule="evenodd" fill="#ffe800" d="M326.0 238.3 322.7 238.6 319.3 238.1 316.3 236.9 313.4 235.0 311.0 232.5 309.0 229.5 307.6 226.0 306.8 222.3 306.6 218.3 307.2 214.7 308.3 211.1 310.0 208.0 312.3 205.2 315.0 203.1 318.0 201.5 321.3 200.7 324.7 200.7 327.7 201.3 330.7 202.7 333.3 204.7 335.7 207.3 337.3 210.1 338.6 213.3 339.4 217.0 339.5 220.7 339.1 224.3 338.0 227.8 336.4 231.0 334.3 233.7 331.7 235.9 329.0 237.4 326.0 238.3Z"/>
<path fill-rule="evenodd" fill="#ffd100" d="M326.0 237.7 322.7 238.0 319.7 237.5 316.7 236.4 314.0 234.7 311.6 232.3 309.6 229.3 308.1 226.0 307.3 222.3 307.2 218.7 307.6 215.0 308.7 211.7 310.5 208.3 312.7 205.7 315.3 203.6 318.3 202.1 321.3 201.3 324.3 201.3 327.3 201.8 330.3 203.2 332.8 205.0 335.0 207.3 336.8 210.3 338.1 213.7 338.8 217.0 339.0 220.7 338.6 224.0 337.6 227.3 336.0 230.5 334.0 233.1 331.7 235.2 329.0 236.7 326.0 237.7Z"/>
<path fill-rule="evenodd" fill="#ffb900" d="M326.0 237.0 322.7 237.3 319.7 236.9 316.7 235.7 314.2 234.0 311.8 231.7 310.0 228.9 308.6 225.7 307.9 222.3 307.7 218.7 308.2 215.3 309.2 212.0 310.8 209.0 312.9 206.3 315.3 204.3 318.3 202.8 321.3 202.0 324.3 201.9 327.0 202.4 329.9 203.7 332.3 205.4 334.5 207.7 336.3 210.6 337.5 213.7 338.3 217.0 338.4 220.7 338.0 224.0 337.1 227.0 335.7 229.9 333.7 232.6 331.3 234.7 328.7 236.2 326.0 237.0Z"/>
<path fill-rule="evenodd" fill="#ffa200" d="M325.7 236.4 322.7 236.6 319.7 236.1 317.0 235.1 314.4 233.3 312.1 231.0 310.4 228.3 309.2 225.3 308.4 222.0 308.3 218.7 308.8 215.3 309.7 212.3 311.3 209.3 313.5 206.7 316.0 204.7 318.7 203.4 321.7 202.7 324.7 202.7 327.3 203.3 330.0 204.5 332.3 206.3 334.3 208.5 336.0 211.3 337.1 214.3 337.7 217.3 337.8 220.7 337.4 224.0 336.5 227.0 335.0 229.8 333.3 232.0 331.0 234.1 328.3 235.6 325.7 236.4Z"/>
<path fill-rule="evenodd" fill="#ff8b00" d="M325.3 235.7 322.3 235.9 319.5 235.3 316.7 234.1 314.3 232.4 312.3 230.2 310.7 227.4 309.6 224.7 309.0 221.3 309.0 218.0 309.5 215.0 310.6 212.0 312.1 209.3 314.0 207.1 316.3 205.3 319.0 204.0 322.0 203.4 324.7 203.4 327.3 204.0 329.7 205.1 332.0 206.9 334.0 209.2 335.4 211.7 336.6 214.7 337.1 217.7 337.2 221.0 336.7 224.0 335.8 227.0 334.3 229.6 332.4 232.0 330.3 233.7 328.0 234.9 325.3 235.7Z"/>
<path fill-rule="evenodd" fill="#ff7400" d="M324.3 235.0 321.7 235.0 319.0 234.3 316.4 233.0 314.3 231.3 312.4 229.0 311.0 226.4 310.1 223.7 309.6 220.7 309.7 217.7 310.3 214.7 311.4 212.0 313.0 209.4 315.0 207.3 317.3 205.7 319.7 204.7 322.3 204.2 325.0 204.3 327.6 205.0 330.0 206.3 332.0 208.0 333.7 210.0 335.1 212.7 336.1 215.7 336.5 218.7 336.4 221.7 335.8 224.7 334.8 227.3 333.3 229.8 331.6 231.7 329.3 233.4 327.0 234.4 324.3 235.0Z"/>
<path fill-rule="evenodd" fill="#ff5d00" d="M325.0 234.0 322.3 234.1 320.0 233.7 317.5 232.7 315.3 231.1 313.4 229.0 312.0 226.7 311.0 224.1 310.5 221.3 310.4 218.3 310.9 215.3 311.9 212.7 313.3 210.3 315.1 208.3 317.3 206.7 319.7 205.6 322.0 205.1 324.3 205.1 326.9 205.7 329.0 206.7 331.2 208.3 332.9 210.3 334.3 212.7 335.2 215.3 335.7 218.0 335.7 221.0 335.3 223.6 334.6 226.0 333.3 228.4 331.7 230.5 329.7 232.1 327.3 233.4 325.0 234.0Z"/>
<path fill-rule="evenodd" fill="#ff4600" d="M324.7 233.0 322.3 233.1 320.0 232.7 317.7 231.6 315.7 230.1 314.0 228.3 312.7 226.0 311.8 223.7 311.3 221.0 311.3 218.3 311.8 215.7 312.7 213.2 314.0 210.9 315.7 209.1 317.7 207.6 320.0 206.5 322.3 206.1 324.7 206.2 327.0 206.8 329.0 207.8 330.9 209.3 332.3 211.1 333.6 213.3 334.4 215.7 334.9 218.3 334.9 221.0 334.4 223.7 333.6 226.0 332.3 228.2 330.8 230.0 329.0 231.4 327.0 232.4 324.7 233.0Z"/>
<path fill-rule="evenodd" fill="#ff2e00" d="M325.3 231.7 323.3 231.9 321.0 231.7 319.0 231.0 317.0 229.8 315.3 228.2 314.0 226.3 313.0 224.1 312.4 221.7 312.3 219.0 312.6 216.7 313.3 214.3 314.4 212.3 316.0 210.3 317.6 209.0 319.7 207.9 321.7 207.4 323.7 207.3 325.8 207.7 327.7 208.4 329.5 209.7 332.2 213.0 333.7 217.3 333.9 219.7 333.7 222.3 333.0 224.7 332.0 226.7 330.7 228.5 329.0 230.0 327.3 231.0 325.3 231.7Z"/>
<path fill-rule="evenodd" fill="#ff1700" d="M323.7 230.3 320.0 229.8 316.8 227.7 314.5 224.3 313.6 220.3 314.0 216.3 314.8 214.3 316.0 212.4 319.0 209.9 320.7 209.2 322.7 208.9 324.7 209.0 326.3 209.5 328.0 210.4 329.5 211.7 331.7 215.0 332.6 219.0 332.1 223.0 330.3 226.7 329.0 228.1 327.3 229.3 325.6 230.0 323.7 230.3Z"/>
<path fill-rule="evenodd" fill="#ff0000" d="M324.0 228.0 321.0 227.8 318.3 226.2 316.3 223.6 315.5 220.3 315.8 217.0 317.3 214.0 319.7 212.0 322.7 211.1 325.7 211.6 328.0 213.1 329.8 215.7 330.7 219.0 330.3 222.3 329.0 225.0 326.7 227.1 324.0 228.0Z"/>
<path fill-rule="evenodd" fill="#e80000" d="M323.3 223.0 322.0 222.8 321.0 222.2 320.3 221.3 319.8 220.0 319.9 218.7 320.6 217.3 321.7 216.5 322.7 216.2 324.0 216.3 325.1 217.0 325.9 218.0 326.3 219.3 326.1 220.7 325.6 221.7 324.7 222.6 323.3 223.0Z"/>
</g>
<path fill="none" stroke="#000" stroke-opacity="0.55" stroke-width="0.45" d="M325.0 248.4 319.7 248.2 314.7 246.8 310.0 244.5 306.0 241.3 302.5 237.3 299.5 232.3 297.6 227.0 296.8 221.3 296.9 216.0 298.2 210.3 300.5 205.0 303.7 200.3 307.7 196.4 312.0 193.6 317.0 191.6 322.0 190.8 327.0 191.1 331.7 192.4 336.0 194.7 339.8 198.0 343.0 202.3 345.4 207.3 347.1 213.0 347.8 218.7 347.6 224.7 346.6 230.0 344.8 234.7 342.1 239.0 338.7 242.7 334.7 245.4 330.0 247.4 325.0 248.4"/>
<path fill="none" stroke="#000" stroke-opacity="0.55" stroke-width="0.45" d="M326.0 243.7 321.7 243.8 317.7 243.1 313.7 241.3 310.0 238.7 306.9 235.3 304.5 231.3 302.8 227.0 302.0 222.3 301.9 217.3 302.7 212.7 304.3 208.3 306.6 204.3 309.7 200.8 313.3 198.1 317.3 196.2 321.3 195.4 325.3 195.4 329.3 196.4 333.0 198.1 336.3 200.7 339.2 204.0 341.5 208.0 343.0 212.3 343.8 217.0 343.9 221.7 343.3 226.3 341.9 230.7 339.7 234.7 337.0 238.0 333.7 240.7 330.0 242.6 326.0 243.7"/>
<path fill="none" stroke="#000" stroke-opacity="0.55" stroke-width="0.45" d="M325.7 240.4 322.0 240.5 318.3 239.8 315.0 238.3 312.0 236.2 309.4 233.3 307.3 230.0 305.8 226.0 305.0 222.0 305.0 217.7 305.6 213.7 307.0 209.8 309.0 206.3 311.6 203.3 314.7 201.0 318.0 199.5 321.7 198.7 325.3 198.8 328.7 199.6 332.0 201.3 334.7 203.4 337.1 206.3 339.0 209.7 340.3 213.3 341.0 217.3 341.1 221.3 340.5 225.3 339.2 229.3 337.4 232.7 335.0 235.6 332.3 237.7 329.0 239.5 325.7 240.4"/>
<path fill="none" stroke="#000" stroke-opacity="0.55" stroke-width="0.45" d="M325.0 237.0 322.0 237.1 319.0 236.5 316.3 235.3 313.6 233.3 311.3 230.7 309.7 228.0 308.5 224.7 307.9 221.3 307.9 217.7 308.6 214.3 309.7 211.3 311.4 208.3 313.7 205.8 316.2 204.0 319.0 202.7 322.0 202.1 325.0 202.2 328.0 202.9 330.7 204.3 333.0 206.2 335.0 208.7 336.7 211.7 338.2 218.0 338.2 221.3 337.7 224.7 336.7 227.7 335.0 230.7 333.0 233.0 330.5 235.0 327.8 236.3 325.0 237.0"/>
<path fill="none" stroke="#000" stroke-opacity="0.55" stroke-width="0.45" d="M325.3 232.0 321.0 232.0 316.8 230.0 313.7 226.3 312.1 221.7 312.3 216.7 314.2 212.0 317.6 208.7 321.7 207.1 325.8 207.3 329.7 209.4 332.6 213.0 334.0 217.3 333.9 222.3 332.3 226.7 329.3 230.1 325.3 232.0"/>
</g>
<clipPath id="c15"><path d="M321.08 261.50C323.56 261.30 326.05 262.00 328.53 262.70C331.02 263.40 333.33 264.50 335.99 265.70C338.65 266.90 341.79 268.30 344.51 269.90C347.23 271.50 350.31 273.40 352.32 275.30C354.33 277.20 355.63 279.10 356.58 281.30C357.53 283.50 357.88 286.00 358.00 288.50C358.12 291.00 357.65 293.80 357.29 296.30C356.94 298.80 357.35 300.60 355.87 303.50C354.39 306.40 351.49 311.00 348.42 313.70C345.34 316.40 341.73 318.40 337.41 319.70C333.09 321.00 327.47 321.70 322.50 321.50C317.53 321.30 311.97 320.20 307.59 318.50C303.21 316.80 299.19 313.95 296.23 311.30C293.27 308.65 291.31 305.90 289.84 302.60C288.37 299.30 287.73 294.65 287.43 291.50C287.12 288.35 287.38 286.10 287.99 283.70C288.61 281.30 289.56 279.15 291.12 277.10C292.68 275.05 295.09 272.90 297.37 271.40C299.64 269.90 302.04 269.35 304.75 268.10C307.46 266.85 310.90 265.00 313.62 263.90C316.35 262.80 318.59 261.70 321.08 261.50Z"/></clipPath>
<g clip-path="url(#c15)"><g filter="url(#bl)">
<rect x="284.0" y="258.5" width="77.0" height="66.0" fill="#0000b6"/>
<path fill-rule="evenodd" fill="#0000d1" d="M361.0 324.5 284.0 324.5 284.0 258.5 356.4 258.5 357.9 262.5 359.1 266.8 361.0 280.0 361.0 324.5Z"/>
<path fill-rule="evenodd" fill="#0000e8" d="M358.3 324.5 284.0 324.5 284.0 258.5 351.3 258.5 353.1 262.5 354.4 267.2 357.3 287.5 361.0 301.8 361.0 318.2 359.5 322.5 358.6 324.5 358.3 324.5Z"/>
<path fill-rule="evenodd" fill="#0000ff" d="M354.0 324.5 284.0 324.5 284.0 259.5 285.0 258.5 347.2 258.5 349.9 263.8 351.8 270.2 354.6 289.2 357.5 305.8 357.8 311.2 357.2 315.8 355.9 320.5 354.0 324.5Z"/>
<path fill-rule="evenodd" fill="#0017ff" d="M350.0 324.5 284.0 324.5 284.0 264.3 286.3 261.8 289.9 258.5 343.3 258.5 345.3 261.2 347.0 264.2 348.3 267.5 349.5 271.5 350.9 278.8 354.3 303.2 354.6 309.5 354.0 315.2 352.3 320.5 350.8 323.5 350.0 324.5Z"/>
<path fill-rule="evenodd" fill="#002eff" d="M346.3 324.5 287.8 324.5 287.0 323.6 284.0 319.9 284.0 269.1 286.9 265.5 290.2 262.2 294.9 258.5 339.3 258.5 341.3 260.5 343.4 263.2 345.1 266.2 346.5 269.5 347.7 273.5 349.8 284.5 351.9 301.5 352.0 308.8 351.2 314.8 349.1 320.5 347.1 323.8 346.3 324.5Z"/>
<path fill-rule="evenodd" fill="#0046ff" d="M343.0 324.5 291.7 324.5 287.7 320.2 284.0 314.8 284.0 274.2 288.3 268.0 293.7 262.8 297.0 260.4 300.3 258.5 334.7 258.5 338.0 260.9 340.8 263.8 342.6 266.5 344.2 269.5 346.6 276.8 348.8 288.8 349.9 301.5 349.7 308.8 348.6 314.8 346.3 320.2 343.0 324.5Z"/>
<path fill-rule="evenodd" fill="#005dff" d="M339.3 324.5 295.7 324.5 291.4 320.5 287.7 315.9 285.7 312.5 284.0 309.0 284.0 280.0 286.4 275.2 289.6 270.5 293.4 266.5 297.7 263.1 302.3 260.4 307.1 258.5 328.5 258.5 332.3 260.1 335.6 262.2 338.3 264.6 340.7 267.6 342.4 270.5 343.8 273.8 346.2 282.2 347.8 292.5 348.2 302.5 347.6 309.5 345.9 315.5 343.0 320.7 341.0 323.0 339.3 324.5Z"/>
<path fill-rule="evenodd" fill="#0074ff" d="M335.3 324.5 300.0 324.5 296.3 321.9 293.1 318.8 290.4 315.5 288.1 311.8 285.5 306.2 284.0 299.8 284.0 289.2 284.9 284.8 287.4 278.5 291.1 272.5 296.0 267.4 301.7 263.5 307.3 261.0 313.0 259.6 319.0 259.3 324.7 260.0 330.0 261.7 334.3 264.2 338.0 267.6 341.0 271.8 343.9 278.8 345.9 287.2 346.8 296.2 346.5 304.5 345.2 311.2 343.0 316.5 339.5 321.2 337.0 323.5 335.3 324.5Z"/>
<path fill-rule="evenodd" fill="#008bff" d="M331.0 324.5 304.5 324.5 299.3 321.4 295.0 317.5 291.1 312.5 288.4 307.2 286.5 300.8 285.9 294.2 286.6 287.8 288.5 281.5 291.5 275.8 295.7 270.8 300.7 266.7 306.3 263.7 311.7 262.1 317.3 261.4 323.0 261.9 328.3 263.3 332.7 265.6 336.6 268.8 339.7 272.9 342.2 277.8 344.3 284.5 345.5 292.5 345.6 300.2 344.6 307.2 342.7 312.9 339.7 317.8 335.7 321.7 333.0 323.6 331.0 324.5Z"/>
<path fill-rule="evenodd" fill="#00a2ff" d="M326.3 324.5 309.6 324.5 303.3 321.8 298.3 318.1 294.1 313.5 290.9 308.2 288.9 302.5 288.0 296.5 288.2 290.2 289.6 284.2 292.2 278.5 295.7 273.5 300.3 269.2 305.7 266.0 311.0 264.1 316.3 263.3 322.0 263.5 327.3 264.9 332.0 267.2 335.7 270.2 338.9 274.2 341.5 279.2 343.4 284.8 344.5 291.5 344.7 298.5 343.9 304.8 342.1 310.5 339.5 315.2 336.0 319.2 331.3 322.4 326.3 324.5Z"/>
<path fill-rule="evenodd" fill="#00b9ff" d="M320.7 324.2 315.0 324.1 309.7 323.0 304.3 320.6 299.7 317.3 295.8 313.2 292.7 308.2 290.6 302.5 289.6 296.8 289.7 291.2 290.9 285.5 293.2 279.8 296.3 275.2 300.3 271.1 305.0 268.0 310.3 265.8 316.0 264.8 321.3 264.9 326.7 266.2 331.3 268.4 335.3 271.7 338.6 275.8 341.2 280.8 342.9 286.5 343.8 292.5 343.8 298.8 343.0 304.5 341.1 309.8 338.6 314.2 335.3 317.8 331.0 320.9 326.0 323.1 320.7 324.2Z"/>
<path fill-rule="evenodd" fill="#00d1ff" d="M321.7 322.9 316.3 323.1 311.0 322.2 306.0 320.2 301.4 317.2 297.4 313.2 294.5 308.8 292.2 303.5 291.0 298.2 290.9 292.5 291.8 286.8 293.8 281.5 296.6 276.8 300.3 272.7 304.7 269.5 309.7 267.2 315.0 266.0 320.3 266.0 325.3 267.0 330.0 269.0 334.0 271.8 337.3 275.5 339.8 279.8 341.8 285.2 342.9 290.8 343.2 296.8 342.6 302.5 341.0 307.8 338.5 312.5 335.3 316.3 331.3 319.4 326.7 321.6 321.7 322.9Z"/>
<path fill-rule="evenodd" fill="#00e8ff" d="M321.7 321.9 316.7 322.1 311.7 321.3 306.7 319.4 302.3 316.6 298.4 312.8 295.5 308.5 293.3 303.5 292.1 298.2 291.9 292.5 292.8 287.2 294.6 282.2 297.4 277.5 301.0 273.5 305.3 270.3 310.0 268.2 315.0 267.0 320.0 266.9 325.0 267.9 329.3 269.7 333.3 272.5 336.5 275.8 339.1 280.2 341.1 285.2 342.3 290.8 342.5 296.5 341.9 302.2 340.3 307.2 338.1 311.5 335.0 315.2 331.0 318.4 326.3 320.7 321.7 321.9Z"/>
<path fill-rule="evenodd" fill="#00ffff" d="M320.3 321.2 315.3 321.1 310.3 320.0 305.7 317.9 301.7 314.9 298.2 311.2 295.4 306.5 293.6 301.5 292.8 296.5 292.9 291.2 294.1 285.8 296.1 281.2 299.0 276.8 302.7 273.2 307.0 270.4 311.7 268.6 316.3 267.8 321.3 267.9 326.0 269.1 330.3 271.3 334.0 274.2 337.0 277.8 339.3 282.2 341.0 287.2 341.8 292.5 341.8 297.8 340.9 303.2 339.2 307.8 336.9 311.8 333.7 315.4 329.7 318.2 325.0 320.2 320.3 321.2Z"/>
<path fill-rule="evenodd" fill="#17ffe8" d="M319.0 320.5 314.3 320.2 309.7 319.0 305.3 316.8 301.3 313.6 298.2 309.8 295.8 305.5 294.2 300.5 293.5 295.5 293.8 290.5 295.0 285.5 297.2 280.8 300.0 276.8 303.7 273.4 308.0 270.8 312.7 269.1 317.3 268.5 322.0 268.8 326.7 270.2 330.7 272.4 334.3 275.5 337.1 279.2 339.3 283.8 340.8 288.8 341.3 294.2 341.1 299.2 340.0 304.2 338.1 308.5 335.4 312.5 332.0 315.8 328.0 318.2 323.7 319.8 319.0 320.5Z"/>
<path fill-rule="evenodd" fill="#2effd1" d="M321.7 319.5 317.0 319.8 312.3 319.1 308.0 317.5 304.0 315.0 300.4 311.5 297.6 307.5 295.5 302.8 294.5 298.2 294.2 293.2 295.0 288.2 296.6 283.5 299.1 279.2 302.3 275.5 306.0 272.6 310.3 270.5 315.0 269.4 319.7 269.2 324.0 270.0 328.3 271.8 332.0 274.3 335.1 277.5 337.7 281.5 339.4 285.8 340.5 290.8 340.8 296.2 340.2 301.2 338.7 305.8 336.6 309.8 333.7 313.4 330.0 316.3 326.0 318.3 321.7 319.5Z"/>
<path fill-rule="evenodd" fill="#46ffb9" d="M321.7 318.8 317.0 319.1 312.7 318.5 308.3 316.9 304.3 314.4 300.9 311.2 298.1 307.2 296.2 302.8 295.1 298.2 294.9 293.2 295.5 288.5 297.1 283.8 299.4 279.8 302.5 276.2 306.3 273.2 310.7 271.1 315.0 270.1 319.7 269.9 324.0 270.7 328.0 272.3 331.7 274.8 334.7 277.9 337.2 281.8 339.0 286.2 340.0 290.8 340.3 295.8 339.7 300.5 338.4 305.2 336.3 309.2 333.3 312.8 330.0 315.5 326.0 317.6 321.7 318.8Z"/>
<path fill-rule="evenodd" fill="#5dffa2" d="M319.0 318.5 314.7 318.3 310.3 317.1 306.3 315.1 302.7 312.2 299.7 308.5 297.5 304.5 296.1 300.2 295.5 295.5 295.7 290.8 296.9 286.2 298.8 281.8 301.5 278.2 304.7 275.1 308.7 272.6 313.0 271.1 317.3 270.5 321.7 270.8 326.0 272.1 329.7 274.0 333.0 276.9 335.8 280.5 337.8 284.5 339.2 289.2 339.8 293.8 339.5 298.5 338.5 303.2 336.8 307.2 334.3 310.8 331.0 314.1 327.3 316.4 323.3 317.9 319.0 318.5Z"/>
<path fill-rule="evenodd" fill="#74ff8b" d="M320.0 317.8 315.7 317.8 311.7 316.9 307.7 315.2 303.9 312.5 300.9 309.2 298.4 305.2 296.9 300.8 296.1 296.5 296.2 291.8 297.1 287.2 299.0 282.8 301.3 279.2 304.3 276.2 308.0 273.6 312.0 272.0 316.3 271.1 320.7 271.2 324.7 272.2 328.3 273.9 331.8 276.5 334.7 279.7 336.8 283.5 338.4 287.8 339.2 292.5 339.2 297.2 338.4 301.5 336.9 305.8 334.7 309.5 331.7 312.8 328.3 315.2 324.3 316.9 320.0 317.8Z"/>
<path fill-rule="evenodd" fill="#8bff74" d="M320.7 317.2 316.3 317.3 312.3 316.5 308.3 314.9 304.8 312.5 301.8 309.5 299.4 305.8 297.6 301.5 296.7 297.2 296.7 292.5 297.4 288.2 299.1 283.8 301.3 280.2 304.3 276.9 308.0 274.3 312.0 272.6 316.0 271.7 320.3 271.8 324.3 272.7 328.0 274.3 331.3 276.8 334.1 279.8 336.3 283.5 337.9 287.8 338.7 292.2 338.7 296.8 338.0 301.2 336.6 305.2 334.5 308.8 331.7 312.0 328.3 314.5 324.7 316.2 320.7 317.2Z"/>
<path fill-rule="evenodd" fill="#a2ff5d" d="M321.3 316.5 317.0 316.8 313.0 316.1 309.0 314.6 305.7 312.5 302.7 309.6 300.2 306.2 298.4 302.2 297.4 297.8 297.1 293.5 297.7 289.2 299.2 284.8 301.3 281.1 304.1 277.8 307.6 275.2 311.3 273.4 315.3 272.4 319.3 272.3 323.3 273.0 327.0 274.4 330.3 276.7 333.1 279.5 335.4 282.8 337.1 286.8 338.1 291.2 338.3 295.8 337.7 300.2 336.5 304.2 334.5 307.8 332.0 310.9 328.7 313.6 325.0 315.5 321.3 316.5Z"/>
<path fill-rule="evenodd" fill="#b9ff46" d="M319.3 316.2 315.3 316.0 311.3 315.0 307.7 313.2 304.6 310.8 301.9 307.8 299.8 304.2 298.4 300.2 297.7 295.8 297.8 291.5 298.7 287.5 300.5 283.5 302.7 280.2 305.7 277.2 309.0 275.0 313.0 273.4 317.0 272.8 321.0 273.0 324.7 274.0 328.3 275.8 331.3 278.3 334.0 281.5 335.9 285.2 337.2 289.2 337.8 293.5 337.6 297.8 336.8 301.8 335.3 305.5 333.0 309.0 330.2 311.8 327.0 314.0 323.3 315.5 319.3 316.2Z"/>
<path fill-rule="evenodd" fill="#d1ff2e" d="M320.3 315.5 316.3 315.6 312.7 314.9 309.0 313.4 305.7 311.1 302.9 308.2 300.5 304.5 299.0 300.5 298.3 296.5 298.3 292.2 299.1 288.2 300.7 284.2 302.9 280.8 305.7 277.9 309.0 275.6 312.7 274.1 316.3 273.4 320.3 273.5 324.0 274.3 327.3 275.9 330.4 278.2 333.0 281.0 335.1 284.5 336.5 288.5 337.2 292.5 337.2 296.8 336.6 300.8 335.2 304.5 333.2 307.8 330.7 310.7 327.7 313.0 324.0 314.7 320.3 315.5Z"/>
<path fill-rule="evenodd" fill="#e8ff17" d="M321.0 314.9 317.0 315.1 313.3 314.5 309.8 313.2 306.6 311.2 303.8 308.5 301.5 305.2 299.8 301.5 298.9 297.5 298.7 293.5 299.3 289.3 300.6 285.5 302.7 282.0 305.3 278.9 308.3 276.7 312.0 274.9 315.7 274.0 319.3 273.9 323.0 274.6 326.7 276.1 329.6 278.2 332.2 280.8 334.3 284.1 335.7 287.5 336.6 291.5 336.8 295.5 336.3 299.6 335.1 303.5 333.3 306.8 330.8 309.8 328.0 312.1 324.7 313.9 321.0 314.9Z"/>
<path fill-rule="evenodd" fill="#ffff00" d="M319.3 314.5 315.7 314.4 312.0 313.5 308.7 311.9 305.7 309.6 303.2 306.8 301.2 303.5 299.9 299.8 299.3 295.8 299.4 291.8 300.3 287.8 301.9 284.2 304.0 281.2 306.7 278.5 310.0 276.4 313.3 275.1 317.0 274.5 320.7 274.6 324.3 275.6 327.4 277.2 330.3 279.5 332.8 282.5 334.6 285.8 335.8 289.5 336.3 293.5 336.2 297.5 335.4 301.2 334.0 304.6 331.9 307.8 329.3 310.4 326.3 312.5 323.0 313.8 319.3 314.5Z"/>
<path fill-rule="evenodd" fill="#ffe800" d="M320.3 313.8 316.7 313.9 313.0 313.2 309.7 311.8 306.7 309.8 304.0 307.0 302.0 303.8 300.5 300.2 299.9 296.5 299.9 292.5 300.5 288.8 302.0 285.2 303.9 282.2 306.4 279.5 309.3 277.4 312.7 275.9 316.3 275.1 320.0 275.1 323.3 275.9 326.3 277.2 329.3 279.3 331.7 281.9 333.7 285.2 335.0 288.6 335.7 292.5 335.8 296.5 335.2 300.2 334.0 303.5 332.0 306.8 329.7 309.4 326.9 311.5 323.7 313.0 320.3 313.8Z"/>
<path fill-rule="evenodd" fill="#ffd100" d="M320.7 313.2 317.0 313.4 313.7 312.8 310.3 311.5 307.3 309.6 304.7 306.9 302.7 303.9 301.2 300.5 300.4 296.8 300.3 293.2 300.9 289.5 302.3 285.8 304.1 282.8 306.5 280.2 309.3 278.0 312.7 276.5 316.0 275.7 319.3 275.6 322.7 276.3 325.7 277.5 328.7 279.5 331.0 281.9 333.0 285.0 334.3 288.2 335.1 291.8 335.3 295.5 334.8 299.2 333.7 302.8 332.0 305.8 329.7 308.7 327.0 310.8 324.0 312.3 320.7 313.2Z"/>
<path fill-rule="evenodd" fill="#ffb900" d="M321.0 312.5 317.7 312.8 314.3 312.4 311.0 311.2 308.0 309.4 305.3 306.8 303.3 304.0 301.9 300.8 301.0 297.2 300.9 293.5 301.4 290.2 302.6 286.5 304.3 283.5 306.6 280.8 309.3 278.7 312.3 277.2 315.7 276.4 319.0 276.2 322.3 276.8 325.3 278.0 328.0 279.7 330.3 282.0 332.3 284.8 333.7 287.9 334.6 291.5 334.8 295.2 334.4 298.8 333.3 302.2 331.8 305.2 329.7 307.8 327.0 310.1 324.0 311.6 321.0 312.5Z"/>
<path fill-rule="evenodd" fill="#ffa200" d="M318.3 312.2 315.0 311.9 312.0 311.0 309.0 309.3 306.5 307.2 304.4 304.5 302.8 301.5 301.8 298.2 301.5 294.8 301.7 291.5 302.6 288.2 304.0 285.1 306.0 282.3 308.3 280.2 311.3 278.3 314.3 277.3 317.7 276.8 321.0 277.1 324.0 278.0 326.7 279.5 329.3 281.8 331.3 284.4 332.9 287.5 333.9 290.8 334.2 294.2 334.0 297.8 333.1 301.2 331.7 304.2 329.8 306.8 327.3 309.1 324.7 310.7 321.7 311.7 318.3 312.2Z"/>
<path fill-rule="evenodd" fill="#ff8b00" d="M318.3 311.5 315.3 311.3 312.3 310.4 309.4 308.8 307.0 306.8 304.9 304.2 303.3 301.2 302.4 298.2 302.1 294.8 302.3 291.5 303.1 288.5 304.5 285.5 306.4 282.8 309.0 280.5 311.7 278.9 314.7 277.9 317.7 277.5 320.7 277.7 323.7 278.6 326.3 280.1 328.8 282.2 330.9 284.8 332.3 287.7 333.3 290.8 333.6 294.2 333.4 297.5 332.6 300.8 331.2 303.8 329.3 306.4 327.0 308.5 324.3 310.1 321.3 311.1 318.3 311.5Z"/>
<path fill-rule="evenodd" fill="#ff7400" d="M320.7 310.6 317.7 310.8 314.7 310.4 312.0 309.5 309.2 307.8 307.0 305.8 305.1 303.2 303.7 300.2 302.9 297.2 302.7 293.8 303.1 290.8 304.1 287.8 305.7 284.8 307.7 282.5 310.2 280.5 313.0 279.1 316.0 278.3 319.0 278.2 321.7 278.7 324.6 279.8 327.0 281.4 329.0 283.4 330.7 285.8 332.0 288.7 332.8 291.8 333.0 295.2 332.6 298.2 331.7 301.2 330.3 303.9 328.6 306.2 326.3 308.2 323.7 309.6 320.7 310.6Z"/>
<path fill-rule="evenodd" fill="#ff5d00" d="M320.3 309.8 317.3 310.0 314.7 309.6 311.7 308.5 309.3 307.0 307.3 305.1 305.5 302.5 304.3 299.8 303.6 296.8 303.4 293.8 303.8 290.8 304.8 287.8 306.3 285.2 308.3 282.9 310.7 281.1 313.3 279.8 316.0 279.1 319.0 279.0 321.7 279.5 324.3 280.5 326.7 282.1 328.7 284.1 330.3 286.5 331.4 289.2 332.1 292.2 332.3 295.2 331.9 298.2 331.0 301.1 329.7 303.6 327.9 305.8 325.7 307.7 323.0 309.1 320.3 309.8Z"/>
<path fill-rule="evenodd" fill="#ff4600" d="M318.7 309.2 316.0 309.0 313.3 308.3 311.0 307.1 308.7 305.3 306.9 303.2 305.6 300.8 304.7 298.2 304.2 295.2 304.3 292.5 305.0 289.5 306.2 286.8 307.9 284.5 310.0 282.5 312.2 281.2 314.7 280.3 317.3 279.8 320.0 280.0 322.7 280.7 325.0 281.9 327.0 283.5 328.7 285.5 330.2 288.2 331.1 290.8 331.5 293.8 331.4 296.8 330.7 299.8 329.6 302.2 328.0 304.5 326.0 306.4 323.8 307.8 321.3 308.7 318.7 309.2Z"/>
<path fill-rule="evenodd" fill="#ff2e00" d="M319.0 308.2 316.7 308.2 314.0 307.5 311.7 306.5 309.7 305.0 308.0 303.2 306.6 300.8 305.6 298.2 305.1 295.5 305.2 292.8 305.8 290.2 306.7 287.8 308.3 285.5 310.3 283.5 312.3 282.2 314.7 281.2 317.0 280.8 319.7 280.9 322.0 281.5 324.3 282.6 326.3 284.1 328.0 286.1 329.3 288.4 330.2 290.8 330.6 293.5 330.6 296.2 330.0 298.8 329.0 301.4 327.7 303.5 325.7 305.5 323.7 306.8 321.3 307.8 319.0 308.2Z"/>
<path fill-rule="evenodd" fill="#ff1700" d="M320.3 306.9 318.0 307.1 315.7 306.9 313.3 306.1 311.3 304.9 309.4 303.2 308.0 301.3 307.0 299.2 306.3 296.8 306.1 294.2 306.4 291.8 307.1 289.5 308.3 287.2 309.7 285.5 311.7 283.8 313.7 282.8 316.0 282.1 318.3 281.9 320.4 282.2 322.7 283.0 324.7 284.2 326.3 285.7 327.7 287.5 328.7 289.5 329.4 292.2 329.6 294.8 329.4 297.2 328.7 299.5 327.7 301.6 326.3 303.4 324.7 304.9 322.7 306.1 320.3 306.9Z"/>
<path fill-rule="evenodd" fill="#ff0000" d="M319.7 305.6 317.7 305.7 315.7 305.4 313.7 304.7 311.7 303.5 309.0 300.4 308.0 298.2 307.5 296.2 307.7 291.8 308.5 289.5 309.7 287.6 312.7 284.8 314.7 283.9 316.7 283.4 318.7 283.3 320.7 283.7 324.2 285.5 325.7 287.0 326.9 288.8 328.2 292.8 328.1 297.2 327.3 299.4 326.4 301.2 325.0 302.8 323.3 304.1 319.7 305.6Z"/>
<path fill-rule="evenodd" fill="#e80000" d="M320.0 303.5 316.7 303.7 313.3 302.4 310.8 299.8 309.4 296.5 309.3 292.8 310.7 289.4 313.0 286.8 316.3 285.4 319.7 285.4 322.7 286.7 325.0 289.2 326.4 292.5 326.5 296.2 325.3 299.5 323.0 302.1 320.0 303.5Z"/>
<path fill-rule="evenodd" fill="#d10000" d="M319.0 300.2 316.7 300.2 314.7 299.2 313.2 297.5 312.4 295.5 312.5 293.2 313.4 291.2 315.0 289.5 317.0 288.7 319.0 288.8 321.0 289.7 322.6 291.5 323.3 293.5 323.3 295.8 322.5 297.8 321.0 299.4 319.0 300.2Z"/>
</g>
<path fill="none" stroke="#000" stroke-opacity="0.55" stroke-width="0.45" d="M321.3 323.2 316.0 323.3 310.7 322.4 305.7 320.3 301.0 317.2 297.0 313.2 294.0 308.5 291.8 303.2 290.7 297.5 290.6 291.8 291.7 286.2 293.8 280.8 296.8 276.2 300.6 272.2 305.0 269.0 310.0 266.8 315.3 265.7 320.7 265.7 325.7 266.8 330.3 268.9 334.3 271.8 337.5 275.5 340.2 280.2 342.1 285.5 343.2 291.5 343.4 297.5 342.6 303.2 341.1 308.2 338.6 312.8 335.3 316.6 331.3 319.7 326.7 321.9 321.3 323.2"/>
<path fill="none" stroke="#000" stroke-opacity="0.55" stroke-width="0.45" d="M320.7 318.8 316.0 318.9 311.7 318.0 307.3 316.2 303.5 313.5 300.3 310.2 297.8 306.2 296.0 301.5 295.1 296.8 295.1 291.8 296.1 287.2 297.8 282.8 300.3 278.8 303.5 275.5 307.3 272.8 311.7 271.0 316.0 270.1 320.3 270.1 324.7 271.1 328.7 272.9 332.3 275.6 335.2 278.8 337.5 282.8 339.1 287.2 340.0 292.2 340.1 297.2 339.3 301.8 337.8 306.2 335.4 310.2 332.4 313.5 329.0 316.0 325.0 317.8 320.7 318.8"/>
<path fill="none" stroke="#000" stroke-opacity="0.55" stroke-width="0.45" d="M321.3 315.5 317.3 315.8 313.3 315.2 309.7 313.9 306.3 311.8 303.3 308.9 301.0 305.7 299.3 301.8 298.3 297.8 298.1 293.5 298.6 289.5 299.9 285.5 302.0 281.8 304.7 278.6 307.8 276.2 311.3 274.4 315.3 273.4 319.3 273.2 323.0 273.9 326.3 275.2 329.7 277.3 332.5 280.2 334.7 283.4 336.3 287.2 337.2 291.2 337.4 295.5 337.0 299.5 335.8 303.5 334.0 307.0 331.7 309.9 328.7 312.5 325.0 314.5 321.3 315.5"/>
<path fill="none" stroke="#000" stroke-opacity="0.55" stroke-width="0.45" d="M320.0 312.5 316.7 312.6 313.3 311.9 310.0 310.5 307.3 308.6 305.0 306.2 303.1 303.2 301.8 299.8 301.1 296.5 301.1 292.8 301.7 289.5 302.9 286.2 304.7 283.2 307.2 280.5 310.0 278.5 313.0 277.2 316.3 276.4 319.7 276.4 323.0 277.2 326.0 278.5 328.7 280.5 331.0 283.1 332.7 285.8 333.9 289.2 334.5 292.5 334.6 296.2 334.1 299.5 332.9 302.8 331.1 305.8 329.0 308.3 326.3 310.3 323.3 311.7 320.0 312.5"/>
<path fill="none" stroke="#000" stroke-opacity="0.55" stroke-width="0.45" d="M320.7 308.2 318.0 308.5 315.3 308.2 310.7 306.1 308.7 304.3 307.0 302.1 305.7 299.5 305.1 296.8 304.9 293.8 305.2 291.2 307.3 286.4 309.2 284.2 311.3 282.5 316.0 280.7 321.0 280.9 325.6 283.2 329.0 287.2 330.7 292.0 330.6 297.5 328.7 302.5 325.2 306.2 320.7 308.2"/>
</g>
<rect x="417.50" y="86.40" width="12.05" height="12.95" fill="#00008a"/>
<rect x="429.25" y="86.40" width="12.05" height="12.95" fill="#0042ff"/>
<rect x="441.00" y="86.40" width="12.05" height="12.95" fill="#0000fa"/>
<rect x="452.75" y="86.40" width="12.05" height="12.95" fill="#00bdff"/>
<rect x="464.50" y="86.40" width="12.00" height="12.95" fill="#ffe000"/>
<rect x="476.20" y="86.40" width="12.00" height="12.95" fill="#ffff00"/>
<rect x="487.90" y="86.40" width="12.00" height="12.95" fill="#ffd100"/>
<rect x="499.60" y="86.40" width="12.00" height="12.95" fill="#e0ff1f"/>
<rect x="511.30" y="86.40" width="12.00" height="12.95" fill="#42ffbd"/>
<rect x="523.00" y="86.40" width="12.00" height="12.95" fill="#00e5ff"/>
<rect x="534.70" y="86.40" width="12.00" height="12.95" fill="#2effd1"/>
<rect x="546.40" y="86.40" width="12.00" height="12.95" fill="#00e5ff"/>
<rect x="558.10" y="86.40" width="12.10" height="12.95" fill="#ff8f00"/>
<rect x="569.90" y="86.40" width="12.10" height="12.95" fill="#ff2e00"/>
<rect x="581.70" y="86.40" width="12.10" height="12.95" fill="#ffbf00"/>
<rect x="593.50" y="86.40" width="12.10" height="12.95" fill="#ff2e00"/>
<rect x="417.50" y="99.05" width="12.05" height="12.95" fill="#0042ff"/>
<rect x="429.25" y="99.05" width="12.05" height="12.95" fill="#00008a"/>
<rect x="441.00" y="99.05" width="12.05" height="12.95" fill="#0075ff"/>
<rect x="452.75" y="99.05" width="12.05" height="12.95" fill="#0042ff"/>
<rect x="464.50" y="99.05" width="12.00" height="12.95" fill="#ff8f00"/>
<rect x="476.20" y="99.05" width="12.00" height="12.95" fill="#ff8000"/>
<rect x="487.90" y="99.05" width="12.00" height="12.95" fill="#ff6100"/>
<rect x="499.60" y="99.05" width="12.00" height="12.95" fill="#ff9e00"/>
<rect x="511.30" y="99.05" width="12.00" height="12.95" fill="#e0ff1f"/>
<rect x="523.00" y="99.05" width="12.00" height="12.95" fill="#9eff61"/>
<rect x="534.70" y="99.05" width="12.00" height="12.95" fill="#d1ff2e"/>
<rect x="546.40" y="99.05" width="12.00" height="12.95" fill="#9eff61"/>
<rect x="558.10" y="99.05" width="12.10" height="12.95" fill="#ffd100"/>
<rect x="569.90" y="99.05" width="12.10" height="12.95" fill="#ff4c00"/>
<rect x="581.70" y="99.05" width="12.10" height="12.95" fill="#ffff00"/>
<rect x="593.50" y="99.05" width="12.10" height="12.95" fill="#ff4c00"/>
<rect x="417.50" y="111.70" width="12.05" height="12.95" fill="#0000fa"/>
<rect x="429.25" y="111.70" width="12.05" height="12.95" fill="#0075ff"/>
<rect x="441.00" y="111.70" width="12.05" height="12.95" fill="#00008a"/>
<rect x="452.75" y="111.70" width="12.05" height="12.95" fill="#00e5ff"/>
<rect x="464.50" y="111.70" width="12.00" height="12.95" fill="#e0ff1f"/>
<rect x="476.20" y="111.70" width="12.00" height="12.95" fill="#d1ff2e"/>
<rect x="487.90" y="111.70" width="12.00" height="12.95" fill="#f0ff0f"/>
<rect x="499.60" y="111.70" width="12.00" height="12.95" fill="#b3ff4c"/>
<rect x="511.30" y="111.70" width="12.00" height="12.95" fill="#0ffff0"/>
<rect x="523.00" y="111.70" width="12.00" height="12.95" fill="#00d1ff"/>
<rect x="534.70" y="111.70" width="12.00" height="12.95" fill="#00faff"/>
<rect x="546.40" y="111.70" width="12.00" height="12.95" fill="#00c7ff"/>
<rect x="558.10" y="111.70" width="12.10" height="12.95" fill="#ff6100"/>
<rect x="569.90" y="111.70" width="12.10" height="12.95" fill="#ff4200"/>
<rect x="581.70" y="111.70" width="12.10" height="12.95" fill="#ffb300"/>
<rect x="593.50" y="111.70" width="12.10" height="12.95" fill="#ff2e00"/>
<rect x="417.50" y="124.35" width="12.05" height="12.95" fill="#00bdff"/>
<rect x="429.25" y="124.35" width="12.05" height="12.95" fill="#0042ff"/>
<rect x="441.00" y="124.35" width="12.05" height="12.95" fill="#00e5ff"/>
<rect x="452.75" y="124.35" width="12.05" height="12.95" fill="#00008a"/>
<rect x="464.50" y="124.35" width="12.00" height="12.95" fill="#ff4c00"/>
<rect x="476.20" y="124.35" width="12.00" height="12.95" fill="#ff1f00"/>
<rect x="487.90" y="124.35" width="12.00" height="12.95" fill="#ff1f00"/>
<rect x="499.60" y="124.35" width="12.00" height="12.95" fill="#ff2e00"/>
<rect x="511.30" y="124.35" width="12.00" height="12.95" fill="#ffb300"/>
<rect x="523.00" y="124.35" width="12.00" height="12.95" fill="#e0ff1f"/>
<rect x="534.70" y="124.35" width="12.00" height="12.95" fill="#ffbf00"/>
<rect x="546.40" y="124.35" width="12.00" height="12.95" fill="#e0ff1f"/>
<rect x="558.10" y="124.35" width="12.10" height="12.95" fill="#b3ff4c"/>
<rect x="569.90" y="124.35" width="12.10" height="12.95" fill="#ffb300"/>
<rect x="581.70" y="124.35" width="12.10" height="12.95" fill="#b3ff4c"/>
<rect x="593.50" y="124.35" width="12.10" height="12.95" fill="#ff8f00"/>
<rect x="417.50" y="137.00" width="12.05" height="13.15" fill="#ffe000"/>
<rect x="429.25" y="137.00" width="12.05" height="13.15" fill="#ff8f00"/>
<rect x="441.00" y="137.00" width="12.05" height="13.15" fill="#e0ff1f"/>
<rect x="452.75" y="137.00" width="12.05" height="13.15" fill="#ff4c00"/>
<rect x="464.50" y="137.00" width="12.00" height="13.15" fill="#00008a"/>
<rect x="476.20" y="137.00" width="12.00" height="13.15" fill="#42ffbd"/>
<rect x="487.90" y="137.00" width="12.00" height="13.15" fill="#8fff70"/>
<rect x="499.60" y="137.00" width="12.00" height="13.15" fill="#42ffbd"/>
<rect x="511.30" y="137.00" width="12.00" height="13.15" fill="#0ffff0"/>
<rect x="523.00" y="137.00" width="12.00" height="13.15" fill="#009eff"/>
<rect x="534.70" y="137.00" width="12.00" height="13.15" fill="#009eff"/>
<rect x="546.40" y="137.00" width="12.00" height="13.15" fill="#00a8ff"/>
<rect x="558.10" y="137.00" width="12.10" height="13.15" fill="#ff7000"/>
<rect x="569.90" y="137.00" width="12.10" height="13.15" fill="#ffdb00"/>
<rect x="581.70" y="137.00" width="12.10" height="13.15" fill="#ffe500"/>
<rect x="593.50" y="137.00" width="12.10" height="13.15" fill="#ffe000"/>
<rect x="417.50" y="149.85" width="12.05" height="13.15" fill="#ffff00"/>
<rect x="429.25" y="149.85" width="12.05" height="13.15" fill="#ff8000"/>
<rect x="441.00" y="149.85" width="12.05" height="13.15" fill="#d1ff2e"/>
<rect x="452.75" y="149.85" width="12.05" height="13.15" fill="#ff1f00"/>
<rect x="464.50" y="149.85" width="12.00" height="13.15" fill="#42ffbd"/>
<rect x="476.20" y="149.85" width="12.00" height="13.15" fill="#00008a"/>
<rect x="487.90" y="149.85" width="12.00" height="13.15" fill="#0000e6"/>
<rect x="499.60" y="149.85" width="12.00" height="13.15" fill="#0000bd"/>
<rect x="511.30" y="149.85" width="12.00" height="13.15" fill="#0061ff"/>
<rect x="523.00" y="149.85" width="12.00" height="13.15" fill="#61ff9e"/>
<rect x="534.70" y="149.85" width="12.00" height="13.15" fill="#00bdff"/>
<rect x="546.40" y="149.85" width="12.00" height="13.15" fill="#52ffad"/>
<rect x="558.10" y="149.85" width="12.10" height="13.15" fill="#9e0000"/>
<rect x="569.90" y="149.85" width="12.10" height="13.15" fill="#e00000"/>
<rect x="581.70" y="149.85" width="12.10" height="13.15" fill="#e00000"/>
<rect x="593.50" y="149.85" width="12.10" height="13.15" fill="#f00000"/>
<rect x="417.50" y="162.70" width="12.05" height="13.15" fill="#ffd100"/>
<rect x="429.25" y="162.70" width="12.05" height="13.15" fill="#ff6100"/>
<rect x="441.00" y="162.70" width="12.05" height="13.15" fill="#f0ff0f"/>
<rect x="452.75" y="162.70" width="12.05" height="13.15" fill="#ff1f00"/>
<rect x="464.50" y="162.70" width="12.00" height="13.15" fill="#8fff70"/>
<rect x="476.20" y="162.70" width="12.00" height="13.15" fill="#0000e6"/>
<rect x="487.90" y="162.70" width="12.00" height="13.15" fill="#00008a"/>
<rect x="499.60" y="162.70" width="12.00" height="13.15" fill="#0000d1"/>
<rect x="511.30" y="162.70" width="12.00" height="13.15" fill="#0080ff"/>
<rect x="523.00" y="162.70" width="12.00" height="13.15" fill="#b3ff4c"/>
<rect x="534.70" y="162.70" width="12.00" height="13.15" fill="#00f0ff"/>
<rect x="546.40" y="162.70" width="12.00" height="13.15" fill="#8fff70"/>
<rect x="558.10" y="162.70" width="12.10" height="13.15" fill="#9e0000"/>
<rect x="569.90" y="162.70" width="12.10" height="13.15" fill="#d10000"/>
<rect x="581.70" y="162.70" width="12.10" height="13.15" fill="#bd0000"/>
<rect x="593.50" y="162.70" width="12.10" height="13.15" fill="#e50000"/>
<rect x="417.50" y="175.55" width="12.05" height="13.15" fill="#e0ff1f"/>
<rect x="429.25" y="175.55" width="12.05" height="13.15" fill="#ff9e00"/>
<rect x="441.00" y="175.55" width="12.05" height="13.15" fill="#b3ff4c"/>
<rect x="452.75" y="175.55" width="12.05" height="13.15" fill="#ff2e00"/>
<rect x="464.50" y="175.55" width="12.00" height="13.15" fill="#42ffbd"/>
<rect x="476.20" y="175.55" width="12.00" height="13.15" fill="#0000bd"/>
<rect x="487.90" y="175.55" width="12.00" height="13.15" fill="#0000d1"/>
<rect x="499.60" y="175.55" width="12.00" height="13.15" fill="#00008a"/>
<rect x="511.30" y="175.55" width="12.00" height="13.15" fill="#0061ff"/>
<rect x="523.00" y="175.55" width="12.00" height="13.15" fill="#61ff9e"/>
<rect x="534.70" y="175.55" width="12.00" height="13.15" fill="#00a8ff"/>
<rect x="546.40" y="175.55" width="12.00" height="13.15" fill="#61ff9e"/>
<rect x="558.10" y="175.55" width="12.10" height="13.15" fill="#a80000"/>
<rect x="569.90" y="175.55" width="12.10" height="13.15" fill="#e00000"/>
<rect x="581.70" y="175.55" width="12.10" height="13.15" fill="#f00000"/>
<rect x="593.50" y="175.55" width="12.10" height="13.15" fill="#fa0000"/>
<rect x="417.50" y="188.40" width="12.05" height="13.08" fill="#42ffbd"/>
<rect x="429.25" y="188.40" width="12.05" height="13.08" fill="#e0ff1f"/>
<rect x="441.00" y="188.40" width="12.05" height="13.08" fill="#0ffff0"/>
<rect x="452.75" y="188.40" width="12.05" height="13.08" fill="#ffb300"/>
<rect x="464.50" y="188.40" width="12.00" height="13.08" fill="#0ffff0"/>
<rect x="476.20" y="188.40" width="12.00" height="13.08" fill="#0061ff"/>
<rect x="487.90" y="188.40" width="12.00" height="13.08" fill="#0080ff"/>
<rect x="499.60" y="188.40" width="12.00" height="13.08" fill="#0061ff"/>
<rect x="511.30" y="188.40" width="12.00" height="13.08" fill="#00008a"/>
<rect x="523.00" y="188.40" width="12.00" height="13.08" fill="#00b8ff"/>
<rect x="534.70" y="188.40" width="12.00" height="13.08" fill="#0057ff"/>
<rect x="546.40" y="188.40" width="12.00" height="13.08" fill="#00b8ff"/>
<rect x="558.10" y="188.40" width="12.10" height="13.08" fill="#d10000"/>
<rect x="569.90" y="188.40" width="12.10" height="13.08" fill="#f00000"/>
<rect x="581.70" y="188.40" width="12.10" height="13.08" fill="#ff2e00"/>
<rect x="593.50" y="188.40" width="12.10" height="13.08" fill="#fa0000"/>
<rect x="417.50" y="201.18" width="12.05" height="13.07" fill="#00e5ff"/>
<rect x="429.25" y="201.18" width="12.05" height="13.07" fill="#9eff61"/>
<rect x="441.00" y="201.18" width="12.05" height="13.07" fill="#00d1ff"/>
<rect x="452.75" y="201.18" width="12.05" height="13.07" fill="#e0ff1f"/>
<rect x="464.50" y="201.18" width="12.00" height="13.07" fill="#009eff"/>
<rect x="476.20" y="201.18" width="12.00" height="13.07" fill="#61ff9e"/>
<rect x="487.90" y="201.18" width="12.00" height="13.07" fill="#b3ff4c"/>
<rect x="499.60" y="201.18" width="12.00" height="13.07" fill="#61ff9e"/>
<rect x="511.30" y="201.18" width="12.00" height="13.07" fill="#00b8ff"/>
<rect x="523.00" y="201.18" width="12.00" height="13.07" fill="#00008a"/>
<rect x="534.70" y="201.18" width="12.00" height="13.07" fill="#004dff"/>
<rect x="546.40" y="201.18" width="12.00" height="13.07" fill="#0000bd"/>
<rect x="558.10" y="201.18" width="12.10" height="13.07" fill="#ff8f00"/>
<rect x="569.90" y="201.18" width="12.10" height="13.07" fill="#ffb800"/>
<rect x="581.70" y="201.18" width="12.10" height="13.07" fill="#e0ff1f"/>
<rect x="593.50" y="201.18" width="12.10" height="13.07" fill="#ffbf00"/>
<rect x="417.50" y="213.95" width="12.05" height="13.08" fill="#2effd1"/>
<rect x="429.25" y="213.95" width="12.05" height="13.08" fill="#d1ff2e"/>
<rect x="441.00" y="213.95" width="12.05" height="13.08" fill="#00faff"/>
<rect x="452.75" y="213.95" width="12.05" height="13.08" fill="#ffbf00"/>
<rect x="464.50" y="213.95" width="12.00" height="13.08" fill="#009eff"/>
<rect x="476.20" y="213.95" width="12.00" height="13.08" fill="#00bdff"/>
<rect x="487.90" y="213.95" width="12.00" height="13.08" fill="#00f0ff"/>
<rect x="499.60" y="213.95" width="12.00" height="13.08" fill="#00a8ff"/>
<rect x="511.30" y="213.95" width="12.00" height="13.08" fill="#0057ff"/>
<rect x="523.00" y="213.95" width="12.00" height="13.08" fill="#004dff"/>
<rect x="534.70" y="213.95" width="12.00" height="13.08" fill="#00008a"/>
<rect x="546.40" y="213.95" width="12.00" height="13.08" fill="#0042ff"/>
<rect x="558.10" y="213.95" width="12.10" height="13.08" fill="#ff4200"/>
<rect x="569.90" y="213.95" width="12.10" height="13.08" fill="#ff7000"/>
<rect x="581.70" y="213.95" width="12.10" height="13.08" fill="#ff9e00"/>
<rect x="593.50" y="213.95" width="12.10" height="13.08" fill="#ff8a00"/>
<rect x="417.50" y="226.72" width="12.05" height="13.08" fill="#00e5ff"/>
<rect x="429.25" y="226.72" width="12.05" height="13.08" fill="#9eff61"/>
<rect x="441.00" y="226.72" width="12.05" height="13.08" fill="#00c7ff"/>
<rect x="452.75" y="226.72" width="12.05" height="13.08" fill="#e0ff1f"/>
<rect x="464.50" y="226.72" width="12.00" height="13.08" fill="#00a8ff"/>
<rect x="476.20" y="226.72" width="12.00" height="13.08" fill="#52ffad"/>
<rect x="487.90" y="226.72" width="12.00" height="13.08" fill="#8fff70"/>
<rect x="499.60" y="226.72" width="12.00" height="13.08" fill="#61ff9e"/>
<rect x="511.30" y="226.72" width="12.00" height="13.08" fill="#00b8ff"/>
<rect x="523.00" y="226.72" width="12.00" height="13.08" fill="#0000bd"/>
<rect x="534.70" y="226.72" width="12.00" height="13.08" fill="#0042ff"/>
<rect x="546.40" y="226.72" width="12.00" height="13.08" fill="#00008a"/>
<rect x="558.10" y="226.72" width="12.10" height="13.08" fill="#ff8f00"/>
<rect x="569.90" y="226.72" width="12.10" height="13.08" fill="#ffb800"/>
<rect x="581.70" y="226.72" width="12.10" height="13.08" fill="#ffff00"/>
<rect x="593.50" y="226.72" width="12.10" height="13.08" fill="#ffbf00"/>
<rect x="417.50" y="239.50" width="12.05" height="13.05" fill="#ff8f00"/>
<rect x="429.25" y="239.50" width="12.05" height="13.05" fill="#ffd100"/>
<rect x="441.00" y="239.50" width="12.05" height="13.05" fill="#ff6100"/>
<rect x="452.75" y="239.50" width="12.05" height="13.05" fill="#b3ff4c"/>
<rect x="464.50" y="239.50" width="12.00" height="13.05" fill="#ff7000"/>
<rect x="476.20" y="239.50" width="12.00" height="13.05" fill="#9e0000"/>
<rect x="487.90" y="239.50" width="12.00" height="13.05" fill="#9e0000"/>
<rect x="499.60" y="239.50" width="12.00" height="13.05" fill="#a80000"/>
<rect x="511.30" y="239.50" width="12.00" height="13.05" fill="#d10000"/>
<rect x="523.00" y="239.50" width="12.00" height="13.05" fill="#ff8f00"/>
<rect x="534.70" y="239.50" width="12.00" height="13.05" fill="#ff4200"/>
<rect x="546.40" y="239.50" width="12.00" height="13.05" fill="#ff8f00"/>
<rect x="558.10" y="239.50" width="12.10" height="13.05" fill="#00008a"/>
<rect x="569.90" y="239.50" width="12.10" height="13.05" fill="#008fff"/>
<rect x="581.70" y="239.50" width="12.10" height="13.05" fill="#0070ff"/>
<rect x="593.50" y="239.50" width="12.10" height="13.05" fill="#00bdff"/>
<rect x="417.50" y="252.25" width="12.05" height="13.05" fill="#ff2e00"/>
<rect x="429.25" y="252.25" width="12.05" height="13.05" fill="#ff4c00"/>
<rect x="441.00" y="252.25" width="12.05" height="13.05" fill="#ff4200"/>
<rect x="452.75" y="252.25" width="12.05" height="13.05" fill="#ffb300"/>
<rect x="464.50" y="252.25" width="12.00" height="13.05" fill="#ffdb00"/>
<rect x="476.20" y="252.25" width="12.00" height="13.05" fill="#e00000"/>
<rect x="487.90" y="252.25" width="12.00" height="13.05" fill="#d10000"/>
<rect x="499.60" y="252.25" width="12.00" height="13.05" fill="#e00000"/>
<rect x="511.30" y="252.25" width="12.00" height="13.05" fill="#f00000"/>
<rect x="523.00" y="252.25" width="12.00" height="13.05" fill="#ffb800"/>
<rect x="534.70" y="252.25" width="12.00" height="13.05" fill="#ff7000"/>
<rect x="546.40" y="252.25" width="12.00" height="13.05" fill="#ffb800"/>
<rect x="558.10" y="252.25" width="12.10" height="13.05" fill="#008fff"/>
<rect x="569.90" y="252.25" width="12.10" height="13.05" fill="#00008a"/>
<rect x="581.70" y="252.25" width="12.10" height="13.05" fill="#0070ff"/>
<rect x="593.50" y="252.25" width="12.10" height="13.05" fill="#0000e6"/>
<rect x="417.50" y="265.00" width="12.05" height="13.05" fill="#ffbf00"/>
<rect x="429.25" y="265.00" width="12.05" height="13.05" fill="#ffff00"/>
<rect x="441.00" y="265.00" width="12.05" height="13.05" fill="#ffb300"/>
<rect x="452.75" y="265.00" width="12.05" height="13.05" fill="#b3ff4c"/>
<rect x="464.50" y="265.00" width="12.00" height="13.05" fill="#ffe500"/>
<rect x="476.20" y="265.00" width="12.00" height="13.05" fill="#e00000"/>
<rect x="487.90" y="265.00" width="12.00" height="13.05" fill="#bd0000"/>
<rect x="499.60" y="265.00" width="12.00" height="13.05" fill="#f00000"/>
<rect x="511.30" y="265.00" width="12.00" height="13.05" fill="#ff2e00"/>
<rect x="523.00" y="265.00" width="12.00" height="13.05" fill="#e0ff1f"/>
<rect x="534.70" y="265.00" width="12.00" height="13.05" fill="#ff9e00"/>
<rect x="546.40" y="265.00" width="12.00" height="13.05" fill="#ffff00"/>
<rect x="558.10" y="265.00" width="12.10" height="13.05" fill="#0070ff"/>
<rect x="569.90" y="265.00" width="12.10" height="13.05" fill="#0070ff"/>
<rect x="581.70" y="265.00" width="12.10" height="13.05" fill="#00008a"/>
<rect x="593.50" y="265.00" width="12.10" height="13.05" fill="#008fff"/>
<rect x="417.50" y="277.75" width="12.05" height="13.05" fill="#ff2e00"/>
<rect x="429.25" y="277.75" width="12.05" height="13.05" fill="#ff4c00"/>
<rect x="441.00" y="277.75" width="12.05" height="13.05" fill="#ff2e00"/>
<rect x="452.75" y="277.75" width="12.05" height="13.05" fill="#ff8f00"/>
<rect x="464.50" y="277.75" width="12.00" height="13.05" fill="#ffe000"/>
<rect x="476.20" y="277.75" width="12.00" height="13.05" fill="#f00000"/>
<rect x="487.90" y="277.75" width="12.00" height="13.05" fill="#e50000"/>
<rect x="499.60" y="277.75" width="12.00" height="13.05" fill="#fa0000"/>
<rect x="511.30" y="277.75" width="12.00" height="13.05" fill="#fa0000"/>
<rect x="523.00" y="277.75" width="12.00" height="13.05" fill="#ffbf00"/>
<rect x="534.70" y="277.75" width="12.00" height="13.05" fill="#ff8a00"/>
<rect x="546.40" y="277.75" width="12.00" height="13.05" fill="#ffbf00"/>
<rect x="558.10" y="277.75" width="12.10" height="13.05" fill="#00bdff"/>
<rect x="569.90" y="277.75" width="12.10" height="13.05" fill="#0000e6"/>
<rect x="581.70" y="277.75" width="12.10" height="13.05" fill="#008fff"/>
<rect x="593.50" y="277.75" width="12.10" height="13.05" fill="#00008a"/>
<path d="M435.12 86.9v1.6" stroke="#000" stroke-opacity="0.7" stroke-width="0.8"/>
<path d="M418 105.38h1.6" stroke="#000" stroke-opacity="0.7" stroke-width="0.8"/>
<path d="M458.62 86.9v1.6" stroke="#000" stroke-opacity="0.7" stroke-width="0.8"/>
<path d="M418 130.68h1.6" stroke="#000" stroke-opacity="0.7" stroke-width="0.8"/>
<path d="M482.05 86.9v1.6" stroke="#000" stroke-opacity="0.7" stroke-width="0.8"/>
<path d="M418 156.28h1.6" stroke="#000" stroke-opacity="0.7" stroke-width="0.8"/>
<path d="M505.45 86.9v1.6" stroke="#000" stroke-opacity="0.7" stroke-width="0.8"/>
<path d="M418 181.98h1.6" stroke="#000" stroke-opacity="0.7" stroke-width="0.8"/>
<path d="M528.85 86.9v1.6" stroke="#000" stroke-opacity="0.7" stroke-width="0.8"/>
<path d="M418 207.56h1.6" stroke="#000" stroke-opacity="0.7" stroke-width="0.8"/>
<path d="M552.25 86.9v1.6" stroke="#000" stroke-opacity="0.7" stroke-width="0.8"/>
<path d="M418 233.11h1.6" stroke="#000" stroke-opacity="0.7" stroke-width="0.8"/>
<path d="M575.80 86.9v1.6" stroke="#000" stroke-opacity="0.7" stroke-width="0.8"/>
<path d="M418 258.62h1.6" stroke="#000" stroke-opacity="0.7" stroke-width="0.8"/>
<path d="M599.40 86.9v1.6" stroke="#000" stroke-opacity="0.7" stroke-width="0.8"/>
<path d="M418 284.12h1.6" stroke="#000" stroke-opacity="0.7" stroke-width="0.8"/>
<line x1="417.5" y1="50.6" x2="417.5" y2="291.0" stroke="#000" stroke-width="1.05"/>
<line x1="464.5" y1="50.6" x2="464.5" y2="291.0" stroke="#000" stroke-width="1.05"/>
<line x1="511.3" y1="50.6" x2="511.3" y2="291.0" stroke="#000" stroke-width="1.05"/>
<line x1="558.1" y1="50.6" x2="558.1" y2="291.0" stroke="#000" stroke-width="1.05"/>
<line x1="605.3" y1="50.6" x2="605.3" y2="291.0" stroke="#000" stroke-width="1.05"/>
<line x1="377.6" y1="86.4" x2="605.8" y2="86.4" stroke="#000" stroke-width="1.05"/>
<line x1="377.6" y1="137.0" x2="605.8" y2="137.0" stroke="#000" stroke-width="1.05"/>
<line x1="377.6" y1="188.4" x2="605.8" y2="188.4" stroke="#000" stroke-width="1.05"/>
<line x1="377.6" y1="239.5" x2="605.8" y2="239.5" stroke="#000" stroke-width="1.05"/>
<line x1="377.6" y1="290.5" x2="605.8" y2="290.5" stroke="#000" stroke-width="1.05"/>
<rect x="628.2" y="114" width="8.8" height="151.8" fill="url(#cb)" stroke="#000" stroke-opacity="0.35" stroke-width="0.8"/><path d="M628.6 121.4h1.6M636.6 121.4h-1.6" stroke="#000" stroke-opacity="0.6" stroke-width="0.9"/><path d="M628.6 137.5h1.6M636.6 137.5h-1.6" stroke="#000" stroke-opacity="0.6" stroke-width="0.9"/><path d="M628.6 153.5h1.6M636.6 153.5h-1.6" stroke="#000" stroke-opacity="0.6" stroke-width="0.9"/><path d="M628.6 169.6h1.6M636.6 169.6h-1.6" stroke="#000" stroke-opacity="0.6" stroke-width="0.9"/><path d="M628.6 185.6h1.6M636.6 185.6h-1.6" stroke="#000" stroke-opacity="0.6" stroke-width="0.9"/><path d="M628.6 201.7h1.6M636.6 201.7h-1.6" stroke="#000" stroke-opacity="0.6" stroke-width="0.9"/><path d="M628.6 217.7h1.6M636.6 217.7h-1.6" stroke="#000" stroke-opacity="0.6" stroke-width="0.9"/><path d="M628.6 233.8h1.6M636.6 233.8h-1.6" stroke="#000" stroke-opacity="0.6" stroke-width="0.9"/><path d="M628.6 249.8h1.6M636.6 249.8h-1.6" stroke="#000" stroke-opacity="0.6" stroke-width="0.9"/>
</svg>
<div class="t" style="left:71.88px;top:-2.09px;font-size:17.00px;color:#000;">A</div>
<div class="t" style="left:152.97px;top:-2.09px;font-size:17.00px;color:#000;">B</div>
<div class="t" style="left:233.40px;top:-2.09px;font-size:17.00px;color:#000;">C</div>
<div class="t" style="left:313.65px;top:-2.09px;font-size:17.00px;color:#000;">D</div>
<div class="t" style="left:7.88px;top:53.71px;font-size:17.00px;color:#000;">L</div>
<div class="t" style="left:1.10px;top:128.31px;font-size:17.00px;color:#000;">ML</div>
<div class="t" style="left:-1.12px;top:203.81px;font-size:17.00px;color:#000;">MH</div>
<div class="t" style="left:6.35px;top:278.21px;font-size:17.00px;color:#000;">H</div>
<div class="t" style="left:435.60px;top:52.53px;font-size:16.50px;color:#000;">A</div>
<div class="t" style="left:483.55px;top:52.53px;font-size:16.50px;color:#000;">B</div>
<div class="t" style="left:529.20px;top:52.53px;font-size:16.50px;color:#000;">C</div>
<div class="t" style="left:577.20px;top:52.53px;font-size:16.50px;color:#000;">D</div>
<div class="t" style="left:420.38px;top:76.23px;font-size:8.00px;color:#111;">L</div>
<div class="t" style="left:429.15px;top:76.23px;font-size:8.00px;color:#111;">ML</div>
<div class="t" style="left:439.77px;top:76.23px;font-size:8.00px;color:#111;">MH</div>
<div class="t" style="left:455.60px;top:76.23px;font-size:8.00px;color:#111;">H</div>
<div class="t" style="left:467.38px;top:76.23px;font-size:8.00px;color:#111;">L</div>
<div class="t" style="left:476.15px;top:76.23px;font-size:8.00px;color:#111;">ML</div>
<div class="t" style="left:486.77px;top:76.23px;font-size:8.00px;color:#111;">MH</div>
<div class="t" style="left:502.60px;top:76.23px;font-size:8.00px;color:#111;">H</div>
<div class="t" style="left:514.18px;top:76.23px;font-size:8.00px;color:#111;">L</div>
<div class="t" style="left:522.95px;top:76.23px;font-size:8.00px;color:#111;">ML</div>
<div class="t" style="left:533.57px;top:76.23px;font-size:8.00px;color:#111;">MH</div>
<div class="t" style="left:549.40px;top:76.23px;font-size:8.00px;color:#111;">H</div>
<div class="t" style="left:560.98px;top:76.23px;font-size:8.00px;color:#111;">L</div>
<div class="t" style="left:569.75px;top:76.23px;font-size:8.00px;color:#111;">ML</div>
<div class="t" style="left:580.38px;top:76.23px;font-size:8.00px;color:#111;">MH</div>
<div class="t" style="left:596.20px;top:76.23px;font-size:8.00px;color:#111;">H</div>
<div class="t" style="left:381.50px;top:103.28px;font-size:16.50px;color:#000;">A</div>
<div class="t" style="left:381.50px;top:154.18px;font-size:16.50px;color:#000;">B</div>
<div class="t" style="left:381.05px;top:206.83px;font-size:16.50px;color:#000;">C</div>
<div class="t" style="left:381.05px;top:257.18px;font-size:16.50px;color:#000;">D</div>
<div class="t" style="left:410.05px;top:88.93px;font-size:8.00px;color:#111">L</div>
<div class="t" style="left:403.40px;top:101.58px;font-size:8.00px;color:#111">ML</div>
<div class="t" style="left:402.05px;top:114.23px;font-size:8.00px;color:#111">MH</div>
<div class="t" style="left:408.70px;top:126.88px;font-size:8.00px;color:#111">H</div>
<div class="t" style="left:410.05px;top:139.53px;font-size:8.00px;color:#111">L</div>
<div class="t" style="left:403.40px;top:152.38px;font-size:8.00px;color:#111">ML</div>
<div class="t" style="left:402.05px;top:165.23px;font-size:8.00px;color:#111">MH</div>
<div class="t" style="left:408.70px;top:178.08px;font-size:8.00px;color:#111">H</div>
<div class="t" style="left:410.05px;top:190.93px;font-size:8.00px;color:#111">L</div>
<div class="t" style="left:403.40px;top:203.70px;font-size:8.00px;color:#111">ML</div>
<div class="t" style="left:402.05px;top:216.48px;font-size:8.00px;color:#111">MH</div>
<div class="t" style="left:408.70px;top:229.25px;font-size:8.00px;color:#111">H</div>
<div class="t" style="left:410.05px;top:242.03px;font-size:8.00px;color:#111">L</div>
<div class="t" style="left:403.40px;top:254.78px;font-size:8.00px;color:#111">ML</div>
<div class="t" style="left:402.05px;top:267.53px;font-size:8.00px;color:#111">MH</div>
<div class="t" style="left:408.70px;top:280.28px;font-size:8.00px;color:#111">H</div>
<div class="t" style="left:640.90px;top:116.71px;font-size:10.50px;color:#000">1.8</div>
<div class="t" style="left:639.70px;top:259.01px;font-size:10.50px;color:#000">0.0</div>
<div class="t" style="left:658.27px;top:159.90px;font-size:11.30px;transform-origin:0 0;transform:rotate(90deg);">Dissimilarity</div>
</body></html>
